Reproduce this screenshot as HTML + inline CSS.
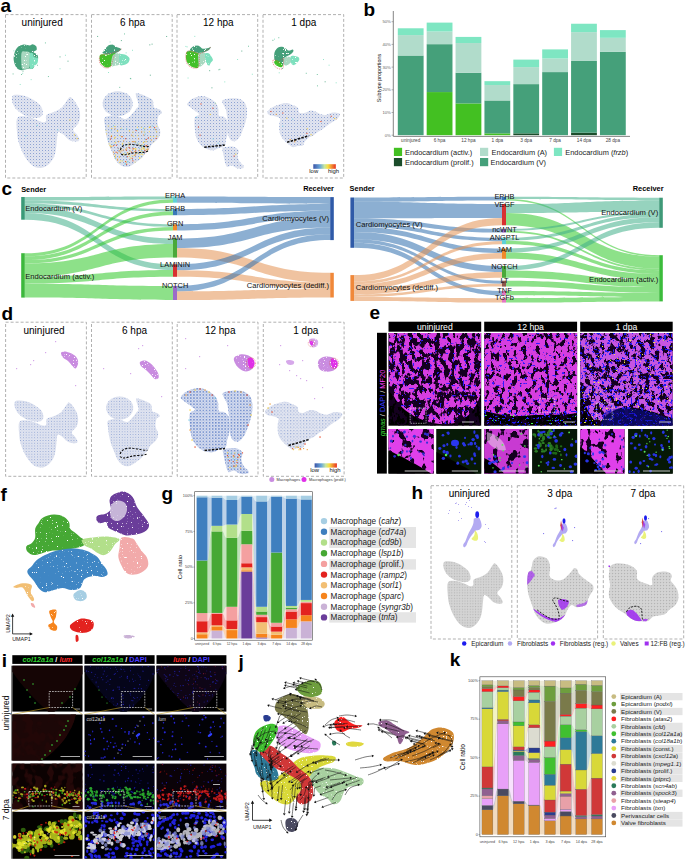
<!DOCTYPE html>
<html><head><meta charset="utf-8"><title>Figure</title>
<style>
html,body{margin:0;padding:0;background:#fff;}
body{width:685px;height:861px;overflow:hidden;}
svg{display:block;font-family:"Liberation Sans",sans-serif;}
</style></head><body>
<svg width="685" height="861" viewBox="0 0 685 861">
<defs><filter id="speck2" x="-5%" y="-5%" width="110%" height="110%" color-interpolation-filters="sRGB"><feTurbulence type="fractalNoise" baseFrequency="0.9" numOctaves="1" seed="9" result="n"/><feColorMatrix in="n" type="matrix" values="0 0 0 0 0  0 0 0 0 0  0 0 0 0 0  -14 0 0 0 10.1" result="m"/><feComposite in="SourceGraphic" in2="m" operator="in"/></filter>
<pattern id="hb" width="3" height="3" patternUnits="userSpaceOnUse"><rect width="3" height="3" fill="#e0e4f0"/><rect width="1" height="1" fill="#8ea2d2"/><rect x="1.5" y="1.5" width="0.8" height="0.8" fill="#bec8e2"/></pattern>
<pattern id="hb6" width="3" height="3" patternUnits="userSpaceOnUse"><rect width="3" height="3" fill="#dde2ee"/><rect width="1.1" height="1.1" fill="#86a0d4"/><rect x="1.5" y="1.5" width="0.8" height="0.8" fill="#bec8e2"/></pattern>
<pattern id="hg" width="3" height="3" patternUnits="userSpaceOnUse"><rect width="3" height="3" fill="#d2d2d2"/><rect width="1.1" height="1.1" fill="#b4b4b4"/><rect x="1.5" y="1.5" width="0.8" height="0.8" fill="#e2e2e2"/></pattern>
<linearGradient id="cbar"><stop offset="0" stop-color="#3b55a8"/><stop offset="0.3" stop-color="#6aa8d8"/><stop offset="0.5" stop-color="#c8e8a0"/><stop offset="0.65" stop-color="#f8e040"/><stop offset="1" stop-color="#e83020"/></linearGradient>
<clipPath id="clipU"><path d="M12.4,96.2 C13.03,94.92 14.12,94.75 16.2,94.7 C18.28,94.65 22.02,95.03 24.9,95.9 C27.78,96.77 30.92,98.3 33.5,99.9 C36.08,101.5 38.85,103.53 40.4,105.5 C41.95,107.47 42.6,109.95 42.8,111.7 C43,113.45 42.73,114.97 41.6,116 C40.47,117.03 38.78,118 36,117.9 C33.22,117.8 28.1,116.75 24.9,115.4 C21.7,114.05 18.88,111.97 16.8,109.8 C14.72,107.63 13.13,104.67 12.4,102.4 C11.67,100.13 11.77,97.48 12.4,96.2Z"/><path d="M17.4,117.9 C18.95,115.72 23.2,116.4 26.1,116.6 C29,116.8 32.12,118.17 34.8,119.1 C37.48,120.03 40.35,121.88 42.2,122.2 C44.05,122.52 45.17,122.23 45.9,121 C46.63,119.77 45.15,116.35 46.6,114.8 C48.05,113.25 52.02,112.95 54.6,111.7 C57.18,110.45 59.82,109.48 62.1,107.3 C64.38,105.12 66.85,100.28 68.3,98.6 C69.75,96.92 69.77,96.78 70.8,97.2 C71.83,97.62 73.17,99.2 74.5,101.1 C75.83,103 77.87,106.12 78.8,108.6 C79.73,111.08 80.2,113.52 80.1,116 C80,118.48 79.35,121.22 78.2,123.5 C77.05,125.78 73.4,127.85 73.2,129.7 C73,131.55 75.97,132.95 77,134.6 C78.03,136.25 79.4,138.45 79.4,139.6 C79.4,140.75 78.65,141.4 77,141.5 C75.35,141.6 71.78,141.35 69.5,140.2 C67.22,139.05 65.17,135.95 63.3,134.6 C61.43,133.25 59.33,131.48 58.3,132.1 C57.27,132.72 57.5,135.4 57.1,138.3 C56.7,141.2 56.52,146.18 55.9,149.5 C55.28,152.82 54.85,155.52 53.4,158.2 C51.95,160.88 49.48,163.95 47.2,165.6 C44.92,167.25 42.38,168.3 39.7,168.1 C37.02,167.9 33.78,166.67 31.1,164.4 C28.42,162.13 25.68,158.22 23.6,154.5 C21.52,150.78 19.73,146.23 18.6,142.1 C17.47,137.97 17,133.73 16.8,129.7 C16.6,125.67 15.85,120.08 17.4,117.9Z"/></clipPath>
<clipPath id="clip6"><ellipse cx="117.7" cy="103.7" rx="15" ry="12.5"/><path d="M104.8,117.7 C106.57,116.15 111.88,115.2 115.4,115.4 C118.92,115.6 122.98,119.3 125.9,118.9 C128.82,118.5 131.15,114.75 132.9,113 C134.65,111.25 135.43,109.75 136.4,108.4 C137.37,107.05 138.8,107.33 138.7,104.9 C138.6,102.47 135.4,95.57 135.8,93.8 C136.2,92.03 139.25,93.82 141.1,94.3 C142.95,94.78 144.97,95.72 146.9,96.7 C148.83,97.68 151.53,98.45 152.7,100.2 C153.87,101.95 152.73,105.65 153.9,107.2 C155.07,108.75 158.33,108.53 159.7,109.5 C161.07,110.47 162.28,112.02 162.1,113 C161.92,113.98 159.38,113.65 158.6,115.4 C157.82,117.15 157.12,120.78 157.4,123.5 C157.68,126.22 160.2,129.17 160.3,131.7 C160.4,134.23 159.45,136.55 158,138.7 C156.55,140.85 153.07,142.85 151.6,144.6 C150.13,146.35 150.18,147.85 149.2,149.2 C148.22,150.55 147.05,151.13 145.7,152.7 C144.35,154.27 143.23,156.65 141.1,158.6 C138.97,160.55 135.25,163.03 132.9,164.4 C130.55,165.77 128.95,166.6 127,166.8 C125.05,167 123.13,166.78 121.2,165.6 C119.27,164.42 116.95,162.03 115.4,159.7 C113.85,157.37 113.07,154.32 111.9,151.6 C110.73,148.88 109.38,146.33 108.4,143.4 C107.42,140.47 106.6,137.12 106,134 C105.4,130.88 105,127.42 104.8,124.7 C104.6,121.98 103.03,119.25 104.8,117.7Z"/></clipPath>
<clipPath id="clip12"><path d="M187.3,103.7 C187.88,102.53 189.65,100.27 192,99 C194.35,97.73 198.67,96.3 201.4,96.1 C204.13,95.9 206.07,96.73 208.4,97.8 C210.73,98.87 213.75,100.73 215.4,102.5 C217.05,104.27 217.72,106.25 218.3,108.4 C218.88,110.55 218.03,114.05 218.9,115.4 C219.77,116.75 222.15,115.73 223.5,116.5 C224.85,117.27 226.22,118.25 227,120 C227.78,121.75 228.1,124.67 228.2,127 C228.3,129.33 227.98,131.85 227.6,134 C227.22,136.15 226.38,137.95 225.9,139.9 C225.42,141.85 225.87,144.33 224.7,145.7 C223.53,147.07 220.85,147.32 218.9,148.1 C216.95,148.88 214.95,150.22 213,150.4 C211.05,150.58 209.13,149.98 207.2,149.2 C205.27,148.42 203.15,147.45 201.4,145.7 C199.65,143.95 197.78,141.42 196.7,138.7 C195.62,135.98 195.28,132.52 194.9,129.4 C194.52,126.28 194.3,122.15 194.4,120 C194.5,117.85 194.73,117.47 195.5,116.5 C196.27,115.53 199.38,115.37 199,114.2 C198.62,113.03 194.95,110.87 193.2,109.5 C191.45,108.13 189.48,106.97 188.5,106 C187.52,105.03 186.72,104.87 187.3,103.7Z"/><path d="M222.4,100.2 C223.47,99.32 226.68,98.63 229.4,98.4 C232.12,98.17 236.17,98.12 238.7,98.8 C241.23,99.48 243.23,100.72 244.6,102.5 C245.97,104.28 246.62,106.77 246.9,109.5 C247.18,112.23 246.88,115.78 246.3,118.9 C245.72,122.02 244.47,125.28 243.4,128.2 C242.33,131.12 241.27,134.25 239.9,136.4 C238.53,138.55 236.75,140.52 235.2,141.1 C233.65,141.68 231.77,141.08 230.6,139.9 C229.43,138.72 228.6,136.53 228.2,134 C227.8,131.47 228.4,127.62 228.2,124.7 C228,121.78 227.38,119.03 227,116.5 C226.62,113.97 226.57,111.63 225.9,109.5 C225.23,107.37 223.58,105.25 223,103.7 C222.42,102.15 221.33,101.08 222.4,100.2Z"/><path d="M222.4,148.1 C222.98,146.73 225.05,147.1 227,146.9 C228.95,146.7 232.15,146.32 234.1,146.9 C236.05,147.48 238.12,148.85 238.7,150.4 C239.28,151.95 237.4,154.25 237.6,156.2 C237.8,158.15 238.93,160.53 239.9,162.1 C240.87,163.67 242.82,164.63 243.4,165.6 C243.98,166.57 244.37,167.42 243.4,167.9 C242.43,168.38 239.55,168.88 237.6,168.5 C235.65,168.12 233.47,165.88 231.7,165.6 C229.93,165.32 228.17,167.58 227,166.8 C225.83,166.02 225.28,162.85 224.7,160.9 C224.12,158.95 223.88,157.23 223.5,155.1 C223.12,152.97 221.82,149.47 222.4,148.1Z"/></clipPath>
<clipPath id="clip1"><path d="M267.4,111.9 C267.8,110.7 269.5,108.98 271.6,107.7 C273.7,106.42 277.42,104.98 280,104.2 C282.58,103.42 284.92,102.82 287.1,103 C289.28,103.18 291.3,104.52 293.1,105.3 C294.9,106.08 296.9,106.5 297.9,107.7 C298.9,108.9 298.1,111.6 299.1,112.5 C300.1,113.4 302.1,113.4 303.9,113.1 C305.7,112.8 308.1,111 309.9,110.7 C311.7,110.4 313.1,110.8 314.7,111.3 C316.3,111.8 317.72,113.1 319.5,113.7 C321.28,114.3 323.22,115.1 325.4,114.9 C327.58,114.7 330.4,112.8 332.6,112.5 C334.8,112.2 337.4,112.6 338.6,113.1 C339.8,113.6 340.2,114.4 339.8,115.5 C339.4,116.6 337.8,118.4 336.2,119.7 C334.6,121 332.2,121.9 330.2,123.3 C328.2,124.7 326.18,126.7 324.2,128.1 C322.22,129.5 320.08,130.5 318.3,131.7 C316.52,132.9 315.1,134.3 313.5,135.3 C311.9,136.3 310.1,136.7 308.7,137.7 C307.3,138.7 306.1,140 305.1,141.3 C304.1,142.6 303.9,144.72 302.7,145.5 C301.5,146.28 299.5,145.72 297.9,146 C296.3,146.28 294.5,147.38 293.1,147.2 C291.7,147.02 290.7,145.78 289.5,144.9 C288.3,144.02 287.28,143.3 285.9,141.9 C284.52,140.5 282.28,138.4 281.2,136.5 C280.12,134.6 279.7,132.7 279.4,130.5 C279.1,128.3 279.3,125.3 279.4,123.3 C279.5,121.3 280.9,119.7 280,118.5 C279.1,117.3 275.8,116.7 274,116.1 C272.2,115.5 270.3,115.6 269.2,114.9 C268.1,114.2 267,113.1 267.4,111.9Z"/></clipPath>
<pattern id="hbd" width="3" height="3" patternUnits="userSpaceOnUse"><rect width="3" height="3" fill="#e0e4f0"/><rect width="1" height="1" fill="#93a6d4"/><rect x="1.5" y="1.5" width="0.8" height="0.8" fill="#c2cae4"/></pattern>
<pattern id="hbd12" width="2.6" height="2.6" patternUnits="userSpaceOnUse"><rect width="2.6" height="2.6" fill="#d4dbee"/><rect width="1.2" height="1.2" fill="#6f8ccc"/><rect x="1.4" y="1.4" width="0.8" height="0.8" fill="#a9bbe2"/></pattern>
<filter id="holes1" x="0" y="0" width="1" height="1" color-interpolation-filters="sRGB"><feTurbulence type="fractalNoise" baseFrequency="0.2 0.13" numOctaves="3" seed="3"/><feColorMatrix type="matrix" values="0 0 0 0 0.08  0 0 0 0 0  0 0 0 0 0.12  -16 0 0 0 8.5"/><feComposite in2="SourceGraphic" operator="in"/></filter>
<filter id="holes2" x="0" y="0" width="1" height="1" color-interpolation-filters="sRGB"><feTurbulence type="fractalNoise" baseFrequency="0.22 0.15" numOctaves="3" seed="8"/><feColorMatrix type="matrix" values="0 0 0 0 0.08  0 0 0 0 0  0 0 0 0 0.12  -16 0 0 0 7.3"/><feComposite in2="SourceGraphic" operator="in"/></filter>
<filter id="holes3" x="0" y="0" width="1" height="1" color-interpolation-filters="sRGB"><feTurbulence type="fractalNoise" baseFrequency="0.2 0.15" numOctaves="3" seed="5"/><feColorMatrix type="matrix" values="0 0 0 0 0.08  0 0 0 0 0  0 0 0 0 0.12  -16 0 0 0 7.9"/><feComposite in2="SourceGraphic" operator="in"/></filter>
<filter id="bdots" x="0" y="0" width="1" height="1" color-interpolation-filters="sRGB"><feTurbulence type="fractalNoise" baseFrequency="0.4" numOctaves="1" seed="11"/><feColorMatrix type="matrix" values="0 0 0 0 0.2  0 0 0 0 0.1  0 0 0 0 1  20 0 0 0 -13.0"/><feComposite in2="SourceGraphic" operator="in"/></filter>
<filter id="bdots2" x="0" y="0" width="1" height="1" color-interpolation-filters="sRGB"><feTurbulence type="fractalNoise" baseFrequency="0.45" numOctaves="1" seed="13"/><feColorMatrix type="matrix" values="0 0 0 0 0.1  0 0 0 0 0.1  0 0 0 0 0.95  25 0 0 0 -15.8"/><feComposite in2="SourceGraphic" operator="in"/></filter>
<filter id="gdots" x="0" y="0" width="1" height="1" color-interpolation-filters="sRGB"><feTurbulence type="fractalNoise" baseFrequency="0.6" numOctaves="1" seed="17"/><feColorMatrix type="matrix" values="0 0 0 0 0.3  0 0 0 0 1  0 0 0 0 0.3  25 0 0 0 -17.5"/><feComposite in2="SourceGraphic" operator="in"/></filter>
<filter id="ydots" x="0" y="0" width="1" height="1" color-interpolation-filters="sRGB"><feTurbulence type="fractalNoise" baseFrequency="0.5" numOctaves="1" seed="19"/><feColorMatrix type="matrix" values="0 0 0 0 0.95  0 0 0 0 0.95  0 0 0 0 0.2  25 0 0 0 -18"/><feComposite in2="SourceGraphic" operator="in"/></filter>
<filter id="wdots" x="0" y="0" width="1" height="1" color-interpolation-filters="sRGB"><feTurbulence type="fractalNoise" baseFrequency="0.35" numOctaves="1" seed="23"/><feColorMatrix type="matrix" values="0 0 0 0 0.85  0 0 0 0 0.85  0 0 0 0 0.85  20 0 0 0 -12.8"/><feComposite in2="SourceGraphic" operator="in"/></filter>
<filter id="hl" x="0" y="0" width="1" height="1" color-interpolation-filters="sRGB"><feTurbulence type="fractalNoise" baseFrequency="0.05" numOctaves="2" seed="29"/><feColorMatrix type="matrix" values="0 0 0 0 1  0 0 0 0 0.7  0 0 0 0 1  1.2 0 0 0 -0.45"/><feComposite in2="SourceGraphic" operator="in"/></filter>
<filter id="holes_s" x="0" y="0" width="1" height="1" color-interpolation-filters="sRGB"><feTurbulence type="fractalNoise" baseFrequency="0.13 0.1" numOctaves="3" seed="41"/><feColorMatrix type="matrix" values="0 0 0 0 0.08  0 0 0 0 0  0 0 0 0 0.12  -16 0 0 0 6.9"/><feComposite in2="SourceGraphic" operator="in"/></filter>
<filter id="speck" x="-5%" y="-5%" width="110%" height="110%" color-interpolation-filters="sRGB"><feTurbulence type="fractalNoise" baseFrequency="0.8" numOctaves="1" seed="4" result="n"/><feColorMatrix in="n" type="matrix" values="0 0 0 0 0  0 0 0 0 0  0 0 0 0 0  -14 0 0 0 10.4" result="m"/><feComposite in="SourceGraphic" in2="m" operator="in"/></filter>
<filter id="rtex" x="0" y="0" width="1" height="1" color-interpolation-filters="sRGB"><feTurbulence type="fractalNoise" baseFrequency="0.12 0.09" numOctaves="2" seed="31"/><feColorMatrix type="matrix" values="0 0 0 0 0.14  0 0 0 0 0.03  0 0 0 0 0.03  -10 0 0 0 5.3"/><feComposite in2="SourceGraphic" operator="in"/></filter>
<filter id="rtex2" x="0" y="0" width="1" height="1" color-interpolation-filters="sRGB"><feTurbulence type="fractalNoise" baseFrequency="0.12 0.09" numOctaves="2" seed="32"/><feColorMatrix type="matrix" values="0 0 0 0 0.14  0 0 0 0 0.03  0 0 0 0 0.03  -10 0 0 0 5.3"/><feComposite in2="SourceGraphic" operator="in"/></filter></defs>
<text x="0.5" y="12.2" font-size="19" fill="#000" text-anchor="start" font-weight="bold" >a</text>
<rect x="5.5" y="14.6" width="80.7" height="163.4" fill="none" stroke="#a8a8a8" stroke-width="0.9" stroke-dasharray="3 2"/>
<rect x="91.5" y="14.6" width="80.7" height="163.4" fill="none" stroke="#a8a8a8" stroke-width="0.9" stroke-dasharray="3 2"/>
<rect x="177" y="14.6" width="80.7" height="163.4" fill="none" stroke="#a8a8a8" stroke-width="0.9" stroke-dasharray="3 2"/>
<rect x="263" y="14.6" width="80.7" height="163.4" fill="none" stroke="#a8a8a8" stroke-width="0.9" stroke-dasharray="3 2"/>
<text x="21.6" y="25.6" font-size="10" fill="#000" text-anchor="start" >uninjured</text>
<text x="132.6" y="25.6" font-size="10" fill="#000" text-anchor="middle" >6 hpa</text>
<text x="218.3" y="25.6" font-size="10" fill="#000" text-anchor="middle" >12 hpa</text>
<text x="303.8" y="25.6" font-size="10" fill="#000" text-anchor="middle" >1 dpa</text>
<g transform="">
<path d="M12.4,96.2 C13.03,94.92 14.12,94.75 16.2,94.7 C18.28,94.65 22.02,95.03 24.9,95.9 C27.78,96.77 30.92,98.3 33.5,99.9 C36.08,101.5 38.85,103.53 40.4,105.5 C41.95,107.47 42.6,109.95 42.8,111.7 C43,113.45 42.73,114.97 41.6,116 C40.47,117.03 38.78,118 36,117.9 C33.22,117.8 28.1,116.75 24.9,115.4 C21.7,114.05 18.88,111.97 16.8,109.8 C14.72,107.63 13.13,104.67 12.4,102.4 C11.67,100.13 11.77,97.48 12.4,96.2Z" fill="url(#hb)" />
<path d="M17.4,117.9 C18.95,115.72 23.2,116.4 26.1,116.6 C29,116.8 32.12,118.17 34.8,119.1 C37.48,120.03 40.35,121.88 42.2,122.2 C44.05,122.52 45.17,122.23 45.9,121 C46.63,119.77 45.15,116.35 46.6,114.8 C48.05,113.25 52.02,112.95 54.6,111.7 C57.18,110.45 59.82,109.48 62.1,107.3 C64.38,105.12 66.85,100.28 68.3,98.6 C69.75,96.92 69.77,96.78 70.8,97.2 C71.83,97.62 73.17,99.2 74.5,101.1 C75.83,103 77.87,106.12 78.8,108.6 C79.73,111.08 80.2,113.52 80.1,116 C80,118.48 79.35,121.22 78.2,123.5 C77.05,125.78 73.4,127.85 73.2,129.7 C73,131.55 75.97,132.95 77,134.6 C78.03,136.25 79.4,138.45 79.4,139.6 C79.4,140.75 78.65,141.4 77,141.5 C75.35,141.6 71.78,141.35 69.5,140.2 C67.22,139.05 65.17,135.95 63.3,134.6 C61.43,133.25 59.33,131.48 58.3,132.1 C57.27,132.72 57.5,135.4 57.1,138.3 C56.7,141.2 56.52,146.18 55.9,149.5 C55.28,152.82 54.85,155.52 53.4,158.2 C51.95,160.88 49.48,163.95 47.2,165.6 C44.92,167.25 42.38,168.3 39.7,168.1 C37.02,167.9 33.78,166.67 31.1,164.4 C28.42,162.13 25.68,158.22 23.6,154.5 C21.52,150.78 19.73,146.23 18.6,142.1 C17.47,137.97 17,133.73 16.8,129.7 C16.6,125.67 15.85,120.08 17.4,117.9Z" fill="url(#hb)" />
</g>
<g transform="">
<ellipse cx="117.7" cy="103.7" rx="15" ry="12.5" fill="url(#hb6)"/>
<path d="M104.8,117.7 C106.57,116.15 111.88,115.2 115.4,115.4 C118.92,115.6 122.98,119.3 125.9,118.9 C128.82,118.5 131.15,114.75 132.9,113 C134.65,111.25 135.43,109.75 136.4,108.4 C137.37,107.05 138.8,107.33 138.7,104.9 C138.6,102.47 135.4,95.57 135.8,93.8 C136.2,92.03 139.25,93.82 141.1,94.3 C142.95,94.78 144.97,95.72 146.9,96.7 C148.83,97.68 151.53,98.45 152.7,100.2 C153.87,101.95 152.73,105.65 153.9,107.2 C155.07,108.75 158.33,108.53 159.7,109.5 C161.07,110.47 162.28,112.02 162.1,113 C161.92,113.98 159.38,113.65 158.6,115.4 C157.82,117.15 157.12,120.78 157.4,123.5 C157.68,126.22 160.2,129.17 160.3,131.7 C160.4,134.23 159.45,136.55 158,138.7 C156.55,140.85 153.07,142.85 151.6,144.6 C150.13,146.35 150.18,147.85 149.2,149.2 C148.22,150.55 147.05,151.13 145.7,152.7 C144.35,154.27 143.23,156.65 141.1,158.6 C138.97,160.55 135.25,163.03 132.9,164.4 C130.55,165.77 128.95,166.6 127,166.8 C125.05,167 123.13,166.78 121.2,165.6 C119.27,164.42 116.95,162.03 115.4,159.7 C113.85,157.37 113.07,154.32 111.9,151.6 C110.73,148.88 109.38,146.33 108.4,143.4 C107.42,140.47 106.6,137.12 106,134 C105.4,130.88 105,127.42 104.8,124.7 C104.6,121.98 103.03,119.25 104.8,117.7Z" fill="url(#hb6)" />
</g>
<g transform="">
<path d="M187.3,103.7 C187.88,102.53 189.65,100.27 192,99 C194.35,97.73 198.67,96.3 201.4,96.1 C204.13,95.9 206.07,96.73 208.4,97.8 C210.73,98.87 213.75,100.73 215.4,102.5 C217.05,104.27 217.72,106.25 218.3,108.4 C218.88,110.55 218.03,114.05 218.9,115.4 C219.77,116.75 222.15,115.73 223.5,116.5 C224.85,117.27 226.22,118.25 227,120 C227.78,121.75 228.1,124.67 228.2,127 C228.3,129.33 227.98,131.85 227.6,134 C227.22,136.15 226.38,137.95 225.9,139.9 C225.42,141.85 225.87,144.33 224.7,145.7 C223.53,147.07 220.85,147.32 218.9,148.1 C216.95,148.88 214.95,150.22 213,150.4 C211.05,150.58 209.13,149.98 207.2,149.2 C205.27,148.42 203.15,147.45 201.4,145.7 C199.65,143.95 197.78,141.42 196.7,138.7 C195.62,135.98 195.28,132.52 194.9,129.4 C194.52,126.28 194.3,122.15 194.4,120 C194.5,117.85 194.73,117.47 195.5,116.5 C196.27,115.53 199.38,115.37 199,114.2 C198.62,113.03 194.95,110.87 193.2,109.5 C191.45,108.13 189.48,106.97 188.5,106 C187.52,105.03 186.72,104.87 187.3,103.7Z" fill="url(#hb)" />
<path d="M222.4,100.2 C223.47,99.32 226.68,98.63 229.4,98.4 C232.12,98.17 236.17,98.12 238.7,98.8 C241.23,99.48 243.23,100.72 244.6,102.5 C245.97,104.28 246.62,106.77 246.9,109.5 C247.18,112.23 246.88,115.78 246.3,118.9 C245.72,122.02 244.47,125.28 243.4,128.2 C242.33,131.12 241.27,134.25 239.9,136.4 C238.53,138.55 236.75,140.52 235.2,141.1 C233.65,141.68 231.77,141.08 230.6,139.9 C229.43,138.72 228.6,136.53 228.2,134 C227.8,131.47 228.4,127.62 228.2,124.7 C228,121.78 227.38,119.03 227,116.5 C226.62,113.97 226.57,111.63 225.9,109.5 C225.23,107.37 223.58,105.25 223,103.7 C222.42,102.15 221.33,101.08 222.4,100.2Z" fill="url(#hb)" />
<path d="M222.4,148.1 C222.98,146.73 225.05,147.1 227,146.9 C228.95,146.7 232.15,146.32 234.1,146.9 C236.05,147.48 238.12,148.85 238.7,150.4 C239.28,151.95 237.4,154.25 237.6,156.2 C237.8,158.15 238.93,160.53 239.9,162.1 C240.87,163.67 242.82,164.63 243.4,165.6 C243.98,166.57 244.37,167.42 243.4,167.9 C242.43,168.38 239.55,168.88 237.6,168.5 C235.65,168.12 233.47,165.88 231.7,165.6 C229.93,165.32 228.17,167.58 227,166.8 C225.83,166.02 225.28,162.85 224.7,160.9 C224.12,158.95 223.88,157.23 223.5,155.1 C223.12,152.97 221.82,149.47 222.4,148.1Z" fill="url(#hb)" />
</g>
<g transform="">
<path d="M267.4,111.9 C267.8,110.7 269.5,108.98 271.6,107.7 C273.7,106.42 277.42,104.98 280,104.2 C282.58,103.42 284.92,102.82 287.1,103 C289.28,103.18 291.3,104.52 293.1,105.3 C294.9,106.08 296.9,106.5 297.9,107.7 C298.9,108.9 298.1,111.6 299.1,112.5 C300.1,113.4 302.1,113.4 303.9,113.1 C305.7,112.8 308.1,111 309.9,110.7 C311.7,110.4 313.1,110.8 314.7,111.3 C316.3,111.8 317.72,113.1 319.5,113.7 C321.28,114.3 323.22,115.1 325.4,114.9 C327.58,114.7 330.4,112.8 332.6,112.5 C334.8,112.2 337.4,112.6 338.6,113.1 C339.8,113.6 340.2,114.4 339.8,115.5 C339.4,116.6 337.8,118.4 336.2,119.7 C334.6,121 332.2,121.9 330.2,123.3 C328.2,124.7 326.18,126.7 324.2,128.1 C322.22,129.5 320.08,130.5 318.3,131.7 C316.52,132.9 315.1,134.3 313.5,135.3 C311.9,136.3 310.1,136.7 308.7,137.7 C307.3,138.7 306.1,140 305.1,141.3 C304.1,142.6 303.9,144.72 302.7,145.5 C301.5,146.28 299.5,145.72 297.9,146 C296.3,146.28 294.5,147.38 293.1,147.2 C291.7,147.02 290.7,145.78 289.5,144.9 C288.3,144.02 287.28,143.3 285.9,141.9 C284.52,140.5 282.28,138.4 281.2,136.5 C280.12,134.6 279.7,132.7 279.4,130.5 C279.1,128.3 279.3,125.3 279.4,123.3 C279.5,121.3 280.9,119.7 280,118.5 C279.1,117.3 275.8,116.7 274,116.1 C272.2,115.5 270.3,115.6 269.2,114.9 C268.1,114.2 267,113.1 267.4,111.9Z" fill="url(#hb)" />
</g>
<g clip-path="url(#clip6)"><rect x="117.8" y="147.86" width="1.1" height="1.1" fill="#e85030"/><rect x="157.12" y="144.91" width="1.1" height="1.1" fill="#7fd0e8"/><rect x="107.8" y="125.55" width="1.1" height="1.1" fill="#f8e070"/><rect x="119.04" y="134.84" width="1.1" height="1.1" fill="#f8e070"/><rect x="135.38" y="148.08" width="1.1" height="1.1" fill="#f8e070"/><rect x="141.07" y="131.33" width="1.1" height="1.1" fill="#f0a040"/><rect x="154.35" y="146.97" width="1.1" height="1.1" fill="#f5d040"/><rect x="142.94" y="127.69" width="1.1" height="1.1" fill="#7fd0e8"/><rect x="106.48" y="157.76" width="1.1" height="1.1" fill="#e85030"/><rect x="131.42" y="155.19" width="1.1" height="1.1" fill="#f8e070"/><rect x="145.42" y="163.69" width="1.1" height="1.1" fill="#f8e070"/><rect x="146.23" y="149.23" width="1.1" height="1.1" fill="#f0a040"/><rect x="154.97" y="129.09" width="1.1" height="1.1" fill="#f0a040"/><rect x="132.7" y="135.84" width="1.1" height="1.1" fill="#f8e070"/><rect x="149.18" y="160.92" width="1.1" height="1.1" fill="#f8e070"/><rect x="133.42" y="141.21" width="1.1" height="1.1" fill="#e85030"/><rect x="134.98" y="142.12" width="1.1" height="1.1" fill="#f0a040"/><rect x="156.44" y="153.64" width="1.1" height="1.1" fill="#f5d040"/><rect x="153.67" y="166.62" width="1.1" height="1.1" fill="#f0a040"/><rect x="144.52" y="138.71" width="1.1" height="1.1" fill="#7fd0e8"/><rect x="156.47" y="148.9" width="1.1" height="1.1" fill="#f0a040"/><rect x="140.71" y="166.5" width="1.1" height="1.1" fill="#e85030"/><rect x="120.53" y="127.67" width="1.1" height="1.1" fill="#f8e070"/><rect x="109.13" y="158.63" width="1.1" height="1.1" fill="#f8e070"/><rect x="156.03" y="125.85" width="1.1" height="1.1" fill="#f8e070"/><rect x="148.59" y="161.66" width="1.1" height="1.1" fill="#f5d040"/><rect x="139.09" y="156.99" width="1.1" height="1.1" fill="#f8e070"/><rect x="145.67" y="138.9" width="1.1" height="1.1" fill="#e85030"/><rect x="133.31" y="166.94" width="1.1" height="1.1" fill="#e85030"/><rect x="104.42" y="129.54" width="1.1" height="1.1" fill="#7fd0e8"/><rect x="105.82" y="133.29" width="1.1" height="1.1" fill="#f8e070"/><rect x="120.91" y="136.06" width="1.1" height="1.1" fill="#f5d040"/><rect x="160.83" y="139.27" width="1.1" height="1.1" fill="#e85030"/><rect x="159.6" y="162.66" width="1.1" height="1.1" fill="#f8e070"/><rect x="125.85" y="161.54" width="1.1" height="1.1" fill="#f8e070"/><rect x="141.35" y="150.02" width="1.1" height="1.1" fill="#7fd0e8"/><rect x="109.95" y="165.86" width="1.1" height="1.1" fill="#7fd0e8"/><rect x="119.74" y="151.64" width="1.1" height="1.1" fill="#f0a040"/><rect x="158.31" y="143.37" width="1.1" height="1.1" fill="#e85030"/><rect x="134.23" y="148.03" width="1.1" height="1.1" fill="#f5d040"/><rect x="149.73" y="166.47" width="1.1" height="1.1" fill="#e85030"/><rect x="105.16" y="150.86" width="1.1" height="1.1" fill="#f0a040"/><rect x="107.48" y="151.35" width="1.1" height="1.1" fill="#f8e070"/><rect x="124.47" y="163.53" width="1.1" height="1.1" fill="#7fd0e8"/><rect x="145" y="156" width="1.1" height="1.1" fill="#f5d040"/><rect x="138.18" y="165.1" width="1.1" height="1.1" fill="#f5d040"/><rect x="159.87" y="135.55" width="1.1" height="1.1" fill="#f8e070"/><rect x="121.32" y="150.26" width="1.1" height="1.1" fill="#f0a040"/><rect x="125.11" y="138.13" width="1.1" height="1.1" fill="#e85030"/><rect x="152.94" y="136.09" width="1.1" height="1.1" fill="#f8e070"/><rect x="110.08" y="159.15" width="1.1" height="1.1" fill="#7fd0e8"/><rect x="143.66" y="130.52" width="1.1" height="1.1" fill="#7fd0e8"/><rect x="116.91" y="158.76" width="1.1" height="1.1" fill="#f0a040"/><rect x="123.01" y="153.48" width="1.1" height="1.1" fill="#f5d040"/><rect x="109.91" y="138.52" width="1.1" height="1.1" fill="#e85030"/><rect x="143.15" y="134.43" width="1.1" height="1.1" fill="#f0a040"/><rect x="108.64" y="156.17" width="1.1" height="1.1" fill="#f0a040"/><rect x="155.32" y="143.95" width="1.1" height="1.1" fill="#f0a040"/><rect x="149.65" y="126.42" width="1.1" height="1.1" fill="#f0a040"/><rect x="122.28" y="160.12" width="1.1" height="1.1" fill="#7fd0e8"/><rect x="114.65" y="136.7" width="1.1" height="1.1" fill="#f5d040"/><rect x="150.76" y="139.5" width="1.1" height="1.1" fill="#f0a040"/><rect x="128.43" y="146.77" width="1.1" height="1.1" fill="#e85030"/><rect x="130.95" y="151.64" width="1.1" height="1.1" fill="#e85030"/><rect x="128.35" y="142.2" width="1.1" height="1.1" fill="#f8e070"/><rect x="113.05" y="125.2" width="1.1" height="1.1" fill="#7fd0e8"/><rect x="161.24" y="143.24" width="1.1" height="1.1" fill="#f0a040"/><rect x="105.87" y="144.18" width="1.1" height="1.1" fill="#7fd0e8"/><rect x="159.88" y="147.84" width="1.1" height="1.1" fill="#f0a040"/><rect x="153.97" y="161.04" width="1.1" height="1.1" fill="#e85030"/><rect x="110.96" y="135.27" width="1.1" height="1.1" fill="#f5d040"/><rect x="156.41" y="154.14" width="1.1" height="1.1" fill="#f0a040"/><rect x="156" y="162.79" width="1.1" height="1.1" fill="#7fd0e8"/><rect x="106.86" y="145.2" width="1.1" height="1.1" fill="#f5d040"/><rect x="113.97" y="137.6" width="1.1" height="1.1" fill="#f5d040"/><rect x="134.45" y="142.38" width="1.1" height="1.1" fill="#7fd0e8"/><rect x="110.59" y="130.27" width="1.1" height="1.1" fill="#7fd0e8"/><rect x="131.68" y="157.86" width="1.1" height="1.1" fill="#e85030"/><rect x="116.81" y="130.13" width="1.1" height="1.1" fill="#f5d040"/><rect x="113.94" y="158.25" width="1.1" height="1.1" fill="#f0a040"/><rect x="151.76" y="125.32" width="1.1" height="1.1" fill="#7fd0e8"/><rect x="154.03" y="127.1" width="1.1" height="1.1" fill="#e85030"/><rect x="118.4" y="150.96" width="1.1" height="1.1" fill="#7fd0e8"/><rect x="128.53" y="144.86" width="1.1" height="1.1" fill="#f5d040"/><rect x="153.71" y="157.56" width="1.1" height="1.1" fill="#f5d040"/><rect x="111.23" y="127.87" width="1.1" height="1.1" fill="#f5d040"/><rect x="153.56" y="128.62" width="1.1" height="1.1" fill="#7fd0e8"/><rect x="132.42" y="131.6" width="1.1" height="1.1" fill="#f5d040"/><rect x="124.37" y="152.17" width="1.1" height="1.1" fill="#7fd0e8"/><rect x="121.64" y="136.13" width="1.1" height="1.1" fill="#e85030"/><rect x="128.86" y="130.36" width="1.1" height="1.1" fill="#f5d040"/><rect x="145.53" y="140.97" width="1.1" height="1.1" fill="#f5d040"/><rect x="136.87" y="126.8" width="1.1" height="1.1" fill="#f8e070"/><rect x="139.06" y="157.87" width="1.1" height="1.1" fill="#f8e070"/><rect x="140.93" y="126.82" width="1.1" height="1.1" fill="#f8e070"/><rect x="107.08" y="151.35" width="1.1" height="1.1" fill="#e85030"/><rect x="128.39" y="154.15" width="1.1" height="1.1" fill="#f8e070"/><rect x="105.04" y="134.18" width="1.1" height="1.1" fill="#e85030"/><rect x="144.32" y="128.01" width="1.1" height="1.1" fill="#f8e070"/><rect x="117.02" y="130.48" width="1.1" height="1.1" fill="#f5d040"/><rect x="158.32" y="140.72" width="1.1" height="1.1" fill="#7fd0e8"/><rect x="149.87" y="136.01" width="1.1" height="1.1" fill="#f8e070"/><rect x="144.05" y="164.44" width="1.1" height="1.1" fill="#7fd0e8"/><rect x="149.96" y="153.04" width="1.1" height="1.1" fill="#e85030"/><rect x="136.7" y="129.33" width="1.1" height="1.1" fill="#7fd0e8"/><rect x="145.56" y="144.89" width="1.1" height="1.1" fill="#f0a040"/><rect x="148.91" y="126.86" width="1.1" height="1.1" fill="#f5d040"/><rect x="136.73" y="152.69" width="1.1" height="1.1" fill="#f8e070"/><rect x="114.39" y="125.99" width="1.1" height="1.1" fill="#f5d040"/><rect x="105.48" y="129.83" width="1.1" height="1.1" fill="#f8e070"/><rect x="152.5" y="165" width="1.1" height="1.1" fill="#7fd0e8"/><rect x="121.36" y="128.73" width="1.1" height="1.1" fill="#7fd0e8"/><rect x="133.66" y="155.04" width="1.1" height="1.1" fill="#f5d040"/><rect x="136.16" y="129.2" width="1.1" height="1.1" fill="#7fd0e8"/><rect x="107.55" y="138.62" width="1.1" height="1.1" fill="#7fd0e8"/><rect x="114.46" y="128.25" width="1.1" height="1.1" fill="#f0a040"/><rect x="141.47" y="144.07" width="1.1" height="1.1" fill="#f8e070"/><rect x="118.67" y="150.18" width="1.1" height="1.1" fill="#e85030"/><rect x="136.29" y="165.59" width="1.1" height="1.1" fill="#f8e070"/><rect x="133.02" y="165.87" width="1.1" height="1.1" fill="#f8e070"/><rect x="152.93" y="165.62" width="1.1" height="1.1" fill="#f8e070"/><rect x="144.07" y="156.76" width="1.1" height="1.1" fill="#7fd0e8"/><rect x="143.76" y="131.56" width="1.1" height="1.1" fill="#f8e070"/><rect x="156.05" y="131.27" width="1.1" height="1.1" fill="#f5d040"/><rect x="132.88" y="145.31" width="1.1" height="1.1" fill="#7fd0e8"/><rect x="159.14" y="149.63" width="1.1" height="1.1" fill="#f0a040"/><rect x="111.9" y="156.59" width="1.1" height="1.1" fill="#f0a040"/><rect x="137.97" y="138.22" width="1.1" height="1.1" fill="#f0a040"/><rect x="153.39" y="147.6" width="1.1" height="1.1" fill="#e85030"/><rect x="142.94" y="160.92" width="1.1" height="1.1" fill="#7fd0e8"/><rect x="153.51" y="149.56" width="1.1" height="1.1" fill="#e85030"/><rect x="155.59" y="137.9" width="1.1" height="1.1" fill="#e85030"/><rect x="131.81" y="141.08" width="1.1" height="1.1" fill="#f0a040"/><rect x="137.05" y="135.03" width="1.1" height="1.1" fill="#f8e070"/><rect x="148.9" y="131.03" width="1.1" height="1.1" fill="#f8e070"/><rect x="144.69" y="133.64" width="1.1" height="1.1" fill="#7fd0e8"/><rect x="152.41" y="159.51" width="1.1" height="1.1" fill="#7fd0e8"/><rect x="105.61" y="166.7" width="1.1" height="1.1" fill="#f5d040"/><rect x="153.69" y="141.81" width="1.1" height="1.1" fill="#f5d040"/><rect x="131.11" y="134.64" width="1.1" height="1.1" fill="#f0a040"/><rect x="141.6" y="157.65" width="1.1" height="1.1" fill="#f5d040"/><rect x="159.61" y="160.86" width="1.1" height="1.1" fill="#f0a040"/><rect x="155.63" y="157.58" width="1.1" height="1.1" fill="#f0a040"/><rect x="114.86" y="154.6" width="1.1" height="1.1" fill="#f5d040"/><rect x="156.19" y="135.71" width="1.1" height="1.1" fill="#f5d040"/><rect x="122.18" y="142.78" width="1.1" height="1.1" fill="#f5d040"/><rect x="110.84" y="136.1" width="1.1" height="1.1" fill="#e85030"/><rect x="106.1" y="144" width="1.1" height="1.1" fill="#e85030"/><rect x="104.4" y="139.06" width="1.1" height="1.1" fill="#f8e070"/><rect x="126.02" y="128.27" width="1.1" height="1.1" fill="#7fd0e8"/><rect x="147.06" y="145.58" width="1.1" height="1.1" fill="#f0a040"/><rect x="135.57" y="130.01" width="1.1" height="1.1" fill="#e85030"/><rect x="108.42" y="143.17" width="1.1" height="1.1" fill="#f8e070"/><rect x="155.46" y="163.17" width="1.1" height="1.1" fill="#f5d040"/><rect x="134.61" y="154.43" width="1.1" height="1.1" fill="#e85030"/><rect x="147.92" y="137.41" width="1.1" height="1.1" fill="#e85030"/><rect x="110.22" y="164.67" width="1.1" height="1.1" fill="#e85030"/><rect x="143.02" y="147.52" width="1.1" height="1.1" fill="#f5d040"/><rect x="142.68" y="146.36" width="1.1" height="1.1" fill="#f5d040"/><rect x="145.65" y="153.5" width="1.1" height="1.1" fill="#7fd0e8"/><rect x="130.24" y="157.07" width="1.1" height="1.1" fill="#f8e070"/><rect x="126.03" y="163.77" width="1.1" height="1.1" fill="#e85030"/><rect x="145.81" y="145.04" width="1.1" height="1.1" fill="#e85030"/><rect x="147.4" y="148.67" width="1.1" height="1.1" fill="#e85030"/><rect x="126.12" y="147.62" width="1.1" height="1.1" fill="#f5d040"/><rect x="117.86" y="148.35" width="1.1" height="1.1" fill="#7fd0e8"/><rect x="145.35" y="160.06" width="1.1" height="1.1" fill="#7fd0e8"/><rect x="141.5" y="147.57" width="1.1" height="1.1" fill="#f8e070"/><rect x="129.56" y="158.4" width="1.1" height="1.1" fill="#f5d040"/><rect x="143.77" y="148.62" width="1.1" height="1.1" fill="#f8e070"/><rect x="149.78" y="166.74" width="1.1" height="1.1" fill="#f5d040"/><rect x="138.49" y="143.33" width="1.1" height="1.1" fill="#f8e070"/><rect x="139.4" y="153.85" width="1.1" height="1.1" fill="#f8e070"/><rect x="104.29" y="154.17" width="1.1" height="1.1" fill="#f8e070"/><rect x="129.53" y="150.5" width="1.1" height="1.1" fill="#f5d040"/><rect x="144.44" y="149.84" width="1.1" height="1.1" fill="#e85030"/><rect x="143.19" y="141.71" width="1.1" height="1.1" fill="#f5d040"/><rect x="109.5" y="148.55" width="1.1" height="1.1" fill="#f5d040"/><rect x="122.86" y="149.4" width="1.1" height="1.1" fill="#f0a040"/><rect x="135.13" y="150.49" width="1.1" height="1.1" fill="#e85030"/><rect x="125.78" y="149.67" width="1.1" height="1.1" fill="#e85030"/><rect x="124.9" y="163.25" width="1.1" height="1.1" fill="#7fd0e8"/><rect x="107.23" y="152.99" width="1.1" height="1.1" fill="#7fd0e8"/><rect x="138.86" y="149.76" width="1.1" height="1.1" fill="#f0a040"/><rect x="104.68" y="154.64" width="1.1" height="1.1" fill="#7fd0e8"/><rect x="137.26" y="163.56" width="1.1" height="1.1" fill="#f0a040"/><rect x="145.85" y="159.69" width="1.1" height="1.1" fill="#7fd0e8"/><rect x="105.54" y="142.36" width="1.1" height="1.1" fill="#e85030"/><rect x="146.79" y="147.61" width="1.1" height="1.1" fill="#f8e070"/><rect x="123.41" y="153.69" width="1.1" height="1.1" fill="#f8e070"/><rect x="125.74" y="156.8" width="1.1" height="1.1" fill="#7fd0e8"/><rect x="121.84" y="160.49" width="1.1" height="1.1" fill="#f8e070"/><rect x="140.94" y="148.77" width="1.1" height="1.1" fill="#f5d040"/><rect x="148.07" y="164.7" width="1.1" height="1.1" fill="#f8e070"/><rect x="132.61" y="147.73" width="1.1" height="1.1" fill="#e85030"/><rect x="111.93" y="159.55" width="1.1" height="1.1" fill="#f8e070"/><rect x="142.24" y="151.72" width="1.1" height="1.1" fill="#f8e070"/><rect x="146.57" y="163.46" width="1.1" height="1.1" fill="#e85030"/><rect x="134.22" y="140.94" width="1.1" height="1.1" fill="#f5d040"/><rect x="114.48" y="142.49" width="1.1" height="1.1" fill="#f8e070"/><rect x="143" y="142.11" width="1.1" height="1.1" fill="#f5d040"/><rect x="113.14" y="145.09" width="1.1" height="1.1" fill="#e85030"/><rect x="107.29" y="165.01" width="1.1" height="1.1" fill="#f5d040"/><rect x="130.39" y="166.88" width="1.1" height="1.1" fill="#f8e070"/><rect x="104.31" y="165.36" width="1.1" height="1.1" fill="#7fd0e8"/><rect x="105.07" y="142.41" width="1.1" height="1.1" fill="#f0a040"/><rect x="125.02" y="161.07" width="1.1" height="1.1" fill="#e85030"/><rect x="139.91" y="161.37" width="1.1" height="1.1" fill="#f0a040"/><rect x="135.09" y="149.03" width="1.1" height="1.1" fill="#f5d040"/><rect x="140.77" y="160" width="1.1" height="1.1" fill="#f8e070"/><rect x="148.53" y="160.38" width="1.1" height="1.1" fill="#f5d040"/><rect x="141.04" y="153.44" width="1.1" height="1.1" fill="#f8e070"/><rect x="132.46" y="148.82" width="1.1" height="1.1" fill="#f0a040"/><rect x="137.07" y="142.64" width="1.1" height="1.1" fill="#7fd0e8"/><rect x="126.8" y="152.15" width="1.1" height="1.1" fill="#f0a040"/><rect x="143.91" y="154.25" width="1.1" height="1.1" fill="#f0a040"/><rect x="115.89" y="144.68" width="1.1" height="1.1" fill="#e85030"/><rect x="109.99" y="161.6" width="1.1" height="1.1" fill="#e85030"/><rect x="125.34" y="148.74" width="1.1" height="1.1" fill="#f0a040"/><rect x="104.33" y="140.64" width="1.1" height="1.1" fill="#f0a040"/><rect x="119.51" y="149.75" width="1.1" height="1.1" fill="#f8e070"/><rect x="114.92" y="156.59" width="1.1" height="1.1" fill="#f5d040"/><rect x="126.81" y="156.18" width="1.1" height="1.1" fill="#e85030"/><rect x="116.97" y="159.57" width="1.1" height="1.1" fill="#f0a040"/><rect x="139.06" y="147.72" width="1.1" height="1.1" fill="#7fd0e8"/><rect x="149" y="149.34" width="1.1" height="1.1" fill="#f5d040"/><rect x="141.78" y="145.07" width="1.1" height="1.1" fill="#7fd0e8"/><rect x="119.24" y="161.87" width="1.1" height="1.1" fill="#f5d040"/><rect x="143.2" y="158.16" width="1.1" height="1.1" fill="#f0a040"/><rect x="127.74" y="161.31" width="1.1" height="1.1" fill="#7fd0e8"/><rect x="132.35" y="160.3" width="1.1" height="1.1" fill="#e85030"/><rect x="126.9" y="161.04" width="1.1" height="1.1" fill="#7fd0e8"/><rect x="143.45" y="159.12" width="1.1" height="1.1" fill="#f8e070"/><rect x="137.59" y="164.5" width="1.1" height="1.1" fill="#7fd0e8"/><rect x="114.79" y="158.04" width="1.1" height="1.1" fill="#7fd0e8"/><rect x="140.85" y="151.99" width="1.1" height="1.1" fill="#7fd0e8"/><rect x="148.37" y="149.96" width="1.1" height="1.1" fill="#7fd0e8"/><rect x="111.28" y="145.9" width="1.1" height="1.1" fill="#f5d040"/><rect x="108.76" y="145.04" width="1.1" height="1.1" fill="#f8e070"/><rect x="125.93" y="144.73" width="1.1" height="1.1" fill="#7fd0e8"/><rect x="110.05" y="146.39" width="1.1" height="1.1" fill="#f0a040"/><rect x="147.55" y="151.18" width="1.1" height="1.1" fill="#f0a040"/><rect x="146.21" y="155.37" width="1.1" height="1.1" fill="#f5d040"/><rect x="140.55" y="150.75" width="1.1" height="1.1" fill="#f5d040"/><rect x="145.37" y="154.34" width="1.1" height="1.1" fill="#7fd0e8"/><rect x="104.16" y="142.61" width="1.1" height="1.1" fill="#7fd0e8"/><rect x="126.7" y="153.68" width="1.1" height="1.1" fill="#f8e070"/><rect x="112.28" y="166.48" width="1.1" height="1.1" fill="#7fd0e8"/><rect x="117.02" y="152.37" width="1.1" height="1.1" fill="#f0a040"/><rect x="123.06" y="140.38" width="1.1" height="1.1" fill="#f0a040"/><rect x="143.49" y="148.19" width="1.1" height="1.1" fill="#f5d040"/><rect x="146.73" y="163.64" width="1.1" height="1.1" fill="#f0a040"/><rect x="118.07" y="141.06" width="1.1" height="1.1" fill="#f0a040"/><rect x="115.59" y="151.72" width="1.1" height="1.1" fill="#e85030"/><rect x="146.94" y="149.47" width="1.1" height="1.1" fill="#f5d040"/><rect x="113.08" y="151.65" width="1.1" height="1.1" fill="#f0a040"/><rect x="129.17" y="147.57" width="1.1" height="1.1" fill="#e85030"/><rect x="148.63" y="155.93" width="1.1" height="1.1" fill="#f8e070"/><rect x="120.14" y="147.81" width="1.1" height="1.1" fill="#f5d040"/><rect x="112.42" y="153.9" width="1.1" height="1.1" fill="#f0a040"/><rect x="105.43" y="159.35" width="1.1" height="1.1" fill="#f5d040"/><rect x="141.91" y="153.99" width="1.1" height="1.1" fill="#f8e070"/><rect x="145.53" y="151.69" width="1.1" height="1.1" fill="#e85030"/><rect x="134.58" y="161.64" width="1.1" height="1.1" fill="#f8e070"/><rect x="115.19" y="141.68" width="1.1" height="1.1" fill="#f5d040"/><rect x="128.46" y="152.66" width="1.1" height="1.1" fill="#f5d040"/><rect x="115.93" y="166.68" width="1.1" height="1.1" fill="#f5d040"/><rect x="118.96" y="156.44" width="1.1" height="1.1" fill="#f0a040"/><rect x="121.83" y="143.92" width="1.1" height="1.1" fill="#f8e070"/><rect x="110.05" y="144.78" width="1.1" height="1.1" fill="#f8e070"/><rect x="120.15" y="160.25" width="1.1" height="1.1" fill="#f8e070"/><rect x="118.97" y="155.9" width="1.1" height="1.1" fill="#f8e070"/><rect x="111.28" y="165.55" width="1.1" height="1.1" fill="#7fd0e8"/><rect x="128.62" y="155.76" width="1.1" height="1.1" fill="#f8e070"/><rect x="112.42" y="144.05" width="1.1" height="1.1" fill="#7fd0e8"/><rect x="134.23" y="151.11" width="1.1" height="1.1" fill="#f0a040"/><rect x="148.41" y="163.43" width="1.1" height="1.1" fill="#e85030"/><rect x="111.59" y="154.37" width="1.1" height="1.1" fill="#f0a040"/><rect x="135.16" y="153.23" width="1.1" height="1.1" fill="#f5d040"/><rect x="104.54" y="157.08" width="1.1" height="1.1" fill="#f0a040"/></g>
<g clip-path="url(#clip12)"><rect x="200.4" y="103.43" width="1.1" height="1.1" fill="#e85030"/><rect x="215.21" y="102.49" width="1.1" height="1.1" fill="#f5d040"/><rect x="210.5" y="162.09" width="1.1" height="1.1" fill="#f5d040"/><rect x="199.54" y="134.64" width="1.1" height="1.1" fill="#e85030"/><rect x="233.56" y="155.53" width="1.1" height="1.1" fill="#e85030"/><rect x="199.08" y="162.78" width="1.1" height="1.1" fill="#7fd0e8"/><rect x="235.21" y="153.63" width="1.1" height="1.1" fill="#f5d040"/><rect x="196.05" y="116.85" width="1.1" height="1.1" fill="#7fd0e8"/><rect x="244.62" y="157.09" width="1.1" height="1.1" fill="#e85030"/><rect x="191.29" y="139.62" width="1.1" height="1.1" fill="#7fd0e8"/><rect x="209.66" y="113.92" width="1.1" height="1.1" fill="#f5d040"/><rect x="214.89" y="102.43" width="1.1" height="1.1" fill="#7fd0e8"/><rect x="237.27" y="96.52" width="1.1" height="1.1" fill="#e85030"/><rect x="220.91" y="159.53" width="1.1" height="1.1" fill="#7fd0e8"/><rect x="197.9" y="126.51" width="1.1" height="1.1" fill="#e85030"/><rect x="212.29" y="107.62" width="1.1" height="1.1" fill="#e85030"/><rect x="201.84" y="153.41" width="1.1" height="1.1" fill="#f5d040"/><rect x="188.83" y="141.1" width="1.1" height="1.1" fill="#e85030"/><rect x="217.65" y="142.66" width="1.1" height="1.1" fill="#7fd0e8"/><rect x="206.91" y="167.8" width="1.1" height="1.1" fill="#f5d040"/><rect x="190.05" y="161.77" width="1.1" height="1.1" fill="#7fd0e8"/><rect x="224.59" y="115.89" width="1.1" height="1.1" fill="#e85030"/><rect x="212.59" y="138.39" width="1.1" height="1.1" fill="#7fd0e8"/><rect x="220.07" y="161.11" width="1.1" height="1.1" fill="#f5d040"/><rect x="237.21" y="146.99" width="1.1" height="1.1" fill="#e85030"/></g>
<g clip-path="url(#clip1)"><rect x="312.47" y="135.64" width="1.1" height="1.1" fill="#f5d040"/><rect x="328.35" y="137.14" width="1.1" height="1.1" fill="#e85030"/><rect x="314.38" y="142.64" width="1.1" height="1.1" fill="#f5d040"/><rect x="294.14" y="141.21" width="1.1" height="1.1" fill="#f0a040"/><rect x="306.69" y="128.25" width="1.1" height="1.1" fill="#f5d040"/><rect x="320.38" y="120.96" width="1.1" height="1.1" fill="#e85030"/><rect x="333.89" y="136.69" width="1.1" height="1.1" fill="#e85030"/><rect x="322.62" y="106.16" width="1.1" height="1.1" fill="#f0a040"/><rect x="276.25" y="103.08" width="1.1" height="1.1" fill="#f5d040"/><rect x="282.29" y="112.48" width="1.1" height="1.1" fill="#e85030"/><rect x="330.69" y="115.73" width="1.1" height="1.1" fill="#e85030"/><rect x="306.36" y="132.82" width="1.1" height="1.1" fill="#e85030"/><rect x="280.26" y="145.62" width="1.1" height="1.1" fill="#e85030"/><rect x="337.56" y="142.32" width="1.1" height="1.1" fill="#7fd0e8"/><rect x="268.57" y="121.26" width="1.1" height="1.1" fill="#e85030"/><rect x="286.26" y="117.6" width="1.1" height="1.1" fill="#f5d040"/><rect x="310.51" y="134.14" width="1.1" height="1.1" fill="#f5d040"/><rect x="289.63" y="139.01" width="1.1" height="1.1" fill="#f0a040"/><rect x="317.84" y="111.13" width="1.1" height="1.1" fill="#f0a040"/><rect x="318.44" y="105.51" width="1.1" height="1.1" fill="#f5d040"/><rect x="336.29" y="118.74" width="1.1" height="1.1" fill="#f0a040"/><rect x="268.32" y="137.66" width="1.1" height="1.1" fill="#7fd0e8"/><rect x="294.47" y="140.01" width="1.1" height="1.1" fill="#f0a040"/><rect x="270.41" y="110.96" width="1.1" height="1.1" fill="#e85030"/><rect x="275.69" y="113.83" width="1.1" height="1.1" fill="#f0a040"/><rect x="292.14" y="118.61" width="1.1" height="1.1" fill="#7fd0e8"/><rect x="323.62" y="107.75" width="1.1" height="1.1" fill="#7fd0e8"/><rect x="329.76" y="104.61" width="1.1" height="1.1" fill="#f5d040"/><rect x="282.22" y="125.57" width="1.1" height="1.1" fill="#7fd0e8"/><rect x="334.02" y="117.96" width="1.1" height="1.1" fill="#f5d040"/></g>
<g clip-path="url(#clipU)"><rect x="65.95" y="155" width="1.1" height="1.1" fill="#7fd0e8"/><rect x="63.83" y="97.69" width="1.1" height="1.1" fill="#f5d040"/><rect x="57.07" y="129.33" width="1.1" height="1.1" fill="#7fd0e8"/><rect x="33.72" y="96.6" width="1.1" height="1.1" fill="#7fd0e8"/><rect x="66.53" y="148.28" width="1.1" height="1.1" fill="#7fd0e8"/><rect x="73.92" y="134.37" width="1.1" height="1.1" fill="#f5d040"/><rect x="25.12" y="135.41" width="1.1" height="1.1" fill="#7fd0e8"/><rect x="57.08" y="139.53" width="1.1" height="1.1" fill="#f5d040"/><rect x="69.41" y="119.5" width="1.1" height="1.1" fill="#f5d040"/><rect x="36.63" y="124.93" width="1.1" height="1.1" fill="#7fd0e8"/><rect x="42.27" y="101.85" width="1.1" height="1.1" fill="#f5d040"/><rect x="59.65" y="153.14" width="1.1" height="1.1" fill="#f5d040"/><rect x="76.69" y="137.97" width="1.1" height="1.1" fill="#f5d040"/><rect x="68.3" y="161.63" width="1.1" height="1.1" fill="#7fd0e8"/><rect x="75.43" y="161.39" width="1.1" height="1.1" fill="#f5d040"/></g>
<path d="M120.5,150 C121,145 128,143.5 133,144.5 C140,145.5 146,147 149,146.5 M148,151 C143,153.5 135,152 130,153.5 C126,155 122,156 120.5,153" fill="none" stroke="#111" stroke-width="1.1" stroke-dasharray="2.2 1.4"/>
<path d="M204.3,147.2 L224.7,145.1" stroke="#111" stroke-width="1.6" stroke-dasharray="2.5 1.2"/>
<path d="M287.1,142.2 L308.7,135.9" stroke="#111" stroke-width="1.6" stroke-dasharray="2.5 1.2"/>
<rect x="313.3" y="164.2" width="22.5" height="4.6" fill="url(#cbar)"/>
<text x="309.3" y="173.3" font-size="5.9" fill="#111" text-anchor="start" >low</text>
<text x="328" y="173.3" font-size="5.9" fill="#111" text-anchor="start" >high</text>
<g filter="url(#speck2)">
<path d="M17.4,47.4 C18.92,46 21.53,44.92 23.6,44.6 C25.67,44.28 28.35,45.55 29.8,45.5 C31.25,45.45 31.27,44.2 32.3,44.3 C33.33,44.4 35.28,45.17 36,46.1 C36.72,47.03 37.02,48.92 36.6,49.9 C36.18,50.88 33.35,51.15 33.5,52 C33.65,52.85 36.77,53.67 37.5,55 C38.23,56.33 38.32,58.5 37.9,60 C37.48,61.5 35.82,62.58 35,64 C34.18,65.42 34,67.75 33,68.5 C32,69.25 30.35,68.33 29,68.5 C27.65,68.67 26.4,69.25 24.9,69.5 C23.4,69.75 21.48,70.42 20,70 C18.52,69.58 17.05,68.67 16,67 C14.95,65.33 13.95,62.33 13.7,60 C13.45,57.67 13.88,55.1 14.5,53 C15.12,50.9 15.88,48.8 17.4,47.4Z" fill="#45a07a" />
<path d="M21.5,53 C22.17,50.25 24.58,51.5 26,51.5 C27.42,51.5 29.37,51.58 30,53 C30.63,54.42 29.88,57.67 29.8,60 C29.72,62.33 30.13,65.53 29.5,67 C28.87,68.47 27.25,68.63 26,68.8 C24.75,68.97 22.75,70.63 22,68 C21.25,65.37 20.83,55.75 21.5,53Z" fill="#a8d8c0" />
<path d="M29.8,54 C30.3,51.58 32.3,53 33,53.5 C33.7,54 33.2,56.25 34,57 C34.8,57.75 37.22,57 37.8,58 C38.38,59 37.97,61.75 37.5,63 C37.03,64.25 35.75,64.67 35,65.5 C34.25,66.33 33.83,67.58 33,68 C32.17,68.42 30.53,70.33 30,68 C29.47,65.67 29.3,56.42 29.8,54Z" fill="#7ee0be" />
</g>
<g filter="url(#speck2)">
<path d="M103.1,51.6 C103.78,50.43 105.73,47.57 107.2,46.4 C108.67,45.23 110.35,44.52 111.9,44.6 C113.45,44.68 114.95,46.12 116.5,46.9 C118.05,47.68 121.38,48.22 121.2,49.3 C121.02,50.38 117.35,52.53 115.4,53.4 C113.45,54.27 111.55,54.5 109.5,54.5 C107.45,54.5 104.17,53.88 103.1,53.4 C102.03,52.92 102.42,52.77 103.1,51.6Z" fill="#45a07a" />
<path d="M100.8,54.5 C102.45,53.72 107.07,54.68 109.5,54.5 C111.93,54.32 114.82,52.42 115.4,53.4 C115.98,54.38 113.78,58.27 113,60.4 C112.22,62.53 111.87,65.03 110.7,66.2 C109.53,67.37 107.57,67.78 106,67.4 C104.43,67.02 102.37,65.27 101.3,63.9 C100.23,62.53 99.68,60.77 99.6,59.2 C99.52,57.63 99.15,55.28 100.8,54.5Z" fill="#44c02a" />
<path d="M113,55.1 C114.45,53.07 118.63,52.92 120,53.4 C121.37,53.88 121.2,56.25 121.2,58 C121.2,59.75 120.97,62.63 120,63.9 C119.03,65.17 116.85,65.32 115.4,65.6 C113.95,65.88 111.7,67.35 111.3,65.6 C110.9,63.85 111.55,57.13 113,55.1Z" fill="#a8d8c0" />
<path d="M119.4,55.1 C120.18,53.43 123.03,54.02 124.7,54.5 C126.37,54.98 128.82,56.63 129.4,58 C129.98,59.37 129.18,61.53 128.2,62.7 C127.22,63.87 124.87,64.7 123.5,65 C122.13,65.3 120.68,66.15 120,64.5 C119.32,62.85 118.62,56.77 119.4,55.1Z" fill="#7ee0be" />
<path d="M189.9,50.1 C189.67,49.17 191.9,47.27 193.1,46.5 C194.3,45.73 196,45.5 197.1,45.5 C198.2,45.5 198.72,45.95 199.7,46.5 C200.68,47.05 201.57,48.53 203,48.8 C204.43,49.07 206.98,48.43 208.3,48.1 C209.62,47.77 210.8,46.47 210.9,46.8 C211,47.13 209.88,49.22 208.9,50.1 C207.92,50.98 206.53,51.55 205,52.1 C203.47,52.65 201.45,53.4 199.7,53.4 C197.95,53.4 196.13,52.65 194.5,52.1 C192.87,51.55 190.13,51.03 189.9,50.1Z" fill="#45a07a" />
<path d="M186.6,52.1 C187.27,51.02 188.58,50.8 189.9,50.8 C191.22,50.8 192.97,51.55 194.5,52.1 C196.03,52.65 198.33,52.57 199.1,54.1 C199.87,55.63 199.22,59.12 199.1,61.3 C198.98,63.48 198.95,66.1 198.4,67.2 C197.85,68.3 197,68.02 195.8,67.9 C194.6,67.78 192.63,67.38 191.2,66.5 C189.77,65.62 188.08,64.13 187.2,62.6 C186.32,61.07 186,59.05 185.9,57.3 C185.8,55.55 185.93,53.18 186.6,52.1Z" fill="#44c02a" />
<path d="M198.4,54.1 C199.17,51.9 202.38,52.6 203.7,52.7 C205.02,52.8 205.98,53.27 206.3,54.7 C206.62,56.13 206.27,59.55 205.6,61.3 C204.93,63.05 203.38,64.43 202.3,65.2 C201.22,65.97 199.75,67.75 199.1,65.9 C198.45,64.05 197.63,56.3 198.4,54.1Z" fill="#a8d8c0" />
<path d="M205,54.1 C205.43,52.57 207.82,52.97 208.9,53.4 C209.98,53.83 210.83,55.6 211.5,56.7 C212.17,57.8 213,59.02 212.9,60 C212.8,60.98 211.57,61.62 210.9,62.6 C210.23,63.58 209.67,65.9 208.9,65.9 C208.13,65.9 206.95,64.57 206.3,62.6 C205.65,60.63 204.57,55.63 205,54.1Z" fill="#7ee0be" />
<path d="M274.9,51.4 C275.55,49.98 276.9,48.27 278.1,47.5 C279.3,46.73 280.78,46.58 282.1,46.8 C283.42,47.02 284.9,48.13 286,48.8 C287.1,49.47 287.6,50.68 288.7,50.8 C289.8,50.92 291.83,49.4 292.6,49.5 C293.37,49.6 293.73,50.53 293.3,51.4 C292.87,52.27 291.22,53.82 290,54.7 C288.78,55.58 286.98,56.03 286,56.7 C285.02,57.37 284.53,57.5 284.1,58.7 C283.67,59.9 283.85,62.6 283.4,63.9 C282.95,65.2 282.28,66.28 281.4,66.5 C280.52,66.72 279.18,66.07 278.1,65.2 C277.02,64.33 275.55,62.83 274.9,61.3 C274.25,59.77 274.2,57.65 274.2,56 C274.2,54.35 274.25,52.82 274.9,51.4Z" fill="#45a07a" />
<path d="M274.2,61.3 C274.52,60.65 275.7,59.78 276.8,60 C277.9,60.22 279.82,61.73 280.8,62.6 C281.78,63.47 282.6,64.43 282.7,65.2 C282.8,65.97 282.17,66.98 281.4,67.2 C280.63,67.42 279.18,67.05 278.1,66.5 C277.02,65.95 275.55,64.77 274.9,63.9 C274.25,63.03 273.88,61.95 274.2,61.3Z" fill="#44c02a" />
<path d="M284.1,58 C284.98,57.02 287.5,56.58 288.7,56.7 C289.9,56.82 290.98,57.72 291.3,58.7 C291.62,59.68 291.27,61.52 290.6,62.6 C289.93,63.68 288.28,64.77 287.3,65.2 C286.32,65.63 285.35,65.63 284.7,65.2 C284.05,64.77 283.5,63.8 283.4,62.6 C283.3,61.4 283.22,58.98 284.1,58Z" fill="#a8d8c0" />
<path d="M290.6,56.7 C291.15,55.48 293.28,55.9 294.6,56 C295.92,56.1 297.73,56.63 298.5,57.3 C299.27,57.97 299.53,59 299.2,60 C298.87,61 297.38,62.43 296.5,63.3 C295.62,64.17 294.77,65.2 293.9,65.2 C293.03,65.2 291.85,64.72 291.3,63.3 C290.75,61.88 290.05,57.92 290.6,56.7Z" fill="#7ee0be" />
</g>
<path d="M121.5,49 C117,52 112,53.5 106,54 C102,54.5 99.5,56 99.3,59 C99.2,63 101,66.5 105,67.8 C108.5,68.5 110.5,67.2 111.2,66 C112,63 113.5,58 114.5,54.5" stroke="#e04848" stroke-width="0.6" stroke-dasharray="1 0.9" fill="none"/>
<path d="M210.8,47 C208,50 203,53 199,53.8 C195,52.5 190,50 187,51.5 C185.5,54 185.3,60 187,63.5 C189,67 193,68.5 196,68.3 C198.5,68 199.3,66 199.3,63 L199.2,54" stroke="#e04848" stroke-width="0.6" stroke-dasharray="1 0.9" fill="none"/>
<path d="M272.8,60.3 C272.5,64 274.5,67 278,68.5 C280.5,69.5 282.8,69.3 283.3,67.5 C283.6,64 283.5,61 283.6,58.3 M273.3,60.2 C275,59.5 277,60.5 278.5,62.5 C280,62 281,59.5 283.6,58.3" stroke="#e04848" stroke-width="0.6" stroke-dasharray="1 0.9" fill="none"/>
<rect x="22.55" y="70.63" width="0.9" height="0.9" fill="#45a07a" />
<rect x="30.69" y="79.22" width="0.9" height="0.9" fill="#7ee0be" />
<rect x="67.55" y="60.7" width="0.9" height="0.9" fill="#45a07a" />
<rect x="47.93" y="76.15" width="0.9" height="0.9" fill="#5ab890" />
<rect x="36.97" y="64.78" width="0.9" height="0.9" fill="#5ab890" />
<rect x="21.14" y="74.07" width="0.9" height="0.9" fill="#5ab890" />
<rect x="59.57" y="56.46" width="0.9" height="0.9" fill="#45a07a" />
<rect x="64.95" y="54.78" width="0.9" height="0.9" fill="#7ee0be" />
<rect x="13.38" y="50.42" width="0.9" height="0.9" fill="#7ee0be" />
<rect x="59.57" y="68.33" width="0.9" height="0.9" fill="#7ee0be" />
<rect x="12.63" y="73.5" width="0.9" height="0.9" fill="#5ab890" />
<rect x="19.74" y="83.96" width="0.9" height="0.9" fill="#7ee0be" />
<rect x="22.28" y="72.79" width="0.9" height="0.9" fill="#7ee0be" />
<rect x="44.93" y="42.47" width="0.9" height="0.9" fill="#5ab890" />
<rect x="129.9" y="77.93" width="0.9" height="0.9" fill="#5ab890" />
<rect x="151.62" y="43.68" width="0.9" height="0.9" fill="#45a07a" />
<rect x="149.84" y="74.72" width="0.9" height="0.9" fill="#45a07a" />
<rect x="166.22" y="35.97" width="0.9" height="0.9" fill="#45a07a" />
<rect x="130.34" y="78.31" width="0.9" height="0.9" fill="#5ab890" />
<rect x="120.89" y="40.18" width="0.9" height="0.9" fill="#45a07a" />
<rect x="125.67" y="52.45" width="0.9" height="0.9" fill="#7ee0be" />
<rect x="132.1" y="49.81" width="0.9" height="0.9" fill="#7ee0be" />
<rect x="124.06" y="33.5" width="0.9" height="0.9" fill="#5ab890" />
<rect x="108.13" y="72.1" width="0.9" height="0.9" fill="#7ee0be" />
<rect x="97.2" y="35.93" width="0.9" height="0.9" fill="#45a07a" />
<rect x="149.37" y="44.43" width="0.9" height="0.9" fill="#45a07a" />
<rect x="119.3" y="86.88" width="0.9" height="0.9" fill="#5ab890" />
<rect x="109.65" y="41.53" width="0.9" height="0.9" fill="#7ee0be" />
<rect x="241.36" y="50.61" width="0.9" height="0.9" fill="#45a07a" />
<rect x="248.08" y="45.76" width="0.9" height="0.9" fill="#5ab890" />
<rect x="187.6" y="77.57" width="0.9" height="0.9" fill="#7ee0be" />
<rect x="209.24" y="70.27" width="0.9" height="0.9" fill="#45a07a" />
<rect x="219.38" y="68.85" width="0.9" height="0.9" fill="#5ab890" />
<rect x="211.49" y="87.39" width="0.9" height="0.9" fill="#45a07a" />
<rect x="224.34" y="81.46" width="0.9" height="0.9" fill="#7ee0be" />
<rect x="218.43" y="69.35" width="0.9" height="0.9" fill="#5ab890" />
<rect x="194.36" y="35.88" width="0.9" height="0.9" fill="#7ee0be" />
<rect x="237.17" y="59.06" width="0.9" height="0.9" fill="#7ee0be" />
<rect x="186.65" y="46.45" width="0.9" height="0.9" fill="#7ee0be" />
<rect x="185.43" y="45.92" width="0.9" height="0.9" fill="#7ee0be" />
<rect x="187.86" y="50.93" width="0.9" height="0.9" fill="#5ab890" />
<rect x="251.84" y="73.77" width="0.9" height="0.9" fill="#7ee0be" />
<rect x="272.46" y="39.82" width="0.9" height="0.9" fill="#45a07a" />
<rect x="305.79" y="72.8" width="0.9" height="0.9" fill="#5ab890" />
<rect x="335.7" y="82.37" width="0.9" height="0.9" fill="#7ee0be" />
<rect x="324.67" y="81.36" width="0.9" height="0.9" fill="#45a07a" />
<rect x="323.09" y="59.13" width="0.9" height="0.9" fill="#7ee0be" />
<rect x="290.56" y="61.92" width="0.9" height="0.9" fill="#7ee0be" />
<rect x="278.75" y="72.36" width="0.9" height="0.9" fill="#7ee0be" />
<rect x="316.97" y="85.42" width="0.9" height="0.9" fill="#5ab890" />
<rect x="287.51" y="50.27" width="0.9" height="0.9" fill="#5ab890" />
<rect x="328.62" y="64.72" width="0.9" height="0.9" fill="#7ee0be" />
<rect x="316.82" y="74.09" width="0.9" height="0.9" fill="#5ab890" />
<rect x="278.35" y="37.31" width="0.9" height="0.9" fill="#5ab890" />
<rect x="282.07" y="67.94" width="0.9" height="0.9" fill="#5ab890" />
<rect x="274.03" y="38.67" width="0.9" height="0.9" fill="#7ee0be" />
<text x="363.5" y="15.8" font-size="19" fill="#000" text-anchor="start" font-weight="bold" >b</text>
<rect x="397.8" y="55.52" width="25.8" height="79.68" fill="#45a07a" />
<rect x="397.8" y="35.09" width="25.8" height="20.43" fill="#b1dccb" />
<rect x="397.8" y="28.28" width="25.8" height="6.81" fill="#7ee6c2" />
<text x="410.7" y="141.7" font-size="4.7" fill="#444" text-anchor="middle" >uninjured</text>
<rect x="426.68" y="92.07" width="25.8" height="43.13" fill="#43c022" />
<rect x="426.68" y="44.17" width="25.8" height="47.9" fill="#45a07a" />
<rect x="426.68" y="31.46" width="25.8" height="12.71" fill="#b1dccb" />
<rect x="426.68" y="22.61" width="25.8" height="8.85" fill="#7ee6c2" />
<text x="439.58" y="141.7" font-size="4.7" fill="#444" text-anchor="middle" >6 hpa</text>
<rect x="455.56" y="103.42" width="25.8" height="31.78" fill="#43c022" />
<rect x="455.56" y="72.77" width="25.8" height="30.64" fill="#45a07a" />
<rect x="455.56" y="43.04" width="25.8" height="29.74" fill="#b1dccb" />
<rect x="455.56" y="36.91" width="25.8" height="6.13" fill="#7ee6c2" />
<text x="468.46" y="141.7" font-size="4.7" fill="#444" text-anchor="middle" >12 hpa</text>
<rect x="484.44" y="133.38" width="25.8" height="1.82" fill="#43c022" />
<rect x="484.44" y="100.47" width="25.8" height="32.91" fill="#45a07a" />
<rect x="484.44" y="85.03" width="25.8" height="15.44" fill="#b1dccb" />
<rect x="484.44" y="81.17" width="25.8" height="3.86" fill="#7ee6c2" />
<text x="497.34" y="141.7" font-size="4.7" fill="#444" text-anchor="middle" >1 dpa</text>
<rect x="513.32" y="133.38" width="25.8" height="1.82" fill="#1b4d2b" />
<rect x="513.32" y="84.12" width="25.8" height="49.26" fill="#45a07a" />
<rect x="513.32" y="67.1" width="25.8" height="17.02" fill="#b1dccb" />
<rect x="513.32" y="59.61" width="25.8" height="7.49" fill="#7ee6c2" />
<text x="526.22" y="141.7" font-size="4.7" fill="#444" text-anchor="middle" >3 dpa</text>
<rect x="542.2" y="72.09" width="25.8" height="63.11" fill="#45a07a" />
<rect x="542.2" y="58.47" width="25.8" height="13.62" fill="#b1dccb" />
<rect x="542.2" y="49.39" width="25.8" height="9.08" fill="#7ee6c2" />
<text x="555.1" y="141.7" font-size="4.7" fill="#444" text-anchor="middle" >7 dpa</text>
<rect x="571.08" y="132.7" width="25.8" height="2.5" fill="#1b4d2b" />
<rect x="571.08" y="60.97" width="25.8" height="71.73" fill="#45a07a" />
<rect x="571.08" y="32.14" width="25.8" height="28.83" fill="#b1dccb" />
<rect x="571.08" y="23.74" width="25.8" height="8.4" fill="#7ee6c2" />
<text x="583.98" y="141.7" font-size="4.7" fill="#444" text-anchor="middle" >14 dpa</text>
<rect x="599.96" y="51.89" width="25.8" height="83.31" fill="#45a07a" />
<rect x="599.96" y="37.82" width="25.8" height="14.07" fill="#b1dccb" />
<rect x="599.96" y="30.1" width="25.8" height="7.72" fill="#7ee6c2" />
<text x="612.86" y="141.7" font-size="4.7" fill="#444" text-anchor="middle" >28 dpa</text>
<path d="M393.3,11 L393.3,136.4 L630,136.4" fill="none" stroke="#666" stroke-width="0.8"/>
<path d="M391.6,135.2 L393.3,135.2" stroke="#666" stroke-width="0.5"/>
<text x="390.8" y="136.7" font-size="4.2" fill="#666" text-anchor="end" >0%</text>
<path d="M391.6,112.5 L393.3,112.5" stroke="#666" stroke-width="0.5"/>
<text x="390.8" y="114" font-size="4.2" fill="#666" text-anchor="end" >10%</text>
<path d="M391.6,89.8 L393.3,89.8" stroke="#666" stroke-width="0.5"/>
<text x="390.8" y="91.3" font-size="4.2" fill="#666" text-anchor="end" >20%</text>
<path d="M391.6,67.1 L393.3,67.1" stroke="#666" stroke-width="0.5"/>
<text x="390.8" y="68.6" font-size="4.2" fill="#666" text-anchor="end" >30%</text>
<path d="M391.6,44.4 L393.3,44.4" stroke="#666" stroke-width="0.5"/>
<text x="390.8" y="45.9" font-size="4.2" fill="#666" text-anchor="end" >40%</text>
<path d="M391.6,21.7 L393.3,21.7" stroke="#666" stroke-width="0.5"/>
<text x="390.8" y="23.2" font-size="4.2" fill="#666" text-anchor="end" >50%</text>
<text x="0" y="0" font-size="5.4" fill="#222" text-anchor="middle" transform="translate(381.2,78) rotate(-90)">Subtype proportions</text>
<rect x="393.9" y="147.8" width="8.2" height="8.2" fill="#43c022" />
<text x="405" y="155.2" font-size="7.4" fill="#222" text-anchor="start" >Endocardium (activ.)</text>
<rect x="480" y="147.8" width="8.2" height="8.2" fill="#b1dccb" />
<text x="491.6" y="155.2" font-size="7.4" fill="#222" text-anchor="start" >Endocardium (A)</text>
<rect x="553.9" y="147.8" width="8.2" height="8.2" fill="#7ee6c2" />
<text x="565.3" y="155.2" font-size="7.4" fill="#222" text-anchor="start" >Endocardium (<tspan font-style="italic">frzb</tspan>)</text>
<rect x="393.9" y="158" width="8.2" height="8.2" fill="#1b4d2b" />
<text x="405" y="165.3" font-size="7.4" fill="#222" text-anchor="start" >Endocardium (prolif.)</text>
<rect x="480" y="158" width="8.2" height="8.2" fill="#45a07a" />
<text x="490.6" y="165.3" font-size="7.4" fill="#222" text-anchor="start" >Endocardium (V)</text>
<text x="1.5" y="195" font-size="19" fill="#000" text-anchor="start" font-weight="bold" >c</text>
<path d="M24.8,197 C98.9,197 98.9,196.4 173,196.4 L173,199.4 C98.9,199.4 98.9,200.51 24.8,200.51Z" fill="#3fae88" fill-opacity="0.55"/>
<path d="M24.8,200.51 C98.9,200.51 98.9,209 173,209 L173,211.5 C98.9,211.5 98.9,203.44 24.8,203.44Z" fill="#3fae88" fill-opacity="0.55"/>
<path d="M24.8,203.44 C98.9,203.44 98.9,224.3 173,224.3 L173,227 C98.9,227 98.9,206.59 24.8,206.59Z" fill="#3fae88" fill-opacity="0.55"/>
<path d="M24.8,206.59 C98.9,206.59 98.9,238.5 173,238.5 L173,244 C98.9,244 98.9,213.03 24.8,213.03Z" fill="#3fae88" fill-opacity="0.55"/>
<path d="M24.8,213.03 C98.9,213.03 98.9,264.3 173,264.3 L173,270 C98.9,270 98.9,219.7 24.8,219.7Z" fill="#3fae88" fill-opacity="0.55"/>
<path d="M24.8,253.2 C98.9,253.2 98.9,199.4 173,199.4 L173,202.7 C98.9,202.7 98.9,256.46 24.8,256.46Z" fill="#30c828" fill-opacity="0.55"/>
<path d="M24.8,256.46 C98.9,256.46 98.9,211.5 173,211.5 L173,215.2 C98.9,215.2 98.9,260.12 24.8,260.12Z" fill="#30c828" fill-opacity="0.55"/>
<path d="M24.8,260.12 C98.9,260.12 98.9,227 173,227 L173,230.4 C98.9,230.4 98.9,263.48 24.8,263.48Z" fill="#30c828" fill-opacity="0.55"/>
<path d="M24.8,263.48 C98.9,263.48 98.9,244 173,244 L173,257.6 C98.9,257.6 98.9,276.93 24.8,276.93Z" fill="#30c828" fill-opacity="0.55"/>
<path d="M24.8,276.93 C98.9,276.93 98.9,270 173,270 L173,276.8 C98.9,276.8 98.9,283.66 24.8,283.66Z" fill="#30c828" fill-opacity="0.55"/>
<path d="M24.8,283.66 C98.9,283.66 98.9,285.9 173,285.9 L173,300 C98.9,300 98.9,297.6 24.8,297.6Z" fill="#30c828" fill-opacity="0.55"/>
<path d="M177,196.4 C253.6,196.4 253.6,197.1 330.2,197.1 L330.2,203.94 C253.6,203.94 253.6,202.7 177,202.7Z" fill="#2e6ead" fill-opacity="0.55"/>
<path d="M177,209 C253.6,209 253.6,203.94 330.2,203.94 L330.2,210.67 C253.6,210.67 253.6,215.2 177,215.2Z" fill="#2e6ead" fill-opacity="0.55"/>
<path d="M177,224.3 C253.6,224.3 253.6,210.67 330.2,210.67 L330.2,217.3 C253.6,217.3 253.6,230.4 177,230.4Z" fill="#2e6ead" fill-opacity="0.55"/>
<path d="M177,238.5 C253.6,238.5 253.6,217.3 330.2,217.3 L330.2,227.61 C253.6,227.61 253.6,248 177,248Z" fill="#2e6ead" fill-opacity="0.55"/>
<path d="M177,248 C253.6,248 253.6,272.8 330.2,272.8 L330.2,282.4 C253.6,282.4 253.6,257.6 177,257.6Z" fill="#e49252" fill-opacity="0.55"/>
<path d="M177,264.3 C253.6,264.3 253.6,227.61 330.2,227.61 L330.2,234.13 C253.6,234.13 253.6,270.3 177,270.3Z" fill="#2e6ead" fill-opacity="0.55"/>
<path d="M177,270.3 C253.6,270.3 253.6,282.4 330.2,282.4 L330.2,288.9 C253.6,288.9 253.6,276.8 177,276.8Z" fill="#e49252" fill-opacity="0.55"/>
<path d="M177,285.9 C253.6,285.9 253.6,234.13 330.2,234.13 L330.2,240.1 C253.6,240.1 253.6,291.4 177,291.4Z" fill="#2e6ead" fill-opacity="0.55"/>
<path d="M177,291.4 C253.6,291.4 253.6,288.9 330.2,288.9 L330.2,297.5 C253.6,297.5 253.6,300 177,300Z" fill="#e49252" fill-opacity="0.55"/>
<rect x="21.2" y="197" width="3.6" height="22.7" fill="#3a9a78" />
<rect x="21.2" y="253.2" width="3.6" height="44.4" fill="#3cb83c" />
<rect x="173" y="196.4" width="4" height="6.3" fill="#5fd0d8" />
<rect x="173" y="209" width="4" height="6.2" fill="#3a78b8" />
<rect x="173" y="224.3" width="4" height="6.1" fill="#f08a2a" />
<rect x="173" y="238.5" width="4" height="19.1" fill="#4aa83a" />
<rect x="173" y="264.3" width="4" height="12.5" fill="#d83030" />
<rect x="173" y="285.9" width="4" height="14.1" fill="#9b6bc8" />
<rect x="330.2" y="197.1" width="3.6" height="43" fill="#2f5aa8" />
<rect x="330.2" y="272.8" width="3.6" height="24.7" fill="#f0883a" />
<text x="21.2" y="191.7" font-size="7.4" fill="#000" text-anchor="start" font-weight="bold" >Sender</text>
<text x="334" y="191.3" font-size="7.4" fill="#000" text-anchor="end" font-weight="bold" >Receiver</text>
<text x="25.3" y="210.8" font-size="7.6" fill="#111" text-anchor="start" >Endocardium (V)</text>
<text x="25.3" y="278.7" font-size="7.6" fill="#111" text-anchor="start" >Endocardium (activ.)</text>
<text x="329" y="220.5" font-size="7.6" fill="#111" text-anchor="end" >Cardiomyocytes (V)</text>
<text x="329" y="287.8" font-size="7.6" fill="#111" text-anchor="end" >Cardiomyocytes (dediff.)</text>
<text x="175.1" y="197.9" font-size="7.4" fill="#111" text-anchor="middle" >EPHA</text>
<text x="175.1" y="211.2" font-size="7.4" fill="#111" text-anchor="middle" >EPHB</text>
<text x="175.1" y="226.1" font-size="7.4" fill="#111" text-anchor="middle" >GRN</text>
<text x="175.1" y="240" font-size="7.4" fill="#111" text-anchor="middle" >JAM</text>
<text x="175.1" y="266.5" font-size="7.4" fill="#111" text-anchor="middle" >LAMININ</text>
<text x="175.1" y="288.1" font-size="7.4" fill="#111" text-anchor="middle" >NOTCH</text>
<path d="M354,197.5 C428,197.5 428,196.8 502,196.8 L502,200.4 C428,200.4 428,201.75 354,201.75Z" fill="#2e6ead" fill-opacity="0.55"/>
<path d="M354,201.75 C428,201.75 428,204 502,204 L502,218 C428,218 428,218.28 354,218.28Z" fill="#2e6ead" fill-opacity="0.55"/>
<path d="M354,218.28 C428,218.28 428,228.9 502,228.9 L502,232.6 C428,232.6 428,222.65 354,222.65Z" fill="#2e6ead" fill-opacity="0.55"/>
<path d="M354,222.65 C428,222.65 428,237.7 502,237.7 L502,241.2 C428,241.2 428,226.78 354,226.78Z" fill="#2e6ead" fill-opacity="0.55"/>
<path d="M354,226.78 C428,226.78 428,248.6 502,248.6 L502,253.1 C428,253.1 428,232.1 354,232.1Z" fill="#2e6ead" fill-opacity="0.55"/>
<path d="M354,232.1 C428,232.1 428,266 502,266 L502,272 C428,272 428,239.18 354,239.18Z" fill="#2e6ead" fill-opacity="0.55"/>
<path d="M354,239.18 C428,239.18 428,280.7 502,280.7 L502,283.7 C428,283.7 428,242.72 354,242.72Z" fill="#2e6ead" fill-opacity="0.55"/>
<path d="M354,242.72 C428,242.72 428,291 502,291 L502,295.3 C428,295.3 428,247.8 354,247.8Z" fill="#2e6ead" fill-opacity="0.55"/>
<path d="M354,275.1 C428,275.1 428,218 502,218 L502,225.3 C428,225.3 428,281.57 354,281.57Z" fill="#e49252" fill-opacity="0.55"/>
<path d="M354,281.57 C428,281.57 428,241.2 502,241.2 L502,244.2 C428,244.2 428,284.23 354,284.23Z" fill="#e49252" fill-opacity="0.55"/>
<path d="M354,284.23 C428,284.23 428,253.1 502,253.1 L502,258.8 C428,258.8 428,289.29 354,289.29Z" fill="#e49252" fill-opacity="0.55"/>
<path d="M354,289.29 C428,289.29 428,272 502,272 L502,277.8 C428,277.8 428,294.43 354,294.43Z" fill="#e49252" fill-opacity="0.55"/>
<path d="M354,294.43 C428,294.43 428,283.7 502,283.7 L502,286.6 C428,286.6 428,297 354,297Z" fill="#e49252" fill-opacity="0.55"/>
<path d="M354,297 C428,297 428,298.2 502,298.2 L502,302.6 C428,302.6 428,300.9 354,300.9Z" fill="#e49252" fill-opacity="0.55"/>
<path d="M506,196.8 C582.6,196.8 582.6,197.7 659.2,197.7 L659.2,200.4 C582.6,200.4 582.6,199 506,199Z" fill="#3fae88" fill-opacity="0.55"/>
<path d="M506,199 C582.6,199 582.6,255.2 659.2,255.2 L659.2,256.57 C582.6,256.57 582.6,200.4 506,200.4Z" fill="#30c828" fill-opacity="0.55"/>
<path d="M506,204 C582.6,204 582.6,200.4 659.2,200.4 L659.2,211.46 C582.6,211.46 582.6,213 506,213Z" fill="#3fae88" fill-opacity="0.55"/>
<path d="M506,213 C582.6,213 582.6,256.57 659.2,256.57 L659.2,268.61 C582.6,268.61 582.6,225.3 506,225.3Z" fill="#30c828" fill-opacity="0.55"/>
<path d="M506,228.9 C582.6,228.9 582.6,211.46 659.2,211.46 L659.2,213.67 C582.6,213.67 582.6,230.7 506,230.7Z" fill="#3fae88" fill-opacity="0.55"/>
<path d="M506,230.7 C582.6,230.7 582.6,268.61 659.2,268.61 L659.2,270.47 C582.6,270.47 582.6,232.6 506,232.6Z" fill="#30c828" fill-opacity="0.55"/>
<path d="M506,237.7 C582.6,237.7 582.6,213.67 659.2,213.67 L659.2,217.36 C582.6,217.36 582.6,240.7 506,240.7Z" fill="#3fae88" fill-opacity="0.55"/>
<path d="M506,240.7 C582.6,240.7 582.6,270.47 659.2,270.47 L659.2,273.9 C582.6,273.9 582.6,244.2 506,244.2Z" fill="#30c828" fill-opacity="0.55"/>
<path d="M506,248.6 C582.6,248.6 582.6,217.36 659.2,217.36 L659.2,222.27 C582.6,222.27 582.6,252.6 506,252.6Z" fill="#3fae88" fill-opacity="0.55"/>
<path d="M506,252.6 C582.6,252.6 582.6,273.9 659.2,273.9 L659.2,279.96 C582.6,279.96 582.6,258.8 506,258.8Z" fill="#30c828" fill-opacity="0.55"/>
<path d="M506,266 C582.6,266 582.6,222.27 659.2,222.27 L659.2,227.8 C582.6,227.8 582.6,270.5 506,270.5Z" fill="#3fae88" fill-opacity="0.55"/>
<path d="M506,270.5 C582.6,270.5 582.6,279.96 659.2,279.96 L659.2,287.11 C582.6,287.11 582.6,277.8 506,277.8Z" fill="#30c828" fill-opacity="0.55"/>
<path d="M506,280.7 C582.6,280.7 582.6,287.11 659.2,287.11 L659.2,292.88 C582.6,292.88 582.6,286.6 506,286.6Z" fill="#30c828" fill-opacity="0.55"/>
<path d="M506,291 C582.6,291 582.6,292.88 659.2,292.88 L659.2,297.09 C582.6,297.09 582.6,295.3 506,295.3Z" fill="#30c828" fill-opacity="0.55"/>
<path d="M506,298.2 C582.6,298.2 582.6,297.09 659.2,297.09 L659.2,301.4 C582.6,301.4 582.6,302.6 506,302.6Z" fill="#30c828" fill-opacity="0.55"/>
<rect x="350.4" y="197.5" width="3.6" height="50.3" fill="#2f5aa8" />
<rect x="350.4" y="275.1" width="3.6" height="25.8" fill="#f0883a" />
<rect x="502" y="196.8" width="4" height="3.6" fill="#3a78b8" />
<rect x="502" y="204" width="4" height="21.3" fill="#d83030" />
<rect x="502" y="228.9" width="4" height="3.7" fill="#9b6bc8" />
<rect x="502" y="237.7" width="4" height="6.5" fill="#5fd0d8" />
<rect x="502" y="248.6" width="4" height="10.2" fill="#f08a2a" />
<rect x="502" y="266" width="4" height="11.8" fill="#4aa83a" />
<rect x="502" y="280.7" width="4" height="5.9" fill="#8c564b" />
<rect x="502" y="291" width="4" height="4.3" fill="#e377c2" />
<rect x="502" y="298.2" width="4" height="4.4" fill="#e377c2" />
<rect x="659.2" y="197.7" width="3.6" height="30.1" fill="#3f9a78" />
<rect x="659.2" y="255.2" width="3.6" height="46.2" fill="#3cbc3c" />
<text x="349.6" y="190.8" font-size="7.4" fill="#000" text-anchor="start" font-weight="bold" >Sender</text>
<text x="663.6" y="190.8" font-size="7.4" fill="#000" text-anchor="end" font-weight="bold" >Receiver</text>
<text x="355.8" y="227.4" font-size="7.6" fill="#111" text-anchor="start" >Cardiomyocytes (V)</text>
<text x="355.8" y="289.9" font-size="7.6" fill="#111" text-anchor="start" >Cardiomyocytes (dediff.)</text>
<text x="658.2" y="215.2" font-size="7.6" fill="#111" text-anchor="end" >Endocardium (V)</text>
<text x="658.2" y="281.6" font-size="7.6" fill="#111" text-anchor="end" >Endocardium (activ.)</text>
<text x="504.5" y="198.6" font-size="7.4" fill="#111" text-anchor="middle" >EPHB</text>
<text x="504.5" y="207.1" font-size="7.4" fill="#111" text-anchor="middle" >VEGF</text>
<text x="504.5" y="231.9" font-size="7.4" fill="#111" text-anchor="middle" >ncWNT</text>
<text x="504.5" y="239.8" font-size="7.4" fill="#111" text-anchor="middle" >ANGPTL</text>
<text x="504.5" y="251.8" font-size="7.4" fill="#111" text-anchor="middle" >JAM</text>
<text x="504.5" y="268.7" font-size="7.4" fill="#111" text-anchor="middle" >NOTCH</text>
<text x="504.5" y="283.3" font-size="7.4" fill="#111" text-anchor="middle" >LT</text>
<text x="504.5" y="293.1" font-size="7.4" fill="#111" text-anchor="middle" >TNF</text>
<text x="504.5" y="300.1" font-size="7.4" fill="#111" text-anchor="middle" >TGFb</text>
<text x="1.5" y="319.5" font-size="19" fill="#000" text-anchor="start" font-weight="bold" >d</text>
<rect x="5.6" y="322.2" width="80.8" height="154.1" fill="none" stroke="#a8a8a8" stroke-width="0.9" stroke-dasharray="3 2"/>
<rect x="91.5" y="322.2" width="80.8" height="154.1" fill="none" stroke="#a8a8a8" stroke-width="0.9" stroke-dasharray="3 2"/>
<rect x="177.2" y="322.2" width="80.8" height="154.1" fill="none" stroke="#a8a8a8" stroke-width="0.9" stroke-dasharray="3 2"/>
<rect x="263.3" y="322.2" width="80.8" height="154.1" fill="none" stroke="#a8a8a8" stroke-width="0.9" stroke-dasharray="3 2"/>
<text x="23.5" y="333.9" font-size="10" fill="#000" text-anchor="start" >uninjured</text>
<text x="134.5" y="333.9" font-size="10" fill="#000" text-anchor="middle" >6 hpa</text>
<text x="220.2" y="333.9" font-size="10" fill="#000" text-anchor="middle" >12 hpa</text>
<text x="305.8" y="333.9" font-size="10" fill="#000" text-anchor="middle" >1 dpa</text>
<g transform="matrix(0.935,0,0,0.913,3.305999999999999,314.0389)">
<path d="M12.4,96.2 C13.03,94.92 14.12,94.75 16.2,94.7 C18.28,94.65 22.02,95.03 24.9,95.9 C27.78,96.77 30.92,98.3 33.5,99.9 C36.08,101.5 38.85,103.53 40.4,105.5 C41.95,107.47 42.6,109.95 42.8,111.7 C43,113.45 42.73,114.97 41.6,116 C40.47,117.03 38.78,118 36,117.9 C33.22,117.8 28.1,116.75 24.9,115.4 C21.7,114.05 18.88,111.97 16.8,109.8 C14.72,107.63 13.13,104.67 12.4,102.4 C11.67,100.13 11.77,97.48 12.4,96.2Z" fill="url(#hbd)" />
<path d="M17.4,117.9 C18.95,115.72 23.2,116.4 26.1,116.6 C29,116.8 32.12,118.17 34.8,119.1 C37.48,120.03 40.35,121.88 42.2,122.2 C44.05,122.52 45.17,122.23 45.9,121 C46.63,119.77 45.15,116.35 46.6,114.8 C48.05,113.25 52.02,112.95 54.6,111.7 C57.18,110.45 59.82,109.48 62.1,107.3 C64.38,105.12 66.85,100.28 68.3,98.6 C69.75,96.92 69.77,96.78 70.8,97.2 C71.83,97.62 73.17,99.2 74.5,101.1 C75.83,103 77.87,106.12 78.8,108.6 C79.73,111.08 80.2,113.52 80.1,116 C80,118.48 79.35,121.22 78.2,123.5 C77.05,125.78 73.4,127.85 73.2,129.7 C73,131.55 75.97,132.95 77,134.6 C78.03,136.25 79.4,138.45 79.4,139.6 C79.4,140.75 78.65,141.4 77,141.5 C75.35,141.6 71.78,141.35 69.5,140.2 C67.22,139.05 65.17,135.95 63.3,134.6 C61.43,133.25 59.33,131.48 58.3,132.1 C57.27,132.72 57.5,135.4 57.1,138.3 C56.7,141.2 56.52,146.18 55.9,149.5 C55.28,152.82 54.85,155.52 53.4,158.2 C51.95,160.88 49.48,163.95 47.2,165.6 C44.92,167.25 42.38,168.3 39.7,168.1 C37.02,167.9 33.78,166.67 31.1,164.4 C28.42,162.13 25.68,158.22 23.6,154.5 C21.52,150.78 19.73,146.23 18.6,142.1 C17.47,137.97 17,133.73 16.8,129.7 C16.6,125.67 15.85,120.08 17.4,117.9Z" fill="url(#hbd)" />
</g>
<g transform="matrix(0.903,0,0,0.922,13.387209999999996,312.39076)">
<ellipse cx="117.7" cy="103.7" rx="15" ry="12.5" fill="url(#hbd)"/>
<path d="M104.8,117.7 C106.57,116.15 111.88,115.2 115.4,115.4 C118.92,115.6 122.98,119.3 125.9,118.9 C128.82,118.5 131.15,114.75 132.9,113 C134.65,111.25 135.43,109.75 136.4,108.4 C137.37,107.05 138.8,107.33 138.7,104.9 C138.6,102.47 135.4,95.57 135.8,93.8 C136.2,92.03 139.25,93.82 141.1,94.3 C142.95,94.78 144.97,95.72 146.9,96.7 C148.83,97.68 151.53,98.45 152.7,100.2 C153.87,101.95 152.73,105.65 153.9,107.2 C155.07,108.75 158.33,108.53 159.7,109.5 C161.07,110.47 162.28,112.02 162.1,113 C161.92,113.98 159.38,113.65 158.6,115.4 C157.82,117.15 157.12,120.78 157.4,123.5 C157.68,126.22 160.2,129.17 160.3,131.7 C160.4,134.23 159.45,136.55 158,138.7 C156.55,140.85 153.07,142.85 151.6,144.6 C150.13,146.35 150.18,147.85 149.2,149.2 C148.22,150.55 147.05,151.13 145.7,152.7 C144.35,154.27 143.23,156.65 141.1,158.6 C138.97,160.55 135.25,163.03 132.9,164.4 C130.55,165.77 128.95,166.6 127,166.8 C125.05,167 123.13,166.78 121.2,165.6 C119.27,164.42 116.95,162.03 115.4,159.7 C113.85,157.37 113.07,154.32 111.9,151.6 C110.73,148.88 109.38,146.33 108.4,143.4 C107.42,140.47 106.6,137.12 106,134 C105.4,130.88 105,127.42 104.8,124.7 C104.6,121.98 103.03,119.25 104.8,117.7Z" fill="url(#hbd)" />
</g>
<g transform="matrix(1.2,0,0,1.19,-43.888000000000005,273.5729)">
<path d="M187.3,103.7 C187.88,102.53 189.65,100.27 192,99 C194.35,97.73 198.67,96.3 201.4,96.1 C204.13,95.9 206.07,96.73 208.4,97.8 C210.73,98.87 213.75,100.73 215.4,102.5 C217.05,104.27 217.72,106.25 218.3,108.4 C218.88,110.55 218.03,114.05 218.9,115.4 C219.77,116.75 222.15,115.73 223.5,116.5 C224.85,117.27 226.22,118.25 227,120 C227.78,121.75 228.1,124.67 228.2,127 C228.3,129.33 227.98,131.85 227.6,134 C227.22,136.15 226.38,137.95 225.9,139.9 C225.42,141.85 225.87,144.33 224.7,145.7 C223.53,147.07 220.85,147.32 218.9,148.1 C216.95,148.88 214.95,150.22 213,150.4 C211.05,150.58 209.13,149.98 207.2,149.2 C205.27,148.42 203.15,147.45 201.4,145.7 C199.65,143.95 197.78,141.42 196.7,138.7 C195.62,135.98 195.28,132.52 194.9,129.4 C194.52,126.28 194.3,122.15 194.4,120 C194.5,117.85 194.73,117.47 195.5,116.5 C196.27,115.53 199.38,115.37 199,114.2 C198.62,113.03 194.95,110.87 193.2,109.5 C191.45,108.13 189.48,106.97 188.5,106 C187.52,105.03 186.72,104.87 187.3,103.7Z" fill="url(#hbd12)" />
<path d="M222.4,100.2 C223.47,99.32 226.68,98.63 229.4,98.4 C232.12,98.17 236.17,98.12 238.7,98.8 C241.23,99.48 243.23,100.72 244.6,102.5 C245.97,104.28 246.62,106.77 246.9,109.5 C247.18,112.23 246.88,115.78 246.3,118.9 C245.72,122.02 244.47,125.28 243.4,128.2 C242.33,131.12 241.27,134.25 239.9,136.4 C238.53,138.55 236.75,140.52 235.2,141.1 C233.65,141.68 231.77,141.08 230.6,139.9 C229.43,138.72 228.6,136.53 228.2,134 C227.8,131.47 228.4,127.62 228.2,124.7 C228,121.78 227.38,119.03 227,116.5 C226.62,113.97 226.57,111.63 225.9,109.5 C225.23,107.37 223.58,105.25 223,103.7 C222.42,102.15 221.33,101.08 222.4,100.2Z" fill="url(#hbd12)" />
<path d="M222.4,148.1 C222.98,146.73 225.05,147.1 227,146.9 C228.95,146.7 232.15,146.32 234.1,146.9 C236.05,147.48 238.12,148.85 238.7,150.4 C239.28,151.95 237.4,154.25 237.6,156.2 C237.8,158.15 238.93,160.53 239.9,162.1 C240.87,163.67 242.82,164.63 243.4,165.6 C243.98,166.57 244.37,167.42 243.4,167.9 C242.43,168.38 239.55,168.88 237.6,168.5 C235.65,168.12 233.47,165.88 231.7,165.6 C229.93,165.32 228.17,167.58 227,166.8 C225.83,166.02 225.28,162.85 224.7,160.9 C224.12,158.95 223.88,157.23 223.5,155.1 C223.12,152.97 221.82,149.47 222.4,148.1Z" fill="url(#hbd12)" />
</g>
<g transform="matrix(1.066,0,0,1.08,-20.047739999999976,290.5632)">
<path d="M267.4,111.9 C267.8,110.7 269.5,108.98 271.6,107.7 C273.7,106.42 277.42,104.98 280,104.2 C282.58,103.42 284.92,102.82 287.1,103 C289.28,103.18 291.3,104.52 293.1,105.3 C294.9,106.08 296.9,106.5 297.9,107.7 C298.9,108.9 298.1,111.6 299.1,112.5 C300.1,113.4 302.1,113.4 303.9,113.1 C305.7,112.8 308.1,111 309.9,110.7 C311.7,110.4 313.1,110.8 314.7,111.3 C316.3,111.8 317.72,113.1 319.5,113.7 C321.28,114.3 323.22,115.1 325.4,114.9 C327.58,114.7 330.4,112.8 332.6,112.5 C334.8,112.2 337.4,112.6 338.6,113.1 C339.8,113.6 340.2,114.4 339.8,115.5 C339.4,116.6 337.8,118.4 336.2,119.7 C334.6,121 332.2,121.9 330.2,123.3 C328.2,124.7 326.18,126.7 324.2,128.1 C322.22,129.5 320.08,130.5 318.3,131.7 C316.52,132.9 315.1,134.3 313.5,135.3 C311.9,136.3 310.1,136.7 308.7,137.7 C307.3,138.7 306.1,140 305.1,141.3 C304.1,142.6 303.9,144.72 302.7,145.5 C301.5,146.28 299.5,145.72 297.9,146 C296.3,146.28 294.5,147.38 293.1,147.2 C291.7,147.02 290.7,145.78 289.5,144.9 C288.3,144.02 287.28,143.3 285.9,141.9 C284.52,140.5 282.28,138.4 281.2,136.5 C280.12,134.6 279.7,132.7 279.4,130.5 C279.1,128.3 279.3,125.3 279.4,123.3 C279.5,121.3 280.9,119.7 280,118.5 C279.1,117.3 275.8,116.7 274,116.1 C272.2,115.5 270.3,115.6 269.2,114.9 C268.1,114.2 267,113.1 267.4,111.9Z" fill="url(#hbd)" />
</g>
<path d="M120.3,454 C121,449 128,447.5 133,448.3 C139,449 144,450.5 147.5,450.2 M146.5,454.2 C142,456 135,455 130.5,456.5 C126,458 122,459 120.3,456.5" fill="none" stroke="#111" stroke-width="1.1" stroke-dasharray="2.2 1.4"/>
<path d="M204.5,450.5 L225,448.5" stroke="#111" stroke-width="1.4" stroke-dasharray="2.5 1.2"/>
<path d="M288.5,445.5 L309,439.5" stroke="#111" stroke-width="1.5" stroke-dasharray="2.5 1.2"/>
<rect x="233.24" y="460.96" width="1.1" height="1.1" fill="#7fd0e8"/><rect x="233.23" y="465.68" width="1.1" height="1.1" fill="#e85030"/><rect x="228.95" y="460.19" width="1.1" height="1.1" fill="#e85030"/><rect x="227.51" y="456.85" width="1.1" height="1.1" fill="#f5d040"/><rect x="234.62" y="466.25" width="1.1" height="1.1" fill="#f5d040"/><rect x="235.53" y="458.34" width="1.1" height="1.1" fill="#7fd0e8"/><rect x="236.46" y="461.85" width="1.1" height="1.1" fill="#e85030"/><rect x="235.97" y="465.31" width="1.1" height="1.1" fill="#f5d040"/><rect x="226.95" y="455.04" width="1.1" height="1.1" fill="#e85030"/><rect x="235.59" y="464.45" width="1.1" height="1.1" fill="#f0a040"/><rect x="233.05" y="465.48" width="1.1" height="1.1" fill="#e85030"/><rect x="236.24" y="460" width="1.1" height="1.1" fill="#f5d040"/><rect x="233.32" y="456.45" width="1.1" height="1.1" fill="#f5d040"/><rect x="237.32" y="457.04" width="1.1" height="1.1" fill="#e85030"/><rect x="234.21" y="452.48" width="1.1" height="1.1" fill="#f5d040"/><rect x="232.41" y="465.55" width="1.1" height="1.1" fill="#7fd0e8"/><rect x="227.07" y="452.27" width="1.1" height="1.1" fill="#f5d040"/><rect x="229.42" y="466.83" width="1.1" height="1.1" fill="#f5d040"/><rect x="233.52" y="467.69" width="1.1" height="1.1" fill="#7fd0e8"/><rect x="232.72" y="461.06" width="1.1" height="1.1" fill="#e85030"/><rect x="238.46" y="456.32" width="1.1" height="1.1" fill="#f5d040"/><rect x="230.98" y="452.24" width="1.1" height="1.1" fill="#7fd0e8"/><rect x="238.13" y="453.89" width="1.1" height="1.1" fill="#e85030"/><rect x="237.31" y="452.18" width="1.1" height="1.1" fill="#7fd0e8"/><rect x="238.75" y="454.84" width="1.1" height="1.1" fill="#e85030"/><rect x="233.16" y="455.05" width="1.1" height="1.1" fill="#e85030"/><rect x="232.71" y="458.14" width="1.1" height="1.1" fill="#7fd0e8"/><rect x="232.73" y="455.41" width="1.1" height="1.1" fill="#f0a040"/><rect x="239.83" y="467.6" width="1.1" height="1.1" fill="#f0a040"/><rect x="241.97" y="452.31" width="1.1" height="1.1" fill="#e85030"/>
<rect x="299.59" y="448.29" width="1.1" height="1.1" fill="#f0a040"/><rect x="297.6" y="446.91" width="1.1" height="1.1" fill="#e85030"/><rect x="299.72" y="448.22" width="1.1" height="1.1" fill="#e85030"/><rect x="303.05" y="448.01" width="1.1" height="1.1" fill="#f0a040"/><rect x="292.03" y="448.12" width="1.1" height="1.1" fill="#e85030"/><rect x="297.88" y="446.7" width="1.1" height="1.1" fill="#f5d040"/><rect x="292.94" y="449.09" width="1.1" height="1.1" fill="#f5d040"/><rect x="300.22" y="449.1" width="1.1" height="1.1" fill="#f0a040"/><rect x="298.47" y="449.21" width="1.1" height="1.1" fill="#f5d040"/><rect x="306.7" y="449.1" width="1.1" height="1.1" fill="#f0a040"/>
<rect x="314.6" y="463.3" width="22.3" height="4.3" fill="url(#cbar)"/>
<text x="310.2" y="472.3" font-size="5.9" fill="#111" text-anchor="start" >low</text>
<text x="329.4" y="472.3" font-size="5.9" fill="#111" text-anchor="start" >high</text>
<g filter="url(#speck2)">
<path d="M61,353 C61.17,352 62.67,351.58 64,351.5 C65.33,351.42 67.33,351.92 69,352.5 C70.67,353.08 72.58,353.92 74,355 C75.42,356.08 76.83,357.5 77.5,359 C78.17,360.5 78.33,362.42 78,364 C77.67,365.58 76.42,368.17 75.5,368.5 C74.58,368.83 73.75,367.25 72.5,366 C71.25,364.75 69.58,362.42 68,361 C66.42,359.58 64.17,358.83 63,357.5 C61.83,356.17 60.83,354 61,353Z" fill="#c98ce0" />
<path d="M140,362 C140.67,361.08 143.33,360.33 145,360.5 C146.67,360.67 148.5,361.92 150,363 C151.5,364.08 152.67,365.33 154,367 C155.33,368.67 157.25,371.17 158,373 C158.75,374.83 159,377 158.5,378 C158,379 156.25,379.5 155,379 C153.75,378.5 152.5,376.5 151,375 C149.5,373.5 147.67,371.5 146,370 C144.33,368.5 142,367.33 141,366 C140,364.67 139.33,362.92 140,362Z" fill="#c98ce0" />
<path d="M234,358 C234.75,356.42 237.83,355 240,354.5 C242.17,354 245,354.42 247,355 C249,355.58 250.75,356.67 252,358 C253.25,359.33 254.5,361.17 254.5,363 C254.5,364.83 253.42,367.58 252,369 C250.58,370.42 248,371.5 246,371.5 C244,371.5 241.75,370.25 240,369 C238.25,367.75 236.5,365.83 235.5,364 C234.5,362.17 233.25,359.58 234,358Z" fill="#c98ce0" />
<path d="M248,359 C248.5,357.5 250.92,357.33 252,358 C253.08,358.67 254.42,361.33 254.5,363 C254.58,364.67 253.42,367.33 252.5,368 C251.58,368.67 249.75,368.5 249,367 C248.25,365.5 247.5,360.5 248,359Z" fill="#e030e8" />
<ellipse cx="251" cy="363" rx="4.6" ry="5.3" fill="none" stroke="#e05050" stroke-width="0.6" stroke-dasharray="1 0.8"/>
<path d="M318,362 C318.42,360.08 320.33,358.42 322,357.5 C323.67,356.58 326,356.42 328,356.5 C330,356.58 332.42,357.08 334,358 C335.58,358.92 337,360.42 337.5,362 C338,363.58 337.92,366 337,367.5 C336.08,369 334,370.33 332,371 C330,371.67 327.08,371.83 325,371.5 C322.92,371.17 320.67,370.58 319.5,369 C318.33,367.42 317.58,363.92 318,362Z" fill="#c98ce0" />
<path d="M331,359 C331.5,357.75 333.92,358.83 335,359.5 C336.08,360.17 337.33,361.58 337.5,363 C337.67,364.42 336.92,367.33 336,368 C335.08,368.67 332.83,368.5 332,367 C331.17,365.5 330.5,360.25 331,359Z" fill="#e030e8" />
<ellipse cx="334" cy="363.3" rx="4.4" ry="5.2" fill="none" stroke="#e05050" stroke-width="0.6" stroke-dasharray="1 0.8"/>
<path d="M309,340 C309.33,338.58 312.5,338.33 314,338.5 C315.5,338.67 317.5,339.75 318,341 C318.5,342.25 318,345 317,346 C316,347 313.33,348 312,347 C310.67,346 308.67,341.42 309,340Z" fill="#d6a8ea" />
<path d="M309.5,342 C309.58,341.25 311.33,340.75 312,341 C312.67,341.25 313.58,342.75 313.5,343.5 C313.42,344.25 312.17,345.75 311.5,345.5 C310.83,345.25 309.42,342.75 309.5,342Z" fill="#e030e8" />
<ellipse cx="311.5" cy="343.5" rx="3.3" ry="3.3" fill="none" stroke="#e05050" stroke-width="0.5" stroke-dasharray="1 0.8"/>
<path d="M286,361 C286.33,360.25 288.67,359.92 290,360 C291.33,360.08 293.5,360.75 294,361.5 C294.5,362.25 294,364 293,364.5 C292,365 289.17,365.08 288,364.5 C286.83,363.92 285.67,361.75 286,361Z" fill="#d6a8ea" />
</g>
<rect x="55" y="341" width="1.2" height="1.2" fill="#d6a8ea" />
<rect x="68" y="356" width="1.2" height="1.2" fill="#d6a8ea" />
<rect x="30" y="364" width="1.2" height="1.2" fill="#d6a8ea" />
<rect x="33" y="360" width="1.2" height="1.2" fill="#d6a8ea" />
<rect x="16" y="368" width="1.2" height="1.2" fill="#d6a8ea" />
<rect x="45" y="352" width="1.2" height="1.2" fill="#d6a8ea" />
<rect x="75" y="385" width="1.2" height="1.2" fill="#d6a8ea" />
<rect x="138" y="348" width="1.2" height="1.2" fill="#d6a8ea" />
<rect x="142" y="345" width="1.2" height="1.2" fill="#d6a8ea" />
<rect x="103" y="368" width="1.2" height="1.2" fill="#d6a8ea" />
<rect x="130" y="373" width="1.2" height="1.2" fill="#d6a8ea" />
<rect x="161" y="396" width="1.2" height="1.2" fill="#d6a8ea" />
<rect x="185" y="338" width="1.2" height="1.2" fill="#d6a8ea" />
<rect x="199" y="356" width="1.2" height="1.2" fill="#d6a8ea" />
<rect x="185" y="368" width="1.2" height="1.2" fill="#d6a8ea" />
<rect x="227" y="345" width="1.2" height="1.2" fill="#d6a8ea" />
<rect x="280" y="345" width="1.2" height="1.2" fill="#d6a8ea" />
<rect x="289" y="370" width="1.2" height="1.2" fill="#d6a8ea" />
<rect x="296" y="375" width="1.2" height="1.2" fill="#d6a8ea" />
<rect x="300" y="378" width="1.2" height="1.2" fill="#d6a8ea" />
<rect x="306" y="380" width="1.2" height="1.2" fill="#d6a8ea" />
<rect x="314" y="398" width="1.2" height="1.2" fill="#d6a8ea" />
<rect x="302" y="360" width="1.2" height="1.2" fill="#d6a8ea" />
<rect x="279" y="364" width="1.2" height="1.2" fill="#d6a8ea" />
<rect x="322" y="387" width="1.2" height="1.2" fill="#d6a8ea" />
<circle cx="271.8" cy="479.6" r="2.5" fill="#c98ce0"/>
<text x="276.5" y="480.8" font-size="3.9" fill="#333" text-anchor="start" >Macrophages</text>
<circle cx="304" cy="479.6" r="2.5" fill="#e030e8"/>
<text x="309" y="480.9" font-size="3.9" fill="#333" text-anchor="start" >Macrophages (prolif.)</text>
<rect x="185.4" y="394.4" width="1.3" height="1.3" fill="#f0a040" />
<rect x="189.4" y="391.4" width="1.3" height="1.3" fill="#e85030" />
<rect x="194.4" y="389.4" width="1.3" height="1.3" fill="#f5d040" />
<rect x="199.4" y="388.4" width="1.3" height="1.3" fill="#e85030" />
<rect x="204.4" y="389.4" width="1.3" height="1.3" fill="#f0a040" />
<rect x="208.4" y="391.4" width="1.3" height="1.3" fill="#f5d040" />
<rect x="211.4" y="394.4" width="1.3" height="1.3" fill="#e85030" />
<rect x="214.4" y="397.4" width="1.3" height="1.3" fill="#7fd0e8" />
<rect x="189.4" y="409.4" width="1.3" height="1.3" fill="#f5d040" />
<rect x="188.4" y="419.4" width="1.3" height="1.3" fill="#7fd0e8" />
<rect x="189.4" y="429.4" width="1.3" height="1.3" fill="#f0a040" />
<rect x="191.4" y="439.4" width="1.3" height="1.3" fill="#f5d040" />
<rect x="194.4" y="446.4" width="1.3" height="1.3" fill="#e85030" />
<rect x="246.4" y="394.4" width="1.3" height="1.3" fill="#e85030" />
<rect x="249.4" y="404.4" width="1.3" height="1.3" fill="#f0a040" />
<rect x="250.4" y="414.4" width="1.3" height="1.3" fill="#f5d040" />
<rect x="247.4" y="424.4" width="1.3" height="1.3" fill="#e85030" />
<rect x="240.4" y="391.4" width="1.3" height="1.3" fill="#f0a040" />
<rect x="234.4" y="390.4" width="1.3" height="1.3" fill="#f5d040" />
<rect x="228.4" y="391.4" width="1.3" height="1.3" fill="#e85030" />
<rect x="269.4" y="403.4" width="1.3" height="1.3" fill="#f0a040" />
<rect x="267.4" y="407.4" width="1.3" height="1.3" fill="#f5d040" />
<rect x="271.4" y="411.4" width="1.3" height="1.3" fill="#e85030" />
<rect x="295.4" y="446.4" width="1.3" height="1.3" fill="#f5d040" />
<rect x="304.4" y="443.4" width="1.3" height="1.3" fill="#e85030" />
<rect x="319.4" y="436.4" width="1.3" height="1.3" fill="#e85030" />
<text x="369.5" y="318.8" font-size="19" fill="#000" text-anchor="start" font-weight="bold" >e</text>
<rect x="388.5" y="321.7" width="92.7" height="10" fill="#000" />
<text x="434.85" y="329.8" font-size="8.7" fill="#fff" text-anchor="middle" >uninjured</text>
<rect x="484.2" y="321.7" width="92.9" height="10" fill="#000" />
<text x="530.65" y="329.8" font-size="8.7" fill="#fff" text-anchor="middle" >12 hpa</text>
<rect x="580.2" y="321.7" width="92.5" height="10" fill="#000" />
<text x="626.45" y="329.8" font-size="8.7" fill="#fff" text-anchor="middle" >1 dpa</text>
<rect x="377" y="332.8" width="9.8" height="140.8" fill="#000" />
<text font-size="7.4" text-anchor="middle" transform="translate(384.6,403) rotate(-90)"><tspan fill="#3ddc3d" font-style="italic">gmas</tspan><tspan fill="#fff"> / </tspan><tspan fill="#3a3aff">DAPI</tspan><tspan fill="#fff"> / </tspan><tspan fill="#ff40ff">MF20</tspan></text>
<rect x="388.5" y="333" width="92.7" height="92.7" fill="#000" />
<clipPath id="ce1"><rect x="388.5" y="333" width="92.7" height="92.7"/></clipPath>
<g clip-path="url(#ce1)">
<path d="M388.5,333 L481.2,333 L481.2,392 C478,405 470,418 455,423 C440,426.5 420,422 405,410 C396,402 390,392 388.5,380 Z" fill="#d63ee0"/>
<rect x="388.5" y="333" width="92.7" height="92.7" fill="#000" filter="url(#holes1)"/>
<path d="M388.5,333 L481.2,333 L481.2,392 C478,405 470,418 455,423 C440,426.5 420,422 405,410 C396,402 390,392 388.5,380 Z" fill="#000" filter="url(#bdots)"/>
</g>
<rect x="484.2" y="333" width="92.9" height="92.7" fill="#000" />
<path d="M484.2,333 L577.1,333 L577.1,413 C560,416 540,414 520,416 C505,417 495,413 484.2,411 Z" fill="#d63ee0"/>
<rect x="484.2" y="333" width="92.9" height="92.7" fill="#000" filter="url(#holes2)"/>
<rect x="484.2" y="333" width="92.9" height="92.7" fill="#000" filter="url(#bdots)"/>
<rect x="484.2" y="411" width="92.9" height="14.7" fill="#000" filter="url(#gdots)"/>
<rect x="484.2" y="411" width="92.9" height="14.7" fill="#000" filter="url(#bdots2)"/>
<rect x="580.2" y="333" width="92.5" height="92.7" fill="#000" />
<path d="M580.2,333 L672.7,333 L672.7,418 C660,415 640,405 620,408 C608,412 602,420 598,424 C590,418 583,402 580.2,386 Z" fill="#c655e2"/>
<rect x="580.2" y="333" width="92.5" height="92.7" fill="#000" filter="url(#holes3)"/>
<rect x="580.2" y="333" width="92.5" height="92.7" fill="#000" filter="url(#bdots)"/>
<rect x="580.2" y="333" width="92.5" height="92.7" fill="#000" filter="url(#bdots2)"/>
<rect x="580.2" y="333" width="92.5" height="92.7" fill="#000" filter="url(#ydots)"/>
<path d="M605,412 C620,405 645,408 672.7,420 L672.7,425.7 L600,425.7 Z" fill="#1a10a0" filter="url(#bdots2)"/>
<path d="M605,412 C620,405 645,408 672.7,420 L672.7,425.7 L600,425.7 Z" fill="#1010a0" opacity="0.55"/>
<rect x="410.2" y="408.2" width="15.9" height="15.1" fill="none" stroke="#eee" stroke-width="0.6" stroke-dasharray="1.5 1"/>
<rect x="539.6" y="398.6" width="15" height="13.7" fill="none" stroke="#eee" stroke-width="0.6" stroke-dasharray="1.5 1"/>
<rect x="596.5" y="403" width="15.7" height="16.4" fill="none" stroke="#eee" stroke-width="0.6" stroke-dasharray="1.5 1"/>
<path d="M462,422 L474,422 M563,422 L575,422 M659,422 L671,422" stroke="#eee" stroke-width="0.8"/>
<rect x="388.5" y="429" width="45.3" height="44.6" fill="#000" />
<rect x="436.5" y="429" width="44.7" height="44.6" fill="#000" />
<rect x="484.2" y="429" width="44.4" height="44.6" fill="#000" />
<rect x="532.3" y="429" width="44.8" height="44.6" fill="#000" />
<rect x="580.2" y="429" width="44.4" height="44.6" fill="#000" />
<rect x="628.3" y="429" width="44.4" height="44.6" fill="#000" />
<clipPath id="cs0"><rect x="388.5" y="429" width="45.3" height="44.6"/></clipPath>
<clipPath id="cs1"><rect x="436.5" y="429" width="44.7" height="44.6"/></clipPath>
<clipPath id="cs2"><rect x="484.2" y="429" width="44.4" height="44.6"/></clipPath>
<clipPath id="cs3"><rect x="532.3" y="429" width="44.8" height="44.6"/></clipPath>
<clipPath id="cs4"><rect x="580.2" y="429" width="44.4" height="44.6"/></clipPath>
<clipPath id="cs5"><rect x="628.3" y="429" width="44.4" height="44.6"/></clipPath>
<path d="M388.5,429 L433.8,429 L433.8,473.6 L431,473.6 C420,466 400,456 388.5,450 Z" fill="#e040ea"/>
<g clip-path="url(#cs0)">
<rect x="388.5" y="429" width="45.3" height="44.6" fill="#000" filter="url(#holes_s)"/>
</g>
<path d="M388.5,451 C400,457 420,467 431,473.6 L388.5,473.6Z" fill="#000"/>
<g fill="#3030d8" opacity="0.95" clip-path="url(#cs0)"><ellipse cx="414.41" cy="436.23" rx="1.57" ry="1.54"/><ellipse cx="409.62" cy="451.23" rx="0.97" ry="0.98"/><ellipse cx="402.12" cy="452.16" rx="0.97" ry="1.58"/><ellipse cx="392.95" cy="436.19" rx="0.87" ry="1.42"/><ellipse cx="405.39" cy="445.09" rx="1.06" ry="1.31"/><ellipse cx="406.96" cy="436.66" rx="1.14" ry="1.04"/><ellipse cx="394.65" cy="456.35" rx="1.34" ry="1.33"/><ellipse cx="427.06" cy="442.63" rx="1.1" ry="1.14"/><ellipse cx="406.99" cy="451.41" rx="0.81" ry="1.17"/><ellipse cx="412.47" cy="441.06" rx="0.82" ry="1.36"/><ellipse cx="390.4" cy="448.06" rx="0.92" ry="0.83"/><ellipse cx="397.6" cy="432.1" rx="0.92" ry="1.35"/><ellipse cx="420.59" cy="441.61" rx="1.32" ry="1.18"/><ellipse cx="410.93" cy="458.03" rx="1.05" ry="1.5"/><ellipse cx="419.03" cy="451.87" rx="0.8" ry="0.87"/><ellipse cx="391.34" cy="441.06" rx="1.56" ry="1.5"/><ellipse cx="425.22" cy="433.8" rx="1.36" ry="1.42"/><ellipse cx="423.99" cy="455.35" rx="0.91" ry="0.94"/><ellipse cx="423.29" cy="453.62" rx="1.51" ry="1.16"/><ellipse cx="427.36" cy="434.46" rx="1.57" ry="1.51"/><ellipse cx="404.18" cy="432.16" rx="1.24" ry="1.35"/><ellipse cx="404.72" cy="431.84" rx="1.02" ry="1.46"/></g>
<circle cx="398.5" cy="455" r="1.2" fill="#50f050"/>
<rect x="436.5" y="429" width="44.7" height="44.6" fill="#071a07" />
<path d="M436.5,452 C448,458 465,467 476,473.6 L436.5,473.6Z" fill="#000"/>
<g fill="#2a36f0" opacity="0.95" clip-path="url(#cs1)"><ellipse cx="444.22" cy="451.56" rx="1.09" ry="1.68"/><ellipse cx="463.53" cy="443.45" rx="1.58" ry="1.52"/><ellipse cx="439.82" cy="448.55" rx="1.58" ry="1.47"/><ellipse cx="474.94" cy="455.74" rx="1.31" ry="1.15"/><ellipse cx="443.38" cy="458.36" rx="1.66" ry="1.57"/><ellipse cx="456.55" cy="447.54" rx="1.14" ry="1.48"/><ellipse cx="444.1" cy="451.74" rx="1.59" ry="1.64"/><ellipse cx="448.35" cy="433.22" rx="1.27" ry="1.66"/><ellipse cx="459.42" cy="456.17" rx="1.37" ry="1.34"/><ellipse cx="476.12" cy="435.85" rx="1.13" ry="1.55"/><ellipse cx="464.52" cy="445.15" rx="1.51" ry="1.38"/><ellipse cx="466.08" cy="461.11" rx="1.81" ry="1.6"/><ellipse cx="457.75" cy="463.16" rx="1.39" ry="1.59"/><ellipse cx="474.48" cy="453.92" rx="1.33" ry="1.72"/><ellipse cx="463.21" cy="462.02" rx="1.59" ry="1.49"/><ellipse cx="478.91" cy="448.47" rx="1.34" ry="1.93"/><ellipse cx="477.65" cy="436.02" rx="0.98" ry="1.84"/><ellipse cx="475.07" cy="443.46" rx="1.18" ry="1.65"/><ellipse cx="477.48" cy="437.46" rx="1.39" ry="1.63"/><ellipse cx="447.27" cy="444.52" rx="1.06" ry="1.43"/><ellipse cx="447.66" cy="432.82" rx="1.33" ry="1.07"/><ellipse cx="442.99" cy="435.27" rx="1.36" ry="1.25"/><ellipse cx="468.59" cy="444.5" rx="1.17" ry="1.11"/><ellipse cx="450.48" cy="456.02" rx="1.12" ry="1.41"/><ellipse cx="471.88" cy="459.04" rx="1.41" ry="1.83"/><ellipse cx="464.98" cy="437.94" rx="1" ry="1.09"/><ellipse cx="471.19" cy="443.64" rx="1.82" ry="1.96"/><ellipse cx="476.61" cy="446.42" rx="0.91" ry="1.2"/><ellipse cx="447.19" cy="452.72" rx="1.67" ry="1.91"/><ellipse cx="467.62" cy="463.59" rx="1.6" ry="1.42"/><ellipse cx="473.14" cy="439.59" rx="1.76" ry="1.7"/><ellipse cx="474.41" cy="432.11" rx="1.11" ry="1.94"/><ellipse cx="443.97" cy="445.79" rx="1.56" ry="1.43"/><ellipse cx="474.93" cy="463.44" rx="1.28" ry="1.05"/></g>
<ellipse cx="455" cy="443" rx="4" ry="3.2" fill="#2a36f0"/>
<circle cx="446" cy="455" r="1.2" fill="#50f050"/>
<rect x="484.2" y="429" width="44.4" height="44.6" fill="#c83ad2" />
<g clip-path="url(#cs2)">
<rect x="484.2" y="429" width="44.4" height="44.6" fill="#000" filter="url(#holes_s)"/>
<path d="M487,432 C495,434 505,440 506,450 C500,452 490,447 487,440Z" fill="#e8c8e8" opacity="0.6"/>
<path d="M484.2,458 C492,462 500,468 504,473.6 L484.2,473.6Z" fill="#000"/>
</g>
<g fill="#2a36f0" opacity="0.95" clip-path="url(#cs2)"><ellipse cx="527.12" cy="462.76" rx="1.48" ry="1.49"/><ellipse cx="495.03" cy="456.33" rx="1.38" ry="1"/><ellipse cx="502.05" cy="470.12" rx="1.6" ry="0.99"/><ellipse cx="489.45" cy="458.78" rx="1.56" ry="0.92"/><ellipse cx="495.46" cy="456.82" rx="1" ry="1.32"/><ellipse cx="493.7" cy="461.96" rx="1.49" ry="1.48"/><ellipse cx="503.43" cy="468.36" rx="1.36" ry="1.56"/><ellipse cx="496.45" cy="461.28" rx="1.36" ry="1.66"/><ellipse cx="511.97" cy="463.07" rx="1.1" ry="1.13"/><ellipse cx="495.06" cy="471.77" rx="1.61" ry="1.62"/><ellipse cx="508.2" cy="467.04" rx="1.14" ry="1.29"/><ellipse cx="492.11" cy="462.14" rx="1.1" ry="0.98"/><ellipse cx="524.62" cy="456.64" rx="1.55" ry="1.46"/><ellipse cx="489.78" cy="463.25" rx="1.7" ry="1.69"/></g>
<g fill="#50f050" opacity="0.95" clip-path="url(#cs2)"><ellipse cx="526.32" cy="466.87" rx="0.97" ry="0.71"/><ellipse cx="499.89" cy="460.55" rx="1" ry="0.61"/><ellipse cx="493" cy="467.82" rx="0.66" ry="0.93"/><ellipse cx="499.85" cy="457.82" rx="1.03" ry="0.89"/><ellipse cx="502.43" cy="444.89" rx="0.91" ry="0.91"/><ellipse cx="503.2" cy="450.65" rx="0.87" ry="0.73"/><ellipse cx="493.55" cy="454.74" rx="0.65" ry="0.9"/><ellipse cx="519.68" cy="465.12" rx="0.73" ry="0.81"/><ellipse cx="524.78" cy="446" rx="1.1" ry="0.7"/><ellipse cx="521.31" cy="433.64" rx="0.93" ry="1"/></g>
<rect x="532.3" y="429" width="44.8" height="44.6" fill="#061606" />
<g fill="#3aa030" opacity="0.75" clip-path="url(#cs3)"><ellipse cx="548.72" cy="434.68" rx="1.93" ry="1.39"/><ellipse cx="540.55" cy="443.58" rx="1" ry="1.03"/><ellipse cx="541.01" cy="435.05" rx="1.6" ry="1.3"/><ellipse cx="540.29" cy="436.11" rx="1.06" ry="1.66"/><ellipse cx="550.15" cy="437.71" rx="1.76" ry="1.18"/><ellipse cx="547.45" cy="435.25" rx="1.48" ry="1.29"/><ellipse cx="549.55" cy="446.75" rx="0.93" ry="0.92"/><ellipse cx="541.74" cy="434.74" rx="1.09" ry="1.94"/><ellipse cx="550.87" cy="430.38" rx="0.83" ry="1.55"/><ellipse cx="551" cy="449.55" rx="1.63" ry="1.69"/><ellipse cx="542.17" cy="440.77" rx="1.83" ry="0.93"/><ellipse cx="545.96" cy="445.83" rx="0.99" ry="1.72"/><ellipse cx="536.2" cy="451.3" rx="1.72" ry="1.35"/><ellipse cx="544.1" cy="451.43" rx="1.24" ry="1.04"/><ellipse cx="546.1" cy="449.87" rx="0.99" ry="1.72"/><ellipse cx="540.39" cy="445.12" rx="1.37" ry="1.94"/><ellipse cx="543.94" cy="451.27" rx="1.96" ry="0.95"/><ellipse cx="550.82" cy="446.68" rx="0.97" ry="1.49"/><ellipse cx="538.16" cy="431.04" rx="0.87" ry="1.24"/><ellipse cx="549.61" cy="431.6" rx="1.5" ry="1.85"/><ellipse cx="539.9" cy="445.81" rx="1.51" ry="1.71"/><ellipse cx="542.15" cy="451.59" rx="1.28" ry="1.05"/><ellipse cx="535.31" cy="435.65" rx="0.94" ry="1.93"/><ellipse cx="535.53" cy="448.49" rx="1.72" ry="1.36"/><ellipse cx="533.97" cy="434.45" rx="1.92" ry="1.3"/><ellipse cx="547.84" cy="432.75" rx="0.86" ry="1.23"/><ellipse cx="539.66" cy="434.52" rx="1.57" ry="1.49"/><ellipse cx="543.64" cy="436.94" rx="1.29" ry="1.12"/><ellipse cx="543.5" cy="438.55" rx="1.58" ry="1.96"/><ellipse cx="539.14" cy="443.03" rx="0.91" ry="1.8"/><ellipse cx="543.11" cy="443.05" rx="1.47" ry="0.94"/><ellipse cx="549.68" cy="430.25" rx="1.03" ry="1.38"/><ellipse cx="550.54" cy="445.38" rx="1.88" ry="1.21"/><ellipse cx="543.47" cy="443.2" rx="1.08" ry="0.91"/><ellipse cx="539.46" cy="431.92" rx="0.81" ry="1.01"/><ellipse cx="549.35" cy="443.5" rx="1.7" ry="1.49"/><ellipse cx="542.16" cy="449.55" rx="1.21" ry="1.11"/><ellipse cx="538.5" cy="431.63" rx="0.82" ry="1.13"/><ellipse cx="545.05" cy="434.31" rx="1.37" ry="1.15"/><ellipse cx="547.29" cy="435.26" rx="1.34" ry="1.7"/></g>
<g fill="#2a8a20" opacity="0.7" clip-path="url(#cs3)"><ellipse cx="555.77" cy="453.33" rx="1.42" ry="1.5"/><ellipse cx="560.83" cy="454.53" rx="0.96" ry="1.02"/><ellipse cx="555.46" cy="449.46" rx="1.76" ry="1.53"/><ellipse cx="555.62" cy="448.92" rx="1.03" ry="1.4"/><ellipse cx="561.09" cy="446.34" rx="1.25" ry="1.14"/><ellipse cx="557.31" cy="447.56" rx="0.87" ry="1.48"/><ellipse cx="553.68" cy="453.06" rx="1.71" ry="1.38"/><ellipse cx="560.95" cy="455.24" rx="0.86" ry="1.05"/><ellipse cx="557.95" cy="450.7" rx="0.8" ry="1.62"/><ellipse cx="557.8" cy="450.09" rx="1.32" ry="0.97"/><ellipse cx="556.6" cy="445.99" rx="1.46" ry="1.74"/><ellipse cx="552.59" cy="447.71" rx="1.38" ry="1.68"/></g>
<g fill="#2a36f0" opacity="0.95" clip-path="url(#cs3)"><ellipse cx="571.64" cy="445.01" rx="1.69" ry="1.85"/><ellipse cx="546.74" cy="463.04" rx="1.23" ry="1.06"/><ellipse cx="548.33" cy="462.3" rx="1.05" ry="1.56"/><ellipse cx="548.46" cy="437.27" rx="1.33" ry="1.29"/><ellipse cx="553.26" cy="467.89" rx="1.82" ry="1.13"/><ellipse cx="576.47" cy="456.32" rx="1.86" ry="1.72"/><ellipse cx="556.13" cy="440.79" rx="1.83" ry="1.9"/><ellipse cx="560.49" cy="435.01" rx="1.72" ry="1.67"/><ellipse cx="571.71" cy="471.98" rx="1.88" ry="1.64"/><ellipse cx="550.27" cy="452.88" rx="1.4" ry="1.66"/><ellipse cx="560.56" cy="465.52" rx="1.42" ry="1.49"/><ellipse cx="575.4" cy="464.05" rx="1.83" ry="1.6"/><ellipse cx="538.47" cy="448.01" rx="1.19" ry="1.16"/><ellipse cx="538.59" cy="434.75" rx="1.38" ry="1.68"/><ellipse cx="571.16" cy="471.61" rx="1.48" ry="0.91"/><ellipse cx="541.42" cy="432.46" rx="1.77" ry="1.22"/><ellipse cx="564.84" cy="449.4" rx="1.48" ry="1.75"/><ellipse cx="561.91" cy="433.22" rx="1.53" ry="1.26"/><ellipse cx="575.97" cy="441.51" rx="1.14" ry="1.82"/><ellipse cx="551.22" cy="433.56" rx="1.7" ry="1.82"/><ellipse cx="554.65" cy="437.19" rx="1.77" ry="1.24"/><ellipse cx="543.81" cy="431.88" rx="1.78" ry="1.14"/><ellipse cx="538.29" cy="445.65" rx="1.6" ry="1.9"/><ellipse cx="542.29" cy="456.55" rx="1.17" ry="1.76"/><ellipse cx="554.44" cy="459.4" rx="1.74" ry="1.43"/><ellipse cx="553.72" cy="430.41" rx="1.07" ry="1.59"/><ellipse cx="566.48" cy="454.84" rx="0.95" ry="1.65"/><ellipse cx="570.36" cy="466.81" rx="1.65" ry="1.56"/><ellipse cx="548.38" cy="445.57" rx="1.09" ry="1.54"/><ellipse cx="547.92" cy="464.81" rx="1.13" ry="1.16"/></g>
<g fill="#60f060" opacity="0.95" clip-path="url(#cs3)"><ellipse cx="564.27" cy="468.75" rx="0.51" ry="0.97"/><ellipse cx="569.12" cy="432.44" rx="0.9" ry="0.9"/><ellipse cx="541.26" cy="471.77" rx="0.68" ry="0.73"/><ellipse cx="561.77" cy="459.68" rx="0.87" ry="0.64"/><ellipse cx="554.3" cy="435.91" rx="0.64" ry="0.75"/><ellipse cx="536.28" cy="445" rx="0.91" ry="0.59"/><ellipse cx="552.07" cy="431.61" rx="0.87" ry="0.55"/><ellipse cx="541" cy="462.05" rx="0.72" ry="0.78"/><ellipse cx="559.8" cy="451.36" rx="0.71" ry="0.58"/><ellipse cx="539.26" cy="438.76" rx="0.62" ry="0.66"/><ellipse cx="572.24" cy="439.18" rx="0.57" ry="0.63"/><ellipse cx="538.8" cy="465.65" rx="0.98" ry="0.88"/></g>
<path d="M580.2,429 L624.6,429 L624.6,473.6 L606,473.6 C598,465 590,455 580.2,446 Z" fill="#e040ea"/>
<g clip-path="url(#cs4)">
<rect x="580.2" y="429" width="44.4" height="44.6" fill="#000" filter="url(#holes_s)"/>
</g>
<path d="M580.2,447 C590,456 598,465 606,473.6 L580.2,473.6Z" fill="#000"/>
<g fill="#2a36f0" opacity="0.95" clip-path="url(#cs4)"><ellipse cx="587.16" cy="461.11" rx="1.68" ry="1.43"/><ellipse cx="593.06" cy="454.03" rx="1.01" ry="1.7"/><ellipse cx="599.86" cy="452.5" rx="1.38" ry="1.47"/><ellipse cx="603.67" cy="453.29" rx="1.15" ry="1.05"/><ellipse cx="595.74" cy="469.97" rx="1.49" ry="1.01"/><ellipse cx="590.3" cy="447.99" rx="1.03" ry="1.29"/><ellipse cx="584.83" cy="453.03" rx="1.09" ry="1.24"/><ellipse cx="602.39" cy="452.12" rx="1.39" ry="1.22"/><ellipse cx="588.29" cy="453.76" rx="1.52" ry="1.57"/><ellipse cx="599.31" cy="469.11" rx="1.48" ry="1.14"/><ellipse cx="586.85" cy="460.73" rx="1.39" ry="1.53"/><ellipse cx="603.66" cy="466.74" rx="1.68" ry="1.44"/><ellipse cx="598.06" cy="466.78" rx="1.3" ry="1.54"/><ellipse cx="602.88" cy="459.32" rx="1.17" ry="1.2"/><ellipse cx="596.31" cy="460.72" rx="1.3" ry="1.21"/><ellipse cx="599.46" cy="463.8" rx="1.65" ry="1.67"/></g>
<g fill="#3030d8" opacity="0.9" clip-path="url(#cs4)"><ellipse cx="594.44" cy="462.99" rx="1.23" ry="0.93"/><ellipse cx="599.4" cy="439.44" rx="0.75" ry="0.83"/><ellipse cx="596.87" cy="464.45" rx="0.81" ry="0.81"/><ellipse cx="621.55" cy="466.85" rx="0.76" ry="0.89"/><ellipse cx="623.61" cy="446.84" rx="1.08" ry="1.11"/><ellipse cx="612" cy="434.1" rx="1.13" ry="1.19"/><ellipse cx="605.23" cy="445.14" rx="1.13" ry="1.29"/><ellipse cx="622.05" cy="439.66" rx="1.16" ry="0.99"/><ellipse cx="623.56" cy="468.88" rx="0.99" ry="1.24"/><ellipse cx="620.08" cy="436.24" rx="0.94" ry="1.27"/></g>
<rect x="628.3" y="429" width="44.4" height="44.6" fill="#061806" />
<g fill="#2a36f0" opacity="0.95" clip-path="url(#cs5)"><ellipse cx="641.02" cy="449.75" rx="1.39" ry="0.99"/><ellipse cx="650.6" cy="471.12" rx="1.41" ry="1.37"/><ellipse cx="662.97" cy="449.39" rx="1.15" ry="1.66"/><ellipse cx="636.18" cy="468.24" rx="1.7" ry="1.39"/><ellipse cx="651.2" cy="432.82" rx="1.06" ry="1.6"/><ellipse cx="660.34" cy="456.76" rx="1.02" ry="1.55"/><ellipse cx="671.54" cy="467.49" rx="1.5" ry="1.3"/><ellipse cx="647.22" cy="436.59" rx="0.94" ry="1.77"/><ellipse cx="646.06" cy="446.73" rx="1.34" ry="1.78"/><ellipse cx="668.31" cy="459.66" rx="1.61" ry="1.37"/><ellipse cx="656.89" cy="464.22" rx="1.5" ry="0.94"/><ellipse cx="649.01" cy="455.2" rx="1.5" ry="1.74"/><ellipse cx="662.65" cy="447.99" rx="1.33" ry="1.6"/><ellipse cx="661.54" cy="445.52" rx="1.26" ry="1.45"/><ellipse cx="650.27" cy="458.74" rx="1.67" ry="1.28"/><ellipse cx="653.88" cy="438.61" rx="1.63" ry="1.53"/><ellipse cx="655.02" cy="444.55" rx="0.98" ry="1.12"/><ellipse cx="640.28" cy="463.03" rx="1.42" ry="1.67"/><ellipse cx="668.98" cy="441.55" rx="1.04" ry="1.55"/><ellipse cx="647.38" cy="465.77" rx="1.3" ry="1.11"/><ellipse cx="669.59" cy="462.02" rx="1.62" ry="1.53"/><ellipse cx="669.9" cy="467.7" rx="0.96" ry="0.97"/><ellipse cx="630.78" cy="461.98" rx="1.35" ry="1.54"/><ellipse cx="633.18" cy="437.57" rx="1.69" ry="1.46"/><ellipse cx="635.63" cy="435.15" rx="1.62" ry="1.66"/><ellipse cx="633.9" cy="472.13" rx="1.01" ry="1.25"/><ellipse cx="655.8" cy="464.92" rx="1.69" ry="0.92"/><ellipse cx="639.86" cy="435.94" rx="0.97" ry="1.5"/><ellipse cx="635.12" cy="448.04" rx="1.51" ry="1.6"/><ellipse cx="652.15" cy="459.71" rx="1.49" ry="1.11"/><ellipse cx="638.64" cy="471.28" rx="1.13" ry="1.72"/><ellipse cx="631.35" cy="443.46" rx="1.51" ry="1.11"/><ellipse cx="671.87" cy="456.97" rx="1.69" ry="1.5"/><ellipse cx="665.78" cy="435.75" rx="1.23" ry="1.12"/><ellipse cx="645.39" cy="435.18" rx="1.02" ry="1.36"/><ellipse cx="669.84" cy="457.65" rx="1.48" ry="1.72"/><ellipse cx="653.94" cy="454.52" rx="1.44" ry="1.37"/><ellipse cx="635.99" cy="434.1" rx="1.67" ry="1.32"/><ellipse cx="663.29" cy="432.22" rx="1.35" ry="1.72"/><ellipse cx="629.56" cy="471.7" rx="1.22" ry="1.36"/><ellipse cx="655.96" cy="455.39" rx="1.19" ry="1.74"/><ellipse cx="641.78" cy="430.14" rx="0.91" ry="1.78"/><ellipse cx="639.28" cy="444.74" rx="1.43" ry="1.36"/><ellipse cx="643.91" cy="461" rx="1.42" ry="1"/></g>
<g fill="#60f060" opacity="0.95" clip-path="url(#cs5)"><ellipse cx="669.17" cy="446.69" rx="0.91" ry="0.62"/><ellipse cx="649.73" cy="441.77" rx="0.77" ry="0.54"/><ellipse cx="646.92" cy="443.59" rx="0.52" ry="0.91"/><ellipse cx="668.23" cy="436.47" rx="0.82" ry="0.76"/><ellipse cx="647.28" cy="455.37" rx="0.83" ry="0.64"/><ellipse cx="644.6" cy="451.81" rx="1" ry="0.97"/><ellipse cx="662.42" cy="449.69" rx="0.95" ry="0.99"/><ellipse cx="666.99" cy="438.36" rx="0.71" ry="0.61"/><ellipse cx="648.41" cy="466.73" rx="0.75" ry="0.66"/><ellipse cx="636.08" cy="436.03" rx="0.91" ry="0.98"/><ellipse cx="667.22" cy="430.17" rx="0.63" ry="0.57"/><ellipse cx="648.93" cy="438.67" rx="0.74" ry="0.73"/><ellipse cx="656.15" cy="452.13" rx="0.75" ry="0.52"/><ellipse cx="669.53" cy="448.36" rx="0.94" ry="0.66"/></g>
<path d="M404.7,471 L431,471 M451.8,471 L478,471 M498.9,471 L525.1,471 M547,471 L574,471 M594,471 L621,471 M643,471 L670,471" stroke="#ddd" stroke-width="0.9"/>
<text x="0.5" y="500.5" font-size="19" fill="#000" text-anchor="start" font-weight="bold" >f</text>
<text x="161.5" y="499.5" font-size="19" fill="#000" text-anchor="start" font-weight="bold" >g</text>
<g filter="url(#speck)">
<path d="M42.8,517.8 C45.35,516.35 50.33,514.78 53.8,514.6 C57.27,514.42 61.05,515.43 63.6,516.7 C66.15,517.97 68,520.18 69.1,522.2 C70.2,524.22 69.1,526.97 70.2,528.8 C71.3,530.63 73.68,531.57 75.7,533.2 C77.72,534.83 80.12,537.33 82.3,538.6 C84.48,539.87 88.8,539.52 88.8,540.8 C88.8,542.08 84.85,545.02 82.3,546.3 C79.75,547.58 76.78,547.77 73.5,548.5 C70.22,549.23 66.25,550.33 62.6,550.7 C58.95,551.07 54.9,550.33 51.6,550.7 C48.3,551.07 45.72,552.17 42.8,552.9 C39.88,553.63 36.65,555.28 34.1,555.1 C31.55,554.92 28.78,553.27 27.5,551.8 C26.22,550.33 25.67,547.77 26.4,546.3 C27.13,544.83 30.43,544.45 31.9,543 C33.37,541.55 34.65,539.97 35.2,537.6 C35.75,535.23 34.65,531.18 35.2,528.8 C35.75,526.42 37.23,525.13 38.5,523.3 C39.77,521.47 40.25,519.25 42.8,517.8Z" fill="#46a834" />
<path d="M82.3,539.7 C83.77,538.43 89.55,538.13 93.2,537.6 C96.85,537.07 100.55,536.5 104.2,536.5 C107.85,536.5 112.55,537.07 115.1,537.6 C117.65,538.13 119.5,538.62 119.5,539.7 C119.5,540.78 116.57,542.27 115.1,544.1 C113.63,545.93 112.52,548.87 110.7,550.7 C108.88,552.53 106.38,554.73 104.2,555.1 C102.02,555.47 99.8,554 97.6,552.9 C95.4,551.8 93.2,549.78 91,548.5 C88.8,547.22 85.85,546.67 84.4,545.2 C82.95,543.73 80.83,540.97 82.3,539.7Z" fill="#b2df8a" />
<path d="M36.3,560.5 C38.48,558.68 41.72,556.73 45,555.1 C48.28,553.47 51.62,551.8 56,550.7 C60.38,549.6 66.92,548.68 71.3,548.5 C75.68,548.32 79.02,548.87 82.3,549.6 C85.58,550.33 88.45,551.62 91,552.9 C93.55,554.18 95.77,555.48 97.6,557.3 C99.43,559.12 100.55,561.8 102,563.8 C103.45,565.8 105.4,567.47 106.3,569.3 C107.2,571.13 108.12,573.52 107.4,574.8 C106.68,576.08 104.37,576.82 102,577 C99.63,577.18 96.13,575.53 93.2,575.9 C90.27,576.27 86.58,577.2 84.4,579.2 C82.22,581.2 82.28,586.08 80.1,587.9 C77.92,589.72 74.22,590.1 71.3,590.1 C68.38,590.1 65.52,587.9 62.6,587.9 C59.68,587.9 56.73,589.37 53.8,590.1 C50.87,590.83 47.55,592.67 45,592.3 C42.45,591.93 40.32,589.73 38.5,587.9 C36.68,586.07 35.75,583.48 34.1,581.3 C32.45,579.12 29.7,576.62 28.6,574.8 C27.5,572.98 26.95,571.87 27.5,570.4 C28.05,568.93 30.43,567.65 31.9,566 C33.37,564.35 34.12,562.32 36.3,560.5Z" fill="#3f86c4" />
<path d="M112.9,494.9 C115.28,493.45 120.62,491.25 123.9,491.6 C127.18,491.95 130.42,494.45 132.6,497 C134.78,499.55 135.17,503.78 137,506.9 C138.83,510.02 141.6,512.78 143.6,515.7 C145.6,518.62 148.63,521.85 149,524.4 C149.37,526.95 147.8,529.35 145.8,531 C143.8,532.65 140.3,533.57 137,534.3 C133.7,535.03 129.28,535.77 126,535.4 C122.72,535.03 120.22,533.38 117.3,532.1 C114.38,530.82 110.33,529.35 108.5,527.7 C106.67,526.05 107.75,522.93 106.3,522.2 C104.85,521.47 101.43,523.67 99.8,523.3 C98.17,522.93 96.87,521.27 96.5,520 C96.13,518.73 95.97,516.78 97.6,515.7 C99.23,514.62 104.12,514.6 106.3,513.5 C108.48,512.4 110.15,511.3 110.7,509.1 C111.25,506.9 109.23,502.67 109.6,500.3 C109.97,497.93 110.52,496.35 112.9,494.9Z" fill="#6a3d9a" />
<path d="M121.7,537.6 C123.88,535.95 130.05,537.52 132.6,538.6 C135.15,539.68 135.53,542.08 137,544.1 C138.47,546.12 139.77,548.5 141.4,550.7 C143.03,552.9 145.7,554.75 146.8,557.3 C147.9,559.85 148.9,563.45 148,566 C147.1,568.55 143.97,571.13 141.4,572.6 C138.83,574.07 135.17,574.8 132.6,574.8 C130.03,574.8 127.82,574.07 126,572.6 C124.18,571.13 122.97,568.55 121.7,566 C120.43,563.45 118.77,560.22 118.4,557.3 C118.03,554.38 118.95,551.78 119.5,548.5 C120.05,545.22 119.52,539.25 121.7,537.6Z" fill="#f2aaaa" />
<path d="M73.5,594.5 C74.23,592.85 78.1,590.47 80.1,590.1 C82.1,589.73 84.42,591.02 85.5,592.3 C86.58,593.58 87.13,596.35 86.6,597.8 C86.07,599.25 84.12,600.63 82.3,601 C80.48,601.37 77.17,601.08 75.7,600 C74.23,598.92 72.77,596.15 73.5,594.5Z" fill="#a6cee3" />
<path d="M13.3,586.8 C14.02,586.07 18.53,584.05 20.9,583.5 C23.27,582.95 25.67,583.13 27.5,583.5 C29.33,583.87 31.35,584.23 31.9,585.7 C32.45,587.17 30.43,590.1 30.8,592.3 C31.17,594.5 33.92,597.45 34.1,598.9 C34.28,600.35 33,601.55 31.9,601 C30.8,600.45 28.97,597.78 27.5,595.6 C26.03,593.42 24.92,589.18 23.1,587.9 C21.28,586.62 18.23,588.08 16.6,587.9 C14.97,587.72 12.58,587.53 13.3,586.8Z" fill="#f2bf74" />
<path d="M30.8,603.2 C31.05,602.7 32.77,602.77 33.5,603.5 C34.23,604.23 35.45,607.1 35.2,607.6 C34.95,608.1 32.73,607.23 32,606.5 C31.27,605.77 30.55,603.7 30.8,603.2Z" fill="#f2aaaa" />
<path d="M49.4,610.8 C50.32,609.7 54.9,608.87 56,609.8 C57.1,610.73 56.37,614.38 56,616.4 C55.63,618.42 53.62,620.27 53.8,621.9 C53.98,623.53 56.73,624.75 57.1,626.2 C57.47,627.65 57.1,630.05 56,630.6 C54.9,631.15 51.78,630.42 50.5,629.5 C49.22,628.58 47.93,626.37 48.3,625.1 C48.67,623.83 52.33,623.35 52.7,621.9 C53.07,620.45 51.05,618.25 50.5,616.4 C49.95,614.55 48.48,611.9 49.4,610.8Z" fill="#f6841c" />
<path d="M70.2,625.1 C71.3,623.47 75.53,620.78 77.9,619.7 C80.27,618.62 81.85,618.23 84.4,618.6 C86.95,618.97 91.92,620.08 93.2,621.9 C94.48,623.72 93.57,627.68 92.1,629.5 C90.63,631.32 87.13,632.43 84.4,632.8 C81.67,633.17 77.88,632.25 75.7,631.7 C73.52,631.15 72.22,630.6 71.3,629.5 C70.38,628.4 69.1,626.73 70.2,625.1Z" fill="#e3221f" />
<path d="M75.7,635.5 C76.03,634.48 77.53,634.67 78,635.5 C78.47,636.33 78.83,639.48 78.5,640.5 C78.17,641.52 76.47,642.43 76,641.6 C75.53,640.77 75.37,636.52 75.7,635.5Z" fill="#e3221f" />
<path d="M123.9,635.5 C124.57,635 127.18,634.83 129,635 C130.82,635.17 134.47,635.95 134.8,636.5 C135.13,637.05 132.63,638.05 131,638.3 C129.37,638.55 126.18,638.47 125,638 C123.82,637.53 123.23,636 123.9,635.5Z" fill="#cab2d6" />
</g>
<path d="M112,504 C113.33,502.08 115.83,500.67 118,500.5 C120.17,500.33 123.5,501.42 125,503 C126.5,504.58 127.17,507.67 127,510 C126.83,512.33 125.5,515.17 124,517 C122.5,518.83 120,520.67 118,521 C116,521.33 113.33,520.5 112,519 C110.67,517.5 110,514.5 110,512 C110,509.5 110.67,505.92 112,504Z" fill="#ffffff" opacity="0.62"/>
<path d="M12.6,633.9 L12.6,615 M12.6,633.9 L31.5,633.9" stroke="#111" stroke-width="0.8" fill="none"/>
<path d="M10.9,616.8 L12.6,613.6 L14.3,616.8Z M29.7,632.2 L32.9,633.9 L29.7,635.6Z" fill="#111"/>
<text x="12.2" y="641.2" font-size="5.4" fill="#111" text-anchor="start" >UMAP1</text>
<text x="0" y="0" font-size="5.4" fill="#111" text-anchor="middle" transform="translate(9.8,623.5) rotate(-90)">UMAP2</text>
<path d="M207.5,638.5 C209.5,638.5 209.5,630.5 211.5,630.5 L211.5,638.5 C209.5,638.5 209.5,638.5 207.5,638.5Z" fill="#cab2d6" fill-opacity="0.35"/>
<path d="M207.5,634.22 C209.5,634.22 209.5,626.36 211.5,626.36 L211.5,630.5 C209.5,630.5 209.5,638.5 207.5,638.5Z" fill="#f6841c" fill-opacity="0.35"/>
<path d="M207.5,632.36 C209.5,632.36 209.5,625.36 211.5,625.36 L211.5,626.36 C209.5,626.36 209.5,634.22 207.5,634.22Z" fill="#f2bf74" fill-opacity="0.35"/>
<path d="M207.5,621.22 C209.5,621.22 209.5,613.65 211.5,613.65 L211.5,625.36 C209.5,625.36 209.5,632.36 207.5,632.36Z" fill="#e3221f" fill-opacity="0.35"/>
<path d="M207.5,613.08 C209.5,613.08 209.5,612.94 211.5,612.94 L211.5,613.65 C209.5,613.65 209.5,621.22 207.5,621.22Z" fill="#f4a0a0" fill-opacity="0.35"/>
<path d="M207.5,560.53 C209.5,560.53 209.5,531.4 211.5,531.4 L211.5,612.94 C209.5,612.94 209.5,613.08 207.5,613.08Z" fill="#46a834" fill-opacity="0.35"/>
<path d="M207.5,560.53 C209.5,560.53 209.5,525.83 211.5,525.83 L211.5,531.4 C209.5,531.4 209.5,560.53 207.5,560.53Z" fill="#b2df8a" fill-opacity="0.35"/>
<path d="M207.5,497.27 C209.5,497.27 209.5,497.7 211.5,497.7 L211.5,525.83 C209.5,525.83 209.5,560.53 207.5,560.53Z" fill="#3f7fbf" fill-opacity="0.35"/>
<path d="M207.5,495.7 C209.5,495.7 209.5,495.7 211.5,495.7 L211.5,497.7 C209.5,497.7 209.5,497.27 207.5,497.27Z" fill="#a6cee3" fill-opacity="0.35"/>
<path d="M222.4,630.5 C224.4,630.5 224.4,638.5 226.4,638.5 L226.4,638.5 C224.4,638.5 224.4,638.5 222.4,638.5Z" fill="#cab2d6" fill-opacity="0.35"/>
<path d="M222.4,626.36 C224.4,626.36 224.4,630.07 226.4,630.07 L226.4,638.5 C224.4,638.5 224.4,630.5 222.4,630.5Z" fill="#f6841c" fill-opacity="0.35"/>
<path d="M222.4,625.36 C224.4,625.36 224.4,629.08 226.4,629.08 L226.4,630.07 C224.4,630.07 224.4,626.36 222.4,626.36Z" fill="#f2bf74" fill-opacity="0.35"/>
<path d="M222.4,613.65 C224.4,613.65 224.4,620.36 226.4,620.36 L226.4,629.08 C224.4,629.08 224.4,625.36 222.4,625.36Z" fill="#e3221f" fill-opacity="0.35"/>
<path d="M222.4,612.94 C224.4,612.94 224.4,606.8 226.4,606.8 L226.4,620.36 C224.4,620.36 224.4,613.65 222.4,613.65Z" fill="#f4a0a0" fill-opacity="0.35"/>
<path d="M222.4,531.4 C224.4,531.4 224.4,537.68 226.4,537.68 L226.4,606.8 C224.4,606.8 224.4,612.94 222.4,612.94Z" fill="#46a834" fill-opacity="0.35"/>
<path d="M222.4,525.83 C224.4,525.83 224.4,524.55 226.4,524.55 L226.4,537.68 C224.4,537.68 224.4,531.4 222.4,531.4Z" fill="#b2df8a" fill-opacity="0.35"/>
<path d="M222.4,497.7 C224.4,497.7 224.4,499.98 226.4,499.98 L226.4,524.55 C224.4,524.55 224.4,525.83 222.4,525.83Z" fill="#3f7fbf" fill-opacity="0.35"/>
<path d="M222.4,495.7 C224.4,495.7 224.4,495.7 226.4,495.7 L226.4,499.98 C224.4,499.98 224.4,497.7 222.4,497.7Z" fill="#a6cee3" fill-opacity="0.35"/>
<path d="M237.3,638.5 C239.3,638.5 239.3,571.53 241.3,571.53 L241.3,638.5 C239.3,638.5 239.3,638.5 237.3,638.5Z" fill="#6a3d9a" fill-opacity="0.35"/>
<path d="M237.3,630.07 C239.3,630.07 239.3,570.24 241.3,570.24 L241.3,571.53 C239.3,571.53 239.3,638.5 237.3,638.5Z" fill="#f6841c" fill-opacity="0.35"/>
<path d="M237.3,629.08 C239.3,629.08 239.3,567.39 241.3,567.39 L241.3,570.24 C239.3,570.24 239.3,630.07 237.3,630.07Z" fill="#f2bf74" fill-opacity="0.35"/>
<path d="M237.3,620.36 C239.3,620.36 239.3,563.24 241.3,563.24 L241.3,567.39 C239.3,567.39 239.3,629.08 237.3,629.08Z" fill="#e3221f" fill-opacity="0.35"/>
<path d="M237.3,606.8 C239.3,606.8 239.3,544.25 241.3,544.25 L241.3,563.24 C239.3,563.24 239.3,620.36 237.3,620.36Z" fill="#f4a0a0" fill-opacity="0.35"/>
<path d="M237.3,537.68 C239.3,537.68 239.3,530.69 241.3,530.69 L241.3,544.25 C239.3,544.25 239.3,606.8 237.3,606.8Z" fill="#46a834" fill-opacity="0.35"/>
<path d="M237.3,524.55 C239.3,524.55 239.3,513.98 241.3,513.98 L241.3,530.69 C239.3,530.69 239.3,537.68 237.3,537.68Z" fill="#b2df8a" fill-opacity="0.35"/>
<path d="M237.3,499.98 C239.3,499.98 239.3,496.7 241.3,496.7 L241.3,513.98 C239.3,513.98 239.3,524.55 237.3,524.55Z" fill="#3f7fbf" fill-opacity="0.35"/>
<path d="M237.3,495.7 C239.3,495.7 239.3,495.7 241.3,495.7 L241.3,496.7 C239.3,496.7 239.3,499.98 237.3,499.98Z" fill="#a6cee3" fill-opacity="0.35"/>
<path d="M252.2,571.53 C254.2,571.53 254.2,637.5 256.2,637.5 L256.2,638.5 C254.2,638.5 254.2,638.5 252.2,638.5Z" fill="#6a3d9a" fill-opacity="0.35"/>
<path d="M252.2,570.24 C254.2,570.24 254.2,633.79 256.2,633.79 L256.2,637.5 C254.2,637.5 254.2,571.53 252.2,571.53Z" fill="#f6841c" fill-opacity="0.35"/>
<path d="M252.2,567.39 C254.2,567.39 254.2,622.22 256.2,622.22 L256.2,633.79 C254.2,633.79 254.2,570.24 252.2,570.24Z" fill="#f2bf74" fill-opacity="0.35"/>
<path d="M252.2,563.24 C254.2,563.24 254.2,617.08 256.2,617.08 L256.2,622.22 C254.2,622.22 254.2,567.39 252.2,567.39Z" fill="#e3221f" fill-opacity="0.35"/>
<path d="M252.2,544.25 C254.2,544.25 254.2,614.8 256.2,614.8 L256.2,617.08 C254.2,617.08 254.2,563.24 252.2,563.24Z" fill="#f4a0a0" fill-opacity="0.35"/>
<path d="M252.2,530.69 C254.2,530.69 254.2,611.51 256.2,611.51 L256.2,614.8 C254.2,614.8 254.2,544.25 252.2,544.25Z" fill="#46a834" fill-opacity="0.35"/>
<path d="M252.2,513.98 C254.2,513.98 254.2,606.8 256.2,606.8 L256.2,611.51 C254.2,611.51 254.2,530.69 252.2,530.69Z" fill="#b2df8a" fill-opacity="0.35"/>
<path d="M252.2,496.7 C254.2,496.7 254.2,501.41 256.2,501.41 L256.2,606.8 C254.2,606.8 254.2,513.98 252.2,513.98Z" fill="#3f7fbf" fill-opacity="0.35"/>
<path d="M252.2,495.7 C254.2,495.7 254.2,495.7 256.2,495.7 L256.2,501.41 C254.2,501.41 254.2,496.7 252.2,496.7Z" fill="#a6cee3" fill-opacity="0.35"/>
<path d="M267.1,637.5 C269.1,637.5 269.1,638.5 271.1,638.5 L271.1,638.5 C269.1,638.5 269.1,638.5 267.1,638.5Z" fill="#6a3d9a" fill-opacity="0.35"/>
<path d="M267.1,633.79 C269.1,633.79 269.1,634.79 271.1,634.79 L271.1,638.5 C269.1,638.5 269.1,637.5 267.1,637.5Z" fill="#f6841c" fill-opacity="0.35"/>
<path d="M267.1,622.22 C269.1,622.22 269.1,631.65 271.1,631.65 L271.1,634.79 C269.1,634.79 269.1,633.79 267.1,633.79Z" fill="#f2bf74" fill-opacity="0.35"/>
<path d="M267.1,617.08 C269.1,617.08 269.1,626.5 271.1,626.5 L271.1,631.65 C269.1,631.65 269.1,622.22 267.1,622.22Z" fill="#e3221f" fill-opacity="0.35"/>
<path d="M267.1,614.8 C269.1,614.8 269.1,622.79 271.1,622.79 L271.1,626.5 C269.1,626.5 269.1,617.08 267.1,617.08Z" fill="#f4a0a0" fill-opacity="0.35"/>
<path d="M267.1,611.51 C269.1,611.51 269.1,552.53 271.1,552.53 L271.1,622.79 C269.1,622.79 269.1,614.8 267.1,614.8Z" fill="#46a834" fill-opacity="0.35"/>
<path d="M267.1,606.8 C269.1,606.8 269.1,552.53 271.1,552.53 L271.1,552.53 C269.1,552.53 269.1,611.51 267.1,611.51Z" fill="#b2df8a" fill-opacity="0.35"/>
<path d="M267.1,501.41 C269.1,501.41 269.1,496.7 271.1,496.7 L271.1,552.53 C269.1,552.53 269.1,606.8 267.1,606.8Z" fill="#3f7fbf" fill-opacity="0.35"/>
<path d="M267.1,495.7 C269.1,495.7 269.1,495.7 271.1,495.7 L271.1,496.7 C269.1,496.7 269.1,501.41 267.1,501.41Z" fill="#a6cee3" fill-opacity="0.35"/>
<path d="M282,638.5 C284,638.5 284,627.93 286,627.93 L286,638.5 C284,638.5 284,638.5 282,638.5Z" fill="#cab2d6" fill-opacity="0.35"/>
<path d="M282,634.79 C284,634.79 284,619.36 286,619.36 L286,627.93 C284,627.93 284,638.5 282,638.5Z" fill="#f6841c" fill-opacity="0.35"/>
<path d="M282,631.65 C284,631.65 284,619.36 286,619.36 L286,619.36 C284,619.36 284,634.79 282,634.79Z" fill="#f2bf74" fill-opacity="0.35"/>
<path d="M282,626.5 C284,626.5 284,611.51 286,611.51 L286,619.36 C284,619.36 284,631.65 282,631.65Z" fill="#e3221f" fill-opacity="0.35"/>
<path d="M282,622.79 C284,622.79 284,609.23 286,609.23 L286,611.51 C284,611.51 284,626.5 282,626.5Z" fill="#f4a0a0" fill-opacity="0.35"/>
<path d="M282,552.53 C284,552.53 284,607.8 286,607.8 L286,609.23 C284,609.23 284,622.79 282,622.79Z" fill="#46a834" fill-opacity="0.35"/>
<path d="M282,552.53 C284,552.53 284,605.94 286,605.94 L286,607.8 C284,607.8 284,552.53 282,552.53Z" fill="#b2df8a" fill-opacity="0.35"/>
<path d="M282,496.7 C284,496.7 284,498.56 286,498.56 L286,605.94 C284,605.94 284,552.53 282,552.53Z" fill="#3f7fbf" fill-opacity="0.35"/>
<path d="M282,495.7 C284,495.7 284,495.7 286,495.7 L286,498.56 C284,498.56 284,496.7 282,496.7Z" fill="#a6cee3" fill-opacity="0.35"/>
<path d="M296.9,627.93 C298.9,627.93 298.9,621.36 300.9,621.36 L300.9,638.5 C298.9,638.5 298.9,638.5 296.9,638.5Z" fill="#cab2d6" fill-opacity="0.35"/>
<path d="M296.9,619.36 C298.9,619.36 298.9,615.22 300.9,615.22 L300.9,621.36 C298.9,621.36 298.9,627.93 296.9,627.93Z" fill="#f6841c" fill-opacity="0.35"/>
<path d="M296.9,611.51 C298.9,611.51 298.9,603.09 300.9,603.09 L300.9,615.22 C298.9,615.22 298.9,619.36 296.9,619.36Z" fill="#e3221f" fill-opacity="0.35"/>
<path d="M296.9,609.23 C298.9,609.23 298.9,601.8 300.9,601.8 L300.9,603.09 C298.9,603.09 298.9,611.51 296.9,611.51Z" fill="#f4a0a0" fill-opacity="0.35"/>
<path d="M296.9,607.8 C298.9,607.8 298.9,601.8 300.9,601.8 L300.9,601.8 C298.9,601.8 298.9,609.23 296.9,609.23Z" fill="#46a834" fill-opacity="0.35"/>
<path d="M296.9,605.94 C298.9,605.94 298.9,599.94 300.9,599.94 L300.9,601.8 C298.9,601.8 298.9,607.8 296.9,607.8Z" fill="#b2df8a" fill-opacity="0.35"/>
<path d="M296.9,498.56 C298.9,498.56 298.9,499.41 300.9,499.41 L300.9,599.94 C298.9,599.94 298.9,605.94 296.9,605.94Z" fill="#3f7fbf" fill-opacity="0.35"/>
<path d="M296.9,495.7 C298.9,495.7 298.9,495.7 300.9,495.7 L300.9,499.41 C298.9,499.41 298.9,498.56 296.9,498.56Z" fill="#a6cee3" fill-opacity="0.35"/>
<rect x="196.6" y="634.22" width="10.9" height="4.28" fill="#f6841c"/>
<rect x="196.6" y="632.36" width="10.9" height="1.86" fill="#f2bf74"/>
<rect x="196.6" y="621.22" width="10.9" height="11.14" fill="#e3221f"/>
<rect x="196.6" y="613.08" width="10.9" height="8.14" fill="#f4a0a0"/>
<rect x="196.6" y="560.53" width="10.9" height="52.55" fill="#46a834"/>
<rect x="196.6" y="497.27" width="10.9" height="63.26" fill="#3f7fbf"/>
<rect x="196.6" y="495.7" width="10.9" height="1.57" fill="#a6cee3"/>
<rect x="211.5" y="630.5" width="10.9" height="8" fill="#cab2d6"/>
<rect x="211.5" y="626.36" width="10.9" height="4.14" fill="#f6841c"/>
<rect x="211.5" y="625.36" width="10.9" height="1" fill="#f2bf74"/>
<rect x="211.5" y="613.65" width="10.9" height="11.71" fill="#e3221f"/>
<rect x="211.5" y="612.94" width="10.9" height="0.71" fill="#f4a0a0"/>
<rect x="211.5" y="531.4" width="10.9" height="81.54" fill="#46a834"/>
<rect x="211.5" y="525.83" width="10.9" height="5.57" fill="#b2df8a"/>
<rect x="211.5" y="497.7" width="10.9" height="28.13" fill="#3f7fbf"/>
<rect x="211.5" y="495.7" width="10.9" height="2" fill="#a6cee3"/>
<rect x="226.4" y="630.07" width="10.9" height="8.43" fill="#f6841c"/>
<rect x="226.4" y="629.08" width="10.9" height="1" fill="#f2bf74"/>
<rect x="226.4" y="620.36" width="10.9" height="8.71" fill="#e3221f"/>
<rect x="226.4" y="606.8" width="10.9" height="13.57" fill="#f4a0a0"/>
<rect x="226.4" y="537.68" width="10.9" height="69.12" fill="#46a834"/>
<rect x="226.4" y="524.55" width="10.9" height="13.14" fill="#b2df8a"/>
<rect x="226.4" y="499.98" width="10.9" height="24.56" fill="#3f7fbf"/>
<rect x="226.4" y="495.7" width="10.9" height="4.28" fill="#a6cee3"/>
<rect x="241.3" y="571.53" width="10.9" height="66.97" fill="#6a3d9a"/>
<rect x="241.3" y="570.24" width="10.9" height="1.29" fill="#f6841c"/>
<rect x="241.3" y="567.39" width="10.9" height="2.86" fill="#f2bf74"/>
<rect x="241.3" y="563.24" width="10.9" height="4.14" fill="#e3221f"/>
<rect x="241.3" y="544.25" width="10.9" height="18.99" fill="#f4a0a0"/>
<rect x="241.3" y="530.69" width="10.9" height="13.57" fill="#46a834"/>
<rect x="241.3" y="513.98" width="10.9" height="16.71" fill="#b2df8a"/>
<rect x="241.3" y="496.7" width="10.9" height="17.28" fill="#3f7fbf"/>
<rect x="241.3" y="495.7" width="10.9" height="1" fill="#a6cee3"/>
<rect x="256.2" y="637.5" width="10.9" height="1" fill="#6a3d9a"/>
<rect x="256.2" y="633.79" width="10.9" height="3.71" fill="#f6841c"/>
<rect x="256.2" y="622.22" width="10.9" height="11.57" fill="#f2bf74"/>
<rect x="256.2" y="617.08" width="10.9" height="5.14" fill="#e3221f"/>
<rect x="256.2" y="614.8" width="10.9" height="2.28" fill="#f4a0a0"/>
<rect x="256.2" y="611.51" width="10.9" height="3.28" fill="#46a834"/>
<rect x="256.2" y="606.8" width="10.9" height="4.71" fill="#b2df8a"/>
<rect x="256.2" y="501.41" width="10.9" height="105.39" fill="#3f7fbf"/>
<rect x="256.2" y="495.7" width="10.9" height="5.71" fill="#a6cee3"/>
<rect x="271.1" y="634.79" width="10.9" height="3.71" fill="#f6841c"/>
<rect x="271.1" y="631.65" width="10.9" height="3.14" fill="#f2bf74"/>
<rect x="271.1" y="626.5" width="10.9" height="5.14" fill="#e3221f"/>
<rect x="271.1" y="622.79" width="10.9" height="3.71" fill="#f4a0a0"/>
<rect x="271.1" y="552.53" width="10.9" height="70.26" fill="#46a834"/>
<rect x="271.1" y="496.7" width="10.9" height="55.83" fill="#3f7fbf"/>
<rect x="271.1" y="495.7" width="10.9" height="1" fill="#a6cee3"/>
<rect x="286" y="627.93" width="10.9" height="10.57" fill="#cab2d6"/>
<rect x="286" y="619.36" width="10.9" height="8.57" fill="#f6841c"/>
<rect x="286" y="611.51" width="10.9" height="7.85" fill="#e3221f"/>
<rect x="286" y="609.23" width="10.9" height="2.28" fill="#f4a0a0"/>
<rect x="286" y="607.8" width="10.9" height="1.43" fill="#46a834"/>
<rect x="286" y="605.94" width="10.9" height="1.86" fill="#b2df8a"/>
<rect x="286" y="498.56" width="10.9" height="107.39" fill="#3f7fbf"/>
<rect x="286" y="495.7" width="10.9" height="2.86" fill="#a6cee3"/>
<rect x="300.9" y="621.36" width="10.9" height="17.14" fill="#cab2d6"/>
<rect x="300.9" y="615.22" width="10.9" height="6.14" fill="#f6841c"/>
<rect x="300.9" y="603.09" width="10.9" height="12.14" fill="#e3221f"/>
<rect x="300.9" y="601.8" width="10.9" height="1.29" fill="#f4a0a0"/>
<rect x="300.9" y="599.94" width="10.9" height="1.86" fill="#b2df8a"/>
<rect x="300.9" y="499.41" width="10.9" height="100.53" fill="#3f7fbf"/>
<rect x="300.9" y="495.7" width="10.9" height="3.71" fill="#a6cee3"/>
<rect x="194.7" y="491.7" width="117.9" height="148.5" fill="none" stroke="#444" stroke-width="0.6"/>
<text x="192.8" y="639.8" font-size="3.9" fill="#444" text-anchor="end" >0</text>
<path d="M193.3,638.5 L194.7,638.5" stroke="#444" stroke-width="0.4"/>
<text x="192.8" y="604.1" font-size="3.9" fill="#444" text-anchor="end" >25%</text>
<path d="M193.3,602.8 L194.7,602.8" stroke="#444" stroke-width="0.4"/>
<text x="192.8" y="568.4" font-size="3.9" fill="#444" text-anchor="end" >50%</text>
<path d="M193.3,567.1 L194.7,567.1" stroke="#444" stroke-width="0.4"/>
<text x="192.8" y="532.7" font-size="3.9" fill="#444" text-anchor="end" >75%</text>
<path d="M193.3,531.4 L194.7,531.4" stroke="#444" stroke-width="0.4"/>
<text x="192.8" y="497" font-size="3.9" fill="#444" text-anchor="end" >100%</text>
<path d="M193.3,495.7 L194.7,495.7" stroke="#444" stroke-width="0.4"/>
<text x="202.05" y="645.3" font-size="3.4" fill="#444" text-anchor="middle" >uninjured</text>
<text x="216.95" y="645.3" font-size="3.4" fill="#444" text-anchor="middle" >6 hpa</text>
<text x="231.85" y="645.3" font-size="3.4" fill="#444" text-anchor="middle" >12 hpa</text>
<text x="246.75" y="645.3" font-size="3.4" fill="#444" text-anchor="middle" >1 dpa</text>
<text x="261.65" y="645.3" font-size="3.4" fill="#444" text-anchor="middle" >3 dpa</text>
<text x="276.55" y="645.3" font-size="3.4" fill="#444" text-anchor="middle" >7 dpa</text>
<text x="291.45" y="645.3" font-size="3.4" fill="#444" text-anchor="middle" >14 dpa</text>
<text x="306.35" y="645.3" font-size="3.4" fill="#444" text-anchor="middle" >28 dpa</text>
<text x="0" y="0" font-size="6.2" fill="#111" text-anchor="middle" transform="translate(181.5,567) rotate(-90)">Cell ratio</text>
<rect x="329.3" y="527" width="86.7" height="21" fill="#e5e5e5" />
<rect x="329.3" y="559.2" width="86.7" height="10.4" fill="#e5e5e5" />
<rect x="329.3" y="612.2" width="86.7" height="10.4" fill="#e5e5e5" />
<circle cx="324" cy="521.1" r="3.2" fill="#a6cee3"/>
<text x="330.6" y="524" font-size="8.2" fill="#222" text-anchor="start" >Macrophage (<tspan font-style="italic">cahz</tspan>)</text>
<circle cx="324" cy="531.8" r="3.2" fill="#3f7fbf"/>
<text x="330.6" y="534.7" font-size="8.2" fill="#222" text-anchor="start" >Macrophage (<tspan font-style="italic">cd74a</tspan>)</text>
<circle cx="324" cy="542.5" r="3.2" fill="#b2df8a"/>
<text x="330.6" y="545.4" font-size="8.2" fill="#222" text-anchor="start" >Macrophage (<tspan font-style="italic">cd9b</tspan>)</text>
<circle cx="324" cy="553.2" r="3.2" fill="#46a834"/>
<text x="330.6" y="556.1" font-size="8.2" fill="#222" text-anchor="start" >Macrophage (<tspan font-style="italic">lsp1b</tspan>)</text>
<circle cx="324" cy="563.9" r="3.2" fill="#f4a0a0"/>
<text x="330.6" y="566.8" font-size="8.2" fill="#222" text-anchor="start" >Macrophage (prolif.)</text>
<circle cx="324" cy="574.6" r="3.2" fill="#e3221f"/>
<text x="330.6" y="577.5" font-size="8.2" fill="#222" text-anchor="start" >Macrophage (<tspan font-style="italic">ramp2</tspan>)</text>
<circle cx="324" cy="585.3" r="3.2" fill="#f2bf74"/>
<text x="330.6" y="588.2" font-size="8.2" fill="#222" text-anchor="start" >Macrophage (<tspan font-style="italic">sorl1</tspan>)</text>
<circle cx="324" cy="596" r="3.2" fill="#f6841c"/>
<text x="330.6" y="598.9" font-size="8.2" fill="#222" text-anchor="start" >Macrophage (<tspan font-style="italic">sparc</tspan>)</text>
<circle cx="324" cy="606.7" r="3.2" fill="#cab2d6"/>
<text x="330.6" y="609.6" font-size="8.2" fill="#222" text-anchor="start" >Macrophage (<tspan font-style="italic">syngr3b</tspan>)</text>
<circle cx="324" cy="617.4" r="3.2" fill="#6a3d9a"/>
<text x="330.6" y="620.3" font-size="8.2" fill="#222" text-anchor="start" >Macrophage (<tspan font-style="italic">tnfa</tspan>)</text>
<text x="411.5" y="499.2" font-size="19" fill="#000" text-anchor="start" font-weight="bold" >h</text>
<rect x="431" y="485.7" width="80.8" height="153.3" fill="none" stroke="#a8a8a8" stroke-width="0.9" stroke-dasharray="3 2"/>
<rect x="517.3" y="485.7" width="80.3" height="153.3" fill="none" stroke="#a8a8a8" stroke-width="0.9" stroke-dasharray="3 2"/>
<rect x="603.3" y="485.7" width="80.4" height="153.3" fill="none" stroke="#a8a8a8" stroke-width="0.9" stroke-dasharray="3 2"/>
<text x="469.3" y="497.4" font-size="10" fill="#000" text-anchor="middle" >uninjured</text>
<text x="559.8" y="497.4" font-size="10" fill="#000" text-anchor="middle" >3 dpa</text>
<text x="642.9" y="497.4" font-size="10" fill="#000" text-anchor="middle" >7 dpa</text>
<g transform="matrix(0.88,0,0,0.91,432.84,474.99)">
<path d="M12.4,96.2 C13.03,94.92 14.12,94.75 16.2,94.7 C18.28,94.65 22.02,95.03 24.9,95.9 C27.78,96.77 30.92,98.3 33.5,99.9 C36.08,101.5 38.85,103.53 40.4,105.5 C41.95,107.47 42.6,109.95 42.8,111.7 C43,113.45 42.73,114.97 41.6,116 C40.47,117.03 38.78,118 36,117.9 C33.22,117.8 28.1,116.75 24.9,115.4 C21.7,114.05 18.88,111.97 16.8,109.8 C14.72,107.63 13.13,104.67 12.4,102.4 C11.67,100.13 11.77,97.48 12.4,96.2Z" fill="url(#hg)" />
<path d="M17.4,117.9 C18.95,115.72 23.2,116.4 26.1,116.6 C29,116.8 32.12,118.17 34.8,119.1 C37.48,120.03 40.35,121.88 42.2,122.2 C44.05,122.52 45.17,122.23 45.9,121 C46.63,119.77 45.15,116.35 46.6,114.8 C48.05,113.25 52.02,112.95 54.6,111.7 C57.18,110.45 59.82,109.48 62.1,107.3 C64.38,105.12 66.85,100.28 68.3,98.6 C69.75,96.92 69.77,96.78 70.8,97.2 C71.83,97.62 73.17,99.2 74.5,101.1 C75.83,103 77.87,106.12 78.8,108.6 C79.73,111.08 80.2,113.52 80.1,116 C80,118.48 79.35,121.22 78.2,123.5 C77.05,125.78 73.4,127.85 73.2,129.7 C73,131.55 75.97,132.95 77,134.6 C78.03,136.25 79.4,138.45 79.4,139.6 C79.4,140.75 78.65,141.4 77,141.5 C75.35,141.6 71.78,141.35 69.5,140.2 C67.22,139.05 65.17,135.95 63.3,134.6 C61.43,133.25 59.33,131.48 58.3,132.1 C57.27,132.72 57.5,135.4 57.1,138.3 C56.7,141.2 56.52,146.18 55.9,149.5 C55.28,152.82 54.85,155.52 53.4,158.2 C51.95,160.88 49.48,163.95 47.2,165.6 C44.92,167.25 42.38,168.3 39.7,168.1 C37.02,167.9 33.78,166.67 31.1,164.4 C28.42,162.13 25.68,158.22 23.6,154.5 C21.52,150.78 19.73,146.23 18.6,142.1 C17.47,137.97 17,133.73 16.8,129.7 C16.6,125.67 15.85,120.08 17.4,117.9Z" fill="url(#hg)" />
</g>
<path d="M533.2,560.5 C534.18,559.03 536.15,556.98 537.9,556.4 C539.65,555.82 541.95,556.32 543.7,557 C545.45,557.68 547.33,558.75 548.4,560.5 C549.47,562.25 549.92,564.97 550.1,567.5 C550.28,570.03 549.02,573.75 549.5,575.7 C549.98,577.65 551.63,578.42 553,579.2 C554.37,579.98 555.95,580.4 557.7,580.4 C559.45,580.4 561.75,580.08 563.5,579.2 C565.25,578.32 566.83,576.47 568.2,575.1 C569.57,573.73 570.63,572.17 571.7,571 C572.77,569.83 573.62,568.28 574.6,568.1 C575.58,567.92 576.92,569.02 577.6,569.9 C578.28,570.78 577.73,572.05 578.7,573.4 C579.67,574.75 581.83,576.65 583.4,578 C584.97,579.35 586.55,580.33 588.1,581.5 C589.65,582.67 591.83,583.63 592.7,585 C593.57,586.37 593.68,588.13 593.3,589.7 C592.92,591.27 591.27,592.83 590.4,594.4 C589.53,595.97 588.68,597.55 588.1,599.1 C587.52,600.65 587.68,602.53 586.9,603.7 C586.12,604.87 585.15,605.52 583.4,606.1 C581.65,606.68 578.35,607.4 576.4,607.2 C574.45,607 573.07,604.7 571.7,604.9 C570.33,605.1 569.37,606.65 568.2,608.4 C567.03,610.15 566.07,613.45 564.7,615.4 C563.33,617.35 561.95,618.83 560,620.1 C558.05,621.37 555.33,622.42 553,623 C550.67,623.58 548.13,624.08 546,623.6 C543.87,623.12 541.95,621.67 540.2,620.1 C538.45,618.53 536.87,616.73 535.5,614.2 C534.13,611.67 533.07,607.82 532,604.9 C530.93,601.98 529.88,599.62 529.1,596.7 C528.32,593.78 527.6,590.52 527.3,587.4 C527,584.28 527.1,580.53 527.3,578 C527.5,575.47 527.92,573.55 528.5,572.2 C529.08,570.85 530.22,571.07 530.8,569.9 C531.38,568.73 531.6,566.77 532,565.2 C532.4,563.63 532.22,561.97 533.2,560.5Z" fill="url(#hg)" />
<path d="M610,566.4 C611.07,565.13 613.47,563.83 615.8,563.4 C618.13,562.97 621.27,563.3 624,563.8 C626.73,564.3 630.05,565.2 632.2,566.4 C634.35,567.6 636.12,569.07 636.9,571 C637.68,572.93 636.32,576.25 636.9,578 C637.48,579.75 638.65,580.52 640.4,581.5 C642.15,582.48 645.45,583.32 647.4,583.9 C649.35,584.48 651.32,585.98 652.1,585 C652.88,584.02 651.52,579.93 652.1,578 C652.68,576.07 653.85,574.47 655.6,573.4 C657.35,572.33 660.27,571.7 662.6,571.6 C664.93,571.5 668.05,572.02 669.6,572.8 C671.15,573.58 671.72,575.03 671.9,576.3 C672.08,577.57 670.32,578.95 670.7,580.4 C671.08,581.85 673.03,583.25 674.2,585 C675.37,586.75 677.02,588.55 677.7,590.9 C678.38,593.25 678.68,596.77 678.3,599.1 C677.92,601.43 676.85,603.15 675.4,604.9 C673.95,606.65 671.35,608.05 669.6,609.6 C667.85,611.15 666.65,613.23 664.9,614.2 C663.15,615.17 661.05,615 659.1,615.4 C657.15,615.8 654.97,615.72 653.2,616.6 C651.43,617.48 650.25,619.93 648.5,620.7 C646.75,621.47 644.83,621.2 642.7,621.2 C640.57,621.2 637.83,621.28 635.7,620.7 C633.57,620.12 631.85,618.97 629.9,617.7 C627.95,616.43 626.15,614.65 624,613.1 C621.85,611.55 619.13,610.35 617,608.4 C614.87,606.45 612.57,603.73 611.2,601.4 C609.83,599.07 609,597.13 608.8,594.4 C608.6,591.67 610,587.92 610,585 C610,582.08 608.9,579.23 608.8,576.9 C608.7,574.57 609.2,572.75 609.4,571 C609.6,569.25 608.93,567.67 610,566.4Z" fill="url(#hg)" />
<clipPath id="ch2"><path d="M533.2,560.5 C534.18,559.03 536.15,556.98 537.9,556.4 C539.65,555.82 541.95,556.32 543.7,557 C545.45,557.68 547.33,558.75 548.4,560.5 C549.47,562.25 549.92,564.97 550.1,567.5 C550.28,570.03 549.02,573.75 549.5,575.7 C549.98,577.65 551.63,578.42 553,579.2 C554.37,579.98 555.95,580.4 557.7,580.4 C559.45,580.4 561.75,580.08 563.5,579.2 C565.25,578.32 566.83,576.47 568.2,575.1 C569.57,573.73 570.63,572.17 571.7,571 C572.77,569.83 573.62,568.28 574.6,568.1 C575.58,567.92 576.92,569.02 577.6,569.9 C578.28,570.78 577.73,572.05 578.7,573.4 C579.67,574.75 581.83,576.65 583.4,578 C584.97,579.35 586.55,580.33 588.1,581.5 C589.65,582.67 591.83,583.63 592.7,585 C593.57,586.37 593.68,588.13 593.3,589.7 C592.92,591.27 591.27,592.83 590.4,594.4 C589.53,595.97 588.68,597.55 588.1,599.1 C587.52,600.65 587.68,602.53 586.9,603.7 C586.12,604.87 585.15,605.52 583.4,606.1 C581.65,606.68 578.35,607.4 576.4,607.2 C574.45,607 573.07,604.7 571.7,604.9 C570.33,605.1 569.37,606.65 568.2,608.4 C567.03,610.15 566.07,613.45 564.7,615.4 C563.33,617.35 561.95,618.83 560,620.1 C558.05,621.37 555.33,622.42 553,623 C550.67,623.58 548.13,624.08 546,623.6 C543.87,623.12 541.95,621.67 540.2,620.1 C538.45,618.53 536.87,616.73 535.5,614.2 C534.13,611.67 533.07,607.82 532,604.9 C530.93,601.98 529.88,599.62 529.1,596.7 C528.32,593.78 527.6,590.52 527.3,587.4 C527,584.28 527.1,580.53 527.3,578 C527.5,575.47 527.92,573.55 528.5,572.2 C529.08,570.85 530.22,571.07 530.8,569.9 C531.38,568.73 531.6,566.77 532,565.2 C532.4,563.63 532.22,561.97 533.2,560.5Z"/></clipPath>
<clipPath id="ch3"><path d="M610,566.4 C611.07,565.13 613.47,563.83 615.8,563.4 C618.13,562.97 621.27,563.3 624,563.8 C626.73,564.3 630.05,565.2 632.2,566.4 C634.35,567.6 636.12,569.07 636.9,571 C637.68,572.93 636.32,576.25 636.9,578 C637.48,579.75 638.65,580.52 640.4,581.5 C642.15,582.48 645.45,583.32 647.4,583.9 C649.35,584.48 651.32,585.98 652.1,585 C652.88,584.02 651.52,579.93 652.1,578 C652.68,576.07 653.85,574.47 655.6,573.4 C657.35,572.33 660.27,571.7 662.6,571.6 C664.93,571.5 668.05,572.02 669.6,572.8 C671.15,573.58 671.72,575.03 671.9,576.3 C672.08,577.57 670.32,578.95 670.7,580.4 C671.08,581.85 673.03,583.25 674.2,585 C675.37,586.75 677.02,588.55 677.7,590.9 C678.38,593.25 678.68,596.77 678.3,599.1 C677.92,601.43 676.85,603.15 675.4,604.9 C673.95,606.65 671.35,608.05 669.6,609.6 C667.85,611.15 666.65,613.23 664.9,614.2 C663.15,615.17 661.05,615 659.1,615.4 C657.15,615.8 654.97,615.72 653.2,616.6 C651.43,617.48 650.25,619.93 648.5,620.7 C646.75,621.47 644.83,621.2 642.7,621.2 C640.57,621.2 637.83,621.28 635.7,620.7 C633.57,620.12 631.85,618.97 629.9,617.7 C627.95,616.43 626.15,614.65 624,613.1 C621.85,611.55 619.13,610.35 617,608.4 C614.87,606.45 612.57,603.73 611.2,601.4 C609.83,599.07 609,597.13 608.8,594.4 C608.6,591.67 610,587.92 610,585 C610,582.08 608.9,579.23 608.8,576.9 C608.7,574.57 609.2,572.75 609.4,571 C609.6,569.25 608.93,567.67 610,566.4Z"/></clipPath>
<g clip-path="url(#ch2)" fill="#a030f0">
<path d="M532,608 C537,614 545,620 556,622 C562,621 566,617 568,613 L560,618 C552,620 544,616 537,611 Z" opacity="0.9"/>
<path d="M558,600 C562,598 566,599 569,601 C569,605 566,609 562,610 C559,607 558,604 558,600Z" opacity="0.85"/>
<path d="M526,572 L532,571 L535,575 L530,582 L527,585 Z" opacity="0.7"/>
<path d="M576,605 L584,603 L588,600 L587,606 L578,608Z" opacity="0.6"/>
</g>
<g clip-path="url(#ch3)" fill="#a030f0">
<path d="M626,612 C629,609 633,609 635,612 C638,614 640,618 642,621 L632,622 C629,619 627,616 626,612Z" opacity="0.9"/>
<path d="M643,619 L648,619 L646,622 L643,622Z" opacity="0.8"/>
</g>
<rect x="608.5" y="565.5" width="1.5" height="1.5" fill="#a030f0"/>
<path d="M537.3,610.1 C541,612.5 546,617 551.9,618.9 C555,619.5 558,619.5 558.9,618.9 C560,616 558,609 555.4,604.9 C553.5,602 552,599.5 553,599.1 C554,597 558,598 562.4,600.2 C565,601 567,601.2 569.4,601.4" fill="none" stroke="#111" stroke-width="0.9" stroke-dasharray="2 1.3"/>
<path d="M626.4,611.9 C628,609 629.5,607.5 631,607.2 C634,606 637,606 638,606.6 C640.5,607.5 641.5,609 641.5,609.6 C642,612 642,615 642.1,616.6 C642.3,618.5 642.5,619.5 642.7,620.1" fill="none" stroke="#111" stroke-width="0.9" stroke-dasharray="2 1.3"/>
<g transform="translate(0,0) scale(1)">
<path d="M474.2,518.4 C475,517.97 477.42,517.07 478.5,517.5 C479.58,517.93 480.18,519.53 480.7,521 C481.22,522.47 481.82,524.83 481.6,526.3 C481.38,527.77 480.35,529.08 479.4,529.8 C478.45,530.52 476.92,530.02 475.9,530.6 C474.88,531.18 474.18,532.27 473.3,533.3 C472.42,534.33 471.48,535.48 470.6,536.8 C469.72,538.12 468.72,539.75 468,541.2 C467.28,542.65 466.95,544.48 466.3,545.5 C465.65,546.52 464.62,547.43 464.1,547.3 C463.58,547.17 462.98,545.72 463.2,544.7 C463.42,543.68 464.75,542.52 465.4,541.2 C466.05,539.88 466.52,538.27 467.1,536.8 C467.68,535.33 468.17,533.87 468.9,532.4 C469.63,530.93 470.77,529.47 471.5,528 C472.23,526.53 472.93,524.92 473.3,523.6 C473.67,522.28 473.55,520.97 473.7,520.1 C473.85,519.23 473.4,518.83 474.2,518.4Z" fill="#b3aaf2" />
<path d="M475,530.6 C475.43,530.45 476.68,532.12 477.2,533.3 C477.72,534.48 478.1,536.53 478.1,537.7 C478.1,538.87 477.78,539.8 477.2,540.3 C476.62,540.8 475.55,540.92 474.6,540.7 C473.65,540.48 471.72,539.65 471.5,539 C471.28,538.35 472.78,537.6 473.3,536.8 C473.82,536 474.32,535.23 474.6,534.2 C474.88,533.17 474.57,530.75 475,530.6Z" fill="#eaf27a" />
<ellipse cx="477.2" cy="514.6" rx="1.9" ry="3.4" fill="#1c1cee"/>
</g>
<g transform="translate(182.24,109.32) scale(0.8)">
<path d="M474.2,518.4 C475,517.97 477.42,517.07 478.5,517.5 C479.58,517.93 480.18,519.53 480.7,521 C481.22,522.47 481.82,524.83 481.6,526.3 C481.38,527.77 480.35,529.08 479.4,529.8 C478.45,530.52 476.92,530.02 475.9,530.6 C474.88,531.18 474.18,532.27 473.3,533.3 C472.42,534.33 471.48,535.48 470.6,536.8 C469.72,538.12 468.72,539.75 468,541.2 C467.28,542.65 466.95,544.48 466.3,545.5 C465.65,546.52 464.62,547.43 464.1,547.3 C463.58,547.17 462.98,545.72 463.2,544.7 C463.42,543.68 464.75,542.52 465.4,541.2 C466.05,539.88 466.52,538.27 467.1,536.8 C467.68,535.33 468.17,533.87 468.9,532.4 C469.63,530.93 470.77,529.47 471.5,528 C472.23,526.53 472.93,524.92 473.3,523.6 C473.67,522.28 473.55,520.97 473.7,520.1 C473.85,519.23 473.4,518.83 474.2,518.4Z" fill="#b3aaf2" />
<path d="M475,530.6 C475.43,530.45 476.68,532.12 477.2,533.3 C477.72,534.48 478.1,536.53 478.1,537.7 C478.1,538.87 477.78,539.8 477.2,540.3 C476.62,540.8 475.55,540.92 474.6,540.7 C473.65,540.48 471.72,539.65 471.5,539 C471.28,538.35 472.78,537.6 473.3,536.8 C473.82,536 474.32,535.23 474.6,534.2 C474.88,533.17 474.57,530.75 475,530.6Z" fill="#eaf27a" />
<ellipse cx="477.2" cy="514.6" rx="1.9" ry="3.4" fill="#1c1cee"/>
<path d="M473.5,514 L475,521 L474,527 L472.5,520Z" fill="#d02020" opacity="0.8"/>
<path d="M474.5,518 L477,523 L475.5,528 L474,522Z" fill="#a030f0" opacity="0.8"/>
</g>
<g>
<g transform="translate(263.74,106.32) scale(0.8)">
<path d="M474.2,518.4 C475,517.97 477.42,517.07 478.5,517.5 C479.58,517.93 480.18,519.53 480.7,521 C481.22,522.47 481.82,524.83 481.6,526.3 C481.38,527.77 480.35,529.08 479.4,529.8 C478.45,530.52 476.92,530.02 475.9,530.6 C474.88,531.18 474.18,532.27 473.3,533.3 C472.42,534.33 471.48,535.48 470.6,536.8 C469.72,538.12 468.72,539.75 468,541.2 C467.28,542.65 466.95,544.48 466.3,545.5 C465.65,546.52 464.62,547.43 464.1,547.3 C463.58,547.17 462.98,545.72 463.2,544.7 C463.42,543.68 464.75,542.52 465.4,541.2 C466.05,539.88 466.52,538.27 467.1,536.8 C467.68,535.33 468.17,533.87 468.9,532.4 C469.63,530.93 470.77,529.47 471.5,528 C472.23,526.53 472.93,524.92 473.3,523.6 C473.67,522.28 473.55,520.97 473.7,520.1 C473.85,519.23 473.4,518.83 474.2,518.4Z" fill="#b3aaf2" />
<path d="M475,530.6 C475.43,530.45 476.68,532.12 477.2,533.3 C477.72,534.48 478.1,536.53 478.1,537.7 C478.1,538.87 477.78,539.8 477.2,540.3 C476.62,540.8 475.55,540.92 474.6,540.7 C473.65,540.48 471.72,539.65 471.5,539 C471.28,538.35 472.78,537.6 473.3,536.8 C473.82,536 474.32,535.23 474.6,534.2 C474.88,533.17 474.57,530.75 475,530.6Z" fill="#eaf27a" />
<ellipse cx="477.2" cy="514.6" rx="1.9" ry="3.4" fill="#1c1cee"/>
<path d="M473.5,514 L475,521 L474,527 L472.5,520Z" fill="#d02020" opacity="0.8"/>
<path d="M474.5,518 L477,523 L475.5,528 L474,522Z" fill="#a030f0" opacity="0.8"/>
</g>
</g>
<rect x="455" y="503" width="1" height="1" fill="#b3aaf2" />
<rect x="456" y="502.5" width="1" height="1" fill="#b3aaf2" />
<rect x="458" y="504" width="1" height="1" fill="#b3aaf2" />
<rect x="465" y="504" width="1" height="1" fill="#b3aaf2" />
<rect x="466" y="502" width="1" height="1" fill="#b3aaf2" />
<rect x="468" y="506" width="1" height="1" fill="#b3aaf2" />
<rect x="449" y="510" width="1" height="1" fill="#b3aaf2" />
<rect x="448" y="513" width="1" height="1" fill="#b3aaf2" />
<rect x="459" y="512" width="1" height="1" fill="#b3aaf2" />
<rect x="461" y="518" width="1" height="1" fill="#b3aaf2" />
<rect x="458" y="520" width="1" height="1" fill="#b3aaf2" />
<rect x="485" y="524" width="1" height="1" fill="#b3aaf2" />
<rect x="488" y="528" width="1" height="1" fill="#b3aaf2" />
<rect x="484" y="541" width="1" height="1" fill="#b3aaf2" />
<rect x="485" y="542" width="1" height="1" fill="#b3aaf2" />
<rect x="469" y="500" width="1" height="1" fill="#b3aaf2" />
<rect x="471" y="507" width="1" height="1" fill="#b3aaf2" />
<rect x="554.5" y="508" width="1.1" height="1.1" fill="#8a80f0" />
<rect x="555.5" y="507.5" width="1.1" height="1.1" fill="#8a80f0" />
<rect x="572" y="540" width="1.1" height="1.1" fill="#8a80f0" />
<rect x="543" y="533" width="1.1" height="1.1" fill="#8a80f0" />
<rect x="574" y="527" width="1.1" height="1.1" fill="#8a80f0" />
<rect x="648" y="518" width="1.1" height="1.1" fill="#8a80f0" />
<rect x="661" y="531" width="1.1" height="1.1" fill="#8a80f0" />
<rect x="640" y="543" width="1.1" height="1.1" fill="#8a80f0" />
<circle cx="464.2" cy="643.5" r="2.2" fill="#1c1cee"/>
<text x="471.3" y="645.8" font-size="6.4" fill="#222" text-anchor="start" >Epicardium</text>
<circle cx="510" cy="643.5" r="2.2" fill="#b3aaf2"/>
<text x="517" y="645.8" font-size="6.4" fill="#222" text-anchor="start" >Fibroblasts</text>
<circle cx="553" cy="643.5" r="2.2" fill="#a030f0"/>
<text x="559.8" y="645.8" font-size="6.4" fill="#222" text-anchor="start" >Fibroblasts (reg.)</text>
<circle cx="613.5" cy="643.5" r="2.2" fill="#eaf27a"/>
<text x="619.9" y="645.8" font-size="6.4" fill="#222" text-anchor="start" >Valves</text>
<rect x="644.7" y="641.5" width="4" height="4" fill="#a030f0" />
<text x="650.5" y="645.8" font-size="6.4" fill="#222" text-anchor="start" >12:FB (reg.)</text>
<text x="1.8" y="666.8" font-size="19" fill="#000" text-anchor="start" font-weight="bold" >i</text>
<rect x="12.3" y="655.2" width="70.2" height="8.7" fill="#000" />
<text x="47.4" y="662.3" font-size="7.3" font-weight="bold" text-anchor="middle"><tspan fill="#30d030" font-style="italic">col12a1a</tspan><tspan fill="#fff"> / </tspan><tspan fill="#ff2a2a" font-style="italic">lum</tspan></text>
<rect x="84.5" y="655.2" width="70.1" height="8.7" fill="#000" />
<text x="119.55" y="662.3" font-size="7.3" font-weight="bold" text-anchor="middle"><tspan fill="#30d030" font-style="italic">col12a1a</tspan><tspan fill="#fff"> / </tspan><tspan fill="#4a3aff">DAPI</tspan></text>
<rect x="156.5" y="655.2" width="69.9" height="8.7" fill="#000" />
<text x="191.45" y="662.3" font-size="7.3" font-weight="bold" text-anchor="middle"><tspan fill="#ff2a2a" font-style="italic">lum</tspan><tspan fill="#fff"> / </tspan><tspan fill="#4a3aff">DAPI</tspan></text>
<path d="M11.5,665.7 L11.5,760.6 M11.5,763.6 L11.5,858.8" stroke="#777" stroke-width="0.9"/>
<text x="0" y="0" font-size="8.5" fill="#111" text-anchor="middle" transform="translate(8.7,713) rotate(-90)">uninjured</text>
<text x="0" y="0" font-size="8.5" fill="#111" text-anchor="middle" transform="translate(8.7,809.7) rotate(-90)">7 dpa</text>
<rect x="12.3" y="665.7" width="70.2" height="45.9" fill="#000" />
<clipPath id="cl00"><rect x="12.3" y="665.7" width="70.2" height="45.9"/></clipPath>
<clipPath id="t10"><path d="M12.3,665.7 L82.5,665.7 L82.5,673.7 C76.5,690.7 64.5,705.7 54.3,711.7 L48.3,711.7 C34.3,699.7 20.3,683.7 12.3,671.7Z"/></clipPath>
<path d="M12.3,665.7 L82.5,665.7 L82.5,673.7 C76.5,690.7 64.5,705.7 54.3,711.7 L48.3,711.7 C34.3,699.7 20.3,683.7 12.3,671.7Z" fill="#150505"/>
<circle cx="27" cy="690" r="0.7" fill="#40e040"/>
<circle cx="30" cy="697" r="0.7" fill="#40e040"/>
<circle cx="35" cy="703" r="0.7" fill="#40e040"/>
<circle cx="62" cy="703" r="0.7" fill="#40e040"/>
<circle cx="70" cy="697" r="0.7" fill="#40e040"/>
<circle cx="75" cy="689" r="0.7" fill="#40e040"/>
<circle cx="33" cy="684" r="0.7" fill="#40e040"/>
<circle cx="24" cy="680" r="0.7" fill="#40e040"/>
<rect x="49.2" y="691.5" width="23.4" height="16" fill="none" stroke="#ddd" stroke-width="0.7" stroke-dasharray="1.8 1"/>
<path d="M74.5,709 L80,709" stroke="#ccc" stroke-width="0.7"/>
<path d="M49.2,707.5 L12.3,714.5 M72.6,707.5 L82.5,714.5" stroke="#c8a428" stroke-width="0.6"/>
<rect x="84.5" y="665.7" width="70.1" height="45.9" fill="#000" />
<clipPath id="cl10"><rect x="84.5" y="665.7" width="70.1" height="45.9"/></clipPath>
<clipPath id="t11"><path d="M84.5,665.7 L154.6,665.7 L154.6,673.7 C148.6,690.7 136.6,705.7 126.5,711.7 L120.5,711.7 C106.5,699.7 92.5,683.7 84.5,671.7Z"/></clipPath>
<path d="M84.5,665.7 L154.6,665.7 L154.6,673.7 C148.6,690.7 136.6,705.7 126.5,711.7 L120.5,711.7 C106.5,699.7 92.5,683.7 84.5,671.7Z" fill="#05051a"/>
<g fill="#2828c8" opacity="0.8" clip-path="url(#t11)"><ellipse cx="89.2" cy="680.65" rx="0.35" ry="0.45"/><ellipse cx="137.26" cy="697.55" rx="0.51" ry="0.61"/><ellipse cx="116.12" cy="705.39" rx="0.56" ry="0.4"/><ellipse cx="124.23" cy="687.58" rx="0.54" ry="0.43"/><ellipse cx="133.24" cy="674.37" rx="0.45" ry="0.43"/><ellipse cx="103.21" cy="674" rx="0.61" ry="0.58"/><ellipse cx="86.63" cy="692.12" rx="0.38" ry="0.58"/><ellipse cx="113.06" cy="690.42" rx="0.62" ry="0.62"/><ellipse cx="132.36" cy="679.17" rx="0.38" ry="0.55"/><ellipse cx="121.97" cy="706.69" rx="0.66" ry="0.42"/><ellipse cx="113.32" cy="698.31" rx="0.5" ry="0.69"/><ellipse cx="85.44" cy="684.69" rx="0.65" ry="0.68"/><ellipse cx="119.96" cy="677.26" rx="0.56" ry="0.46"/><ellipse cx="133.33" cy="681.41" rx="0.42" ry="0.56"/><ellipse cx="138.57" cy="688.19" rx="0.56" ry="0.55"/><ellipse cx="121.25" cy="665.97" rx="0.48" ry="0.66"/><ellipse cx="120.37" cy="701.66" rx="0.68" ry="0.36"/><ellipse cx="135.54" cy="688.15" rx="0.35" ry="0.43"/><ellipse cx="119.09" cy="686.87" rx="0.65" ry="0.47"/><ellipse cx="139.71" cy="684.57" rx="0.68" ry="0.69"/><ellipse cx="95.84" cy="703.22" rx="0.39" ry="0.47"/><ellipse cx="146.58" cy="685.61" rx="0.36" ry="0.35"/><ellipse cx="153.69" cy="705.12" rx="0.69" ry="0.47"/><ellipse cx="105.89" cy="697.17" rx="0.37" ry="0.56"/><ellipse cx="95.28" cy="674.26" rx="0.61" ry="0.43"/><ellipse cx="153.82" cy="696.41" rx="0.56" ry="0.57"/><ellipse cx="101.27" cy="709.66" rx="0.36" ry="0.67"/><ellipse cx="121.86" cy="693.34" rx="0.54" ry="0.49"/><ellipse cx="96.15" cy="681.85" rx="0.57" ry="0.46"/><ellipse cx="140.28" cy="697.52" rx="0.36" ry="0.38"/><ellipse cx="143.87" cy="690.24" rx="0.4" ry="0.54"/><ellipse cx="123.02" cy="698.19" rx="0.52" ry="0.68"/><ellipse cx="85.54" cy="706.44" rx="0.6" ry="0.48"/><ellipse cx="91.66" cy="672.34" rx="0.6" ry="0.58"/><ellipse cx="121.64" cy="669.51" rx="0.39" ry="0.52"/><ellipse cx="92.06" cy="679.22" rx="0.36" ry="0.43"/><ellipse cx="123.19" cy="702.62" rx="0.35" ry="0.45"/><ellipse cx="107.74" cy="675.79" rx="0.49" ry="0.35"/><ellipse cx="97.73" cy="677.85" rx="0.65" ry="0.45"/><ellipse cx="132.87" cy="700.78" rx="0.59" ry="0.5"/><ellipse cx="106.54" cy="689.8" rx="0.48" ry="0.46"/><ellipse cx="110.64" cy="668.33" rx="0.56" ry="0.49"/><ellipse cx="88.74" cy="681.24" rx="0.37" ry="0.53"/><ellipse cx="123.06" cy="710.29" rx="0.4" ry="0.55"/><ellipse cx="139.98" cy="676.83" rx="0.51" ry="0.55"/><ellipse cx="92.35" cy="686.23" rx="0.67" ry="0.67"/><ellipse cx="148.2" cy="666.31" rx="0.58" ry="0.61"/><ellipse cx="106.54" cy="676.64" rx="0.59" ry="0.47"/><ellipse cx="148.61" cy="680.29" rx="0.65" ry="0.59"/><ellipse cx="111.5" cy="698.48" rx="0.67" ry="0.6"/><ellipse cx="104.26" cy="671.05" rx="0.56" ry="0.62"/><ellipse cx="127.37" cy="676.46" rx="0.58" ry="0.6"/><ellipse cx="111.91" cy="697.59" rx="0.59" ry="0.69"/><ellipse cx="85.8" cy="709.41" rx="0.6" ry="0.4"/><ellipse cx="96.05" cy="682.82" rx="0.57" ry="0.55"/><ellipse cx="113.7" cy="705.05" rx="0.53" ry="0.56"/><ellipse cx="133.67" cy="704.19" rx="0.41" ry="0.38"/><ellipse cx="117.5" cy="703.89" rx="0.66" ry="0.54"/><ellipse cx="94.93" cy="695.07" rx="0.65" ry="0.61"/><ellipse cx="96.83" cy="667.89" rx="0.51" ry="0.43"/><ellipse cx="107.05" cy="700.05" rx="0.62" ry="0.55"/><ellipse cx="148.72" cy="698.22" rx="0.41" ry="0.49"/><ellipse cx="105.53" cy="710.93" rx="0.5" ry="0.45"/><ellipse cx="144.27" cy="709.56" rx="0.48" ry="0.45"/><ellipse cx="106.96" cy="667.73" rx="0.58" ry="0.36"/><ellipse cx="154.21" cy="703.26" rx="0.49" ry="0.56"/><ellipse cx="142.96" cy="671.09" rx="0.59" ry="0.65"/><ellipse cx="120.55" cy="705.86" rx="0.44" ry="0.35"/><ellipse cx="100.67" cy="711.42" rx="0.47" ry="0.46"/><ellipse cx="89.39" cy="683.68" rx="0.44" ry="0.52"/><ellipse cx="86.75" cy="670.74" rx="0.36" ry="0.68"/><ellipse cx="138.8" cy="675.5" rx="0.45" ry="0.43"/><ellipse cx="119.25" cy="689.17" rx="0.6" ry="0.57"/><ellipse cx="87.31" cy="692.66" rx="0.36" ry="0.5"/><ellipse cx="88.42" cy="682.38" rx="0.4" ry="0.6"/><ellipse cx="113.06" cy="701.09" rx="0.38" ry="0.44"/><ellipse cx="119.12" cy="687.43" rx="0.39" ry="0.57"/><ellipse cx="123.33" cy="704.42" rx="0.69" ry="0.62"/><ellipse cx="103.53" cy="695.22" rx="0.51" ry="0.36"/><ellipse cx="127.01" cy="677.84" rx="0.43" ry="0.57"/><ellipse cx="100.32" cy="708.5" rx="0.67" ry="0.41"/><ellipse cx="153.02" cy="673.99" rx="0.57" ry="0.66"/><ellipse cx="107.64" cy="701.77" rx="0.52" ry="0.43"/><ellipse cx="141.35" cy="688.7" rx="0.62" ry="0.67"/><ellipse cx="113.58" cy="711.17" rx="0.61" ry="0.6"/><ellipse cx="123.42" cy="701.72" rx="0.39" ry="0.4"/><ellipse cx="141.43" cy="706.54" rx="0.59" ry="0.65"/><ellipse cx="148.27" cy="707.38" rx="0.67" ry="0.49"/><ellipse cx="87.66" cy="682.66" rx="0.65" ry="0.58"/><ellipse cx="94.48" cy="676.63" rx="0.49" ry="0.37"/><ellipse cx="134.26" cy="688.46" rx="0.68" ry="0.62"/><ellipse cx="115.23" cy="673.62" rx="0.55" ry="0.7"/><ellipse cx="137.91" cy="673.92" rx="0.4" ry="0.4"/><ellipse cx="120.78" cy="669.01" rx="0.67" ry="0.52"/><ellipse cx="122.2" cy="695.77" rx="0.49" ry="0.56"/><ellipse cx="88.04" cy="708.78" rx="0.7" ry="0.68"/><ellipse cx="116.5" cy="669.29" rx="0.39" ry="0.54"/><ellipse cx="113.43" cy="690.07" rx="0.63" ry="0.68"/><ellipse cx="131.92" cy="700.36" rx="0.56" ry="0.54"/><ellipse cx="110.32" cy="679.39" rx="0.69" ry="0.62"/><ellipse cx="130.63" cy="667.86" rx="0.63" ry="0.46"/><ellipse cx="109.79" cy="684.62" rx="0.62" ry="0.42"/><ellipse cx="123.8" cy="669.14" rx="0.61" ry="0.43"/><ellipse cx="140.2" cy="677.84" rx="0.53" ry="0.35"/><ellipse cx="102.3" cy="667.85" rx="0.42" ry="0.5"/><ellipse cx="86.23" cy="686.81" rx="0.39" ry="0.47"/><ellipse cx="88.18" cy="686.37" rx="0.49" ry="0.5"/><ellipse cx="124.79" cy="671.13" rx="0.67" ry="0.43"/><ellipse cx="85.12" cy="699.01" rx="0.64" ry="0.5"/><ellipse cx="153.56" cy="692.4" rx="0.43" ry="0.36"/><ellipse cx="134.7" cy="698.26" rx="0.67" ry="0.44"/><ellipse cx="154.57" cy="705.76" rx="0.52" ry="0.47"/><ellipse cx="98.27" cy="694.91" rx="0.53" ry="0.65"/><ellipse cx="96.89" cy="690.89" rx="0.53" ry="0.37"/><ellipse cx="86.14" cy="696.73" rx="0.66" ry="0.52"/><ellipse cx="93.11" cy="709.43" rx="0.47" ry="0.47"/><ellipse cx="102.8" cy="679.78" rx="0.58" ry="0.52"/><ellipse cx="130.66" cy="694.98" rx="0.59" ry="0.45"/><ellipse cx="142.23" cy="666.65" rx="0.46" ry="0.55"/><ellipse cx="148.66" cy="702.52" rx="0.69" ry="0.36"/><ellipse cx="109.21" cy="701.76" rx="0.55" ry="0.56"/><ellipse cx="154.21" cy="701.07" rx="0.42" ry="0.37"/><ellipse cx="121.98" cy="704.26" rx="0.47" ry="0.65"/><ellipse cx="98.84" cy="667.92" rx="0.44" ry="0.38"/><ellipse cx="133.49" cy="697.55" rx="0.5" ry="0.65"/><ellipse cx="133.92" cy="666.72" rx="0.49" ry="0.41"/><ellipse cx="101.6" cy="677.49" rx="0.45" ry="0.59"/><ellipse cx="154.03" cy="677.65" rx="0.54" ry="0.54"/><ellipse cx="117.78" cy="687.09" rx="0.48" ry="0.54"/><ellipse cx="143.12" cy="671.61" rx="0.36" ry="0.44"/><ellipse cx="130.47" cy="670.67" rx="0.54" ry="0.5"/><ellipse cx="95.27" cy="698.73" rx="0.63" ry="0.67"/><ellipse cx="123.02" cy="695.1" rx="0.53" ry="0.7"/><ellipse cx="107.96" cy="681.05" rx="0.54" ry="0.55"/><ellipse cx="88.34" cy="679.18" rx="0.6" ry="0.63"/><ellipse cx="114.25" cy="674.47" rx="0.49" ry="0.65"/><ellipse cx="129.43" cy="681.01" rx="0.46" ry="0.54"/><ellipse cx="115.57" cy="667.17" rx="0.66" ry="0.38"/><ellipse cx="135.16" cy="680.37" rx="0.47" ry="0.48"/><ellipse cx="86.45" cy="671.84" rx="0.47" ry="0.4"/><ellipse cx="90.46" cy="666.33" rx="0.46" ry="0.6"/><ellipse cx="87.87" cy="702.57" rx="0.62" ry="0.41"/><ellipse cx="121.46" cy="676.13" rx="0.69" ry="0.35"/><ellipse cx="117.56" cy="671.41" rx="0.63" ry="0.42"/><ellipse cx="88.33" cy="671.59" rx="0.69" ry="0.35"/><ellipse cx="130.06" cy="693.38" rx="0.45" ry="0.67"/><ellipse cx="125.2" cy="691.06" rx="0.36" ry="0.53"/><ellipse cx="98.17" cy="686.79" rx="0.37" ry="0.69"/><ellipse cx="140.63" cy="679.63" rx="0.48" ry="0.42"/><ellipse cx="93" cy="685.34" rx="0.48" ry="0.43"/><ellipse cx="139.68" cy="699.97" rx="0.69" ry="0.59"/><ellipse cx="127.51" cy="678.1" rx="0.62" ry="0.54"/><ellipse cx="129.75" cy="706.74" rx="0.48" ry="0.55"/><ellipse cx="106.19" cy="682.2" rx="0.6" ry="0.44"/><ellipse cx="129.68" cy="705.21" rx="0.44" ry="0.64"/><ellipse cx="133.23" cy="706.22" rx="0.55" ry="0.7"/><ellipse cx="137.05" cy="706.96" rx="0.68" ry="0.38"/><ellipse cx="98.05" cy="709.54" rx="0.59" ry="0.66"/><ellipse cx="99.76" cy="701.74" rx="0.38" ry="0.67"/><ellipse cx="88.42" cy="697.57" rx="0.37" ry="0.62"/></g>
<circle cx="99" cy="690" r="0.6" fill="#40d040"/>
<circle cx="102" cy="697" r="0.6" fill="#40d040"/>
<circle cx="107" cy="703" r="0.6" fill="#40d040"/>
<rect x="121.4" y="691.5" width="23.4" height="16" fill="none" stroke="#ddd" stroke-width="0.7" stroke-dasharray="1.8 1"/>
<path d="M146.6,709 L152.1,709" stroke="#ccc" stroke-width="0.7"/>
<path d="M121.4,707.5 L84.5,714.5 M144.8,707.5 L154.6,714.5" stroke="#c8a428" stroke-width="0.6"/>
<rect x="156.5" y="665.7" width="69.9" height="45.9" fill="#000" />
<clipPath id="cl20"><rect x="156.5" y="665.7" width="69.9" height="45.9"/></clipPath>
<clipPath id="t12"><path d="M156.5,665.7 L226.4,665.7 L226.4,673.7 C220.4,690.7 208.4,705.7 198.5,711.7 L192.5,711.7 C178.5,699.7 164.5,683.7 156.5,671.7Z"/></clipPath>
<path d="M156.5,665.7 L226.4,665.7 L226.4,673.7 C220.4,690.7 208.4,705.7 198.5,711.7 L192.5,711.7 C178.5,699.7 164.5,683.7 156.5,671.7Z" fill="#0e0516"/>
<g fill="#2828c8" opacity="0.8" clip-path="url(#t12)"><ellipse cx="209.9" cy="695.3" rx="0.49" ry="0.42"/><ellipse cx="203.8" cy="710.19" rx="0.5" ry="0.65"/><ellipse cx="159.02" cy="689.93" rx="0.42" ry="0.52"/><ellipse cx="199.23" cy="704.99" rx="0.53" ry="0.65"/><ellipse cx="179.34" cy="671.59" rx="0.51" ry="0.6"/><ellipse cx="205.99" cy="667.39" rx="0.44" ry="0.44"/><ellipse cx="189.46" cy="705.25" rx="0.44" ry="0.37"/><ellipse cx="219.27" cy="705.6" rx="0.62" ry="0.36"/><ellipse cx="174.72" cy="673.81" rx="0.67" ry="0.39"/><ellipse cx="165.41" cy="675.83" rx="0.63" ry="0.42"/><ellipse cx="225.24" cy="679.84" rx="0.58" ry="0.42"/><ellipse cx="176.91" cy="705.42" rx="0.7" ry="0.43"/><ellipse cx="180.93" cy="668.33" rx="0.42" ry="0.48"/><ellipse cx="192.93" cy="691.99" rx="0.47" ry="0.41"/><ellipse cx="195.34" cy="681.72" rx="0.47" ry="0.69"/><ellipse cx="197.55" cy="666.39" rx="0.68" ry="0.69"/><ellipse cx="183.76" cy="710.67" rx="0.39" ry="0.67"/><ellipse cx="168.3" cy="705.36" rx="0.59" ry="0.69"/><ellipse cx="177.63" cy="695.72" rx="0.68" ry="0.4"/><ellipse cx="169.44" cy="691.27" rx="0.4" ry="0.37"/><ellipse cx="157.59" cy="681.63" rx="0.58" ry="0.51"/><ellipse cx="198.73" cy="666.91" rx="0.39" ry="0.55"/><ellipse cx="167.46" cy="666.29" rx="0.37" ry="0.58"/><ellipse cx="223.6" cy="688.48" rx="0.35" ry="0.42"/><ellipse cx="204.12" cy="702.08" rx="0.42" ry="0.51"/><ellipse cx="159.04" cy="690.5" rx="0.61" ry="0.52"/><ellipse cx="211.39" cy="676.45" rx="0.58" ry="0.51"/><ellipse cx="198.69" cy="669.04" rx="0.51" ry="0.57"/><ellipse cx="172.87" cy="691.13" rx="0.36" ry="0.5"/><ellipse cx="222.29" cy="695.4" rx="0.53" ry="0.65"/><ellipse cx="204.98" cy="689.06" rx="0.48" ry="0.66"/><ellipse cx="195.95" cy="688.08" rx="0.48" ry="0.4"/><ellipse cx="169.81" cy="693.36" rx="0.54" ry="0.62"/><ellipse cx="187.89" cy="683.35" rx="0.54" ry="0.44"/><ellipse cx="223.71" cy="694.86" rx="0.46" ry="0.52"/><ellipse cx="215.27" cy="709.35" rx="0.59" ry="0.66"/><ellipse cx="212.88" cy="682.56" rx="0.5" ry="0.51"/><ellipse cx="160.14" cy="692.85" rx="0.54" ry="0.63"/><ellipse cx="180.26" cy="710.55" rx="0.61" ry="0.55"/><ellipse cx="172.41" cy="708.57" rx="0.59" ry="0.57"/><ellipse cx="170.04" cy="674.8" rx="0.42" ry="0.67"/><ellipse cx="187.46" cy="697.88" rx="0.59" ry="0.63"/><ellipse cx="176.69" cy="674.97" rx="0.69" ry="0.4"/><ellipse cx="226.39" cy="683.88" rx="0.36" ry="0.46"/><ellipse cx="210.07" cy="684.31" rx="0.4" ry="0.38"/><ellipse cx="159.95" cy="691.95" rx="0.48" ry="0.59"/><ellipse cx="165.29" cy="678.74" rx="0.54" ry="0.46"/><ellipse cx="205.02" cy="677.67" rx="0.61" ry="0.58"/><ellipse cx="185.33" cy="698.03" rx="0.47" ry="0.67"/><ellipse cx="208.32" cy="678.81" rx="0.65" ry="0.57"/><ellipse cx="216.9" cy="698.29" rx="0.67" ry="0.54"/><ellipse cx="180.58" cy="699.45" rx="0.67" ry="0.53"/><ellipse cx="206.56" cy="693.46" rx="0.47" ry="0.42"/><ellipse cx="200.05" cy="673.36" rx="0.51" ry="0.62"/><ellipse cx="183.13" cy="685.57" rx="0.69" ry="0.56"/><ellipse cx="194.29" cy="674.58" rx="0.61" ry="0.48"/><ellipse cx="206.57" cy="709.47" rx="0.64" ry="0.43"/><ellipse cx="221.41" cy="696.25" rx="0.41" ry="0.37"/><ellipse cx="173.82" cy="692.53" rx="0.52" ry="0.35"/><ellipse cx="222.82" cy="668.75" rx="0.64" ry="0.52"/><ellipse cx="212.36" cy="702.87" rx="0.59" ry="0.48"/><ellipse cx="192.75" cy="675.06" rx="0.44" ry="0.36"/><ellipse cx="182.02" cy="707.08" rx="0.6" ry="0.37"/><ellipse cx="180.44" cy="685.74" rx="0.53" ry="0.53"/><ellipse cx="215.04" cy="674.7" rx="0.57" ry="0.58"/><ellipse cx="157.66" cy="672.66" rx="0.39" ry="0.57"/><ellipse cx="216.51" cy="706.18" rx="0.64" ry="0.54"/><ellipse cx="199.79" cy="696.15" rx="0.45" ry="0.52"/><ellipse cx="165.93" cy="680.93" rx="0.48" ry="0.68"/><ellipse cx="171.14" cy="688.12" rx="0.37" ry="0.37"/><ellipse cx="192.59" cy="692.81" rx="0.53" ry="0.7"/><ellipse cx="189.76" cy="694.43" rx="0.66" ry="0.39"/><ellipse cx="210.3" cy="671.78" rx="0.66" ry="0.62"/><ellipse cx="211.09" cy="705.13" rx="0.37" ry="0.38"/><ellipse cx="185.72" cy="668.7" rx="0.67" ry="0.41"/><ellipse cx="172.73" cy="698.98" rx="0.39" ry="0.65"/><ellipse cx="181.09" cy="690.29" rx="0.64" ry="0.38"/><ellipse cx="174.31" cy="683.18" rx="0.6" ry="0.45"/><ellipse cx="185.97" cy="675.23" rx="0.56" ry="0.5"/><ellipse cx="201.83" cy="665.98" rx="0.55" ry="0.68"/><ellipse cx="173.27" cy="676.57" rx="0.62" ry="0.4"/><ellipse cx="192.16" cy="684.51" rx="0.41" ry="0.47"/><ellipse cx="212.31" cy="694.72" rx="0.44" ry="0.56"/><ellipse cx="226.06" cy="672.92" rx="0.61" ry="0.4"/><ellipse cx="174.6" cy="671.27" rx="0.55" ry="0.58"/><ellipse cx="206.27" cy="692.88" rx="0.56" ry="0.42"/><ellipse cx="175.01" cy="671.85" rx="0.69" ry="0.38"/><ellipse cx="215.82" cy="683.31" rx="0.65" ry="0.5"/><ellipse cx="222.36" cy="699.58" rx="0.62" ry="0.37"/><ellipse cx="203.77" cy="667.04" rx="0.56" ry="0.49"/><ellipse cx="166.75" cy="687.45" rx="0.46" ry="0.52"/><ellipse cx="199.64" cy="671.02" rx="0.51" ry="0.5"/><ellipse cx="220.19" cy="708.76" rx="0.45" ry="0.48"/><ellipse cx="188.49" cy="680.31" rx="0.68" ry="0.65"/><ellipse cx="168.93" cy="703.85" rx="0.64" ry="0.65"/><ellipse cx="185.62" cy="666.43" rx="0.59" ry="0.41"/><ellipse cx="206.77" cy="670.97" rx="0.55" ry="0.38"/><ellipse cx="197.75" cy="676.44" rx="0.37" ry="0.65"/><ellipse cx="209.08" cy="695.39" rx="0.47" ry="0.49"/><ellipse cx="196.13" cy="676.01" rx="0.59" ry="0.39"/><ellipse cx="167.76" cy="679.61" rx="0.53" ry="0.56"/><ellipse cx="206.13" cy="692.06" rx="0.5" ry="0.65"/><ellipse cx="193.43" cy="688.03" rx="0.43" ry="0.61"/><ellipse cx="160.03" cy="702.57" rx="0.58" ry="0.7"/><ellipse cx="215.82" cy="689.24" rx="0.59" ry="0.49"/><ellipse cx="177.41" cy="708.36" rx="0.49" ry="0.6"/><ellipse cx="157.06" cy="670.05" rx="0.64" ry="0.57"/><ellipse cx="208.6" cy="693.6" rx="0.41" ry="0.52"/><ellipse cx="192.54" cy="691.9" rx="0.69" ry="0.51"/><ellipse cx="205.53" cy="695.81" rx="0.39" ry="0.69"/><ellipse cx="185.52" cy="709.76" rx="0.66" ry="0.45"/><ellipse cx="198.35" cy="695.72" rx="0.6" ry="0.44"/><ellipse cx="169.8" cy="675.06" rx="0.48" ry="0.69"/><ellipse cx="185.89" cy="695.66" rx="0.7" ry="0.41"/><ellipse cx="184.06" cy="709.17" rx="0.48" ry="0.62"/><ellipse cx="210.89" cy="710.63" rx="0.38" ry="0.48"/><ellipse cx="217.82" cy="680.95" rx="0.42" ry="0.62"/><ellipse cx="170.92" cy="696.22" rx="0.63" ry="0.62"/><ellipse cx="206.4" cy="678.89" rx="0.55" ry="0.56"/><ellipse cx="175.62" cy="701.26" rx="0.66" ry="0.67"/><ellipse cx="192.42" cy="698.02" rx="0.69" ry="0.54"/><ellipse cx="185.81" cy="679.91" rx="0.37" ry="0.65"/><ellipse cx="226.2" cy="690.74" rx="0.63" ry="0.66"/><ellipse cx="159.9" cy="682.99" rx="0.54" ry="0.57"/><ellipse cx="167.45" cy="686.61" rx="0.47" ry="0.37"/><ellipse cx="207.41" cy="700.98" rx="0.68" ry="0.58"/><ellipse cx="212.36" cy="696.12" rx="0.43" ry="0.46"/><ellipse cx="169.99" cy="689.3" rx="0.63" ry="0.54"/><ellipse cx="158.7" cy="669.24" rx="0.58" ry="0.56"/><ellipse cx="197.78" cy="678.09" rx="0.42" ry="0.6"/><ellipse cx="173.78" cy="685.62" rx="0.61" ry="0.38"/><ellipse cx="210.57" cy="676.19" rx="0.65" ry="0.63"/><ellipse cx="207.67" cy="707.91" rx="0.68" ry="0.64"/><ellipse cx="169.39" cy="703.05" rx="0.39" ry="0.42"/><ellipse cx="215.66" cy="683.16" rx="0.62" ry="0.43"/><ellipse cx="164.75" cy="667.86" rx="0.66" ry="0.65"/><ellipse cx="223.37" cy="688.87" rx="0.62" ry="0.48"/><ellipse cx="166.87" cy="677.05" rx="0.54" ry="0.53"/><ellipse cx="160.72" cy="688.58" rx="0.48" ry="0.36"/><ellipse cx="160.15" cy="682.24" rx="0.7" ry="0.61"/><ellipse cx="178.05" cy="693.47" rx="0.69" ry="0.52"/><ellipse cx="160.35" cy="703.29" rx="0.59" ry="0.64"/><ellipse cx="213.86" cy="709.99" rx="0.62" ry="0.44"/><ellipse cx="158.62" cy="676.41" rx="0.5" ry="0.45"/><ellipse cx="189.57" cy="678.09" rx="0.58" ry="0.44"/><ellipse cx="189.23" cy="670.22" rx="0.56" ry="0.68"/><ellipse cx="213.06" cy="681.59" rx="0.65" ry="0.64"/><ellipse cx="187.68" cy="706.52" rx="0.39" ry="0.39"/><ellipse cx="216.4" cy="680.67" rx="0.41" ry="0.61"/><ellipse cx="179.08" cy="671.12" rx="0.47" ry="0.47"/><ellipse cx="198.83" cy="672.57" rx="0.68" ry="0.55"/><ellipse cx="175.74" cy="686.28" rx="0.67" ry="0.36"/><ellipse cx="177.87" cy="675.53" rx="0.56" ry="0.69"/><ellipse cx="193.17" cy="690.65" rx="0.37" ry="0.59"/><ellipse cx="164.24" cy="674.8" rx="0.57" ry="0.55"/><ellipse cx="166.06" cy="676.38" rx="0.38" ry="0.67"/><ellipse cx="224.77" cy="685.97" rx="0.61" ry="0.67"/><ellipse cx="222.13" cy="666.44" rx="0.42" ry="0.62"/><ellipse cx="215.54" cy="679.63" rx="0.37" ry="0.46"/><ellipse cx="195.01" cy="707.44" rx="0.36" ry="0.46"/></g>
<g fill="#a02040" opacity="0.8" clip-path="url(#t12)"><ellipse cx="183.39" cy="696.94" rx="0.53" ry="0.45"/><ellipse cx="168.26" cy="666.62" rx="0.42" ry="0.36"/><ellipse cx="165.99" cy="690.49" rx="0.47" ry="0.56"/><ellipse cx="165.18" cy="669.18" rx="0.38" ry="0.45"/><ellipse cx="166.22" cy="701.3" rx="0.5" ry="0.6"/><ellipse cx="176.25" cy="709.58" rx="0.43" ry="0.55"/><ellipse cx="215.31" cy="679.22" rx="0.43" ry="0.35"/><ellipse cx="201.61" cy="688.86" rx="0.51" ry="0.35"/><ellipse cx="157.85" cy="699.61" rx="0.42" ry="0.6"/><ellipse cx="203.66" cy="673.65" rx="0.55" ry="0.54"/><ellipse cx="194.51" cy="709.68" rx="0.58" ry="0.55"/><ellipse cx="214.47" cy="697.93" rx="0.49" ry="0.44"/><ellipse cx="193.51" cy="683.84" rx="0.43" ry="0.53"/><ellipse cx="214.9" cy="672.38" rx="0.37" ry="0.5"/><ellipse cx="196.3" cy="671.14" rx="0.55" ry="0.39"/><ellipse cx="225.57" cy="698.48" rx="0.6" ry="0.5"/><ellipse cx="199.91" cy="687.83" rx="0.58" ry="0.54"/><ellipse cx="157.7" cy="685.55" rx="0.51" ry="0.57"/><ellipse cx="194.01" cy="679.01" rx="0.54" ry="0.39"/><ellipse cx="158.35" cy="703.62" rx="0.39" ry="0.39"/><ellipse cx="171.86" cy="695.53" rx="0.46" ry="0.5"/><ellipse cx="215.24" cy="666.54" rx="0.35" ry="0.53"/><ellipse cx="207.62" cy="708.3" rx="0.35" ry="0.54"/><ellipse cx="217.24" cy="709.46" rx="0.43" ry="0.36"/><ellipse cx="197.32" cy="701.96" rx="0.38" ry="0.57"/><ellipse cx="165.15" cy="710.11" rx="0.54" ry="0.57"/><ellipse cx="188.54" cy="670.38" rx="0.56" ry="0.42"/><ellipse cx="199.6" cy="703.51" rx="0.38" ry="0.59"/><ellipse cx="188.69" cy="684.69" rx="0.59" ry="0.44"/><ellipse cx="197.13" cy="684.73" rx="0.46" ry="0.45"/><ellipse cx="161.59" cy="666.71" rx="0.4" ry="0.52"/><ellipse cx="209.08" cy="707.71" rx="0.51" ry="0.46"/><ellipse cx="205.34" cy="673.81" rx="0.45" ry="0.41"/><ellipse cx="204.04" cy="707.46" rx="0.51" ry="0.47"/><ellipse cx="222.22" cy="668.12" rx="0.51" ry="0.57"/><ellipse cx="201.04" cy="677.42" rx="0.49" ry="0.44"/><ellipse cx="224.23" cy="666.3" rx="0.38" ry="0.44"/><ellipse cx="165.49" cy="685.55" rx="0.55" ry="0.4"/><ellipse cx="213.95" cy="665.77" rx="0.44" ry="0.51"/><ellipse cx="210.23" cy="686.26" rx="0.45" ry="0.49"/><ellipse cx="224.85" cy="689.62" rx="0.43" ry="0.46"/><ellipse cx="173.59" cy="707.45" rx="0.39" ry="0.46"/><ellipse cx="202.98" cy="694.95" rx="0.48" ry="0.58"/><ellipse cx="178.09" cy="697.84" rx="0.57" ry="0.38"/><ellipse cx="183.54" cy="697.32" rx="0.38" ry="0.41"/><ellipse cx="190.53" cy="705.89" rx="0.57" ry="0.35"/><ellipse cx="162.94" cy="690.17" rx="0.38" ry="0.38"/><ellipse cx="202.74" cy="688.24" rx="0.55" ry="0.36"/><ellipse cx="221.3" cy="709.08" rx="0.48" ry="0.48"/><ellipse cx="163.84" cy="684.85" rx="0.53" ry="0.42"/></g>
<rect x="193.4" y="691.5" width="23.4" height="16" fill="none" stroke="#ddd" stroke-width="0.7" stroke-dasharray="1.8 1"/>
<path d="M218.4,709 L223.9,709" stroke="#ccc" stroke-width="0.7"/>
<path d="M193.4,707.5 L156.5,714.5 M216.8,707.5 L226.4,714.5" stroke="#c8a428" stroke-width="0.6"/>
<rect x="12.3" y="714.5" width="70.2" height="46.1" fill="#000" />
<clipPath id="cl01"><rect x="12.3" y="714.5" width="70.2" height="46.1"/></clipPath>
<path d="M12.3,714.5 L76,714.5 C72,732 60,748 42,760.6 L12.3,760.6Z" fill="#1c0707"/>
<path d="M12.3,714.5 L76,714.5 C72,732 60,748 42,760.6 L12.3,760.6Z" fill="#000" filter="url(#rtex2)" opacity="0.8"/>
<circle cx="68" cy="721" r="0.8" fill="#40e040"/>
<circle cx="66" cy="726" r="0.8" fill="#40e040"/>
<circle cx="64" cy="730" r="0.8" fill="#40e040"/>
<circle cx="60" cy="735" r="0.8" fill="#40e040"/>
<circle cx="57" cy="741" r="0.8" fill="#40e040"/>
<circle cx="52" cy="745" r="0.8" fill="#40e040"/>
<circle cx="50" cy="751" r="0.8" fill="#40e040"/>
<circle cx="45" cy="755" r="0.8" fill="#40e040"/>
<circle cx="42" cy="759" r="0.8" fill="#40e040"/>
<rect x="84.5" y="714.5" width="70.1" height="46.1" fill="#020206" />
<clipPath id="cl11"><rect x="84.5" y="714.5" width="70.1" height="46.1"/></clipPath>
<g fill="#2828e0" opacity="0.95" clip-path="url(#cl11)"><ellipse cx="136.9" cy="725.24" rx="0.65" ry="0.67"/><ellipse cx="112.68" cy="737.1" rx="0.93" ry="0.64"/><ellipse cx="147.37" cy="732.64" rx="0.73" ry="0.62"/><ellipse cx="125.48" cy="745.12" rx="0.62" ry="0.92"/><ellipse cx="121.49" cy="728.42" rx="0.69" ry="0.55"/><ellipse cx="138.33" cy="760.5" rx="0.93" ry="0.64"/><ellipse cx="107.19" cy="748.87" rx="0.55" ry="0.85"/><ellipse cx="130.29" cy="738.86" rx="0.61" ry="0.56"/><ellipse cx="84.97" cy="755.43" rx="0.99" ry="0.74"/><ellipse cx="110.67" cy="742.7" rx="0.79" ry="0.67"/><ellipse cx="129.05" cy="731.93" rx="0.95" ry="0.86"/><ellipse cx="103.73" cy="738.33" rx="0.85" ry="0.81"/><ellipse cx="139.4" cy="743.73" rx="0.74" ry="1.06"/><ellipse cx="88.94" cy="734.72" rx="0.94" ry="0.55"/><ellipse cx="88.58" cy="756.1" rx="0.66" ry="0.69"/><ellipse cx="134.94" cy="742.16" rx="0.63" ry="1.05"/><ellipse cx="97.1" cy="714.56" rx="0.69" ry="0.66"/><ellipse cx="107.19" cy="741.46" rx="0.86" ry="0.85"/><ellipse cx="144.53" cy="725.28" rx="0.68" ry="0.71"/><ellipse cx="152.87" cy="723.17" rx="0.69" ry="1.08"/><ellipse cx="85.02" cy="751.28" rx="1.06" ry="0.79"/><ellipse cx="103.7" cy="717.08" rx="0.88" ry="1.03"/><ellipse cx="100.01" cy="723.27" rx="0.68" ry="0.96"/><ellipse cx="104.12" cy="749.37" rx="0.81" ry="1.08"/><ellipse cx="118.77" cy="749.72" rx="0.9" ry="0.8"/><ellipse cx="113.68" cy="747.12" rx="1.05" ry="1.01"/><ellipse cx="115.07" cy="743.21" rx="0.8" ry="0.66"/><ellipse cx="137.6" cy="737.93" rx="0.52" ry="0.93"/><ellipse cx="121.26" cy="754.18" rx="0.74" ry="0.51"/><ellipse cx="108.54" cy="746.13" rx="0.8" ry="0.63"/><ellipse cx="100.97" cy="728.79" rx="0.52" ry="1.07"/><ellipse cx="103.11" cy="758.09" rx="0.63" ry="1.08"/><ellipse cx="143.42" cy="716.92" rx="1.05" ry="0.92"/><ellipse cx="135.36" cy="727.56" rx="0.76" ry="0.71"/><ellipse cx="92.7" cy="731.51" rx="0.57" ry="0.9"/><ellipse cx="104.88" cy="757.01" rx="1.07" ry="0.66"/><ellipse cx="90.77" cy="743.77" rx="0.77" ry="0.92"/><ellipse cx="94.34" cy="739.19" rx="0.67" ry="1.1"/><ellipse cx="128.86" cy="733.87" rx="0.78" ry="1.1"/><ellipse cx="122.54" cy="744.43" rx="0.96" ry="0.83"/><ellipse cx="109.52" cy="730.33" rx="0.78" ry="0.92"/><ellipse cx="100.43" cy="728.75" rx="0.63" ry="0.66"/><ellipse cx="112.65" cy="718.96" rx="1.06" ry="1.06"/><ellipse cx="149.38" cy="739.46" rx="0.73" ry="0.63"/><ellipse cx="90.48" cy="740.34" rx="0.67" ry="1.03"/><ellipse cx="114.32" cy="758.06" rx="0.73" ry="0.9"/><ellipse cx="90.3" cy="735.35" rx="0.55" ry="0.79"/><ellipse cx="116.29" cy="745.97" rx="0.8" ry="0.53"/><ellipse cx="101.24" cy="757.94" rx="0.75" ry="0.69"/><ellipse cx="134.15" cy="731.24" rx="0.85" ry="0.77"/><ellipse cx="124.99" cy="731.94" rx="0.75" ry="0.84"/><ellipse cx="154.37" cy="738.16" rx="1.07" ry="0.94"/><ellipse cx="116.15" cy="726" rx="1.08" ry="0.75"/><ellipse cx="101.84" cy="731.95" rx="1" ry="0.74"/><ellipse cx="120.22" cy="750.23" rx="1.03" ry="0.85"/></g>
<circle cx="140" cy="721" r="0.6" fill="#eee"/>
<circle cx="138" cy="726" r="0.6" fill="#eee"/>
<circle cx="133" cy="733" r="0.6" fill="#eee"/>
<circle cx="128" cy="741" r="0.6" fill="#eee"/>
<circle cx="122" cy="748" r="0.6" fill="#eee"/>
<circle cx="118" cy="753" r="0.6" fill="#eee"/>
<ellipse cx="138" cy="735" rx="2.6" ry="1.3" fill="#3040ff" transform="rotate(-35 138 735)"/>
<rect x="156.5" y="714.5" width="69.9" height="46.1" fill="#020206" />
<clipPath id="cl21"><rect x="156.5" y="714.5" width="69.9" height="46.1"/></clipPath>
<g fill="#2828e0" opacity="0.95" clip-path="url(#cl21)"><ellipse cx="173.66" cy="718.81" rx="0.67" ry="0.99"/><ellipse cx="172.67" cy="749.68" rx="0.71" ry="0.77"/><ellipse cx="205.65" cy="717.5" rx="1.02" ry="0.88"/><ellipse cx="174.49" cy="722.78" rx="0.8" ry="0.99"/><ellipse cx="221.1" cy="718.55" rx="0.71" ry="1.06"/><ellipse cx="175.53" cy="749.26" rx="0.87" ry="0.92"/><ellipse cx="202.5" cy="719.52" rx="1.09" ry="0.98"/><ellipse cx="216.64" cy="746.26" rx="1.04" ry="0.81"/><ellipse cx="162.91" cy="728.05" rx="0.66" ry="1.09"/><ellipse cx="171.26" cy="716.31" rx="1.03" ry="0.98"/><ellipse cx="198.21" cy="732.08" rx="0.61" ry="0.81"/><ellipse cx="210.2" cy="752.4" rx="0.54" ry="0.81"/><ellipse cx="158.35" cy="757.81" rx="0.95" ry="0.53"/><ellipse cx="223.74" cy="723.05" rx="0.88" ry="0.71"/><ellipse cx="160.89" cy="744.63" rx="0.96" ry="0.6"/><ellipse cx="220.96" cy="737.36" rx="0.52" ry="0.61"/><ellipse cx="157.25" cy="758.54" rx="0.73" ry="0.62"/><ellipse cx="157.6" cy="741.61" rx="0.62" ry="0.72"/><ellipse cx="188.67" cy="725.74" rx="0.9" ry="0.83"/><ellipse cx="179.81" cy="759.22" rx="0.79" ry="0.88"/><ellipse cx="164.79" cy="732.31" rx="1.06" ry="1.09"/><ellipse cx="171.77" cy="756.8" rx="0.71" ry="0.93"/><ellipse cx="187.42" cy="752.25" rx="0.84" ry="0.54"/><ellipse cx="220.13" cy="726.68" rx="0.96" ry="0.87"/><ellipse cx="186.31" cy="718.01" rx="1.1" ry="0.61"/><ellipse cx="199.38" cy="743.32" rx="0.96" ry="0.87"/><ellipse cx="211.97" cy="741.47" rx="0.58" ry="0.63"/><ellipse cx="181.87" cy="744.28" rx="0.89" ry="0.71"/><ellipse cx="158.85" cy="741.57" rx="0.64" ry="0.98"/><ellipse cx="210.73" cy="727.49" rx="1.04" ry="0.89"/><ellipse cx="210.23" cy="731.99" rx="0.67" ry="1.08"/><ellipse cx="175.16" cy="744.4" rx="0.76" ry="0.93"/><ellipse cx="207.49" cy="758.81" rx="0.54" ry="0.89"/><ellipse cx="200.32" cy="732.64" rx="0.95" ry="0.65"/><ellipse cx="222.18" cy="736.36" rx="0.68" ry="0.87"/><ellipse cx="172.4" cy="736.3" rx="0.95" ry="1.03"/><ellipse cx="205.78" cy="746.68" rx="0.95" ry="0.84"/><ellipse cx="169.12" cy="756.06" rx="0.68" ry="0.76"/><ellipse cx="163.48" cy="722.72" rx="0.79" ry="0.72"/><ellipse cx="204.07" cy="715.45" rx="0.86" ry="0.63"/><ellipse cx="172.66" cy="731.97" rx="0.96" ry="0.61"/><ellipse cx="199.62" cy="725.02" rx="0.63" ry="0.73"/><ellipse cx="213.21" cy="722.12" rx="0.71" ry="1.08"/><ellipse cx="181.39" cy="737.8" rx="0.62" ry="0.57"/><ellipse cx="182.48" cy="721.18" rx="0.93" ry="0.68"/><ellipse cx="214.43" cy="726.31" rx="0.53" ry="0.62"/><ellipse cx="184.87" cy="715.05" rx="0.57" ry="0.95"/><ellipse cx="162.67" cy="752.69" rx="0.75" ry="0.77"/><ellipse cx="162.71" cy="739.2" rx="0.63" ry="0.54"/><ellipse cx="219.46" cy="752.83" rx="0.96" ry="0.57"/></g>
<ellipse cx="210" cy="735" rx="2.6" ry="1.3" fill="#3040ff" transform="rotate(-35 210 735)"/>
<text x="86.5" y="720.5" font-size="4.6" fill="#ddd" text-anchor="start" font-style="italic" >col12a1a</text>
<text x="158.5" y="720.5" font-size="4.6" fill="#ddd" text-anchor="start" font-style="italic" >lum</text>
<path d="M60.5,756.5 L80,756.5" stroke="#bbb" stroke-width="0.9"/>
<path d="M132.6,756.5 L152.1,756.5" stroke="#bbb" stroke-width="0.9"/>
<path d="M204.4,756.5 L223.9,756.5" stroke="#bbb" stroke-width="0.9"/>
<rect x="12.3" y="763.6" width="70.2" height="45.7" fill="#0c0202" />
<clipPath id="cl02"><rect x="12.3" y="763.6" width="70.2" height="45.7"/></clipPath>
<rect x="12.3" y="763.6" width="70.2" height="45.69999999999993" fill="#000" filter="url(#rtex)"/>
<g fill="#c0c020" opacity="0.85" clip-path="url(#cl02)"><ellipse cx="64.88" cy="803.13" rx="1.49" ry="1.14"/><ellipse cx="62.99" cy="790.53" rx="1.51" ry="1.47"/><ellipse cx="73.47" cy="792.85" rx="1.59" ry="0.6"/><ellipse cx="65.09" cy="794.3" rx="1.37" ry="0.91"/><ellipse cx="79.63" cy="800.2" rx="1.16" ry="1.17"/><ellipse cx="38.04" cy="796.8" rx="0.91" ry="1.32"/><ellipse cx="50.08" cy="794.48" rx="1.05" ry="1.51"/><ellipse cx="58.88" cy="796.14" rx="1.42" ry="1.45"/><ellipse cx="11.49" cy="801.16" rx="0.75" ry="1.02"/><ellipse cx="74.72" cy="790.59" rx="0.71" ry="0.79"/><ellipse cx="55.36" cy="798.78" rx="0.7" ry="0.89"/><ellipse cx="80.19" cy="798.38" rx="1.22" ry="1.15"/><ellipse cx="77.09" cy="796.33" rx="0.89" ry="0.74"/><ellipse cx="36.78" cy="790.61" rx="1.1" ry="0.92"/><ellipse cx="77.84" cy="800.8" rx="0.86" ry="0.78"/><ellipse cx="21.15" cy="793.88" rx="1.29" ry="0.75"/><ellipse cx="78.68" cy="794.12" rx="1.36" ry="1.3"/><ellipse cx="79.3" cy="792.2" rx="0.91" ry="1.49"/><ellipse cx="64.75" cy="798.17" rx="1.41" ry="1.09"/><ellipse cx="77.28" cy="802.92" rx="1.01" ry="0.99"/><ellipse cx="39.55" cy="793.44" rx="0.7" ry="1.28"/><ellipse cx="44.01" cy="791.2" rx="1.4" ry="0.77"/><ellipse cx="18.78" cy="792.16" rx="0.68" ry="0.64"/><ellipse cx="63.21" cy="800.81" rx="0.69" ry="1.56"/><ellipse cx="80.06" cy="796.78" rx="1.03" ry="1.13"/><ellipse cx="67.14" cy="791.98" rx="0.9" ry="1.28"/><ellipse cx="17.69" cy="790.11" rx="0.97" ry="1.08"/><ellipse cx="69.12" cy="800.37" rx="1.49" ry="1.12"/><ellipse cx="78.83" cy="798.86" rx="1.05" ry="0.73"/><ellipse cx="43.3" cy="789.86" rx="0.77" ry="1.32"/><ellipse cx="74.67" cy="798.53" rx="1.39" ry="1.24"/><ellipse cx="27.98" cy="798.72" rx="0.79" ry="0.79"/><ellipse cx="85.81" cy="790.52" rx="0.79" ry="1.09"/><ellipse cx="53.67" cy="792.78" rx="0.73" ry="1.3"/><ellipse cx="29.9" cy="797.1" rx="1.58" ry="0.73"/><ellipse cx="43.46" cy="791.42" rx="1.11" ry="0.76"/><ellipse cx="76.65" cy="802.27" rx="1.58" ry="1.16"/><ellipse cx="32.61" cy="793.92" rx="1.06" ry="1.23"/><ellipse cx="80.67" cy="799.03" rx="0.79" ry="0.62"/><ellipse cx="56.32" cy="789.51" rx="1.11" ry="0.87"/><ellipse cx="60.05" cy="790.49" rx="1.55" ry="0.75"/><ellipse cx="12.96" cy="795.42" rx="0.66" ry="0.98"/><ellipse cx="11.35" cy="796.68" rx="0.85" ry="1.45"/><ellipse cx="64.85" cy="787.43" rx="0.62" ry="0.71"/><ellipse cx="19.33" cy="798.32" rx="1.42" ry="0.95"/><ellipse cx="68.27" cy="794.65" rx="1.52" ry="1.34"/><ellipse cx="32.66" cy="793.68" rx="1.4" ry="1.02"/><ellipse cx="21.87" cy="794.31" rx="1.48" ry="0.84"/><ellipse cx="66.57" cy="801.42" rx="0.94" ry="1.53"/><ellipse cx="64.8" cy="794.04" rx="0.82" ry="1.12"/><ellipse cx="14.25" cy="792.51" rx="1.07" ry="1.31"/><ellipse cx="35.63" cy="793.2" rx="0.71" ry="1.36"/><ellipse cx="62.2" cy="799.61" rx="0.74" ry="1.14"/><ellipse cx="69.86" cy="794.62" rx="0.78" ry="1.47"/><ellipse cx="55.76" cy="795.08" rx="1.25" ry="1.06"/><ellipse cx="34.34" cy="787.55" rx="1.4" ry="1.09"/><ellipse cx="46.27" cy="801.45" rx="0.64" ry="1.2"/><ellipse cx="15.89" cy="793.1" rx="1.52" ry="0.93"/><ellipse cx="29.84" cy="791.85" rx="0.86" ry="0.81"/><ellipse cx="51.16" cy="791.7" rx="1.54" ry="0.68"/><ellipse cx="73.05" cy="795.33" rx="1.54" ry="1.07"/><ellipse cx="45.26" cy="786.12" rx="1.27" ry="1.3"/><ellipse cx="58.66" cy="796.05" rx="1.46" ry="0.98"/><ellipse cx="37.16" cy="788.98" rx="1.1" ry="1.38"/><ellipse cx="33.52" cy="800.98" rx="1.36" ry="1.08"/><ellipse cx="22.49" cy="787.44" rx="1.53" ry="0.87"/><ellipse cx="32.11" cy="799.7" rx="1" ry="0.96"/><ellipse cx="36.6" cy="788.8" rx="1.57" ry="0.99"/><ellipse cx="51.97" cy="797.74" rx="1.23" ry="1.53"/><ellipse cx="61.78" cy="788.15" rx="1.03" ry="0.8"/></g>
<g fill="#e02020" opacity="0.85" clip-path="url(#cl02)"><ellipse cx="78.63" cy="795.08" rx="1.1" ry="1.2"/><ellipse cx="71.43" cy="794.65" rx="1.04" ry="0.9"/><ellipse cx="32.97" cy="795.25" rx="1.16" ry="1.04"/><ellipse cx="32.99" cy="792.77" rx="0.58" ry="1.11"/><ellipse cx="74.68" cy="799.58" rx="0.75" ry="0.51"/><ellipse cx="75.33" cy="793.83" rx="0.54" ry="0.82"/><ellipse cx="84.35" cy="799.86" rx="0.87" ry="1.06"/><ellipse cx="63.61" cy="798.06" rx="0.67" ry="0.58"/><ellipse cx="69.51" cy="796.37" rx="0.94" ry="0.51"/><ellipse cx="59.96" cy="797.73" rx="0.55" ry="1.12"/><ellipse cx="56.57" cy="799.07" rx="1.01" ry="0.76"/><ellipse cx="35.43" cy="797.75" rx="1.16" ry="0.59"/><ellipse cx="15.93" cy="797.24" rx="1.14" ry="0.54"/><ellipse cx="44.54" cy="795.64" rx="1.17" ry="0.66"/><ellipse cx="70.27" cy="791.96" rx="0.72" ry="0.88"/><ellipse cx="80.77" cy="798.57" rx="0.91" ry="1.2"/><ellipse cx="25.01" cy="794.7" rx="0.62" ry="0.51"/><ellipse cx="67.01" cy="795.77" rx="1.14" ry="1.14"/><ellipse cx="66.59" cy="793.56" rx="1.07" ry="0.7"/><ellipse cx="27.28" cy="797.19" rx="1" ry="0.94"/><ellipse cx="67.69" cy="794.36" rx="0.85" ry="0.82"/><ellipse cx="37.17" cy="797.61" rx="0.93" ry="0.55"/><ellipse cx="83.5" cy="790.6" rx="0.65" ry="0.95"/><ellipse cx="27.06" cy="794.29" rx="1.17" ry="0.94"/><ellipse cx="51.46" cy="788.01" rx="1.15" ry="0.62"/><ellipse cx="30.81" cy="789.22" rx="1.06" ry="0.79"/><ellipse cx="82.96" cy="791.78" rx="1.05" ry="0.54"/><ellipse cx="71.92" cy="799.25" rx="0.77" ry="0.74"/><ellipse cx="45.25" cy="789.52" rx="1.15" ry="0.74"/><ellipse cx="54.66" cy="786.99" rx="0.8" ry="0.55"/><ellipse cx="78.77" cy="798.34" rx="1" ry="0.89"/><ellipse cx="75.63" cy="794.74" rx="0.83" ry="0.95"/><ellipse cx="52.73" cy="792.57" rx="0.83" ry="1.14"/><ellipse cx="37.05" cy="793.43" rx="1.12" ry="0.67"/><ellipse cx="25.16" cy="788.73" rx="1.16" ry="1.06"/><ellipse cx="70.51" cy="792.09" rx="0.95" ry="0.92"/><ellipse cx="35.77" cy="794.09" rx="0.95" ry="1.01"/><ellipse cx="53.7" cy="795.55" rx="0.57" ry="0.57"/><ellipse cx="49.47" cy="792.13" rx="0.88" ry="0.55"/><ellipse cx="20.42" cy="798.27" rx="1.06" ry="0.54"/></g>
<g fill="#40c020" opacity="0.8" clip-path="url(#cl02)"><ellipse cx="32.61" cy="796.26" rx="1.1" ry="0.69"/><ellipse cx="35.38" cy="793.15" rx="0.85" ry="0.59"/><ellipse cx="30.87" cy="795.95" rx="0.66" ry="0.81"/><ellipse cx="71.65" cy="794.43" rx="0.93" ry="1.19"/><ellipse cx="64.18" cy="794.16" rx="0.55" ry="0.62"/><ellipse cx="42.33" cy="800.26" rx="0.61" ry="0.89"/><ellipse cx="33.24" cy="806.8" rx="1.05" ry="0.51"/><ellipse cx="12.35" cy="798.28" rx="1.1" ry="0.52"/><ellipse cx="38.16" cy="792.83" rx="0.84" ry="0.84"/><ellipse cx="36.9" cy="790.23" rx="1.06" ry="0.67"/><ellipse cx="44.6" cy="791.25" rx="0.6" ry="0.7"/><ellipse cx="76.31" cy="798.66" rx="0.6" ry="0.85"/><ellipse cx="67.57" cy="797.17" rx="0.69" ry="1.11"/><ellipse cx="51.76" cy="795.8" rx="0.57" ry="0.59"/><ellipse cx="42" cy="794.71" rx="0.87" ry="1.17"/><ellipse cx="33.91" cy="795.84" rx="1.04" ry="0.96"/><ellipse cx="49.28" cy="791.11" rx="1.15" ry="0.61"/><ellipse cx="24.65" cy="791.74" rx="0.9" ry="0.78"/><ellipse cx="62.25" cy="793.1" rx="0.93" ry="1.02"/><ellipse cx="69.71" cy="803.35" rx="0.91" ry="0.6"/><ellipse cx="40.15" cy="792.52" rx="0.97" ry="0.99"/><ellipse cx="75.61" cy="795.28" rx="0.54" ry="0.51"/><ellipse cx="10.73" cy="800.43" rx="0.8" ry="0.74"/><ellipse cx="71.45" cy="793.46" rx="0.85" ry="0.75"/><ellipse cx="47.1" cy="794.5" rx="0.99" ry="0.67"/><ellipse cx="29.14" cy="796.76" rx="0.94" ry="1.04"/><ellipse cx="46.4" cy="790.66" rx="1.19" ry="0.8"/><ellipse cx="22.12" cy="795.93" rx="0.97" ry="0.7"/><ellipse cx="53.48" cy="789.14" rx="1.09" ry="0.71"/><ellipse cx="15.31" cy="790.48" rx="0.91" ry="0.95"/><ellipse cx="61.06" cy="790.7" rx="1.08" ry="1.02"/><ellipse cx="59.1" cy="794.58" rx="0.84" ry="1.08"/><ellipse cx="62.36" cy="804.75" rx="0.77" ry="0.91"/><ellipse cx="76.23" cy="795.17" rx="1.2" ry="0.71"/><ellipse cx="30.32" cy="794.6" rx="0.82" ry="0.74"/><ellipse cx="69.79" cy="795.23" rx="1.15" ry="1.03"/><ellipse cx="18.34" cy="800.94" rx="1.02" ry="0.83"/><ellipse cx="56.01" cy="792.8" rx="1.05" ry="1.18"/><ellipse cx="81.94" cy="793.07" rx="1.15" ry="0.7"/><ellipse cx="16.05" cy="790.29" rx="0.69" ry="1.19"/></g>
<rect x="84.5" y="763.6" width="70.1" height="45.7" fill="#020210" />
<clipPath id="cl12"><rect x="84.5" y="763.6" width="70.1" height="45.7"/></clipPath>
<g fill="#2020c0" opacity="0.9" clip-path="url(#cl12)"><ellipse cx="132.34" cy="792.31" rx="0.61" ry="0.72"/><ellipse cx="118.44" cy="772.94" rx="0.73" ry="0.51"/><ellipse cx="133.1" cy="796.32" rx="0.43" ry="0.67"/><ellipse cx="153.18" cy="795.79" rx="0.49" ry="0.51"/><ellipse cx="118.25" cy="773.58" rx="0.73" ry="0.52"/><ellipse cx="121.39" cy="770.44" rx="0.64" ry="0.53"/><ellipse cx="153.77" cy="786.55" rx="0.7" ry="0.56"/><ellipse cx="87.03" cy="797.2" rx="0.42" ry="0.43"/><ellipse cx="138.03" cy="773.33" rx="0.54" ry="0.53"/><ellipse cx="120.71" cy="787.34" rx="0.45" ry="0.41"/><ellipse cx="142.47" cy="768.98" rx="0.54" ry="0.72"/><ellipse cx="91.55" cy="767.31" rx="0.54" ry="0.56"/><ellipse cx="146.62" cy="808.49" rx="0.42" ry="0.6"/><ellipse cx="152.75" cy="796.56" rx="0.43" ry="0.54"/><ellipse cx="111.11" cy="792.25" rx="0.54" ry="0.64"/><ellipse cx="136.2" cy="769.77" rx="0.74" ry="0.61"/><ellipse cx="93.83" cy="795.44" rx="0.45" ry="0.68"/><ellipse cx="125.81" cy="768.45" rx="0.53" ry="0.59"/><ellipse cx="127.94" cy="778.17" rx="0.64" ry="0.45"/><ellipse cx="135.14" cy="797.67" rx="0.64" ry="0.43"/><ellipse cx="91.1" cy="765.29" rx="0.65" ry="0.73"/><ellipse cx="132.74" cy="775.51" rx="0.49" ry="0.44"/><ellipse cx="148.38" cy="788.15" rx="0.71" ry="0.8"/><ellipse cx="114.18" cy="793.69" rx="0.77" ry="0.8"/><ellipse cx="131.18" cy="781.04" rx="0.69" ry="0.71"/><ellipse cx="134.41" cy="806.39" rx="0.52" ry="0.44"/><ellipse cx="127.39" cy="808.78" rx="0.62" ry="0.56"/><ellipse cx="113.69" cy="774.86" rx="0.45" ry="0.66"/><ellipse cx="90.97" cy="795.49" rx="0.77" ry="0.67"/><ellipse cx="125.6" cy="781.71" rx="0.48" ry="0.56"/><ellipse cx="122.68" cy="806.77" rx="0.72" ry="0.41"/><ellipse cx="92.14" cy="774.59" rx="0.5" ry="0.72"/><ellipse cx="92.7" cy="808.69" rx="0.78" ry="0.57"/><ellipse cx="153.07" cy="772.54" rx="0.58" ry="0.71"/><ellipse cx="118" cy="802.9" rx="0.53" ry="0.47"/><ellipse cx="153.98" cy="794.9" rx="0.4" ry="0.77"/><ellipse cx="102.61" cy="794.96" rx="0.54" ry="0.72"/><ellipse cx="125.82" cy="766.65" rx="0.58" ry="0.64"/><ellipse cx="109.06" cy="765.48" rx="0.54" ry="0.73"/><ellipse cx="141.46" cy="788.93" rx="0.77" ry="0.55"/><ellipse cx="148.46" cy="791.63" rx="0.58" ry="0.73"/><ellipse cx="88.3" cy="775.9" rx="0.69" ry="0.63"/><ellipse cx="115.5" cy="808.33" rx="0.48" ry="0.8"/><ellipse cx="90.36" cy="799.73" rx="0.58" ry="0.44"/><ellipse cx="141.06" cy="809.26" rx="0.64" ry="0.72"/><ellipse cx="132.5" cy="797.09" rx="0.6" ry="0.42"/><ellipse cx="90.43" cy="777.42" rx="0.5" ry="0.5"/><ellipse cx="111.45" cy="801.08" rx="0.78" ry="0.4"/><ellipse cx="142.3" cy="805.74" rx="0.67" ry="0.49"/><ellipse cx="112.69" cy="792.86" rx="0.65" ry="0.66"/><ellipse cx="140.97" cy="780.83" rx="0.52" ry="0.46"/><ellipse cx="128.46" cy="806.88" rx="0.42" ry="0.68"/><ellipse cx="139.79" cy="770.85" rx="0.6" ry="0.62"/><ellipse cx="113.7" cy="790.46" rx="0.41" ry="0.49"/><ellipse cx="130" cy="799.44" rx="0.51" ry="0.52"/><ellipse cx="113.36" cy="787.51" rx="0.63" ry="0.77"/><ellipse cx="105.68" cy="792.87" rx="0.49" ry="0.44"/><ellipse cx="100.05" cy="779.76" rx="0.77" ry="0.52"/><ellipse cx="91.56" cy="767.52" rx="0.65" ry="0.77"/><ellipse cx="85.05" cy="790.83" rx="0.57" ry="0.63"/><ellipse cx="103.9" cy="780.96" rx="0.68" ry="0.77"/><ellipse cx="88.08" cy="774.66" rx="0.47" ry="0.7"/><ellipse cx="134.77" cy="792.52" rx="0.56" ry="0.59"/><ellipse cx="146.63" cy="799.44" rx="0.59" ry="0.68"/><ellipse cx="105.32" cy="806.41" rx="0.7" ry="0.75"/><ellipse cx="134.81" cy="787.52" rx="0.55" ry="0.54"/><ellipse cx="85.69" cy="791.18" rx="0.67" ry="0.7"/><ellipse cx="86.28" cy="789.23" rx="0.4" ry="0.6"/><ellipse cx="103.92" cy="775.17" rx="0.58" ry="0.59"/><ellipse cx="150.02" cy="806.26" rx="0.65" ry="0.58"/><ellipse cx="127.18" cy="797.78" rx="0.56" ry="0.55"/><ellipse cx="127.68" cy="780.75" rx="0.71" ry="0.59"/><ellipse cx="152.57" cy="807.88" rx="0.71" ry="0.79"/><ellipse cx="121.86" cy="808.79" rx="0.67" ry="0.57"/><ellipse cx="121.52" cy="766.52" rx="0.65" ry="0.76"/><ellipse cx="153.52" cy="766.97" rx="0.77" ry="0.51"/><ellipse cx="85.32" cy="784.18" rx="0.71" ry="0.4"/><ellipse cx="94.3" cy="796.9" rx="0.75" ry="0.79"/><ellipse cx="148.59" cy="788.35" rx="0.75" ry="0.6"/><ellipse cx="108.47" cy="790.3" rx="0.51" ry="0.73"/><ellipse cx="92.5" cy="805.67" rx="0.45" ry="0.51"/><ellipse cx="134.13" cy="792.91" rx="0.68" ry="0.56"/><ellipse cx="114.91" cy="770" rx="0.77" ry="0.74"/><ellipse cx="114.6" cy="796.05" rx="0.53" ry="0.62"/><ellipse cx="147.94" cy="782.96" rx="0.63" ry="0.51"/><ellipse cx="147.1" cy="765.84" rx="0.7" ry="0.54"/><ellipse cx="89.91" cy="765.06" rx="0.59" ry="0.64"/><ellipse cx="122.08" cy="797.1" rx="0.6" ry="0.52"/><ellipse cx="109.45" cy="802.79" rx="0.65" ry="0.42"/><ellipse cx="90.83" cy="764.42" rx="0.69" ry="0.72"/><ellipse cx="143.35" cy="771.14" rx="0.47" ry="0.42"/><ellipse cx="115.08" cy="781.02" rx="0.62" ry="0.61"/><ellipse cx="120.28" cy="789.4" rx="0.55" ry="0.79"/><ellipse cx="103.14" cy="790.64" rx="0.66" ry="0.57"/><ellipse cx="134.52" cy="804.71" rx="0.56" ry="0.79"/><ellipse cx="112.91" cy="794.93" rx="0.74" ry="0.78"/><ellipse cx="86.46" cy="807.83" rx="0.72" ry="0.58"/><ellipse cx="152.21" cy="769.31" rx="0.51" ry="0.49"/><ellipse cx="123.08" cy="764.01" rx="0.59" ry="0.64"/><ellipse cx="131.25" cy="791.63" rx="0.7" ry="0.57"/><ellipse cx="100.74" cy="790.59" rx="0.79" ry="0.65"/><ellipse cx="135.66" cy="781.68" rx="0.46" ry="0.51"/><ellipse cx="86.51" cy="789.65" rx="0.76" ry="0.45"/><ellipse cx="136.02" cy="782.54" rx="0.49" ry="0.41"/><ellipse cx="91.46" cy="791.71" rx="0.47" ry="0.64"/><ellipse cx="123.62" cy="803" rx="0.46" ry="0.49"/><ellipse cx="114.68" cy="775.08" rx="0.53" ry="0.7"/><ellipse cx="111.24" cy="805.96" rx="0.69" ry="0.74"/><ellipse cx="117.61" cy="787.12" rx="0.47" ry="0.6"/><ellipse cx="102.85" cy="804.5" rx="0.63" ry="0.75"/><ellipse cx="134.35" cy="788.19" rx="0.56" ry="0.59"/><ellipse cx="152.28" cy="792.66" rx="0.5" ry="0.68"/><ellipse cx="128.57" cy="778.24" rx="0.59" ry="0.76"/><ellipse cx="118.2" cy="763.99" rx="0.73" ry="0.79"/><ellipse cx="128.62" cy="771.87" rx="0.43" ry="0.41"/><ellipse cx="125.23" cy="781.05" rx="0.49" ry="0.58"/><ellipse cx="135.19" cy="796.67" rx="0.58" ry="0.58"/><ellipse cx="119.24" cy="774.9" rx="0.56" ry="0.51"/><ellipse cx="138.82" cy="778.7" rx="0.43" ry="0.47"/><ellipse cx="139.87" cy="783.32" rx="0.52" ry="0.48"/></g>
<g fill="#30c030" opacity="0.85" clip-path="url(#cl12)"><ellipse cx="112.83" cy="788.73" rx="1.43" ry="1.05"/><ellipse cx="125.73" cy="787.41" rx="1.47" ry="0.91"/><ellipse cx="122.99" cy="790.19" rx="0.95" ry="1.22"/><ellipse cx="111.76" cy="795.16" rx="0.86" ry="0.62"/><ellipse cx="115.48" cy="796.92" rx="1.13" ry="1.27"/><ellipse cx="102.34" cy="801.84" rx="1.15" ry="1.35"/><ellipse cx="118.51" cy="792.01" rx="1.48" ry="1.13"/><ellipse cx="136.93" cy="791.47" rx="0.88" ry="1.15"/><ellipse cx="81.17" cy="801.95" rx="0.69" ry="1.24"/><ellipse cx="128.39" cy="794.03" rx="0.67" ry="1.19"/><ellipse cx="93.16" cy="796.57" rx="0.96" ry="1.22"/><ellipse cx="88.6" cy="799.23" rx="1.5" ry="1.06"/><ellipse cx="127.59" cy="792.99" rx="1.4" ry="1.37"/><ellipse cx="124.45" cy="794.73" rx="1.28" ry="0.63"/><ellipse cx="148.14" cy="791.79" rx="1.11" ry="1.26"/><ellipse cx="154.04" cy="803.58" rx="0.8" ry="1.46"/><ellipse cx="88.25" cy="792.21" rx="1.13" ry="1.32"/><ellipse cx="149.06" cy="795.06" rx="1.25" ry="0.98"/><ellipse cx="130.25" cy="794.65" rx="1.41" ry="0.81"/><ellipse cx="144.15" cy="798.07" rx="0.83" ry="0.78"/><ellipse cx="92.32" cy="791.88" rx="0.88" ry="1.17"/><ellipse cx="153.47" cy="800.6" rx="1.06" ry="1.03"/><ellipse cx="143.62" cy="793.64" rx="1.03" ry="1.31"/><ellipse cx="90.94" cy="795.48" rx="0.98" ry="1.27"/><ellipse cx="125.67" cy="796.8" rx="0.84" ry="0.85"/><ellipse cx="95.26" cy="800.14" rx="1.3" ry="1.34"/><ellipse cx="152.76" cy="797.1" rx="1.39" ry="1.5"/><ellipse cx="97.35" cy="795.58" rx="0.63" ry="1.18"/><ellipse cx="112.68" cy="797.39" rx="0.96" ry="1.37"/><ellipse cx="147.37" cy="794.68" rx="0.74" ry="0.61"/><ellipse cx="131.18" cy="797.72" rx="1.29" ry="1.37"/><ellipse cx="95.86" cy="795.49" rx="1.16" ry="1.38"/><ellipse cx="129.68" cy="789.14" rx="1.42" ry="1.45"/><ellipse cx="115.78" cy="792.41" rx="0.87" ry="1.48"/><ellipse cx="88.15" cy="799.2" rx="1.42" ry="1.37"/><ellipse cx="139.52" cy="791.82" rx="1.48" ry="0.62"/><ellipse cx="155.35" cy="797.24" rx="1.25" ry="1.36"/><ellipse cx="107.05" cy="800.18" rx="1.29" ry="1.36"/><ellipse cx="154.87" cy="798.13" rx="0.82" ry="1.36"/><ellipse cx="147.24" cy="804.1" rx="0.61" ry="1.42"/><ellipse cx="150.77" cy="800.39" rx="1.05" ry="1.45"/><ellipse cx="92.62" cy="793.89" rx="1.18" ry="0.95"/><ellipse cx="144.39" cy="796.56" rx="1.49" ry="1.09"/><ellipse cx="103.05" cy="795.35" rx="1.46" ry="1.1"/><ellipse cx="90.77" cy="788.22" rx="1.48" ry="1.25"/><ellipse cx="127.82" cy="790.45" rx="0.87" ry="1.08"/><ellipse cx="141.08" cy="794.82" rx="0.84" ry="0.66"/><ellipse cx="108.33" cy="788.92" rx="1.45" ry="0.76"/><ellipse cx="113.53" cy="791.07" rx="0.72" ry="1.19"/><ellipse cx="127.14" cy="796" rx="1.25" ry="1.09"/><ellipse cx="142.19" cy="800.33" rx="0.64" ry="0.69"/><ellipse cx="114.25" cy="790.21" rx="0.93" ry="0.75"/><ellipse cx="82.99" cy="792.82" rx="0.93" ry="1.13"/><ellipse cx="109.25" cy="793.2" rx="0.7" ry="1.13"/><ellipse cx="96.6" cy="800.66" rx="0.74" ry="0.68"/><ellipse cx="94.39" cy="791.64" rx="0.83" ry="0.72"/><ellipse cx="143.61" cy="794.99" rx="0.69" ry="1.32"/><ellipse cx="128.6" cy="795.39" rx="0.64" ry="0.72"/><ellipse cx="119.1" cy="789.77" rx="1.32" ry="0.63"/><ellipse cx="84.44" cy="796.53" rx="1.45" ry="1.2"/><ellipse cx="105.68" cy="793.01" rx="0.65" ry="1.43"/><ellipse cx="129.47" cy="795" rx="0.95" ry="0.71"/><ellipse cx="135.23" cy="797.04" rx="0.79" ry="1.18"/><ellipse cx="104.18" cy="797.13" rx="0.71" ry="1.13"/><ellipse cx="134.23" cy="796.96" rx="1.2" ry="1.07"/><ellipse cx="85.71" cy="795.15" rx="1.48" ry="0.68"/><ellipse cx="142.38" cy="795.24" rx="0.78" ry="0.94"/><ellipse cx="120.34" cy="794.92" rx="1.15" ry="1.06"/><ellipse cx="127.04" cy="792.62" rx="0.65" ry="1.47"/><ellipse cx="102.79" cy="796.59" rx="1.01" ry="0.79"/><ellipse cx="118.6" cy="793.45" rx="0.72" ry="1.02"/><ellipse cx="119.11" cy="789.7" rx="0.72" ry="0.99"/><ellipse cx="145.73" cy="798.87" rx="0.75" ry="1.02"/><ellipse cx="141.21" cy="804.89" rx="0.88" ry="1.42"/><ellipse cx="91.04" cy="790.46" rx="1.38" ry="1.5"/><ellipse cx="115.05" cy="798.46" rx="1.36" ry="0.78"/><ellipse cx="137.59" cy="796.8" rx="1.33" ry="0.89"/><ellipse cx="152.84" cy="795.02" rx="1.18" ry="0.61"/><ellipse cx="150.42" cy="793.68" rx="1.38" ry="1.48"/><ellipse cx="95.94" cy="792.93" rx="0.83" ry="0.81"/><ellipse cx="140.03" cy="797.61" rx="1.12" ry="0.82"/><ellipse cx="96.69" cy="791.47" rx="1.16" ry="1.2"/><ellipse cx="134.86" cy="793.16" rx="1.43" ry="1.28"/><ellipse cx="126.97" cy="791.07" rx="0.77" ry="0.86"/><ellipse cx="126.72" cy="788.96" rx="1.48" ry="1.13"/><ellipse cx="123.45" cy="797.58" rx="0.82" ry="1.39"/><ellipse cx="147.87" cy="793.66" rx="1.27" ry="0.96"/><ellipse cx="92.06" cy="792.35" rx="1.08" ry="1.09"/><ellipse cx="152.52" cy="796.78" rx="1" ry="1"/><ellipse cx="121.51" cy="790.32" rx="0.76" ry="0.93"/><ellipse cx="99.66" cy="798.87" rx="0.6" ry="1.06"/><ellipse cx="132.01" cy="798.19" rx="0.92" ry="1.36"/><ellipse cx="90.61" cy="794.76" rx="1.14" ry="1.18"/><ellipse cx="137.72" cy="797.66" rx="1.46" ry="0.83"/><ellipse cx="100.29" cy="795.47" rx="1.37" ry="1.29"/><ellipse cx="112.45" cy="805.78" rx="0.81" ry="1.38"/><ellipse cx="142.84" cy="790.21" rx="1.01" ry="1.48"/><ellipse cx="147.94" cy="797.42" rx="1.23" ry="0.91"/><ellipse cx="143.48" cy="798.07" rx="0.76" ry="0.7"/><ellipse cx="142.74" cy="794.1" rx="1.46" ry="1.36"/><ellipse cx="118.04" cy="791.83" rx="1.02" ry="0.64"/><ellipse cx="128.51" cy="792.93" rx="1.07" ry="1.3"/><ellipse cx="129.93" cy="796.21" rx="0.78" ry="1.37"/><ellipse cx="113.2" cy="796.12" rx="0.9" ry="0.65"/><ellipse cx="96.93" cy="792.46" rx="0.94" ry="1.37"/><ellipse cx="153.29" cy="795.11" rx="0.76" ry="1.04"/><ellipse cx="124.01" cy="792.85" rx="0.61" ry="0.89"/><ellipse cx="93.63" cy="799.37" rx="1.25" ry="1.09"/><ellipse cx="102.09" cy="798.03" rx="0.89" ry="0.86"/><ellipse cx="140.19" cy="794.4" rx="0.9" ry="0.86"/></g>
<g fill="#2a30f0" opacity="0.9" clip-path="url(#cl12)"><ellipse cx="101.83" cy="804.95" rx="0.88" ry="0.82"/><ellipse cx="141.71" cy="805.24" rx="1.63" ry="0.97"/><ellipse cx="94.85" cy="803.37" rx="1.6" ry="1.53"/><ellipse cx="131.03" cy="804.17" rx="1.64" ry="1.27"/><ellipse cx="125.83" cy="805.76" rx="1.26" ry="0.88"/><ellipse cx="92.22" cy="803.31" rx="1.17" ry="1.14"/><ellipse cx="102.44" cy="805.48" rx="0.84" ry="1.58"/><ellipse cx="139.61" cy="802.29" rx="1.66" ry="1.44"/><ellipse cx="138.62" cy="803.01" rx="1.06" ry="1.37"/><ellipse cx="118.94" cy="803.15" rx="1.01" ry="1.67"/><ellipse cx="100.66" cy="807" rx="1.36" ry="0.86"/><ellipse cx="115.67" cy="802.81" rx="1.07" ry="1.35"/><ellipse cx="111.58" cy="802.99" rx="1.59" ry="1.15"/><ellipse cx="115.18" cy="810.71" rx="0.86" ry="1.44"/><ellipse cx="108.24" cy="803.18" rx="1.56" ry="1.39"/><ellipse cx="107.87" cy="805.36" rx="1.27" ry="0.96"/><ellipse cx="89.94" cy="807.66" rx="1.64" ry="1.33"/><ellipse cx="96.03" cy="803.65" rx="1.08" ry="1.58"/><ellipse cx="91.56" cy="802.94" rx="0.92" ry="1.03"/><ellipse cx="87.86" cy="806.01" rx="1.13" ry="0.83"/><ellipse cx="101.6" cy="808.81" rx="1.15" ry="1.29"/><ellipse cx="133.4" cy="803.91" rx="1.62" ry="1.67"/><ellipse cx="93.21" cy="803.2" rx="1.43" ry="1.38"/><ellipse cx="108.18" cy="803.52" rx="1.04" ry="1.55"/><ellipse cx="102.01" cy="802.97" rx="1.11" ry="1.04"/></g>
<rect x="156.5" y="763.6" width="69.9" height="45.7" fill="#0a0208" />
<clipPath id="cl22"><rect x="156.5" y="763.6" width="69.9" height="45.7"/></clipPath>
<g fill="#2020b0" opacity="0.9" clip-path="url(#cl22)"><ellipse cx="203.56" cy="786.24" rx="0.69" ry="0.43"/><ellipse cx="206.03" cy="798" rx="0.52" ry="0.46"/><ellipse cx="205.24" cy="799.81" rx="0.69" ry="0.69"/><ellipse cx="180.91" cy="769.68" rx="0.48" ry="0.46"/><ellipse cx="221.27" cy="781.79" rx="0.42" ry="0.44"/><ellipse cx="212.42" cy="767.21" rx="0.68" ry="0.57"/><ellipse cx="218.1" cy="780.64" rx="0.53" ry="0.5"/><ellipse cx="212.05" cy="771.21" rx="0.67" ry="0.78"/><ellipse cx="221.75" cy="778.63" rx="0.59" ry="0.72"/><ellipse cx="205.71" cy="803.79" rx="0.69" ry="0.45"/><ellipse cx="160.5" cy="790.9" rx="0.67" ry="0.68"/><ellipse cx="174.98" cy="808.49" rx="0.72" ry="0.73"/><ellipse cx="208.5" cy="782.2" rx="0.71" ry="0.76"/><ellipse cx="180.52" cy="777.83" rx="0.47" ry="0.45"/><ellipse cx="196.5" cy="799.21" rx="0.75" ry="0.69"/><ellipse cx="209.37" cy="793.54" rx="0.59" ry="0.63"/><ellipse cx="219.64" cy="795.23" rx="0.73" ry="0.74"/><ellipse cx="180.04" cy="780.91" rx="0.48" ry="0.76"/><ellipse cx="218.9" cy="791.47" rx="0.54" ry="0.45"/><ellipse cx="204.97" cy="763.82" rx="0.48" ry="0.49"/><ellipse cx="207.51" cy="771.21" rx="0.48" ry="0.46"/><ellipse cx="162.29" cy="783.02" rx="0.7" ry="0.61"/><ellipse cx="160.83" cy="801.92" rx="0.66" ry="0.65"/><ellipse cx="197.57" cy="787.75" rx="0.65" ry="0.73"/><ellipse cx="184.47" cy="808.85" rx="0.74" ry="0.49"/><ellipse cx="187.21" cy="807.92" rx="0.45" ry="0.7"/><ellipse cx="189.91" cy="797.31" rx="0.45" ry="0.45"/><ellipse cx="215.2" cy="765.85" rx="0.53" ry="0.48"/><ellipse cx="220.57" cy="769.44" rx="0.68" ry="0.62"/><ellipse cx="166.06" cy="805.46" rx="0.48" ry="0.41"/><ellipse cx="160.26" cy="800.4" rx="0.8" ry="0.54"/><ellipse cx="168.88" cy="806.97" rx="0.72" ry="0.52"/><ellipse cx="180.18" cy="808.03" rx="0.52" ry="0.52"/><ellipse cx="169.8" cy="797.99" rx="0.52" ry="0.52"/><ellipse cx="209.93" cy="769.21" rx="0.68" ry="0.62"/><ellipse cx="177.64" cy="768.44" rx="0.61" ry="0.41"/><ellipse cx="174.4" cy="770.44" rx="0.42" ry="0.53"/><ellipse cx="190.74" cy="765.14" rx="0.8" ry="0.6"/><ellipse cx="181.61" cy="773.52" rx="0.65" ry="0.79"/><ellipse cx="172.37" cy="796.44" rx="0.54" ry="0.79"/><ellipse cx="219.55" cy="788.46" rx="0.43" ry="0.43"/><ellipse cx="162.71" cy="764.19" rx="0.71" ry="0.73"/><ellipse cx="180.6" cy="778.16" rx="0.7" ry="0.8"/><ellipse cx="219.81" cy="787.14" rx="0.56" ry="0.51"/><ellipse cx="209.83" cy="807.07" rx="0.73" ry="0.55"/><ellipse cx="199.39" cy="775.62" rx="0.6" ry="0.53"/><ellipse cx="173.62" cy="793.69" rx="0.71" ry="0.43"/><ellipse cx="216.23" cy="794.54" rx="0.75" ry="0.54"/><ellipse cx="223.27" cy="808.65" rx="0.75" ry="0.48"/><ellipse cx="163.98" cy="784.91" rx="0.44" ry="0.53"/><ellipse cx="208.03" cy="782.1" rx="0.49" ry="0.75"/><ellipse cx="192.82" cy="782.26" rx="0.53" ry="0.48"/><ellipse cx="171.62" cy="776.1" rx="0.79" ry="0.57"/><ellipse cx="169.85" cy="806.37" rx="0.58" ry="0.74"/><ellipse cx="210.45" cy="800.9" rx="0.75" ry="0.79"/><ellipse cx="212.02" cy="765.15" rx="0.6" ry="0.43"/><ellipse cx="169.99" cy="775.94" rx="0.53" ry="0.65"/><ellipse cx="166.49" cy="782.69" rx="0.7" ry="0.79"/><ellipse cx="176.23" cy="799.6" rx="0.75" ry="0.57"/><ellipse cx="199.83" cy="809.2" rx="0.65" ry="0.48"/><ellipse cx="225.61" cy="794.74" rx="0.44" ry="0.43"/><ellipse cx="203.99" cy="781.81" rx="0.51" ry="0.49"/><ellipse cx="188.51" cy="764.39" rx="0.67" ry="0.45"/><ellipse cx="201.68" cy="787.4" rx="0.56" ry="0.48"/><ellipse cx="177.48" cy="782.55" rx="0.47" ry="0.62"/><ellipse cx="220.53" cy="807.57" rx="0.75" ry="0.73"/><ellipse cx="172.72" cy="806.4" rx="0.44" ry="0.43"/><ellipse cx="211.56" cy="780.8" rx="0.59" ry="0.62"/><ellipse cx="192.38" cy="774.45" rx="0.42" ry="0.43"/><ellipse cx="215.77" cy="808.93" rx="0.64" ry="0.57"/><ellipse cx="189.52" cy="771.52" rx="0.42" ry="0.8"/><ellipse cx="178.47" cy="795.39" rx="0.63" ry="0.43"/><ellipse cx="180.75" cy="776.51" rx="0.51" ry="0.7"/><ellipse cx="189.45" cy="773.31" rx="0.41" ry="0.45"/><ellipse cx="219.21" cy="767.57" rx="0.48" ry="0.66"/><ellipse cx="219.99" cy="805.34" rx="0.79" ry="0.71"/><ellipse cx="212.4" cy="808.12" rx="0.62" ry="0.48"/><ellipse cx="165.82" cy="803.55" rx="0.41" ry="0.6"/><ellipse cx="180.2" cy="798.29" rx="0.51" ry="0.62"/><ellipse cx="170.4" cy="775.84" rx="0.48" ry="0.76"/><ellipse cx="169.53" cy="794.16" rx="0.72" ry="0.65"/><ellipse cx="194.35" cy="790.25" rx="0.52" ry="0.66"/><ellipse cx="201.72" cy="793.35" rx="0.58" ry="0.78"/><ellipse cx="204.02" cy="765.23" rx="0.48" ry="0.62"/><ellipse cx="217.14" cy="789.72" rx="0.51" ry="0.67"/><ellipse cx="201.15" cy="802.02" rx="0.54" ry="0.41"/><ellipse cx="157.26" cy="789.75" rx="0.75" ry="0.79"/><ellipse cx="217.11" cy="794.42" rx="0.46" ry="0.7"/><ellipse cx="216.83" cy="775.64" rx="0.58" ry="0.77"/><ellipse cx="185.64" cy="806" rx="0.74" ry="0.69"/><ellipse cx="212.29" cy="780.25" rx="0.43" ry="0.67"/><ellipse cx="194.49" cy="788.59" rx="0.46" ry="0.62"/><ellipse cx="225.76" cy="775.76" rx="0.73" ry="0.58"/><ellipse cx="178.26" cy="809.24" rx="0.64" ry="0.59"/><ellipse cx="166.92" cy="808.46" rx="0.53" ry="0.48"/><ellipse cx="198.68" cy="797.74" rx="0.48" ry="0.65"/><ellipse cx="187.67" cy="796.48" rx="0.68" ry="0.73"/><ellipse cx="215.8" cy="806.32" rx="0.57" ry="0.5"/><ellipse cx="182.59" cy="790.18" rx="0.71" ry="0.48"/><ellipse cx="201.15" cy="786.74" rx="0.52" ry="0.4"/></g>
<g fill="#801010" opacity="0.9" clip-path="url(#cl22)"><ellipse cx="200.01" cy="804.96" rx="0.79" ry="0.72"/><ellipse cx="160.76" cy="771.7" rx="0.69" ry="0.77"/><ellipse cx="186.1" cy="788.31" rx="0.4" ry="0.64"/><ellipse cx="226.35" cy="791.34" rx="0.54" ry="0.6"/><ellipse cx="164.96" cy="785.7" rx="0.77" ry="0.43"/><ellipse cx="204.86" cy="802.61" rx="0.69" ry="0.55"/><ellipse cx="166.68" cy="773.95" rx="0.74" ry="0.58"/><ellipse cx="173.26" cy="799.12" rx="0.49" ry="0.72"/><ellipse cx="194.24" cy="781.37" rx="0.74" ry="0.44"/><ellipse cx="184.57" cy="769.49" rx="0.58" ry="0.61"/><ellipse cx="210.8" cy="769.53" rx="0.78" ry="0.56"/><ellipse cx="166.46" cy="794.02" rx="0.74" ry="0.64"/><ellipse cx="160.08" cy="772.38" rx="0.71" ry="0.74"/><ellipse cx="178.2" cy="798.3" rx="0.42" ry="0.76"/><ellipse cx="191.75" cy="798.9" rx="0.7" ry="0.49"/><ellipse cx="193.03" cy="804.15" rx="0.61" ry="0.54"/><ellipse cx="198.28" cy="789.59" rx="0.5" ry="0.56"/><ellipse cx="211.61" cy="792.75" rx="0.44" ry="0.62"/><ellipse cx="203.52" cy="786.16" rx="0.7" ry="0.79"/><ellipse cx="210.84" cy="767.11" rx="0.49" ry="0.75"/><ellipse cx="200.5" cy="802.14" rx="0.52" ry="0.53"/><ellipse cx="198.3" cy="798.99" rx="0.43" ry="0.5"/><ellipse cx="226.23" cy="806.05" rx="0.51" ry="0.69"/><ellipse cx="171.64" cy="808" rx="0.67" ry="0.63"/><ellipse cx="194.72" cy="798.64" rx="0.43" ry="0.49"/><ellipse cx="208.84" cy="788.96" rx="0.76" ry="0.72"/><ellipse cx="192.78" cy="805.74" rx="0.58" ry="0.49"/><ellipse cx="172.58" cy="805.43" rx="0.67" ry="0.59"/><ellipse cx="215.4" cy="770.87" rx="0.63" ry="0.7"/><ellipse cx="215.32" cy="766.08" rx="0.57" ry="0.41"/><ellipse cx="195.57" cy="800.2" rx="0.77" ry="0.51"/><ellipse cx="197.82" cy="777.36" rx="0.55" ry="0.59"/><ellipse cx="226.13" cy="773.99" rx="0.61" ry="0.5"/><ellipse cx="180.99" cy="795.34" rx="0.68" ry="0.55"/><ellipse cx="164.07" cy="794.14" rx="0.69" ry="0.7"/><ellipse cx="215.17" cy="767.05" rx="0.69" ry="0.46"/><ellipse cx="185.72" cy="795.88" rx="0.74" ry="0.71"/><ellipse cx="162.7" cy="808.54" rx="0.43" ry="0.49"/><ellipse cx="212.79" cy="765.49" rx="0.55" ry="0.61"/><ellipse cx="202.59" cy="792.15" rx="0.63" ry="0.79"/><ellipse cx="212.53" cy="788.89" rx="0.64" ry="0.52"/><ellipse cx="162.41" cy="764.62" rx="0.59" ry="0.75"/><ellipse cx="202.12" cy="772.72" rx="0.62" ry="0.63"/><ellipse cx="213.61" cy="798.23" rx="0.77" ry="0.61"/><ellipse cx="198.5" cy="805.59" rx="0.61" ry="0.44"/><ellipse cx="205.58" cy="788.89" rx="0.79" ry="0.61"/><ellipse cx="193.02" cy="770.27" rx="0.79" ry="0.75"/><ellipse cx="160.79" cy="805.54" rx="0.61" ry="0.66"/><ellipse cx="200.62" cy="790.19" rx="0.47" ry="0.65"/><ellipse cx="164.31" cy="771.08" rx="0.44" ry="0.6"/><ellipse cx="216.14" cy="775.56" rx="0.53" ry="0.73"/><ellipse cx="210.96" cy="802.68" rx="0.71" ry="0.43"/><ellipse cx="192.85" cy="783.91" rx="0.61" ry="0.46"/><ellipse cx="180.71" cy="789.53" rx="0.6" ry="0.7"/><ellipse cx="218.93" cy="774.61" rx="0.53" ry="0.7"/><ellipse cx="194.62" cy="768.3" rx="0.59" ry="0.59"/><ellipse cx="205.74" cy="798.48" rx="0.74" ry="0.5"/><ellipse cx="187.18" cy="769.26" rx="0.57" ry="0.62"/><ellipse cx="221.23" cy="772" rx="0.49" ry="0.41"/><ellipse cx="193.21" cy="808.1" rx="0.51" ry="0.71"/></g>
<g fill="#e02020" opacity="0.85" clip-path="url(#cl22)"><ellipse cx="219.77" cy="799.35" rx="0.66" ry="0.73"/><ellipse cx="221.22" cy="800.65" rx="1.11" ry="0.64"/><ellipse cx="168.26" cy="795.98" rx="0.97" ry="1.43"/><ellipse cx="178.03" cy="800.63" rx="0.98" ry="0.82"/><ellipse cx="225.71" cy="793.83" rx="1.2" ry="1.36"/><ellipse cx="226.8" cy="793.19" rx="0.68" ry="0.92"/><ellipse cx="162.79" cy="799.08" rx="0.83" ry="1.3"/><ellipse cx="206.68" cy="793.41" rx="1.49" ry="0.75"/><ellipse cx="216.22" cy="799.03" rx="1.27" ry="0.65"/><ellipse cx="218.64" cy="798.49" rx="0.6" ry="1.3"/><ellipse cx="183.6" cy="799.82" rx="1.06" ry="0.83"/><ellipse cx="198.57" cy="798.29" rx="0.88" ry="1.44"/><ellipse cx="180.48" cy="793.49" rx="0.89" ry="0.78"/><ellipse cx="168.98" cy="794.25" rx="1.48" ry="1.29"/><ellipse cx="225.86" cy="797.2" rx="1.4" ry="1.36"/><ellipse cx="183.78" cy="795.13" rx="0.93" ry="0.73"/><ellipse cx="217.51" cy="796.86" rx="1.3" ry="1.1"/><ellipse cx="157.93" cy="795.93" rx="1.35" ry="1.49"/><ellipse cx="216" cy="798.66" rx="1.46" ry="1.39"/><ellipse cx="219.24" cy="799.83" rx="1.47" ry="0.88"/><ellipse cx="168.66" cy="798.8" rx="0.9" ry="1.36"/><ellipse cx="172.84" cy="790.03" rx="0.66" ry="1.04"/><ellipse cx="227.11" cy="800.21" rx="0.63" ry="0.97"/><ellipse cx="197.79" cy="793.62" rx="1.39" ry="1.14"/><ellipse cx="220.05" cy="798.73" rx="1.31" ry="1.25"/><ellipse cx="219.95" cy="796.61" rx="0.67" ry="0.77"/><ellipse cx="185.38" cy="786.11" rx="1.39" ry="0.7"/><ellipse cx="214.51" cy="792.98" rx="1.06" ry="0.77"/><ellipse cx="218.5" cy="793.05" rx="0.66" ry="0.68"/><ellipse cx="159.34" cy="795.71" rx="0.86" ry="1.42"/><ellipse cx="228.98" cy="797.2" rx="1.37" ry="1.22"/><ellipse cx="207.6" cy="795.08" rx="0.93" ry="1.06"/><ellipse cx="200.62" cy="795.55" rx="0.85" ry="1.09"/><ellipse cx="199.78" cy="791.86" rx="0.85" ry="1.43"/><ellipse cx="222.35" cy="796.88" rx="1" ry="1.19"/><ellipse cx="189.25" cy="792.27" rx="1.26" ry="1.49"/><ellipse cx="167.72" cy="799.86" rx="0.96" ry="1.16"/><ellipse cx="225.78" cy="794.19" rx="1.47" ry="1.18"/><ellipse cx="219.82" cy="792.97" rx="1.1" ry="0.83"/><ellipse cx="162.66" cy="790.14" rx="1.21" ry="0.96"/><ellipse cx="183.58" cy="795.98" rx="0.78" ry="1.07"/><ellipse cx="160.53" cy="797.09" rx="0.68" ry="0.89"/><ellipse cx="189.3" cy="798.41" rx="1.14" ry="1.38"/><ellipse cx="171.24" cy="795.1" rx="0.99" ry="1.34"/><ellipse cx="222.27" cy="799.1" rx="1.29" ry="1.31"/><ellipse cx="184.33" cy="789.61" rx="1.14" ry="0.62"/><ellipse cx="184.51" cy="786.43" rx="1.02" ry="1.29"/><ellipse cx="194.29" cy="790.99" rx="1.21" ry="1.41"/><ellipse cx="174.4" cy="802.44" rx="0.71" ry="1.33"/><ellipse cx="181.2" cy="792.73" rx="1.24" ry="0.65"/><ellipse cx="219.47" cy="801.16" rx="0.9" ry="0.95"/><ellipse cx="154.12" cy="795.68" rx="1" ry="1.15"/><ellipse cx="162.81" cy="794.77" rx="1.3" ry="1.19"/><ellipse cx="208.3" cy="794.24" rx="0.89" ry="0.76"/><ellipse cx="180.57" cy="792.78" rx="1.3" ry="1.33"/><ellipse cx="221.51" cy="796.76" rx="1.37" ry="0.99"/><ellipse cx="197.03" cy="794.63" rx="1.49" ry="0.98"/><ellipse cx="197.97" cy="790.85" rx="1.41" ry="0.7"/><ellipse cx="190.7" cy="792.55" rx="0.92" ry="1.09"/><ellipse cx="219.91" cy="794.79" rx="0.74" ry="1.02"/><ellipse cx="155.61" cy="800" rx="1.41" ry="1.16"/><ellipse cx="164.01" cy="799.32" rx="1.12" ry="0.84"/><ellipse cx="204.48" cy="791.34" rx="0.72" ry="1.43"/><ellipse cx="195.46" cy="789.74" rx="1.34" ry="1.23"/><ellipse cx="189.76" cy="797.05" rx="0.98" ry="0.96"/><ellipse cx="231.75" cy="796.27" rx="1.35" ry="0.7"/><ellipse cx="199.22" cy="796.4" rx="1.1" ry="1.42"/><ellipse cx="226.53" cy="798.24" rx="1.21" ry="1.47"/><ellipse cx="178.09" cy="793.11" rx="0.83" ry="0.85"/><ellipse cx="204.79" cy="791.16" rx="0.82" ry="1.23"/><ellipse cx="214.02" cy="798.31" rx="0.77" ry="1.37"/><ellipse cx="188.42" cy="793.14" rx="1.3" ry="1.4"/><ellipse cx="216.75" cy="800.02" rx="1.38" ry="0.61"/><ellipse cx="196.75" cy="786.27" rx="1.1" ry="0.72"/><ellipse cx="180.26" cy="793.95" rx="1.19" ry="0.95"/><ellipse cx="187.62" cy="790.35" rx="0.82" ry="1.2"/><ellipse cx="178.25" cy="792.7" rx="0.91" ry="1.25"/><ellipse cx="154.85" cy="797.53" rx="0.92" ry="0.76"/><ellipse cx="227.1" cy="792.38" rx="0.8" ry="0.68"/><ellipse cx="219.07" cy="796.14" rx="1.05" ry="1.02"/><ellipse cx="205.64" cy="791.31" rx="1.23" ry="1.45"/><ellipse cx="178.36" cy="796.65" rx="0.72" ry="0.79"/><ellipse cx="221.49" cy="791.02" rx="0.83" ry="1.29"/><ellipse cx="205.78" cy="801.68" rx="1.18" ry="1.17"/><ellipse cx="209.15" cy="796.66" rx="1.25" ry="0.65"/><ellipse cx="208" cy="794.68" rx="1.23" ry="1.42"/><ellipse cx="195.44" cy="792.84" rx="1.06" ry="1.13"/><ellipse cx="211.95" cy="791.29" rx="1.04" ry="0.81"/><ellipse cx="225.67" cy="793.66" rx="1.42" ry="0.76"/><ellipse cx="207.84" cy="791.57" rx="0.83" ry="1.13"/><ellipse cx="179.27" cy="795.98" rx="1.48" ry="0.75"/><ellipse cx="178.2" cy="800.92" rx="1.23" ry="1.15"/><ellipse cx="192.44" cy="794.41" rx="0.61" ry="0.77"/><ellipse cx="163.48" cy="795.58" rx="0.67" ry="0.83"/><ellipse cx="202.57" cy="791.56" rx="1.3" ry="1.43"/><ellipse cx="152.94" cy="800.85" rx="1.03" ry="0.79"/><ellipse cx="158" cy="801.28" rx="0.62" ry="1.17"/><ellipse cx="186.27" cy="796.66" rx="0.84" ry="1.42"/><ellipse cx="196.43" cy="787.64" rx="0.98" ry="0.69"/><ellipse cx="181.31" cy="792.15" rx="0.88" ry="1.14"/><ellipse cx="186" cy="792.77" rx="0.6" ry="1.4"/><ellipse cx="170.77" cy="801.4" rx="1.08" ry="1.09"/><ellipse cx="219.92" cy="795.41" rx="1.38" ry="1.21"/><ellipse cx="152.89" cy="794.86" rx="0.91" ry="0.84"/><ellipse cx="221.51" cy="795.45" rx="0.84" ry="1.01"/><ellipse cx="159.32" cy="797.76" rx="1.38" ry="1.21"/><ellipse cx="201.19" cy="792.35" rx="0.89" ry="0.61"/><ellipse cx="164.8" cy="788.31" rx="1.3" ry="0.75"/><ellipse cx="180.91" cy="788.63" rx="1.11" ry="1.45"/><ellipse cx="183.56" cy="793.16" rx="0.76" ry="0.77"/></g>
<g fill="#2a30f0" opacity="0.9" clip-path="url(#cl22)"><ellipse cx="164.02" cy="803.99" rx="0.9" ry="0.86"/><ellipse cx="179.15" cy="805.28" rx="1.06" ry="1.64"/><ellipse cx="163.74" cy="804.83" rx="1.67" ry="0.92"/><ellipse cx="170.31" cy="803.05" rx="1.41" ry="1.78"/><ellipse cx="221.36" cy="801.63" rx="1.55" ry="1.28"/><ellipse cx="229.12" cy="807.66" rx="1.36" ry="1.24"/><ellipse cx="167.65" cy="806.76" rx="0.87" ry="1.39"/><ellipse cx="189.63" cy="808.38" rx="1.61" ry="1.76"/><ellipse cx="200.4" cy="805.58" rx="1.38" ry="1.74"/><ellipse cx="172.2" cy="801.74" rx="1.28" ry="1.14"/><ellipse cx="165.05" cy="804.61" rx="1.28" ry="0.87"/><ellipse cx="160.64" cy="805.08" rx="1.3" ry="1.67"/><ellipse cx="167.7" cy="805.61" rx="1.67" ry="1.03"/><ellipse cx="208.96" cy="804.67" rx="1.17" ry="1.24"/><ellipse cx="191.58" cy="803.52" rx="1.76" ry="1.77"/><ellipse cx="163.89" cy="804.32" rx="1.51" ry="1"/><ellipse cx="208.28" cy="806.64" rx="0.83" ry="1.33"/><ellipse cx="175.88" cy="804.42" rx="1.32" ry="1.61"/><ellipse cx="191.82" cy="807.11" rx="1.67" ry="1.38"/><ellipse cx="192.6" cy="807.02" rx="0.92" ry="0.94"/><ellipse cx="199.96" cy="803.24" rx="1.36" ry="1.4"/><ellipse cx="176.25" cy="803.67" rx="1.56" ry="1.25"/><ellipse cx="166.56" cy="804.13" rx="1.27" ry="1.05"/><ellipse cx="154.64" cy="804.96" rx="1.45" ry="0.9"/><ellipse cx="158.75" cy="808.73" rx="1.08" ry="1.79"/></g>
<rect x="28.8" y="791.5" width="23" height="14.5" fill="none" stroke="#ddd" stroke-width="0.7" stroke-dasharray="1.8 1"/>
<path d="M72.5,806.5 L79.5,806.5" stroke="#ccc" stroke-width="0.7"/>
<path d="M28.8,806 L12.3,811.8 M51.8,806 L82.5,811.8" stroke="#c8a428" stroke-width="0.6"/>
<rect x="101" y="791.5" width="23" height="14.5" fill="none" stroke="#ddd" stroke-width="0.7" stroke-dasharray="1.8 1"/>
<path d="M144.6,806.5 L151.6,806.5" stroke="#ccc" stroke-width="0.7"/>
<path d="M101,806 L84.5,811.8 M124,806 L154.6,811.8" stroke="#c8a428" stroke-width="0.6"/>
<rect x="173" y="791.5" width="23" height="14.5" fill="none" stroke="#ddd" stroke-width="0.7" stroke-dasharray="1.8 1"/>
<path d="M216.4,806.5 L223.4,806.5" stroke="#ccc" stroke-width="0.7"/>
<path d="M173,806 L156.5,811.8 M196,806 L226.4,811.8" stroke="#c8a428" stroke-width="0.6"/>
<path d="M213,784.5 L220,784.5" stroke="#ddd" stroke-width="0.8"/>
<rect x="12.3" y="811.8" width="70.2" height="47" fill="#040200" />
<clipPath id="cl03"><rect x="12.3" y="811.8" width="70.2" height="47"/></clipPath>
<g fill="#3a7a10" opacity="0.8" clip-path="url(#cl03)"><ellipse cx="78.37" cy="816.6" rx="1.89" ry="2.24"/><ellipse cx="26.18" cy="851.14" rx="2.7" ry="1.69"/><ellipse cx="66.29" cy="826.45" rx="1.61" ry="1.97"/><ellipse cx="27.18" cy="843.62" rx="2.84" ry="1.58"/><ellipse cx="47.39" cy="828.71" rx="2.9" ry="2.39"/><ellipse cx="54.4" cy="833.96" rx="2.76" ry="1.64"/><ellipse cx="53.08" cy="829.14" rx="1.47" ry="2.43"/><ellipse cx="59.88" cy="842.44" rx="2.81" ry="1.88"/><ellipse cx="34.97" cy="840.3" rx="1.68" ry="1.67"/><ellipse cx="22.68" cy="846.71" rx="2.77" ry="1.36"/><ellipse cx="38.23" cy="834.76" rx="2.17" ry="2.54"/><ellipse cx="24" cy="845.62" rx="2.23" ry="2.24"/><ellipse cx="60.77" cy="837.36" rx="2.71" ry="1.72"/><ellipse cx="43.99" cy="835.2" rx="1.83" ry="1.27"/><ellipse cx="53.84" cy="832.68" rx="2.85" ry="1.26"/><ellipse cx="51.67" cy="845.41" rx="1.68" ry="2.27"/><ellipse cx="24.57" cy="840.36" rx="1.3" ry="2.2"/><ellipse cx="32.85" cy="840.78" rx="1.57" ry="2.95"/><ellipse cx="61.66" cy="821.41" rx="2.2" ry="2.25"/><ellipse cx="82.38" cy="825.56" rx="1.54" ry="1.45"/><ellipse cx="32.92" cy="833.46" rx="2.79" ry="2.52"/><ellipse cx="69.97" cy="829.28" rx="1.62" ry="2.03"/><ellipse cx="45.61" cy="829.27" rx="2.14" ry="1.91"/><ellipse cx="57.4" cy="830.5" rx="2.28" ry="2.98"/><ellipse cx="10.39" cy="852.5" rx="1.62" ry="1.41"/><ellipse cx="23.23" cy="829.93" rx="2.53" ry="2.24"/><ellipse cx="40.31" cy="828.63" rx="2.28" ry="2.53"/><ellipse cx="26.75" cy="857.76" rx="2.57" ry="1.96"/><ellipse cx="57.99" cy="836.32" rx="2.22" ry="2.12"/><ellipse cx="28.2" cy="839.8" rx="1.43" ry="2.13"/><ellipse cx="45.32" cy="846.3" rx="2.05" ry="1.71"/><ellipse cx="22.43" cy="850.81" rx="2.6" ry="2.92"/><ellipse cx="72.18" cy="835.54" rx="1.93" ry="1.29"/><ellipse cx="79.53" cy="837.15" rx="1.51" ry="1.51"/><ellipse cx="73.69" cy="820.39" rx="1.45" ry="2.96"/><ellipse cx="35.16" cy="845.09" rx="1.33" ry="2.9"/><ellipse cx="81.73" cy="836.95" rx="1.69" ry="2.43"/><ellipse cx="72.64" cy="825.07" rx="2.61" ry="2.33"/><ellipse cx="37.48" cy="848.74" rx="2.4" ry="1.35"/><ellipse cx="31.24" cy="851.64" rx="2.42" ry="1.77"/><ellipse cx="33.65" cy="844.54" rx="2.65" ry="2.32"/><ellipse cx="85.02" cy="830.2" rx="1.36" ry="1.26"/><ellipse cx="54.64" cy="838.21" rx="2.13" ry="2.07"/><ellipse cx="76.13" cy="828.86" rx="2.04" ry="2.52"/><ellipse cx="74.72" cy="815.21" rx="1.73" ry="2.91"/><ellipse cx="79.18" cy="822.76" rx="2.62" ry="2.67"/><ellipse cx="47.95" cy="843.32" rx="1.35" ry="1.85"/><ellipse cx="55.26" cy="822.64" rx="1.82" ry="1.72"/><ellipse cx="19.24" cy="840.24" rx="2.59" ry="2.03"/><ellipse cx="21.71" cy="846.13" rx="2.35" ry="2.07"/><ellipse cx="65.46" cy="821.55" rx="2.35" ry="2.53"/><ellipse cx="35.37" cy="838.42" rx="1.95" ry="2.78"/><ellipse cx="23.07" cy="839.77" rx="2.56" ry="2.62"/><ellipse cx="28.96" cy="840.1" rx="2.34" ry="2.2"/><ellipse cx="55.39" cy="830.54" rx="2.07" ry="2.29"/><ellipse cx="27.86" cy="848.38" rx="2.06" ry="2.82"/><ellipse cx="39.56" cy="827.05" rx="2.57" ry="1.75"/><ellipse cx="74.29" cy="829.11" rx="2.2" ry="2.04"/><ellipse cx="61.68" cy="841.35" rx="2.48" ry="2.23"/><ellipse cx="34.53" cy="834.57" rx="1.55" ry="2.45"/></g>
<g fill="#b8c41c" opacity="0.9" clip-path="url(#cl03)"><ellipse cx="79.4" cy="832.65" rx="1.83" ry="2.44"/><ellipse cx="47.83" cy="830.12" rx="1.94" ry="1.7"/><ellipse cx="59.01" cy="831.47" rx="2.29" ry="2.45"/><ellipse cx="22.54" cy="841.52" rx="2.31" ry="3.16"/><ellipse cx="66.31" cy="832.15" rx="2.36" ry="2.9"/><ellipse cx="49.76" cy="842.33" rx="2.72" ry="2.82"/><ellipse cx="14.18" cy="845.55" rx="2.27" ry="1.88"/><ellipse cx="19.9" cy="846.51" rx="2.46" ry="2.85"/><ellipse cx="16.9" cy="845.84" rx="3.18" ry="1.51"/><ellipse cx="35.02" cy="838" rx="1.44" ry="2.88"/><ellipse cx="33.27" cy="838.91" rx="2.9" ry="2.43"/><ellipse cx="70.26" cy="833.05" rx="3.08" ry="1.76"/><ellipse cx="56.73" cy="828.34" rx="2.62" ry="2.78"/><ellipse cx="35.96" cy="837.18" rx="2.29" ry="2.13"/><ellipse cx="19.2" cy="846.73" rx="2.04" ry="2.62"/><ellipse cx="66.35" cy="834.77" rx="2.4" ry="1.62"/><ellipse cx="80.39" cy="826.32" rx="1.78" ry="3.08"/><ellipse cx="40.24" cy="830.19" rx="1.89" ry="2.66"/><ellipse cx="64.08" cy="829.91" rx="2.78" ry="1.21"/><ellipse cx="55.69" cy="838.17" rx="2.56" ry="2.88"/><ellipse cx="36.72" cy="833.71" rx="2.72" ry="2.86"/><ellipse cx="23.79" cy="841.91" rx="2.54" ry="1.55"/><ellipse cx="63.55" cy="831.56" rx="2.54" ry="2.48"/><ellipse cx="25.93" cy="838.08" rx="2.56" ry="3.14"/><ellipse cx="35.43" cy="839.24" rx="1.63" ry="3.08"/><ellipse cx="82.69" cy="825.82" rx="1.42" ry="2.31"/><ellipse cx="50.43" cy="829.5" rx="3.09" ry="1.67"/><ellipse cx="56.3" cy="832.68" rx="2.89" ry="3.11"/><ellipse cx="19.39" cy="850.52" rx="1.78" ry="1.41"/><ellipse cx="69.71" cy="832.09" rx="3.15" ry="1.93"/><ellipse cx="52.47" cy="826.35" rx="2.12" ry="2.63"/><ellipse cx="47.14" cy="829.29" rx="1.55" ry="1.5"/><ellipse cx="12.12" cy="845.53" rx="1.3" ry="3.15"/><ellipse cx="52.06" cy="836.85" rx="1.73" ry="2.73"/><ellipse cx="53.69" cy="825.97" rx="1.67" ry="2.13"/><ellipse cx="44.11" cy="842.19" rx="2.84" ry="2.03"/><ellipse cx="80.06" cy="817.29" rx="1.36" ry="3.02"/><ellipse cx="19.6" cy="840.85" rx="2.82" ry="1.2"/><ellipse cx="22.61" cy="846.52" rx="2.04" ry="2.22"/><ellipse cx="40.25" cy="846.29" rx="2.85" ry="2.19"/><ellipse cx="39.95" cy="843.84" rx="2.85" ry="2.19"/><ellipse cx="25.45" cy="846.79" rx="2.33" ry="2.4"/><ellipse cx="31.86" cy="839.86" rx="1.2" ry="2.34"/><ellipse cx="72.53" cy="831.48" rx="2.4" ry="1.77"/><ellipse cx="52.96" cy="834.71" rx="1.94" ry="1.92"/><ellipse cx="71.13" cy="818.45" rx="2.96" ry="2.81"/><ellipse cx="37.95" cy="831.7" rx="2.99" ry="2.44"/><ellipse cx="78.07" cy="823.24" rx="2.51" ry="1.9"/><ellipse cx="73.2" cy="832.24" rx="1.55" ry="2.14"/><ellipse cx="60.27" cy="832.84" rx="2.52" ry="1.33"/><ellipse cx="43.99" cy="839.24" rx="3.05" ry="2.94"/><ellipse cx="57" cy="829.62" rx="3.19" ry="1.24"/><ellipse cx="73.3" cy="821.51" rx="2.73" ry="2.6"/><ellipse cx="69.7" cy="825.65" rx="2.35" ry="1.91"/><ellipse cx="23.7" cy="836.1" rx="1.97" ry="1.65"/><ellipse cx="68.13" cy="829.09" rx="2.73" ry="2.07"/><ellipse cx="31.95" cy="838.08" rx="2.18" ry="1.31"/><ellipse cx="30.42" cy="833.82" rx="2.81" ry="1.6"/><ellipse cx="76.35" cy="823.06" rx="2.05" ry="3.14"/><ellipse cx="36.78" cy="846.8" rx="2.01" ry="2.62"/><ellipse cx="45.19" cy="839.16" rx="2.7" ry="1.89"/><ellipse cx="53.75" cy="823.87" rx="2.31" ry="2.15"/><ellipse cx="64.94" cy="823.54" rx="1.43" ry="1.53"/><ellipse cx="69.07" cy="827.28" rx="2.44" ry="1.7"/><ellipse cx="49.77" cy="829.05" rx="1.3" ry="1.55"/><ellipse cx="57.5" cy="840.13" rx="2.73" ry="2.64"/><ellipse cx="71.77" cy="836.48" rx="2.97" ry="3.1"/><ellipse cx="41.55" cy="833.68" rx="2.46" ry="2.1"/><ellipse cx="52.64" cy="834.79" rx="3.11" ry="2.48"/><ellipse cx="28.75" cy="833.27" rx="1.43" ry="1.38"/><ellipse cx="75.03" cy="822.8" rx="2.58" ry="2.67"/><ellipse cx="23.04" cy="843.51" rx="1.27" ry="1.42"/><ellipse cx="30.2" cy="832.54" rx="2.56" ry="2.12"/><ellipse cx="53" cy="832.6" rx="1.27" ry="2.46"/><ellipse cx="40.41" cy="841.42" rx="2.97" ry="2.35"/><ellipse cx="17.46" cy="846.1" rx="1.26" ry="2.73"/><ellipse cx="49.57" cy="823.47" rx="1.74" ry="2.48"/><ellipse cx="80.49" cy="837.72" rx="2.36" ry="2.65"/><ellipse cx="38.01" cy="850.49" rx="1.21" ry="1.94"/><ellipse cx="28.79" cy="839.52" rx="2.83" ry="2.24"/><ellipse cx="66.28" cy="825" rx="3.11" ry="1.66"/><ellipse cx="18.95" cy="840.79" rx="1.91" ry="2.78"/><ellipse cx="65.56" cy="825.32" rx="2.58" ry="2.8"/><ellipse cx="63.85" cy="831.6" rx="1.48" ry="2.15"/><ellipse cx="74.35" cy="831.43" rx="3.04" ry="1.88"/><ellipse cx="37.61" cy="836.9" rx="1.42" ry="2.71"/><ellipse cx="74.36" cy="826.33" rx="1.86" ry="2.29"/><ellipse cx="28.47" cy="845.32" rx="1.37" ry="2.1"/><ellipse cx="55.66" cy="830.35" rx="1.37" ry="2.43"/><ellipse cx="68.46" cy="827.8" rx="3.02" ry="2.12"/><ellipse cx="51.68" cy="830.7" rx="1.25" ry="1.27"/><ellipse cx="65.67" cy="838.26" rx="2.66" ry="1.6"/><ellipse cx="69.17" cy="822.76" rx="2.09" ry="2.39"/><ellipse cx="60.22" cy="832.18" rx="2.28" ry="1.72"/><ellipse cx="42.47" cy="834.87" rx="1.27" ry="1.7"/><ellipse cx="19.1" cy="844.62" rx="2.59" ry="2.86"/><ellipse cx="66.38" cy="832.34" rx="2.78" ry="1.36"/><ellipse cx="18.19" cy="846.53" rx="2.61" ry="1.84"/><ellipse cx="19.67" cy="835.07" rx="1.92" ry="2.21"/><ellipse cx="45.36" cy="838.07" rx="1.84" ry="2.14"/><ellipse cx="71.33" cy="824.43" rx="2.21" ry="2.44"/><ellipse cx="29.44" cy="843.79" rx="2.45" ry="1.8"/><ellipse cx="77.89" cy="834.62" rx="2.3" ry="1.53"/><ellipse cx="37.1" cy="844.99" rx="1.79" ry="2.88"/><ellipse cx="64.88" cy="826.68" rx="1.53" ry="2.94"/><ellipse cx="73.03" cy="830.59" rx="1.81" ry="2.7"/><ellipse cx="38.72" cy="841.39" rx="2.17" ry="3.03"/><ellipse cx="37.96" cy="846.28" rx="2.35" ry="2.69"/><ellipse cx="33.12" cy="851.26" rx="1.39" ry="3.17"/><ellipse cx="17.6" cy="847.56" rx="1.4" ry="1.97"/></g>
<g fill="#e8e830" opacity="0.9" clip-path="url(#cl03)"><ellipse cx="19.81" cy="843.78" rx="1.77" ry="1.97"/><ellipse cx="61.52" cy="831.67" rx="1.79" ry="1.98"/><ellipse cx="64.38" cy="829.56" rx="1.17" ry="1.28"/><ellipse cx="50.21" cy="827.84" rx="1.5" ry="1.82"/><ellipse cx="23.75" cy="842.46" rx="1.62" ry="1.39"/><ellipse cx="54.37" cy="826.1" rx="0.97" ry="1.57"/><ellipse cx="17.16" cy="847.61" rx="0.87" ry="1.25"/><ellipse cx="84.79" cy="825.75" rx="1.23" ry="1.73"/><ellipse cx="28.64" cy="840.09" rx="1.38" ry="0.92"/><ellipse cx="49.17" cy="831.7" rx="1.51" ry="1.27"/><ellipse cx="29.82" cy="840.42" rx="1.5" ry="0.87"/><ellipse cx="31.77" cy="832.96" rx="0.82" ry="0.89"/><ellipse cx="73.79" cy="832.73" rx="1.7" ry="1.69"/><ellipse cx="21.71" cy="844.92" rx="1.55" ry="1.26"/><ellipse cx="24.94" cy="852.37" rx="0.85" ry="1.05"/><ellipse cx="58.58" cy="837.68" rx="1.31" ry="1.99"/><ellipse cx="79.62" cy="824.58" rx="1.37" ry="1.54"/><ellipse cx="22.4" cy="843.2" rx="1.1" ry="1.78"/><ellipse cx="70.17" cy="821.91" rx="1.95" ry="1.58"/><ellipse cx="29.48" cy="844.22" rx="0.82" ry="1.43"/><ellipse cx="20.39" cy="847.28" rx="1.57" ry="0.96"/><ellipse cx="44.66" cy="835.6" rx="1.8" ry="1.63"/><ellipse cx="48.85" cy="830.09" rx="1.82" ry="1.95"/><ellipse cx="55.65" cy="827.56" rx="1.33" ry="0.88"/><ellipse cx="43.83" cy="835.57" rx="1.7" ry="1.18"/><ellipse cx="40.38" cy="834.04" rx="0.98" ry="1.91"/><ellipse cx="71.59" cy="825.47" rx="1.54" ry="1.38"/><ellipse cx="77.4" cy="826.17" rx="1.36" ry="0.84"/><ellipse cx="47.19" cy="837.89" rx="1.81" ry="1.56"/><ellipse cx="14.68" cy="836.9" rx="1.75" ry="1.89"/><ellipse cx="64.73" cy="833.33" rx="1.91" ry="1.87"/><ellipse cx="54.26" cy="831.94" rx="1.49" ry="1.59"/><ellipse cx="34.05" cy="842.19" rx="1.98" ry="1.07"/><ellipse cx="19.77" cy="847.17" rx="1.33" ry="1.98"/><ellipse cx="53.06" cy="831.28" rx="1.53" ry="1.25"/><ellipse cx="25.49" cy="843.15" rx="1.56" ry="1.44"/><ellipse cx="62.77" cy="832.86" rx="1.28" ry="1.4"/><ellipse cx="19.21" cy="843.26" rx="1.92" ry="1.85"/><ellipse cx="45.81" cy="839.16" rx="0.96" ry="1.8"/><ellipse cx="64.62" cy="831.16" rx="0.87" ry="1.85"/><ellipse cx="41.74" cy="831.64" rx="1.77" ry="1.23"/><ellipse cx="18.76" cy="848.16" rx="1.3" ry="1.64"/><ellipse cx="33.31" cy="843.97" rx="1.17" ry="1.53"/><ellipse cx="34.42" cy="837.42" rx="0.86" ry="1.38"/><ellipse cx="23.39" cy="844.27" rx="1.1" ry="1.84"/><ellipse cx="50.22" cy="837.06" rx="0.89" ry="1.73"/><ellipse cx="77.01" cy="826.29" rx="1.76" ry="1.62"/><ellipse cx="27.69" cy="834.64" rx="1.08" ry="1.75"/><ellipse cx="30.11" cy="836.36" rx="1.24" ry="1.33"/><ellipse cx="62.1" cy="827.08" rx="1.02" ry="1.1"/></g>
<g fill="#d02010" opacity="0.9" clip-path="url(#cl03)"><ellipse cx="20.81" cy="838.51" rx="1.1" ry="1.01"/><ellipse cx="70.25" cy="829.62" rx="0.77" ry="1.08"/><ellipse cx="45.96" cy="822.8" rx="0.86" ry="0.94"/><ellipse cx="34.36" cy="840.97" rx="0.98" ry="0.87"/><ellipse cx="22.19" cy="849.64" rx="0.67" ry="1.09"/><ellipse cx="32.39" cy="861.43" rx="1.39" ry="1.03"/><ellipse cx="54.26" cy="849.84" rx="1.02" ry="0.71"/><ellipse cx="62.77" cy="834.27" rx="0.74" ry="0.87"/><ellipse cx="34.4" cy="855.59" rx="1.09" ry="1.08"/><ellipse cx="23.39" cy="833.38" rx="0.81" ry="1.05"/><ellipse cx="58.8" cy="821.05" rx="1.09" ry="0.87"/><ellipse cx="72.94" cy="820.13" rx="1.4" ry="1.31"/><ellipse cx="30.52" cy="854.24" rx="0.63" ry="1.27"/><ellipse cx="68.29" cy="825.02" rx="1.06" ry="1.11"/><ellipse cx="40.83" cy="850.07" rx="1.04" ry="1.27"/><ellipse cx="31.05" cy="837.63" rx="0.88" ry="1.39"/><ellipse cx="26.32" cy="832.51" rx="0.62" ry="0.61"/><ellipse cx="57.35" cy="832.17" rx="0.95" ry="0.62"/><ellipse cx="19.42" cy="835.16" rx="1.03" ry="1.33"/><ellipse cx="65.36" cy="834.48" rx="0.6" ry="0.82"/><ellipse cx="79.61" cy="829.91" rx="0.87" ry="0.9"/><ellipse cx="57.08" cy="827.78" rx="1.14" ry="1"/><ellipse cx="35.09" cy="845.38" rx="0.99" ry="1.17"/><ellipse cx="65.72" cy="832.97" rx="1.37" ry="1.13"/><ellipse cx="30.58" cy="835.48" rx="1.26" ry="1.31"/><ellipse cx="19.72" cy="837.95" rx="1.34" ry="1.15"/><ellipse cx="45.73" cy="840.08" rx="0.63" ry="0.91"/><ellipse cx="79.01" cy="839.08" rx="0.66" ry="1.06"/><ellipse cx="64.21" cy="842.23" rx="1.25" ry="0.9"/><ellipse cx="37.52" cy="842.36" rx="0.69" ry="1.38"/><ellipse cx="30.38" cy="844.9" rx="1.25" ry="0.61"/><ellipse cx="69.8" cy="835.3" rx="0.61" ry="1.03"/><ellipse cx="56.62" cy="832.37" rx="1.28" ry="1.17"/><ellipse cx="54.99" cy="831.65" rx="0.91" ry="1.21"/><ellipse cx="88.82" cy="840.93" rx="1.13" ry="1.3"/><ellipse cx="59.99" cy="834.54" rx="1.31" ry="0.9"/><ellipse cx="41.41" cy="824.79" rx="1.36" ry="0.73"/><ellipse cx="58.87" cy="844.27" rx="1.03" ry="0.67"/><ellipse cx="41.27" cy="840.53" rx="0.92" ry="1.05"/><ellipse cx="49.32" cy="840.94" rx="0.72" ry="0.71"/><ellipse cx="39.17" cy="834.35" rx="1.22" ry="0.83"/><ellipse cx="60.15" cy="834.53" rx="1.02" ry="1.22"/><ellipse cx="72.02" cy="856.18" rx="1.2" ry="0.84"/><ellipse cx="83.39" cy="830.73" rx="0.83" ry="1.11"/><ellipse cx="62.46" cy="823.98" rx="1.18" ry="0.72"/></g>
<g fill="#f0f0f0" opacity="0.9" clip-path="url(#cl03)"><ellipse cx="74.44" cy="825.68" rx="0.54" ry="0.49"/><ellipse cx="34.71" cy="839.79" rx="0.49" ry="0.6"/><ellipse cx="26.38" cy="835.37" rx="0.42" ry="0.45"/><ellipse cx="34.73" cy="837.57" rx="0.62" ry="0.61"/><ellipse cx="24.18" cy="843.47" rx="0.59" ry="0.52"/><ellipse cx="64.78" cy="836.55" rx="0.43" ry="0.45"/><ellipse cx="28.24" cy="841.38" rx="0.55" ry="0.64"/><ellipse cx="15.98" cy="847.3" rx="0.42" ry="0.63"/><ellipse cx="47.9" cy="833.81" rx="0.62" ry="0.68"/><ellipse cx="76.57" cy="817.64" rx="0.61" ry="0.49"/><ellipse cx="58.66" cy="834.05" rx="0.5" ry="0.67"/><ellipse cx="49.03" cy="838.91" rx="0.45" ry="0.48"/></g>
<rect x="84.5" y="811.8" width="70.1" height="47" fill="#000006" />
<clipPath id="cl13"><rect x="84.5" y="811.8" width="70.1" height="47"/></clipPath>
<g fill="#2424e8" opacity="0.95" clip-path="url(#cl13)"><ellipse cx="115.68" cy="829.77" rx="1.58" ry="1.46"/><ellipse cx="113.26" cy="834.79" rx="1.26" ry="1.91"/><ellipse cx="112.73" cy="857.82" rx="1.51" ry="1.74"/><ellipse cx="154.58" cy="839.8" rx="1.9" ry="1.44"/><ellipse cx="95.3" cy="812.02" rx="1.49" ry="1.8"/><ellipse cx="145.38" cy="821.4" rx="1.6" ry="1.42"/><ellipse cx="96.47" cy="856.68" rx="1.2" ry="1.8"/><ellipse cx="96.71" cy="817.01" rx="1.02" ry="1.65"/><ellipse cx="140.48" cy="836.82" rx="1.61" ry="1.61"/><ellipse cx="99.58" cy="857.46" rx="1.3" ry="1.73"/><ellipse cx="114.97" cy="856.95" rx="1.07" ry="1.44"/><ellipse cx="141.41" cy="832.8" rx="1.11" ry="1.44"/><ellipse cx="133.81" cy="820.42" rx="1.36" ry="1.87"/><ellipse cx="84.91" cy="819.77" rx="1.88" ry="1.12"/><ellipse cx="153.81" cy="852.81" rx="1.31" ry="1.04"/><ellipse cx="122.81" cy="826.67" rx="1.61" ry="1.47"/><ellipse cx="105.67" cy="834.88" rx="1.95" ry="1.99"/><ellipse cx="135.78" cy="823.42" rx="1.13" ry="1.68"/><ellipse cx="126.01" cy="833.79" rx="1.41" ry="1.32"/><ellipse cx="91.18" cy="843" rx="1.49" ry="1.52"/><ellipse cx="147.94" cy="834.21" rx="1.63" ry="1.76"/><ellipse cx="104.36" cy="816.45" rx="1.6" ry="1.47"/><ellipse cx="104.85" cy="839.35" rx="1.82" ry="1.34"/><ellipse cx="95.31" cy="820.84" rx="1.83" ry="1.61"/><ellipse cx="148.27" cy="825.83" rx="1.15" ry="1.94"/><ellipse cx="89" cy="822.28" rx="1.04" ry="1.52"/><ellipse cx="153.79" cy="815.89" rx="1.12" ry="1.95"/><ellipse cx="153.94" cy="833.24" rx="1.11" ry="1.83"/><ellipse cx="84.62" cy="817.77" rx="1.83" ry="1.48"/><ellipse cx="147.25" cy="841.87" rx="1.5" ry="1.66"/><ellipse cx="106.66" cy="821.63" rx="1.87" ry="1.07"/><ellipse cx="86.11" cy="821.46" rx="1.77" ry="1.39"/><ellipse cx="125.79" cy="856.37" rx="1.76" ry="1.4"/><ellipse cx="126.8" cy="829.53" rx="1.95" ry="1.94"/><ellipse cx="85.33" cy="825.82" rx="1.74" ry="1.6"/><ellipse cx="151.73" cy="856.5" rx="1.47" ry="1.11"/><ellipse cx="149.02" cy="851.44" rx="1.06" ry="1.35"/><ellipse cx="113.07" cy="853.21" rx="1.92" ry="1.62"/><ellipse cx="109.06" cy="853.52" rx="1.43" ry="1.29"/><ellipse cx="137.94" cy="814.5" rx="1.64" ry="1.26"/><ellipse cx="116.9" cy="822.34" rx="1.68" ry="1.71"/><ellipse cx="93.63" cy="847.3" rx="1.11" ry="1.94"/><ellipse cx="121.59" cy="844.13" rx="1.52" ry="1.36"/><ellipse cx="124.4" cy="833.85" rx="1.32" ry="1.58"/><ellipse cx="135.87" cy="826.41" rx="1.2" ry="1.04"/><ellipse cx="97.13" cy="821.72" rx="1.26" ry="1.61"/><ellipse cx="95.28" cy="850.55" rx="1.82" ry="1.59"/><ellipse cx="144.57" cy="850.38" rx="1.14" ry="1.5"/><ellipse cx="133.09" cy="842.96" rx="1.73" ry="1.52"/><ellipse cx="152.67" cy="822.48" rx="1.34" ry="1.18"/><ellipse cx="150.07" cy="853.75" rx="1.76" ry="1.77"/><ellipse cx="142.3" cy="858.1" rx="1.11" ry="1.71"/><ellipse cx="139.06" cy="841.28" rx="1.78" ry="1.67"/><ellipse cx="113.86" cy="853.64" rx="1.18" ry="1"/><ellipse cx="140.21" cy="843.66" rx="1.21" ry="1.43"/><ellipse cx="101.33" cy="827.78" rx="1.08" ry="1.1"/><ellipse cx="144.36" cy="848.41" rx="1.16" ry="1.48"/><ellipse cx="152.37" cy="823.05" rx="2" ry="1.48"/><ellipse cx="133.28" cy="842.57" rx="1.48" ry="1.13"/><ellipse cx="124.26" cy="814.44" rx="1.72" ry="1.66"/><ellipse cx="136.04" cy="841.17" rx="1.82" ry="1.41"/><ellipse cx="105.47" cy="815.89" rx="1.76" ry="1.55"/><ellipse cx="147.58" cy="818.08" rx="1.01" ry="1.2"/><ellipse cx="136.63" cy="849.47" rx="1.89" ry="1.67"/><ellipse cx="92.43" cy="841.67" rx="1.98" ry="1.88"/><ellipse cx="135.22" cy="854.45" rx="1.44" ry="1.68"/><ellipse cx="93.79" cy="852.31" rx="1.62" ry="1.02"/><ellipse cx="143.64" cy="839.13" rx="1.26" ry="1.81"/><ellipse cx="134.8" cy="813.58" rx="1.63" ry="1.66"/><ellipse cx="140.9" cy="844.8" rx="1.54" ry="1.76"/><ellipse cx="146.26" cy="855.29" rx="1.67" ry="1.22"/><ellipse cx="152.25" cy="848.74" rx="1.04" ry="1.63"/><ellipse cx="86.58" cy="839.95" rx="1.13" ry="1.05"/><ellipse cx="141.62" cy="858.58" rx="1.05" ry="1.06"/><ellipse cx="154.27" cy="819.52" rx="1.98" ry="1.55"/><ellipse cx="130.77" cy="854.15" rx="1.5" ry="1.28"/><ellipse cx="132.04" cy="848.91" rx="1.37" ry="1.59"/><ellipse cx="144.73" cy="830.45" rx="1.49" ry="2"/><ellipse cx="111.31" cy="815.29" rx="1.54" ry="1.07"/><ellipse cx="121.55" cy="818.51" rx="1.98" ry="1.73"/><ellipse cx="151.32" cy="835.86" rx="1.91" ry="1.79"/><ellipse cx="127.98" cy="848.22" rx="1.79" ry="1.59"/><ellipse cx="154.5" cy="831.7" rx="1.41" ry="1.61"/><ellipse cx="116.19" cy="836.47" rx="1.35" ry="1.82"/><ellipse cx="87.98" cy="835.73" rx="1.3" ry="1.84"/><ellipse cx="108.75" cy="856.71" rx="1.48" ry="1.49"/><ellipse cx="122.03" cy="833.31" rx="1.01" ry="1.45"/><ellipse cx="92.33" cy="822.56" rx="1.27" ry="1.19"/><ellipse cx="148.21" cy="824.12" rx="1.39" ry="1.6"/><ellipse cx="147.22" cy="844.25" rx="1.11" ry="1.97"/><ellipse cx="89.38" cy="846.65" rx="1.99" ry="1.76"/><ellipse cx="152.46" cy="814.93" rx="1.43" ry="1.39"/><ellipse cx="91.97" cy="857.82" rx="1.39" ry="1.55"/><ellipse cx="110.48" cy="849.42" rx="1.35" ry="1.17"/><ellipse cx="142.78" cy="852.88" rx="1.46" ry="1.51"/><ellipse cx="117.34" cy="813.57" rx="1.19" ry="1.65"/><ellipse cx="104.32" cy="825.97" rx="1.42" ry="1.89"/><ellipse cx="129.49" cy="833.33" rx="1.68" ry="1.73"/><ellipse cx="133.59" cy="845.82" rx="1.32" ry="1.19"/><ellipse cx="98.12" cy="814.96" rx="1.4" ry="1.38"/><ellipse cx="98.96" cy="856.11" rx="1.68" ry="1.43"/><ellipse cx="104.32" cy="834.27" rx="1.43" ry="1.89"/><ellipse cx="97.58" cy="817.89" rx="1.01" ry="1.69"/><ellipse cx="116.61" cy="848.37" rx="1.97" ry="1.89"/><ellipse cx="111.66" cy="820.67" rx="1.63" ry="1.49"/><ellipse cx="132.57" cy="836.14" rx="1.27" ry="1.87"/><ellipse cx="85.08" cy="857.37" rx="1.98" ry="1.4"/><ellipse cx="106.31" cy="854.77" rx="1.77" ry="1.09"/><ellipse cx="143.31" cy="812.22" rx="1.58" ry="1.21"/><ellipse cx="148.63" cy="837.69" rx="1.51" ry="1.45"/><ellipse cx="88.1" cy="839.69" rx="1.99" ry="1.51"/><ellipse cx="97.3" cy="811.93" rx="1.62" ry="1.53"/><ellipse cx="141.1" cy="838.56" rx="1.11" ry="1.95"/><ellipse cx="154.33" cy="829.64" rx="1.44" ry="1.19"/><ellipse cx="127.87" cy="832.87" rx="1.72" ry="1.44"/><ellipse cx="132.6" cy="830.78" rx="1.63" ry="1.68"/><ellipse cx="145.83" cy="826.66" rx="1.55" ry="1.14"/><ellipse cx="154.16" cy="817.72" rx="1.1" ry="1.85"/><ellipse cx="139.5" cy="837.94" rx="1.47" ry="1.21"/><ellipse cx="116.35" cy="826.93" rx="1.14" ry="1.43"/><ellipse cx="140.6" cy="834.35" rx="1.85" ry="1.32"/><ellipse cx="133.98" cy="832.97" rx="1.7" ry="1.28"/><ellipse cx="142.77" cy="836.01" rx="1.33" ry="1.88"/><ellipse cx="117.76" cy="823.64" rx="1.31" ry="1.86"/><ellipse cx="129.53" cy="835.99" rx="1.1" ry="1.65"/><ellipse cx="128.78" cy="828.51" rx="1.52" ry="1.59"/><ellipse cx="97.4" cy="838.75" rx="1.46" ry="1.1"/><ellipse cx="101.96" cy="825.55" rx="1.15" ry="1.31"/><ellipse cx="131.01" cy="857.52" rx="1.73" ry="1.95"/><ellipse cx="151.48" cy="849.04" rx="1.89" ry="1.18"/><ellipse cx="94.25" cy="813.39" rx="1.65" ry="1.84"/><ellipse cx="139.37" cy="814.38" rx="1.07" ry="1.32"/><ellipse cx="95.23" cy="855.8" rx="1.57" ry="1.58"/><ellipse cx="102.57" cy="835.92" rx="1.45" ry="1.62"/><ellipse cx="91.7" cy="855.93" rx="1.55" ry="1.83"/><ellipse cx="133.12" cy="839.42" rx="1.9" ry="1.33"/><ellipse cx="109.9" cy="819.63" rx="1.44" ry="1.49"/><ellipse cx="90.21" cy="854.35" rx="1.9" ry="1.36"/><ellipse cx="145.28" cy="826.84" rx="1.26" ry="1.28"/><ellipse cx="139.49" cy="841.28" rx="1.35" ry="1.97"/><ellipse cx="137.63" cy="845.75" rx="1.34" ry="1.83"/><ellipse cx="104.23" cy="829.6" rx="1.4" ry="1.17"/><ellipse cx="122.66" cy="812.58" rx="1.04" ry="1.89"/><ellipse cx="114.59" cy="819.75" rx="1.01" ry="1.47"/><ellipse cx="102.27" cy="821.05" rx="1.27" ry="1.03"/><ellipse cx="87.2" cy="851.03" rx="1.16" ry="1.9"/><ellipse cx="126.81" cy="853.29" rx="1.7" ry="1.63"/><ellipse cx="137.04" cy="814.49" rx="1.97" ry="1.13"/><ellipse cx="123.27" cy="828.48" rx="1.46" ry="1.85"/><ellipse cx="106.49" cy="855.28" rx="1.97" ry="1.18"/></g>
<g fill="#e4e4ec" opacity="0.9" clip-path="url(#cl13)"><ellipse cx="117.58" cy="835.53" rx="1.06" ry="2.32"/><ellipse cx="127.84" cy="825.13" rx="1.42" ry="1.75"/><ellipse cx="102.63" cy="843.5" rx="1.2" ry="1.13"/><ellipse cx="99.62" cy="836.06" rx="2.57" ry="2.13"/><ellipse cx="122.68" cy="831.11" rx="1.9" ry="2.23"/><ellipse cx="111.25" cy="836.46" rx="2.56" ry="1.56"/><ellipse cx="120.9" cy="832.43" rx="2.19" ry="1.98"/><ellipse cx="120.16" cy="823.29" rx="1.64" ry="1.06"/><ellipse cx="123.31" cy="845.33" rx="2.41" ry="2.39"/><ellipse cx="138.21" cy="833.06" rx="1.6" ry="1.07"/><ellipse cx="136.92" cy="824.73" rx="1.38" ry="2.17"/><ellipse cx="95.53" cy="839.47" rx="2.18" ry="1.24"/><ellipse cx="138.29" cy="834.95" rx="2.37" ry="1.26"/><ellipse cx="122.61" cy="829.02" rx="1.32" ry="2.22"/><ellipse cx="93.27" cy="847.36" rx="1.81" ry="2"/><ellipse cx="109.55" cy="840.42" rx="1.41" ry="1.61"/><ellipse cx="108.92" cy="842.42" rx="1.97" ry="1.92"/><ellipse cx="129.29" cy="836.77" rx="1.09" ry="2.45"/><ellipse cx="114.97" cy="832.39" rx="1.43" ry="1.63"/><ellipse cx="88.73" cy="847.68" rx="2.51" ry="1.3"/><ellipse cx="135.72" cy="826.61" rx="1.62" ry="1.57"/><ellipse cx="132.77" cy="828.51" rx="1.84" ry="2.17"/><ellipse cx="153.5" cy="819.04" rx="1.79" ry="2.34"/><ellipse cx="131.45" cy="831.46" rx="2.5" ry="1.47"/><ellipse cx="111.94" cy="843.64" rx="1.53" ry="2.16"/><ellipse cx="91.87" cy="847.39" rx="1.66" ry="2.23"/><ellipse cx="129.02" cy="832.31" rx="2.2" ry="2.21"/><ellipse cx="138.75" cy="828.69" rx="1.33" ry="1.41"/><ellipse cx="129.4" cy="834.44" rx="1.25" ry="1.32"/><ellipse cx="149.05" cy="826.6" rx="2.27" ry="1.55"/><ellipse cx="132.03" cy="822.81" rx="2.07" ry="1.65"/><ellipse cx="103.59" cy="839.23" rx="1.91" ry="1.51"/><ellipse cx="90.99" cy="844.77" rx="1.26" ry="1.68"/><ellipse cx="128.74" cy="829.97" rx="1.73" ry="1.04"/><ellipse cx="143.54" cy="827.92" rx="1.49" ry="1.17"/><ellipse cx="143.57" cy="830.45" rx="2.29" ry="2.27"/><ellipse cx="157.62" cy="831.95" rx="1.53" ry="1.1"/><ellipse cx="118.59" cy="825.39" rx="1.54" ry="1.81"/><ellipse cx="151.42" cy="836.16" rx="1.12" ry="1.98"/><ellipse cx="94.43" cy="845.32" rx="1.28" ry="1.33"/><ellipse cx="117.42" cy="835.71" rx="1.49" ry="2.26"/><ellipse cx="158.72" cy="827.06" rx="2.32" ry="1.02"/><ellipse cx="135.55" cy="831.95" rx="2.54" ry="1.05"/><ellipse cx="93.11" cy="846.17" rx="2.43" ry="2.37"/><ellipse cx="126.19" cy="831.45" rx="1.62" ry="1.51"/><ellipse cx="97.83" cy="843.16" rx="1.56" ry="1.11"/><ellipse cx="94.01" cy="847.44" rx="2.19" ry="2.34"/><ellipse cx="120.3" cy="830.5" rx="1.63" ry="1.8"/><ellipse cx="93.96" cy="840.95" rx="1.11" ry="1.09"/><ellipse cx="135.38" cy="827.63" rx="2.39" ry="1.21"/><ellipse cx="120.85" cy="839.43" rx="1.51" ry="1.71"/><ellipse cx="113.82" cy="838.12" rx="1.2" ry="1.64"/><ellipse cx="115.97" cy="834.66" rx="2.05" ry="1.62"/><ellipse cx="117.97" cy="833.77" rx="2.23" ry="1.07"/><ellipse cx="89.16" cy="844.18" rx="1.5" ry="1.33"/><ellipse cx="131.49" cy="831.29" rx="2.56" ry="2.07"/><ellipse cx="120.93" cy="837.6" rx="2.18" ry="1.36"/><ellipse cx="119.28" cy="837.48" rx="2.51" ry="1.69"/><ellipse cx="99.67" cy="839.88" rx="1.21" ry="2.12"/><ellipse cx="119.81" cy="839.72" rx="1.02" ry="1.12"/><ellipse cx="148.44" cy="827.15" rx="1" ry="2.5"/><ellipse cx="101.32" cy="840.2" rx="2.29" ry="1.33"/><ellipse cx="137.18" cy="831.49" rx="1.48" ry="1.88"/><ellipse cx="94.71" cy="834.79" rx="2.42" ry="1.03"/><ellipse cx="82.66" cy="843.84" rx="1.83" ry="1.83"/><ellipse cx="95.24" cy="841.53" rx="1.68" ry="2.3"/><ellipse cx="111.85" cy="831.99" rx="2.47" ry="2.46"/><ellipse cx="102.22" cy="839.24" rx="1.02" ry="1.83"/><ellipse cx="124.87" cy="832.74" rx="2.31" ry="1.98"/><ellipse cx="136.7" cy="829.62" rx="1.78" ry="1.36"/><ellipse cx="130.16" cy="827.4" rx="1.17" ry="1.72"/><ellipse cx="115.73" cy="828.2" rx="1.39" ry="2.22"/><ellipse cx="125.69" cy="834.02" rx="1.24" ry="2.55"/><ellipse cx="129.84" cy="826.65" rx="1.5" ry="2.3"/><ellipse cx="92.1" cy="832.66" rx="2.05" ry="1.13"/><ellipse cx="96.87" cy="841.12" rx="1.02" ry="2.32"/><ellipse cx="128.65" cy="834.93" rx="2.22" ry="1.96"/><ellipse cx="131.56" cy="825.89" rx="1.03" ry="1.22"/><ellipse cx="136.22" cy="829.2" rx="1.34" ry="1.71"/><ellipse cx="142.5" cy="825.61" rx="1.39" ry="2.54"/><ellipse cx="129.97" cy="829.18" rx="1.81" ry="2.46"/><ellipse cx="117.63" cy="833.01" rx="1.13" ry="2.47"/><ellipse cx="91.59" cy="847.88" rx="1.38" ry="2.06"/><ellipse cx="90.47" cy="844.47" rx="1.31" ry="1.23"/><ellipse cx="151.82" cy="822.4" rx="1.36" ry="1.7"/><ellipse cx="86.93" cy="838.68" rx="1.46" ry="1.31"/><ellipse cx="138.51" cy="832.07" rx="2.1" ry="1.61"/><ellipse cx="149.42" cy="828.61" rx="2.55" ry="1.5"/><ellipse cx="148.2" cy="825.22" rx="2.59" ry="1.09"/><ellipse cx="102.68" cy="847.59" rx="1.75" ry="1.47"/><ellipse cx="143.12" cy="823.5" rx="1.62" ry="1.08"/><ellipse cx="108.24" cy="835.19" rx="2.01" ry="1.12"/><ellipse cx="119.56" cy="830.83" rx="1.99" ry="1.6"/><ellipse cx="96.55" cy="836.96" rx="1.47" ry="1.18"/><ellipse cx="104.17" cy="839.53" rx="1.99" ry="2.1"/><ellipse cx="144.47" cy="830.41" rx="1.8" ry="2.47"/><ellipse cx="134.13" cy="834.12" rx="2.34" ry="2.04"/><ellipse cx="102.06" cy="833.9" rx="1.32" ry="2.57"/><ellipse cx="103.58" cy="832.04" rx="1.19" ry="1.18"/><ellipse cx="111.62" cy="838.36" rx="1.11" ry="1"/><ellipse cx="110.15" cy="828.48" rx="2.01" ry="1.15"/><ellipse cx="140.45" cy="829.89" rx="1.04" ry="1.27"/><ellipse cx="121.98" cy="835.74" rx="2.12" ry="1.58"/><ellipse cx="134.57" cy="828.47" rx="1.8" ry="1.91"/><ellipse cx="139.33" cy="833.96" rx="1.98" ry="1.66"/><ellipse cx="123.39" cy="831.29" rx="2.07" ry="2.44"/><ellipse cx="150.43" cy="838.9" rx="1.22" ry="2.57"/><ellipse cx="132.52" cy="830.13" rx="2.37" ry="1.29"/><ellipse cx="131.26" cy="833.05" rx="2.36" ry="1.52"/><ellipse cx="134.17" cy="834.16" rx="2.09" ry="1.35"/></g>
<g fill="#8890d0" opacity="0.8" clip-path="url(#cl13)"><ellipse cx="144.23" cy="824.2" rx="1.62" ry="1.27"/><ellipse cx="110.61" cy="835.71" rx="2.36" ry="1.12"/><ellipse cx="138.12" cy="829.06" rx="1.8" ry="1.46"/><ellipse cx="106.97" cy="848.84" rx="1.91" ry="1.23"/><ellipse cx="123.55" cy="826.94" rx="1.95" ry="1.75"/><ellipse cx="104.49" cy="832.74" rx="1.01" ry="2.28"/><ellipse cx="126.29" cy="833.55" rx="2.17" ry="2.39"/><ellipse cx="121.22" cy="844.87" rx="1.5" ry="2.01"/><ellipse cx="145.15" cy="824.84" rx="1.47" ry="2.18"/><ellipse cx="94.89" cy="844.27" rx="1.11" ry="1.12"/><ellipse cx="136.51" cy="830.52" rx="1.34" ry="2.32"/><ellipse cx="100.33" cy="840.51" rx="1.89" ry="1.91"/><ellipse cx="124.89" cy="828.49" rx="1.79" ry="1.2"/><ellipse cx="110.97" cy="836.75" rx="2.4" ry="1.01"/><ellipse cx="140.98" cy="824.87" rx="1.13" ry="2.36"/><ellipse cx="146.82" cy="823.62" rx="1.22" ry="1.19"/><ellipse cx="141.9" cy="829.41" rx="1.64" ry="1.75"/><ellipse cx="145.78" cy="835.3" rx="1.68" ry="2.05"/><ellipse cx="128.18" cy="833.5" rx="1.37" ry="1.54"/><ellipse cx="102.55" cy="842.21" rx="1.71" ry="2.3"/><ellipse cx="101.29" cy="831.04" rx="1.17" ry="1.42"/><ellipse cx="142.55" cy="836.53" rx="1.61" ry="1.39"/><ellipse cx="134.13" cy="835.72" rx="1.22" ry="1.43"/><ellipse cx="146.54" cy="828.53" rx="1.7" ry="2.25"/><ellipse cx="134.46" cy="833.72" rx="1.16" ry="1.69"/><ellipse cx="91.9" cy="850.83" rx="1.84" ry="2.01"/><ellipse cx="146.2" cy="826.15" rx="1.9" ry="1.97"/><ellipse cx="138" cy="826.73" rx="1.77" ry="2.08"/><ellipse cx="105.46" cy="834.98" rx="1.36" ry="2.28"/><ellipse cx="100.14" cy="830.43" rx="1.63" ry="2.05"/><ellipse cx="117.66" cy="841.46" rx="2.16" ry="1.85"/><ellipse cx="145.99" cy="833.38" rx="1.37" ry="1.43"/><ellipse cx="142.12" cy="829.71" rx="2.05" ry="1.26"/><ellipse cx="105.91" cy="849.26" rx="1.03" ry="1.22"/><ellipse cx="113.66" cy="832.51" rx="1.11" ry="2.13"/><ellipse cx="107.39" cy="840.67" rx="2.39" ry="1.77"/><ellipse cx="136.97" cy="820.26" rx="1.65" ry="2.38"/><ellipse cx="105.79" cy="845.03" rx="1.72" ry="1.99"/><ellipse cx="135.61" cy="820.31" rx="2.25" ry="1.42"/><ellipse cx="129.16" cy="833.4" rx="1.09" ry="1.95"/></g>
<g fill="#e82020" opacity="0.95" clip-path="url(#cl13)"><ellipse cx="115.32" cy="840.32" rx="0.75" ry="0.82"/><ellipse cx="131.81" cy="829.56" rx="0.92" ry="0.64"/><ellipse cx="114.42" cy="833.47" rx="0.95" ry="0.74"/><ellipse cx="114.45" cy="838.12" rx="0.89" ry="0.79"/><ellipse cx="132.85" cy="830.26" rx="0.92" ry="1"/><ellipse cx="120.18" cy="842.72" rx="0.66" ry="0.93"/><ellipse cx="147.19" cy="833.64" rx="0.99" ry="0.91"/><ellipse cx="134.33" cy="828.05" rx="0.95" ry="0.68"/><ellipse cx="141.85" cy="827.19" rx="0.72" ry="0.86"/><ellipse cx="155.49" cy="832.96" rx="0.87" ry="0.88"/><ellipse cx="114.8" cy="836.43" rx="0.85" ry="0.75"/><ellipse cx="96.97" cy="843.26" rx="0.98" ry="0.74"/><ellipse cx="114.26" cy="832.16" rx="0.75" ry="0.96"/><ellipse cx="144.52" cy="825.72" rx="0.97" ry="0.64"/><ellipse cx="113.84" cy="828.97" rx="0.62" ry="0.93"/><ellipse cx="117.06" cy="831.6" rx="0.83" ry="0.66"/><ellipse cx="152.41" cy="820.81" rx="0.73" ry="0.74"/><ellipse cx="108.48" cy="839.09" rx="0.75" ry="0.93"/></g>
<rect x="156.5" y="811.8" width="69.9" height="47" fill="#000006" />
<clipPath id="cl23"><rect x="156.5" y="811.8" width="69.9" height="47"/></clipPath>
<g fill="#2424e8" opacity="0.95" clip-path="url(#cl23)"><ellipse cx="210.81" cy="812.56" rx="1.69" ry="1.54"/><ellipse cx="213.14" cy="827.71" rx="1.46" ry="1.26"/><ellipse cx="213.46" cy="846.23" rx="1.96" ry="1.6"/><ellipse cx="201.96" cy="847.31" rx="1.79" ry="1.73"/><ellipse cx="159.24" cy="823.1" rx="1.81" ry="1.71"/><ellipse cx="197.78" cy="817.85" rx="1.66" ry="1.27"/><ellipse cx="162.2" cy="842.45" rx="1.24" ry="1.31"/><ellipse cx="161.86" cy="821.75" rx="1.06" ry="1.14"/><ellipse cx="225.75" cy="846.87" rx="1.44" ry="1.24"/><ellipse cx="206.34" cy="836.71" rx="1.1" ry="1.54"/><ellipse cx="222.1" cy="818.12" rx="1.72" ry="1.34"/><ellipse cx="169.35" cy="848.17" rx="1.29" ry="1.48"/><ellipse cx="158.63" cy="839.46" rx="1.08" ry="1.03"/><ellipse cx="204.1" cy="830.74" rx="1.08" ry="1.32"/><ellipse cx="170.31" cy="824.88" rx="1.41" ry="1.91"/><ellipse cx="160.25" cy="855.71" rx="1.95" ry="1.28"/><ellipse cx="157.85" cy="825.55" rx="1.8" ry="1.61"/><ellipse cx="195.42" cy="828.88" rx="1.84" ry="1.14"/><ellipse cx="161.16" cy="851.31" rx="1.04" ry="1.39"/><ellipse cx="181.74" cy="850.93" rx="1.79" ry="1.78"/><ellipse cx="167.71" cy="818.81" rx="1.85" ry="1.84"/><ellipse cx="212.37" cy="857.95" rx="1.99" ry="1.04"/><ellipse cx="179.49" cy="856.62" rx="1.92" ry="1.1"/><ellipse cx="167.59" cy="833.64" rx="1.54" ry="1.1"/><ellipse cx="157.17" cy="815.43" rx="1.87" ry="1.63"/><ellipse cx="173.95" cy="853.12" rx="1.57" ry="1.69"/><ellipse cx="177.93" cy="842.56" rx="1.07" ry="1.44"/><ellipse cx="193.79" cy="840.03" rx="1.71" ry="1.62"/><ellipse cx="172.41" cy="841.86" rx="1.77" ry="1.5"/><ellipse cx="157.04" cy="844.23" rx="1.21" ry="1.63"/><ellipse cx="165.48" cy="854.04" rx="1.65" ry="1.68"/><ellipse cx="180.84" cy="854.62" rx="1.22" ry="1.93"/><ellipse cx="198.63" cy="851.03" rx="1.48" ry="1.73"/><ellipse cx="197.85" cy="844.19" rx="1.36" ry="1.42"/><ellipse cx="159.63" cy="841.02" rx="1.64" ry="1.31"/><ellipse cx="203.68" cy="834.33" rx="1.34" ry="1.44"/><ellipse cx="173.73" cy="814.44" rx="1.51" ry="1.52"/><ellipse cx="190.69" cy="817.59" rx="1.6" ry="1.29"/><ellipse cx="197.44" cy="853.48" rx="1.11" ry="1.33"/><ellipse cx="175.28" cy="827.5" rx="1.29" ry="1.69"/><ellipse cx="177.3" cy="814.21" rx="1.29" ry="1.55"/><ellipse cx="223.42" cy="822.66" rx="1.57" ry="1.6"/><ellipse cx="214.43" cy="856.3" rx="1.31" ry="1.84"/><ellipse cx="187.92" cy="812.92" rx="1.57" ry="1.77"/><ellipse cx="223.4" cy="826.56" rx="1.96" ry="1.5"/><ellipse cx="224.64" cy="827.05" rx="1.16" ry="1.75"/><ellipse cx="202.28" cy="830.83" rx="1.47" ry="1.25"/><ellipse cx="221.37" cy="856.33" rx="1.47" ry="1.66"/><ellipse cx="205.42" cy="819.57" rx="1.64" ry="1.88"/><ellipse cx="196.75" cy="842.82" rx="1.99" ry="1.76"/><ellipse cx="226.39" cy="824.1" rx="1.92" ry="1.79"/><ellipse cx="161.49" cy="828.79" rx="1.08" ry="1.17"/><ellipse cx="196.15" cy="818.41" rx="1.39" ry="1.13"/><ellipse cx="213.99" cy="855.85" rx="1.89" ry="1.62"/><ellipse cx="185.67" cy="813.25" rx="1.98" ry="1.52"/><ellipse cx="211.84" cy="831.09" rx="1.11" ry="1.67"/><ellipse cx="193.92" cy="815.8" rx="1.78" ry="1.72"/><ellipse cx="174.5" cy="820.44" rx="1.88" ry="1.45"/><ellipse cx="225.68" cy="852.29" rx="1.45" ry="1.21"/><ellipse cx="190.29" cy="850.66" rx="1.85" ry="1.22"/><ellipse cx="194.45" cy="846.75" rx="1.78" ry="1.92"/><ellipse cx="206.15" cy="836.7" rx="1.51" ry="1.89"/><ellipse cx="209.44" cy="829.68" rx="1.89" ry="1.43"/><ellipse cx="168.28" cy="835.67" rx="1.52" ry="1.22"/><ellipse cx="213.4" cy="814.23" rx="1.41" ry="1.16"/><ellipse cx="212.49" cy="812.21" rx="1.45" ry="1.14"/><ellipse cx="176.61" cy="843.06" rx="1.28" ry="1.58"/><ellipse cx="162.74" cy="849.62" rx="1.7" ry="1.31"/><ellipse cx="196.67" cy="821.35" rx="1.81" ry="1.21"/><ellipse cx="159.64" cy="823" rx="1.9" ry="1.88"/><ellipse cx="159.95" cy="818.7" rx="1.22" ry="1.49"/><ellipse cx="204.71" cy="822.82" rx="1.86" ry="1.63"/><ellipse cx="193.07" cy="839.68" rx="1.01" ry="1.19"/><ellipse cx="206.23" cy="840.45" rx="1.12" ry="1.68"/><ellipse cx="173.8" cy="834.04" rx="1.4" ry="1.46"/><ellipse cx="225.22" cy="831.07" rx="1.99" ry="1.13"/><ellipse cx="158.03" cy="854.67" rx="1.96" ry="1.7"/><ellipse cx="207.77" cy="820.08" rx="1.02" ry="1.2"/><ellipse cx="206.89" cy="815.21" rx="1.31" ry="1.46"/><ellipse cx="205.39" cy="846.71" rx="1.63" ry="1.68"/><ellipse cx="171.11" cy="854.82" rx="1.12" ry="1.84"/><ellipse cx="204.83" cy="825.86" rx="1.68" ry="1.1"/><ellipse cx="223.8" cy="825.21" rx="1.09" ry="1.45"/><ellipse cx="159.47" cy="812.31" rx="1.38" ry="1.39"/><ellipse cx="164.91" cy="848.67" rx="1.59" ry="1.97"/><ellipse cx="198.11" cy="855.28" rx="1.45" ry="1.39"/><ellipse cx="195.39" cy="823.68" rx="1.89" ry="1.07"/><ellipse cx="165.71" cy="819.59" rx="1.67" ry="1.51"/><ellipse cx="212.26" cy="839.83" rx="1.8" ry="1.41"/><ellipse cx="215.18" cy="820.46" rx="1.31" ry="1.57"/><ellipse cx="167.31" cy="855.25" rx="1.61" ry="1.52"/><ellipse cx="192.2" cy="815.84" rx="1.38" ry="1.48"/><ellipse cx="172.43" cy="815.39" rx="1.27" ry="1.2"/><ellipse cx="166.02" cy="835.86" rx="1.67" ry="1.56"/><ellipse cx="204.07" cy="838.1" rx="1.06" ry="1.93"/><ellipse cx="224.47" cy="820.63" rx="1.36" ry="1.58"/><ellipse cx="176.07" cy="856.69" rx="1.75" ry="1"/><ellipse cx="206.07" cy="812.11" rx="1.4" ry="1.31"/><ellipse cx="190.59" cy="856.35" rx="1.52" ry="1.36"/><ellipse cx="197.54" cy="816.4" rx="1.35" ry="1.72"/><ellipse cx="201.8" cy="817.82" rx="1.63" ry="1.69"/><ellipse cx="221.79" cy="836.81" rx="1.56" ry="1.88"/><ellipse cx="212.34" cy="833.99" rx="1.67" ry="1.16"/><ellipse cx="218.04" cy="844.81" rx="1.61" ry="1.31"/><ellipse cx="211.26" cy="847.1" rx="1.56" ry="1.71"/><ellipse cx="220.04" cy="844.13" rx="1.55" ry="1.75"/><ellipse cx="223.27" cy="837.93" rx="1.92" ry="1.91"/><ellipse cx="167.46" cy="844.67" rx="1.76" ry="1.34"/><ellipse cx="211.5" cy="846.69" rx="1.13" ry="1.13"/><ellipse cx="205.78" cy="853.37" rx="1.57" ry="1.18"/><ellipse cx="163.61" cy="820.68" rx="1.59" ry="1.93"/><ellipse cx="157.49" cy="856" rx="1.3" ry="1.15"/><ellipse cx="186.75" cy="857" rx="1.23" ry="1.37"/><ellipse cx="226.12" cy="831.93" rx="1.66" ry="1.29"/><ellipse cx="191.62" cy="851.19" rx="1.53" ry="1.42"/><ellipse cx="209.61" cy="831.24" rx="1.68" ry="1.92"/><ellipse cx="194.23" cy="811.82" rx="1.53" ry="1.36"/><ellipse cx="162.94" cy="850.25" rx="1.65" ry="1.51"/><ellipse cx="168.06" cy="831.77" rx="1.1" ry="1.46"/><ellipse cx="194.81" cy="839.03" rx="1.17" ry="1.74"/><ellipse cx="210.53" cy="816.39" rx="1.78" ry="1.17"/><ellipse cx="188.95" cy="837.68" rx="1.59" ry="1.56"/><ellipse cx="182.73" cy="813.17" rx="1.46" ry="1.74"/><ellipse cx="191.56" cy="815.16" rx="1.52" ry="1.18"/><ellipse cx="176.54" cy="853.39" rx="1.54" ry="1.87"/><ellipse cx="210.35" cy="820.4" rx="1.57" ry="1.9"/><ellipse cx="225.29" cy="822.42" rx="1.85" ry="1.98"/><ellipse cx="216.92" cy="854.23" rx="1.99" ry="1.79"/><ellipse cx="199.06" cy="813.38" rx="1.79" ry="1.3"/><ellipse cx="180.38" cy="848.94" rx="1.97" ry="1.5"/><ellipse cx="172.57" cy="822.23" rx="1.22" ry="1.68"/><ellipse cx="165.17" cy="841.67" rx="1.65" ry="1.54"/><ellipse cx="190.43" cy="842.71" rx="1.14" ry="1.23"/><ellipse cx="189.71" cy="836.34" rx="1.82" ry="1.92"/><ellipse cx="203.54" cy="851.09" rx="1.4" ry="1.29"/><ellipse cx="180.64" cy="819.97" rx="1.11" ry="1.66"/><ellipse cx="208.89" cy="831.24" rx="1.79" ry="1.98"/><ellipse cx="170.73" cy="817.56" rx="1.88" ry="1.87"/><ellipse cx="207.81" cy="835.19" rx="1.01" ry="1.07"/><ellipse cx="214.39" cy="817.02" rx="1.36" ry="1.73"/><ellipse cx="178.71" cy="825.14" rx="1.06" ry="1.14"/><ellipse cx="186.1" cy="818.09" rx="1.59" ry="1.18"/><ellipse cx="215.23" cy="836.1" rx="1.48" ry="1.01"/><ellipse cx="207" cy="814.67" rx="1.99" ry="1.45"/><ellipse cx="177.62" cy="840.01" rx="1.65" ry="1.01"/><ellipse cx="168.07" cy="844.46" rx="1.49" ry="1.93"/><ellipse cx="162.8" cy="827.61" rx="1.08" ry="1.42"/><ellipse cx="167.59" cy="829.63" rx="1.5" ry="1.35"/><ellipse cx="174.29" cy="823.35" rx="1.37" ry="1.95"/><ellipse cx="177.49" cy="836.28" rx="1.38" ry="1.88"/></g>
<g fill="#e4e4ec" opacity="0.8" clip-path="url(#cl23)"><ellipse cx="174.92" cy="837.4" rx="1.58" ry="1.53"/><ellipse cx="177.53" cy="840.74" rx="2.5" ry="2.27"/><ellipse cx="167.88" cy="847.11" rx="1.32" ry="2.53"/><ellipse cx="204.02" cy="828.97" rx="2.59" ry="1.7"/><ellipse cx="172.88" cy="835.13" rx="1.47" ry="1.6"/><ellipse cx="187" cy="824.74" rx="2.29" ry="1.88"/><ellipse cx="217.71" cy="831.35" rx="1.43" ry="1.24"/><ellipse cx="180.9" cy="834.99" rx="1.77" ry="2.27"/><ellipse cx="208.23" cy="832.7" rx="1.04" ry="1.15"/><ellipse cx="210.1" cy="826.06" rx="1.02" ry="1.62"/><ellipse cx="209.42" cy="834.95" rx="2.17" ry="1.75"/><ellipse cx="202.51" cy="831.78" rx="2.32" ry="2.27"/><ellipse cx="175.81" cy="846.34" rx="2.51" ry="2.3"/><ellipse cx="178.22" cy="829.72" rx="2.03" ry="2.54"/><ellipse cx="223.38" cy="828.89" rx="1.41" ry="1.73"/><ellipse cx="216.97" cy="824.4" rx="2.51" ry="1.28"/><ellipse cx="162.75" cy="840.62" rx="1.27" ry="2.4"/><ellipse cx="195.72" cy="835.8" rx="1.82" ry="2.59"/><ellipse cx="165.08" cy="846.66" rx="1.53" ry="2.45"/><ellipse cx="190.4" cy="836.31" rx="1.62" ry="1.69"/><ellipse cx="168.64" cy="844.2" rx="1.33" ry="2.6"/><ellipse cx="184.47" cy="842.57" rx="1.32" ry="1.96"/><ellipse cx="200.2" cy="834.49" rx="2.24" ry="2.06"/><ellipse cx="210.88" cy="834.68" rx="1.84" ry="1.27"/><ellipse cx="214.14" cy="834.34" rx="2.19" ry="1.56"/><ellipse cx="181.61" cy="837.82" rx="1.11" ry="2.24"/><ellipse cx="221.09" cy="826.46" rx="1.37" ry="2.41"/><ellipse cx="177.74" cy="841.94" rx="1.74" ry="2.45"/><ellipse cx="175.65" cy="839.46" rx="2.43" ry="1.66"/><ellipse cx="160.02" cy="842.13" rx="1.49" ry="2.33"/><ellipse cx="206.93" cy="826.68" rx="2.58" ry="2.46"/><ellipse cx="195.31" cy="838.9" rx="1.97" ry="1.08"/><ellipse cx="227.57" cy="834.15" rx="1.44" ry="1.83"/><ellipse cx="168.03" cy="841.39" rx="2.42" ry="1.95"/><ellipse cx="176.88" cy="842.05" rx="1.29" ry="1.11"/><ellipse cx="213.87" cy="828.56" rx="2.2" ry="1.77"/><ellipse cx="183.7" cy="833.55" rx="1.29" ry="2.46"/><ellipse cx="215.52" cy="830.89" rx="2.57" ry="1.46"/><ellipse cx="167.53" cy="843.53" rx="1.85" ry="1.09"/><ellipse cx="209.18" cy="821.85" rx="1.25" ry="2.57"/><ellipse cx="161.23" cy="849.15" rx="2.54" ry="1.05"/><ellipse cx="197.67" cy="834.79" rx="1.67" ry="2.39"/><ellipse cx="212.97" cy="828.44" rx="2.14" ry="2.26"/><ellipse cx="219.81" cy="817.85" rx="2.24" ry="2.43"/><ellipse cx="170.44" cy="842.28" rx="2.53" ry="1.52"/><ellipse cx="189.88" cy="829.27" rx="1.58" ry="2.06"/><ellipse cx="193.61" cy="840.77" rx="2.1" ry="1.66"/><ellipse cx="217.46" cy="829.57" rx="1.5" ry="1.02"/><ellipse cx="200.05" cy="833.92" rx="2.12" ry="1.96"/><ellipse cx="172.9" cy="842.57" rx="1.97" ry="1.28"/><ellipse cx="183.97" cy="839.43" rx="1.59" ry="1.6"/><ellipse cx="201.05" cy="838.07" rx="1.38" ry="2.44"/><ellipse cx="214.91" cy="833.54" rx="2.43" ry="2.32"/><ellipse cx="230.28" cy="828.28" rx="1.7" ry="1.58"/><ellipse cx="186.26" cy="842.6" rx="1.93" ry="1.79"/><ellipse cx="167.16" cy="847.58" rx="2.57" ry="1.55"/><ellipse cx="161.33" cy="844.98" rx="1.24" ry="2.32"/><ellipse cx="211.81" cy="829.18" rx="1.22" ry="2.21"/><ellipse cx="206.81" cy="833.58" rx="1.21" ry="2.37"/><ellipse cx="161.18" cy="843.62" rx="1.59" ry="2.52"/><ellipse cx="160.73" cy="842.78" rx="2.17" ry="1.29"/><ellipse cx="221.41" cy="825.69" rx="1.45" ry="1.17"/><ellipse cx="162.98" cy="848.2" rx="1.83" ry="1.23"/><ellipse cx="177.1" cy="840.1" rx="2.15" ry="1.71"/><ellipse cx="158.76" cy="845.6" rx="2.4" ry="2.34"/><ellipse cx="185.5" cy="831.23" rx="2.29" ry="1.22"/><ellipse cx="221.16" cy="832.99" rx="2.55" ry="1.78"/><ellipse cx="158.77" cy="848.6" rx="2.57" ry="1.38"/><ellipse cx="217.94" cy="829.82" rx="1.93" ry="1.62"/><ellipse cx="187.49" cy="833.04" rx="2.43" ry="2.2"/><ellipse cx="177.86" cy="839.26" rx="1.74" ry="1.16"/><ellipse cx="169.72" cy="835.35" rx="1.72" ry="1.02"/><ellipse cx="160.37" cy="846.25" rx="1.42" ry="1.65"/><ellipse cx="189.72" cy="838.34" rx="2.5" ry="2.18"/><ellipse cx="231.88" cy="820.45" rx="2.06" ry="1.17"/><ellipse cx="214.47" cy="828.4" rx="1.59" ry="1.21"/><ellipse cx="187.46" cy="835.72" rx="1.71" ry="2.14"/><ellipse cx="176.2" cy="840.2" rx="2.31" ry="2.1"/><ellipse cx="199.53" cy="835.88" rx="2.53" ry="1.04"/><ellipse cx="211.51" cy="833.47" rx="1.01" ry="1.3"/><ellipse cx="196.76" cy="836.34" rx="2.22" ry="1.95"/><ellipse cx="189.57" cy="833.67" rx="1.24" ry="1.08"/><ellipse cx="165.95" cy="842.24" rx="1.41" ry="2.37"/><ellipse cx="170.05" cy="836.66" rx="2.44" ry="1.55"/><ellipse cx="193.7" cy="837.74" rx="2.37" ry="2.09"/><ellipse cx="167.62" cy="845.21" rx="2.23" ry="2.15"/><ellipse cx="212.59" cy="830.28" rx="1.93" ry="1.23"/><ellipse cx="224.14" cy="822.49" rx="1.31" ry="1.25"/><ellipse cx="179.16" cy="844.41" rx="1.79" ry="2.38"/><ellipse cx="213.79" cy="822.41" rx="2.29" ry="2.57"/><ellipse cx="192.18" cy="832.51" rx="1.54" ry="1.18"/><ellipse cx="188.39" cy="829.1" rx="2.06" ry="2.21"/><ellipse cx="211.25" cy="825.75" rx="2.2" ry="2.45"/><ellipse cx="164.04" cy="840.45" rx="1.79" ry="1.34"/><ellipse cx="218.32" cy="827.69" rx="1.12" ry="2.4"/><ellipse cx="199.77" cy="836.05" rx="2.37" ry="1.12"/><ellipse cx="172.46" cy="839.78" rx="1.22" ry="2.1"/><ellipse cx="195.3" cy="833.33" rx="2.18" ry="1.37"/><ellipse cx="168.62" cy="837.28" rx="1.06" ry="1.95"/><ellipse cx="196.17" cy="830.09" rx="2.36" ry="2.31"/><ellipse cx="204.97" cy="826.55" rx="2.02" ry="1.55"/><ellipse cx="227.9" cy="826.87" rx="1.67" ry="2.34"/><ellipse cx="222.16" cy="833.1" rx="2.31" ry="1.2"/><ellipse cx="205.49" cy="826.41" rx="1.73" ry="1.25"/><ellipse cx="163.57" cy="845.34" rx="1.7" ry="1.67"/><ellipse cx="197.73" cy="836.6" rx="1.63" ry="1.86"/><ellipse cx="210.65" cy="829.7" rx="1.13" ry="1.95"/><ellipse cx="192.9" cy="835.35" rx="1.13" ry="2.33"/><ellipse cx="181.09" cy="835.35" rx="1.3" ry="1.4"/><ellipse cx="196.1" cy="842.98" rx="1.66" ry="1.58"/></g>
<g fill="#8890d0" opacity="0.8" clip-path="url(#cl23)"><ellipse cx="167.82" cy="843.13" rx="1.14" ry="1.78"/><ellipse cx="158.46" cy="839.15" rx="1" ry="1.79"/><ellipse cx="196.19" cy="822.67" rx="1.66" ry="1.04"/><ellipse cx="213.35" cy="832.78" rx="1.88" ry="2.22"/><ellipse cx="203.04" cy="832.88" rx="1.32" ry="2.29"/><ellipse cx="195.1" cy="833.23" rx="1.13" ry="1.44"/><ellipse cx="169.53" cy="836.98" rx="1.51" ry="1.79"/><ellipse cx="194.4" cy="827.65" rx="1.31" ry="1.45"/><ellipse cx="222.06" cy="831.63" rx="1.89" ry="1.85"/><ellipse cx="171.14" cy="850.33" rx="1.16" ry="1.36"/><ellipse cx="167.63" cy="830.35" rx="1.54" ry="1.36"/><ellipse cx="175.4" cy="836.27" rx="2.03" ry="1.9"/><ellipse cx="166.5" cy="835.93" rx="2.25" ry="1.56"/><ellipse cx="224.71" cy="843.71" rx="1.03" ry="2.3"/><ellipse cx="169.84" cy="832.82" rx="1.41" ry="1.87"/><ellipse cx="207.85" cy="828.74" rx="2.12" ry="2.2"/><ellipse cx="170.57" cy="856.37" rx="1.86" ry="1.56"/><ellipse cx="187.13" cy="825.92" rx="1.72" ry="2.34"/><ellipse cx="212.65" cy="824.05" rx="1.58" ry="1.86"/><ellipse cx="204.66" cy="833.51" rx="1.35" ry="2.16"/><ellipse cx="174.04" cy="840.79" rx="1.95" ry="1.92"/><ellipse cx="158.94" cy="838.34" rx="1.49" ry="1.62"/><ellipse cx="175.14" cy="833.28" rx="1.59" ry="2.06"/><ellipse cx="207.85" cy="833.66" rx="2.08" ry="1.63"/><ellipse cx="215.19" cy="834.39" rx="1.84" ry="1.34"/><ellipse cx="159.58" cy="848.57" rx="2.27" ry="1.02"/><ellipse cx="194.24" cy="833.74" rx="2.4" ry="2.03"/><ellipse cx="188.74" cy="843.12" rx="1.9" ry="2.07"/><ellipse cx="170.5" cy="846.64" rx="2.29" ry="1.31"/><ellipse cx="182.52" cy="836.79" rx="2.08" ry="2.34"/><ellipse cx="157.44" cy="841.97" rx="1.3" ry="2.33"/><ellipse cx="196.74" cy="839.95" rx="2.16" ry="1.49"/><ellipse cx="210.66" cy="830.63" rx="1.16" ry="1.07"/><ellipse cx="166.07" cy="844.13" rx="1.99" ry="1.9"/><ellipse cx="209.47" cy="829.04" rx="1.87" ry="1.87"/><ellipse cx="215.12" cy="822.68" rx="1.63" ry="1.28"/><ellipse cx="220.45" cy="826.22" rx="1.6" ry="2.26"/><ellipse cx="201.82" cy="843.46" rx="1.76" ry="2.39"/><ellipse cx="187.81" cy="842.33" rx="1.4" ry="1.25"/><ellipse cx="203.01" cy="821.41" rx="1.11" ry="1.04"/></g>
<g fill="#e82020" opacity="0.95" clip-path="url(#cl23)"><ellipse cx="219.17" cy="831.97" rx="0.8" ry="0.75"/><ellipse cx="203.54" cy="837.75" rx="0.97" ry="0.98"/><ellipse cx="215.96" cy="836.53" rx="0.61" ry="0.68"/><ellipse cx="168.86" cy="836.9" rx="0.99" ry="0.86"/><ellipse cx="195.13" cy="824.57" rx="0.66" ry="0.63"/><ellipse cx="191.12" cy="834.8" rx="0.84" ry="0.83"/><ellipse cx="215.9" cy="824.89" rx="0.9" ry="0.78"/><ellipse cx="205.79" cy="831.03" rx="0.74" ry="0.87"/><ellipse cx="217.22" cy="835.74" rx="0.65" ry="0.85"/><ellipse cx="187.29" cy="841.51" rx="0.87" ry="0.73"/><ellipse cx="169.2" cy="846.71" rx="0.76" ry="0.73"/><ellipse cx="169.02" cy="838.12" rx="0.68" ry="0.82"/><ellipse cx="200.75" cy="839.09" rx="0.93" ry="0.77"/><ellipse cx="159.33" cy="842.88" rx="0.77" ry="0.79"/><ellipse cx="219.9" cy="831.47" rx="0.66" ry="0.89"/><ellipse cx="222.86" cy="838.63" rx="0.66" ry="0.89"/><ellipse cx="176.84" cy="838.49" rx="0.99" ry="0.9"/><ellipse cx="217.11" cy="822.46" rx="0.62" ry="0.68"/></g>
<text x="86.5" y="818.5" font-size="4.6" fill="#ddd" text-anchor="start" font-style="italic" >col12a1a</text>
<text x="158.5" y="818.5" font-size="4.6" fill="#ddd" text-anchor="start" font-style="italic" >lum</text>
<path d="M54.5,855.5 L79.5,855.5" stroke="#bbb" stroke-width="0.9"/>
<path d="M126.6,855.5 L151.6,855.5" stroke="#bbb" stroke-width="0.9"/>
<path d="M198.4,855.5 L223.4,855.5" stroke="#bbb" stroke-width="0.9"/>
<text x="238.5" y="667.5" font-size="19" fill="#000" text-anchor="start" font-weight="bold" >j</text>
<g filter="url(#speck)">
<path d="M313,769.2 C315.43,767.98 321.05,767.82 324.7,767.7 C328.35,767.58 331.52,767.78 334.9,768.5 C338.28,769.22 341.65,770.75 345,772 C348.35,773.25 352,774.83 355,776 C358,777.17 361.83,777.5 363,779 C364.17,780.5 363.83,783.83 362,785 C360.17,786.17 354.83,785.17 352,786 C349.17,786.83 347,787.45 345,790 C343,792.55 341.93,798.93 340,801.3 C338.07,803.67 335.47,804.68 333.4,804.2 C331.33,803.72 329.53,799.85 327.6,798.4 C325.67,796.95 323.75,796.97 321.8,795.5 C319.85,794.03 317.62,791.8 315.9,789.6 C314.18,787.4 312.47,784.73 311.5,782.3 C310.53,779.87 309.85,777.18 310.1,775 C310.35,772.82 310.57,770.42 313,769.2Z" fill="#a8d0a0" />
<path d="M282.3,697 C284.73,695.67 288.42,694.35 291.1,694.1 C293.78,693.85 296.22,694.65 298.4,695.5 C300.58,696.35 302.73,697.12 304.2,699.2 C305.67,701.28 306.47,704.83 307.2,708 C307.93,711.17 308.37,714.8 308.6,718.2 C308.83,721.6 309.08,725.73 308.6,728.4 C308.12,731.07 307.15,733.95 305.7,734.2 C304.25,734.45 301.85,731.6 299.9,729.9 C297.95,728.2 296.2,725.95 294,724 C291.8,722.05 289.13,719.9 286.7,718.2 C284.27,716.5 281.35,715.27 279.4,713.8 C277.45,712.33 275.48,711.35 275,709.4 C274.52,707.45 275.28,704.17 276.5,702.1 C277.72,700.03 279.87,698.33 282.3,697Z" fill="#7a7a4a" />
<path d="M301.3,697.7 C302.03,696 306.93,696.17 310.1,696.3 C313.27,696.43 317.87,697.28 320.3,698.5 C322.73,699.72 324.45,702.02 324.7,703.6 C324.95,705.18 323.75,707.15 321.8,708 C319.85,708.85 315.68,708.95 313,708.7 C310.32,708.45 307.65,708.33 305.7,706.5 C303.75,704.67 300.57,699.4 301.3,697.7Z" fill="#c8bc82" />
<path d="M296.2,687.5 C296.68,685.78 300.48,684.32 302.8,683.1 C305.12,681.88 307.43,680.43 310.1,680.2 C312.77,679.97 316.85,680.48 318.8,681.7 C320.75,682.92 321.43,685.43 321.8,687.5 C322.17,689.57 322.47,692.52 321,694.1 C319.53,695.68 315.55,696.63 313,697 C310.45,697.37 307.88,696.9 305.7,696.3 C303.52,695.7 301.48,694.87 299.9,693.4 C298.32,691.93 295.72,689.22 296.2,687.5Z" fill="#6e9e3e" />
<path d="M275,728.4 C276.22,726.22 280.63,725.5 283.8,725.5 C286.97,725.5 290.6,726.95 294,728.4 C297.4,729.85 301.03,732.5 304.2,734.2 C307.37,735.9 310.32,737.13 313,738.6 C315.68,740.07 319.33,741.05 320.3,743 C321.27,744.95 320.5,748.6 318.8,750.3 C317.1,752 313.5,752.95 310.1,753.2 C306.7,753.45 302.05,752.53 298.4,751.8 C294.75,751.07 291.12,750.02 288.2,748.8 C285.28,747.58 282.85,746.2 280.9,744.5 C278.95,742.8 277.48,741.28 276.5,738.6 C275.52,735.92 273.78,730.58 275,728.4Z" fill="#e8a0f8" />
<path d="M298.4,759 C301.82,757.3 306.2,756.72 310.1,756.1 C314,755.48 317.67,755.18 321.8,755.3 C325.93,755.42 332.97,755.7 334.9,756.8 C336.83,757.9 335.58,760.32 333.4,761.9 C331.22,763.48 325.2,764.6 321.8,766.3 C318.4,768 315.43,769.67 313,772.1 C310.57,774.53 309.15,777.98 307.2,780.9 C305.25,783.82 303.25,786.68 301.3,789.6 C299.35,792.52 297.68,795.97 295.5,798.4 C293.32,800.83 290.88,803.47 288.2,804.2 C285.52,804.93 282.57,804.25 279.4,802.8 C276.23,801.35 272.12,797.93 269.2,795.5 C266.28,793.07 263.37,790.4 261.9,788.2 C260.43,786 259.18,783.77 260.4,782.3 C261.62,780.83 266.27,780.37 269.2,779.4 C272.13,778.43 275.57,777.72 278,776.5 C280.43,775.28 281.87,773.8 283.8,772.1 C285.73,770.4 287.17,768.48 289.6,766.3 C292.03,764.12 294.98,760.7 298.4,759Z" fill="#d8d838" />
<path d="M260.4,748.8 C262.12,747.08 267.28,745.08 270.7,745.8 C274.12,746.52 277.75,750.9 280.9,753.1 C284.05,755.3 286.68,756.57 289.6,759 C292.52,761.43 295.72,765.27 298.4,767.7 C301.08,770.13 303.52,771.4 305.7,773.6 C307.88,775.8 310.28,777.73 311.5,780.9 C312.72,784.07 313.23,789.2 313,792.6 C312.77,796 312.05,799.37 310.1,801.3 C308.15,803.23 303.65,804.68 301.3,804.2 C298.95,803.72 296.05,800.77 296,798.4 C295.95,796.03 300.33,792.73 301,790 C301.67,787.27 301.33,784.17 300,782 C298.67,779.83 295.67,778.67 293,777 C290.33,775.33 287,773.5 284,772 C281,770.5 277.47,769.33 275,768 C272.53,766.67 271.13,765.33 269.2,764 C267.27,762.67 264.87,761.32 263.4,760 C261.93,758.68 260.9,757.97 260.4,756.1 C259.9,754.23 258.68,750.52 260.4,748.8Z" fill="#d03838" />
<path d="M250.2,751.7 C250.93,750 254.15,749.47 256.1,750.2 C258.05,750.93 259.72,753.9 261.9,756.1 C264.08,758.3 266.77,761.22 269.2,763.4 C271.63,765.58 275.03,766.77 276.5,769.2 C277.97,771.63 279.22,776.05 278,778 C276.78,779.95 272.13,780.9 269.2,780.9 C266.27,780.9 262.58,779.22 260.4,778 C258.22,776.78 257.07,775.32 256.1,773.6 C255.13,771.88 255.33,769.9 254.6,767.7 C253.87,765.5 252.43,763.07 251.7,760.4 C250.97,757.73 249.47,753.4 250.2,751.7Z" fill="#2e7a98" />
<path d="M256.1,731.3 C258.05,728.63 261.88,726.72 264.8,725.5 C267.72,724.28 271.4,723.52 273.6,724 C275.8,724.48 277.77,726.2 278,728.4 C278.23,730.6 276.47,734.28 275,737.2 C273.53,740.12 271.13,743.47 269.2,745.9 C267.27,748.33 265.58,751.07 263.4,751.8 C261.22,752.53 257.82,752.02 256.1,750.3 C254.38,748.58 253.1,744.67 253.1,741.5 C253.1,738.33 254.15,733.97 256.1,731.3Z" fill="#40c030" />
<path d="M263.4,716 C263.82,715 265.78,714.75 267,715 C268.22,715.25 270.37,716.5 270.7,717.5 C271.03,718.5 270.03,720.42 269,721 C267.97,721.58 265.43,721.83 264.5,721 C263.57,720.17 262.98,717 263.4,716Z" fill="#283c90" />
<path d="M334.6,721.9 C335.57,719.83 339.72,717.05 341.9,716.8 C344.08,716.55 345.52,719.07 347.7,720.4 C349.88,721.73 352.57,723.95 355,724.8 C357.43,725.65 361.8,725.02 362.3,725.5 C362.8,725.98 360.18,727.08 358,727.7 C355.82,728.32 351.88,728.47 349.2,729.2 C346.52,729.93 344.08,732.1 341.9,732.1 C339.72,732.1 337.32,730.9 336.1,729.2 C334.88,727.5 333.63,723.97 334.6,721.9Z" fill="#ff2020" />
<path d="M346.3,743 C347.13,742.35 350.05,741.77 352,741.6 C353.95,741.43 356.03,741.68 358,742 C359.97,742.32 363.47,742.78 363.8,743.5 C364.13,744.22 361.97,745.77 360,746.3 C358.03,746.83 354.17,746.83 352,746.7 C349.83,746.57 347.95,746.12 347,745.5 C346.05,744.88 345.47,743.65 346.3,743Z" fill="#e0d840" />
<path d="M332,741.5 C332.42,740.78 334.82,740.5 335.5,741 C336.18,741.5 336.52,743.78 336.1,744.5 C335.68,745.22 333.68,745.8 333,745.3 C332.32,744.8 331.58,742.22 332,741.5Z" fill="#2a7a5a" />
<path d="M378.8,721.9 C380.02,720.92 384.83,719.92 387.5,720.4 C390.17,720.88 392.37,723.33 394.8,724.8 C397.23,726.27 399.67,727.98 402.1,729.2 C404.53,730.42 408.92,731.13 409.4,732.1 C409.88,733.07 406.22,733.3 405,735 C403.78,736.7 403.07,740.83 402.1,742.3 C401.13,743.77 400.17,744.77 399.2,743.8 C398.23,742.83 397.52,738.2 396.3,736.5 C395.08,734.8 393.6,734.82 391.9,733.6 C390.2,732.38 388.05,730.42 386.1,729.2 C384.15,727.98 381.42,727.52 380.2,726.3 C378.98,725.08 377.58,722.88 378.8,721.9Z" fill="#906090" />
<path d="M383.1,758.4 C383.82,757.18 387.72,755.22 390.4,754 C393.08,752.78 396.27,752.07 399.2,751.1 C402.13,750.13 405.32,749.42 408,748.2 C410.68,746.98 412.87,745.5 415.3,743.8 C417.73,742.1 420.17,740.18 422.6,738 C425.03,735.82 427.47,732.42 429.9,730.7 C432.33,728.98 434.53,728.07 437.2,727.7 C439.87,727.33 443.35,727.77 445.9,728.5 C448.45,729.23 451.17,730.52 452.5,732.1 C453.83,733.68 454.02,735.8 453.9,738 C453.78,740.2 453.13,742.87 451.8,745.3 C450.47,747.73 448.1,750.42 445.9,752.6 C443.7,754.78 441.52,756.7 438.6,758.4 C435.68,760.1 431.8,761.7 428.4,762.8 C425,763.9 421.12,764.77 418.2,765 C415.28,765.23 413.73,764.82 410.9,764.2 C408.07,763.58 404.12,761.78 401.2,761.3 C398.28,760.82 395.92,761.3 393.4,761.3 C390.88,761.3 387.82,761.78 386.1,761.3 C384.38,760.82 382.38,759.62 383.1,758.4Z" fill="#d08830" />
<path d="M286,820 C286.75,818.83 288.5,818.17 290,818 C291.5,817.83 293.67,818.17 295,819 C296.33,819.83 297.67,821.33 298,823 C298.33,824.67 298,827.5 297,829 C296,830.5 293.67,831.83 292,832 C290.33,832.17 288.08,831.17 287,830 C285.92,828.83 285.67,826.67 285.5,825 C285.33,823.33 285.25,821.17 286,820Z" fill="#4a4a60" />
</g>
<path d="M300,688 C298.83,687.67 295.5,686 293,686 C290.5,686 286.33,687.67 285,688" fill="none" stroke="#111" stroke-width="0.55"/>
<path d="M282.99,688.5 L284.67,686.66 L285.33,689.34Z" fill="#111"/>
<path d="M318,683 C316.83,682.67 313.5,681 311,681 C308.5,681 304.33,682.67 303,683" fill="none" stroke="#111" stroke-width="0.55"/>
<path d="M300.99,683.5 L302.67,681.66 L303.33,684.34Z" fill="#111"/>
<path d="M322,690 C321.67,689.17 321,686.67 320,685 C319,683.33 316.67,680.83 316,680" fill="none" stroke="#111" stroke-width="0.55"/>
<path d="M314.71,678.38 L317.08,679.14 L314.92,680.86Z" fill="#111"/>
<path d="M305,700 C303.5,699.83 299.17,698.67 296,699 C292.83,699.33 287.67,701.5 286,702" fill="none" stroke="#111" stroke-width="0.55"/>
<path d="M284.02,702.59 L285.6,700.68 L286.4,703.32Z" fill="#111"/>
<path d="M307,712 C305.17,711.67 299.83,711 296,710 C292.17,709 286,706.67 284,706" fill="none" stroke="#111" stroke-width="0.55"/>
<path d="M282.04,705.35 L284.44,704.69 L283.56,707.31Z" fill="#111"/>
<path d="M300,720 C298.33,719.33 293.5,717 290,716 C286.5,715 280.83,714.33 279,714" fill="none" stroke="#111" stroke-width="0.55"/>
<path d="M276.96,713.63 L279.25,712.64 L278.75,715.36Z" fill="#111"/>
<path d="M308,728 C306.67,727.33 302.67,725 300,724 C297.33,723 293.33,722.33 292,722" fill="none" stroke="#111" stroke-width="0.55"/>
<path d="M289.99,721.5 L292.33,720.66 L291.67,723.34Z" fill="#111"/>
<path d="M318,702 C316.67,701.83 312.67,700.83 310,701 C307.33,701.17 303.33,702.67 302,703" fill="none" stroke="#111" stroke-width="0.55"/>
<path d="M299.99,703.5 L301.67,701.66 L302.33,704.34Z" fill="#111"/>
<path d="M322,707 C321,706.83 317.83,705.83 316,706 C314.17,706.17 311.83,707.67 311,708" fill="none" stroke="#111" stroke-width="0.55"/>
<path d="M309.08,708.77 L310.49,706.72 L311.51,709.28Z" fill="#111"/>
<path d="M296,735 C294.33,734.67 289.33,733.33 286,733 C282.67,732.67 277.67,733 276,733" fill="none" stroke="#111" stroke-width="0.55"/>
<path d="M273.93,733 L276,731.62 L276,734.38Z" fill="#111"/>
<path d="M312,742 C310,741.67 303.83,740.67 300,740 C296.17,739.33 290.83,738.33 289,738" fill="none" stroke="#111" stroke-width="0.55"/>
<path d="M286.96,737.63 L289.25,736.64 L288.75,739.36Z" fill="#111"/>
<path d="M318,749 C316,748.83 309.83,748.5 306,748 C302.17,747.5 296.83,746.33 295,746" fill="none" stroke="#111" stroke-width="0.55"/>
<path d="M292.96,745.63 L295.25,744.64 L294.75,747.36Z" fill="#111"/>
<path d="M275,731 C273.33,731.33 267.83,731.83 265,733 C262.17,734.17 259.17,737.17 258,738" fill="none" stroke="#111" stroke-width="0.55"/>
<path d="M256.32,739.2 L257.2,736.88 L258.8,739.12Z" fill="#111"/>
<path d="M272,740 C270.5,740.5 265.5,741.67 263,743 C260.5,744.33 258,747.17 257,748" fill="none" stroke="#111" stroke-width="0.55"/>
<path d="M255.41,749.33 L256.12,746.94 L257.88,749.06Z" fill="#111"/>
<path d="M258,733 C257.33,734.17 254.83,737.5 254,740 C253.17,742.5 253.17,746.67 253,748" fill="none" stroke="#111" stroke-width="0.55"/>
<path d="M252.74,750.05 L251.63,747.83 L254.37,748.17Z" fill="#111"/>
<path d="M252,745 C251.83,746.17 251,749.5 251,752 C251,754.5 251.83,758.67 252,760" fill="none" stroke="#111" stroke-width="0.55"/>
<path d="M252.26,762.05 L250.63,760.17 L253.37,759.83Z" fill="#111"/>
<path d="M256,760 C256.33,761.67 257,767 258,770 C259,773 261.33,776.67 262,778" fill="none" stroke="#111" stroke-width="0.55"/>
<path d="M262.93,779.85 L260.77,778.62 L263.23,777.38Z" fill="#111"/>
<path d="M265,752 C266.17,753.33 269.5,757.67 272,760 C274.5,762.33 278.67,765 280,766" fill="none" stroke="#111" stroke-width="0.55"/>
<path d="M281.66,767.24 L279.17,767.1 L280.83,764.9Z" fill="#111"/>
<path d="M270,790 C271.67,788.33 276.67,783 280,780 C283.33,777 288.33,773.33 290,772" fill="none" stroke="#111" stroke-width="0.55"/>
<path d="M291.62,770.71 L290.86,773.08 L289.14,770.92Z" fill="#111"/>
<path d="M290,790 C291.67,788 297,781 300,778 C303,775 306.67,773 308,772" fill="none" stroke="#111" stroke-width="0.55"/>
<path d="M309.66,770.76 L308.83,773.1 L307.17,770.9Z" fill="#111"/>
<path d="M300,800 C300.67,799.17 303,797 304,795 C305,793 305.67,789.17 306,788" fill="none" stroke="#111" stroke-width="0.55"/>
<path d="M306.57,786.01 L307.33,788.38 L304.67,787.62Z" fill="#111"/>
<path d="M294,802 C293.67,800.83 292.17,797.67 292,795 C291.83,792.33 292.83,787.5 293,786" fill="none" stroke="#111" stroke-width="0.55"/>
<path d="M293.23,783.94 L294.37,786.15 L291.63,785.85Z" fill="#111"/>
<path d="M310,788 C310.33,786.67 310.67,782.33 312,780 C313.33,777.67 317,775 318,774" fill="none" stroke="#111" stroke-width="0.55"/>
<path d="M319.46,772.54 L318.98,774.98 L317.02,773.02Z" fill="#111"/>
<path d="M320,760 C321.67,760 327,760 330,760 C333,760 336.67,760 338,760" fill="none" stroke="#111" stroke-width="0.55"/>
<path d="M340.07,760 L338,761.38 L338,758.62Z" fill="#111"/>
<path d="M325,770 C326.67,770.33 331.67,771.17 335,772 C338.33,772.83 343.33,774.5 345,775" fill="none" stroke="#111" stroke-width="0.55"/>
<path d="M346.98,775.59 L344.6,776.32 L345.4,773.68Z" fill="#111"/>
<path d="M330,780 C331.67,779.83 336.67,779.33 340,779 C343.33,778.67 348.33,778.17 350,778" fill="none" stroke="#111" stroke-width="0.55"/>
<path d="M352.06,777.79 L350.14,779.37 L349.86,776.63Z" fill="#111"/>
<path d="M325,790 C326.33,789.33 330.17,787.17 333,786 C335.83,784.83 340.5,783.5 342,783" fill="none" stroke="#111" stroke-width="0.55"/>
<path d="M343.96,782.35 L342.44,784.31 L341.56,781.69Z" fill="#111"/>
<path d="M332,800 C332.83,798.83 334.83,794.67 337,793 C339.17,791.33 343.67,790.5 345,790" fill="none" stroke="#111" stroke-width="0.55"/>
<path d="M346.94,789.27 L345.48,791.29 L344.52,788.71Z" fill="#111"/>
<path d="M345,795 C345.83,793.83 347.83,789.67 350,788 C352.17,786.33 356.67,785.5 358,785" fill="none" stroke="#111" stroke-width="0.55"/>
<path d="M359.94,784.27 L358.48,786.29 L357.52,783.71Z" fill="#111"/>
<path d="M340,745 C338.67,744.17 334.33,741.67 332,740 C329.67,738.33 327,735.83 326,735" fill="none" stroke="#111" stroke-width="0.55"/>
<path d="M324.41,733.67 L326.88,733.94 L325.12,736.06Z" fill="#111"/>
<path d="M345,734 C343.83,733.83 340.33,733 338,733 C335.67,733 332.17,733.83 331,734" fill="none" stroke="#111" stroke-width="0.55"/>
<path d="M328.95,734.29 L330.8,732.63 L331.2,735.37Z" fill="#111"/>
<path d="M355,722 C353.67,721.67 349.67,720.33 347,720 C344.33,719.67 340.33,720 339,720" fill="none" stroke="#111" stroke-width="0.55"/>
<path d="M336.93,720 L339,718.62 L339,721.38Z" fill="#111"/>
<path d="M361,730 C359.67,729.83 355.67,729.33 353,729 C350.33,728.67 346.33,728.17 345,728" fill="none" stroke="#111" stroke-width="0.55"/>
<path d="M342.95,727.74 L345.17,726.63 L344.83,729.37Z" fill="#111"/>
<path d="M339,716 C340.33,715.83 344.33,715 347,715 C349.67,715 353.67,715.83 355,716" fill="none" stroke="#111" stroke-width="0.55"/>
<path d="M357.05,716.26 L354.83,717.37 L355.17,714.63Z" fill="#111"/>
<path d="M325,725 C326,724.17 329,721.17 331,720 C333,718.83 336,718.33 337,718" fill="none" stroke="#111" stroke-width="0.55"/>
<path d="M338.96,717.35 L337.44,719.31 L336.56,716.69Z" fill="#111"/>
<path d="M350,738 C349.17,737.5 346.5,736.17 345,735 C343.5,733.83 341.67,731.67 341,731" fill="none" stroke="#111" stroke-width="0.55"/>
<path d="M339.54,729.54 L341.98,730.02 L340.02,731.98Z" fill="#111"/>
<path d="M404,731 C402.5,730.33 397.83,728.17 395,727 C392.17,725.83 388.33,724.5 387,724" fill="none" stroke="#111" stroke-width="0.55"/>
<path d="M385.06,723.27 L387.48,722.71 L386.52,725.29Z" fill="#111"/>
<path d="M398,722 C396.67,721.67 392.83,720.33 390,720 C387.17,719.67 382.5,720 381,720" fill="none" stroke="#111" stroke-width="0.55"/>
<path d="M378.93,720 L381,718.62 L381,721.38Z" fill="#111"/>
<path d="M392,738 C391,737.17 388.17,734.67 386,733 C383.83,731.33 380.17,728.83 379,728" fill="none" stroke="#111" stroke-width="0.55"/>
<path d="M377.32,726.8 L379.8,726.88 L378.2,729.12Z" fill="#111"/>
<path d="M410,740 C409,739.33 406,736.5 404,736 C402,735.5 399,736.83 398,737" fill="none" stroke="#111" stroke-width="0.55"/>
<path d="M395.96,737.34 L397.77,735.64 L398.23,738.36Z" fill="#111"/>
<path d="M385,770 C386.33,769.17 390.33,766.67 393,765 C395.67,763.33 399.67,760.83 401,760" fill="none" stroke="#111" stroke-width="0.55"/>
<path d="M402.76,758.9 L401.73,761.17 L400.27,758.83Z" fill="#111"/>
<path d="M378,770 C379.67,769.5 384.67,768 388,767 C391.33,766 396.33,764.5 398,764" fill="none" stroke="#111" stroke-width="0.55"/>
<path d="M399.98,763.41 L398.4,765.32 L397.6,762.68Z" fill="#111"/>
<path d="M390,758 C391.67,757.33 396.67,755 400,754 C403.33,753 408.33,752.33 410,752" fill="none" stroke="#111" stroke-width="0.55"/>
<path d="M412.03,751.59 L410.27,753.35 L409.73,750.65Z" fill="#111"/>
<path d="M405,762 C407.5,761.33 415.5,759.5 420,758 C424.5,756.5 430,753.83 432,753" fill="none" stroke="#111" stroke-width="0.55"/>
<path d="M433.91,752.2 L432.53,754.27 L431.47,751.73Z" fill="#111"/>
<path d="M412,756 C414.17,755.17 420.67,753 425,751 C429.33,749 435.83,745.17 438,744" fill="none" stroke="#111" stroke-width="0.55"/>
<path d="M439.82,743.02 L438.65,745.22 L437.35,742.78Z" fill="#111"/>
<path d="M420,745 C422,743.83 428,740 432,738 C436,736 442,733.83 444,733" fill="none" stroke="#111" stroke-width="0.55"/>
<path d="M445.91,732.2 L444.53,734.27 L443.47,731.73Z" fill="#111"/>
<path d="M430,760 C432,759 438.67,756.5 442,754 C445.33,751.5 448.67,746.5 450,745" fill="none" stroke="#111" stroke-width="0.55"/>
<path d="M451.38,743.45 L451.03,745.92 L448.97,744.08Z" fill="#111"/>
<path d="M448,735 C448.67,735.83 451.33,738.17 452,740 C452.67,741.83 452,745 452,746" fill="none" stroke="#111" stroke-width="0.55"/>
<path d="M452,748.07 L450.62,746 L453.38,746Z" fill="#111"/>
<path d="M360,768 C361.67,767.83 366.67,767.5 370,767 C373.33,766.5 378.33,765.33 380,765" fill="none" stroke="#111" stroke-width="0.55"/>
<path d="M382.03,764.59 L380.27,766.35 L379.73,763.65Z" fill="#111"/>
<path d="M368,775 C369.33,774.5 373.33,773.17 376,772 C378.67,770.83 382.67,768.67 384,768" fill="none" stroke="#111" stroke-width="0.55"/>
<path d="M385.85,767.07 L384.62,769.23 L383.38,766.77Z" fill="#111"/>
<path d="M355,760 C356.67,759.5 362.17,757.67 365,757 C367.83,756.33 370.83,756.17 372,756" fill="none" stroke="#111" stroke-width="0.55"/>
<path d="M374.05,755.71 L372.2,757.37 L371.8,754.63Z" fill="#111"/>
<path d="M303,815 C302.17,816.33 299.17,820.67 298,823 C296.83,825.33 296.33,828 296,829" fill="none" stroke="#111" stroke-width="0.55"/>
<path d="M295.35,830.96 L294.69,828.56 L297.31,829.44Z" fill="#111"/>
<path d="M281,820 C281.33,821.17 282,825 283,827 C284,829 286.33,831.17 287,832" fill="none" stroke="#111" stroke-width="0.55"/>
<path d="M288.29,833.62 L285.92,832.86 L288.08,831.14Z" fill="#111"/>
<path d="M258,795 C258.67,795.83 260.67,798.67 262,800 C263.33,801.33 265.33,802.5 266,803" fill="none" stroke="#111" stroke-width="0.55"/>
<path d="M267.66,804.24 L265.17,804.1 L266.83,801.9Z" fill="#111"/>
<path d="M275,700 C276.17,699.5 279.5,698 282,697 C284.5,696 288.67,694.5 290,694" fill="none" stroke="#111" stroke-width="0.55"/>
<path d="M291.94,693.27 L290.48,695.29 L289.52,692.71Z" fill="#111"/>
<path d="M284,712 C285.33,711.33 289.33,709 292,708 C294.67,707 298.67,706.33 300,706" fill="none" stroke="#111" stroke-width="0.55"/>
<path d="M302.01,705.5 L300.33,707.34 L299.67,704.66Z" fill="#111"/>
<path d="M306.13,795.29 C306.1,795.66 305.99,796.75 305.91,797.48 C305.84,798.21 305.77,798.94 305.69,799.67 C305.62,800.4 305.55,801.13 305.48,801.86 C305.4,802.59 305.33,803.32 305.26,804.05 C305.18,804.78 305.11,805.51 305.04,806.24 C304.96,806.97 304.86,808.06 304.82,808.43" fill="none" stroke="#111" stroke-width="0.55"/>
<path d="M304.61,810.49 L303.45,808.29 L306.19,808.56Z" fill="#111"/>
<path d="M291.57,705.58 C291.21,705.49 290.14,705.23 289.43,705.05 C288.72,704.87 288.01,704.69 287.3,704.51 C286.59,704.34 285.88,704.16 285.16,703.98 C284.45,703.8 283.74,703.63 283.03,703.45 C282.32,703.27 281.61,703.09 280.9,702.91 C280.18,702.74 279.12,702.47 278.76,702.38" fill="none" stroke="#111" stroke-width="0.55"/>
<path d="M276.75,701.88 L279.1,701.04 L278.43,703.72Z" fill="#111"/>
<path d="M308.18,801.07 C308.14,801.43 308.03,802.53 307.96,803.26 C307.88,803.99 307.81,804.72 307.74,805.45 C307.66,806.18 307.59,806.91 307.52,807.64 C307.45,808.37 307.37,809.1 307.3,809.83 C307.23,810.56 307.15,811.28 307.08,812.01 C307.01,812.74 306.9,813.84 306.86,814.2" fill="none" stroke="#111" stroke-width="0.55"/>
<path d="M306.66,816.26 L305.49,814.07 L308.24,814.34Z" fill="#111"/>
<path d="M290.59,798.44 C290.56,798.81 290.45,799.9 290.38,800.63 C290.3,801.36 290.23,802.09 290.16,802.82 C290.08,803.55 290.01,804.28 289.94,805.01 C289.86,805.74 289.79,806.47 289.72,807.2 C289.65,807.93 289.57,808.66 289.5,809.39 C289.43,810.12 289.32,811.21 289.28,811.58" fill="none" stroke="#111" stroke-width="0.55"/>
<path d="M289.07,813.64 L287.91,811.44 L290.65,811.72Z" fill="#111"/>
<path d="M313.68,739.6 C313.34,739.72 312.3,740.08 311.61,740.32 C310.92,740.56 310.18,740.72 309.53,741.05 C308.88,741.37 308.31,741.86 307.7,742.27 C307.09,742.68 306.48,743.08 305.87,743.49 C305.26,743.9 304.65,744.3 304.04,744.71 C303.43,745.12 302.52,745.73 302.21,745.93" fill="none" stroke="#111" stroke-width="0.55"/>
<path d="M300.49,747.08 L301.44,744.78 L302.98,747.08Z" fill="#111"/>
<path d="M285.63,800.26 C285.59,800.63 285.49,801.72 285.41,802.45 C285.34,803.18 285.27,803.91 285.19,804.64 C285.12,805.37 285.05,806.1 284.97,806.83 C284.9,807.56 284.83,808.29 284.76,809.02 C284.68,809.75 284.61,810.48 284.54,811.21 C284.46,811.94 284.35,813.03 284.32,813.4" fill="none" stroke="#111" stroke-width="0.55"/>
<path d="M284.11,815.46 L282.94,813.26 L285.69,813.53Z" fill="#111"/>
<path d="M288.88,774.73 C288.57,774.94 287.66,775.55 287.05,775.95 C286.44,776.36 285.83,776.77 285.22,777.17 C284.61,777.58 284,777.99 283.38,778.4 C282.77,778.8 282.16,779.21 281.55,779.62 C280.94,780.02 280.33,780.43 279.72,780.84 C279.11,781.24 278.2,781.85 277.89,782.06" fill="none" stroke="#111" stroke-width="0.55"/>
<path d="M276.17,783.2 L277.13,780.91 L278.66,783.2Z" fill="#111"/>
<path d="M357.14,777.28 C356.79,777.4 355.75,777.76 355.06,778 C354.37,778.25 353.68,778.49 352.99,778.73 C352.29,778.97 351.6,779.22 350.91,779.46 C350.22,779.7 349.52,779.94 348.83,780.18 C348.14,780.43 347.45,780.67 346.76,780.91 C346.06,781.15 345.03,781.52 344.68,781.64" fill="none" stroke="#111" stroke-width="0.55"/>
<path d="M342.73,782.32 L344.22,780.34 L345.13,782.94Z" fill="#111"/>
<path d="M270.47,773.79 C270.53,774.16 270.69,775.25 270.8,775.97 C270.91,776.7 271.02,777.42 271.13,778.15 C271.24,778.87 271.35,779.6 271.45,780.32 C271.56,781.05 271.67,781.77 271.78,782.5 C271.89,783.22 272.09,783.95 272.11,784.67 C272.12,785.4 271.92,786.5 271.89,786.86" fill="none" stroke="#111" stroke-width="0.55"/>
<path d="M271.68,788.92 L270.51,786.73 L273.26,787Z" fill="#111"/>
<path d="M313.89,700.72 C313.54,700.63 312.47,700.36 311.76,700.18 C311.05,700.01 310.34,699.83 309.63,699.65 C308.91,699.47 308.2,699.29 307.49,699.12 C306.78,698.94 306.07,698.76 305.36,698.58 C304.65,698.4 303.93,698.23 303.22,698.05 C302.51,697.87 301.44,697.6 301.09,697.52" fill="none" stroke="#111" stroke-width="0.55"/>
<path d="M299.08,697.01 L301.42,696.18 L300.75,698.85Z" fill="#111"/>
<path d="M254.81,741.18 C254.68,741.52 254.32,742.56 254.08,743.25 C253.84,743.94 253.59,744.64 253.35,745.33 C253.11,746.02 252.87,746.71 252.63,747.41 C252.38,748.1 252.14,748.79 251.9,749.48 C251.66,750.17 251.41,750.87 251.17,751.56 C250.93,752.25 250.57,753.29 250.45,753.64" fill="none" stroke="#111" stroke-width="0.55"/>
<path d="M249.76,755.59 L249.14,753.18 L251.75,754.09Z" fill="#111"/>
<path d="M270.18,733.62 C270.06,733.97 269.69,735.01 269.45,735.7 C269.21,736.39 268.97,737.08 268.73,737.78 C268.48,738.47 268.24,739.16 268,739.85 C267.76,740.54 267.51,741.24 267.27,741.93 C267.03,742.62 266.79,743.31 266.55,744.01 C266.3,744.7 265.94,745.74 265.82,746.08" fill="none" stroke="#111" stroke-width="0.55"/>
<path d="M265.13,748.04 L264.52,745.63 L267.12,746.54Z" fill="#111"/>
<path d="M279.04,786.13 C279.01,786.49 278.9,787.59 278.82,788.32 C278.75,789.04 278.68,789.77 278.61,790.5 C278.53,791.23 278.46,791.96 278.39,792.69 C278.31,793.42 278.24,794.15 278.17,794.88 C278.09,795.61 278.02,796.34 277.95,797.07 C277.88,797.8 277.77,798.9 277.73,799.26" fill="none" stroke="#111" stroke-width="0.55"/>
<path d="M277.52,801.32 L276.36,799.12 L279.1,799.4Z" fill="#111"/>
<path d="M451.01,736.05 C450.65,735.96 449.59,735.7 448.88,735.52 C448.16,735.34 447.45,735.16 446.74,734.99 C446.03,734.81 445.32,734.63 444.61,734.45 C443.9,734.27 443.18,734.1 442.47,733.92 C441.76,733.74 441.05,733.56 440.34,733.39 C439.63,733.21 438.56,732.94 438.2,732.85" fill="none" stroke="#111" stroke-width="0.55"/>
<path d="M436.2,732.35 L438.54,731.51 L437.87,734.19Z" fill="#111"/>
<path d="M323.16,778.61 C322.81,778.73 321.77,779.1 321.08,779.34 C320.39,779.58 319.7,779.82 319,780.06 C318.31,780.31 317.62,780.55 316.93,780.79 C316.23,781.03 315.54,781.28 314.85,781.52 C314.16,781.76 313.16,781.76 312.77,782.24 C312.39,782.73 312.59,784.07 312.55,784.43" fill="none" stroke="#111" stroke-width="0.55"/>
<path d="M312.35,786.49 L311.18,784.3 L313.93,784.57Z" fill="#111"/>
<path d="M323.59,768.17 C323.25,768.29 322.21,768.66 321.52,768.9 C320.83,769.14 320.13,769.38 319.44,769.63 C318.75,769.87 318.06,770.11 317.36,770.35 C316.67,770.59 315.98,770.84 315.29,771.08 C314.6,771.32 313.9,771.56 313.21,771.81 C312.52,772.05 311.48,772.41 311.13,772.53" fill="none" stroke="#111" stroke-width="0.55"/>
<path d="M309.18,773.22 L310.68,771.23 L311.59,773.84Z" fill="#111"/>
<path d="M306.42,740.17 C306.11,740.37 305.2,740.98 304.59,741.39 C303.98,741.79 303.37,742.2 302.76,742.61 C302.15,743.02 301.54,743.42 300.93,743.83 C300.32,744.24 299.71,744.64 299.1,745.05 C298.49,745.46 297.87,745.86 297.26,746.27 C296.65,746.68 295.74,747.29 295.43,747.49" fill="none" stroke="#111" stroke-width="0.55"/>
<path d="M293.71,748.64 L294.67,746.34 L296.2,748.64Z" fill="#111"/>
<path d="M309.12,799.03 C309.08,799.39 308.98,800.49 308.9,801.22 C308.83,801.95 308.76,802.68 308.68,803.41 C308.61,804.14 308.54,804.87 308.46,805.6 C308.39,806.33 308.32,807.06 308.25,807.79 C308.17,808.52 308.1,809.25 308.03,809.98 C307.95,810.71 307.84,811.8 307.81,812.16" fill="none" stroke="#111" stroke-width="0.55"/>
<path d="M307.6,814.22 L306.43,812.03 L309.18,812.3Z" fill="#111"/>
<path d="M344.29,782.53 C343.95,782.66 342.91,783.02 342.21,783.26 C341.52,783.5 340.83,783.75 340.14,783.99 C339.45,784.23 338.75,784.47 338.06,784.72 C337.37,784.96 336.68,785.2 335.99,785.44 C335.29,785.68 334.6,785.93 333.91,786.17 C333.22,786.41 332.18,786.77 331.83,786.9" fill="none" stroke="#111" stroke-width="0.55"/>
<path d="M329.88,787.58 L331.38,785.59 L332.29,788.2Z" fill="#111"/>
<path d="M320.36,760.44 C320.01,760.56 318.98,760.92 318.28,761.17 C317.59,761.41 316.9,761.65 316.21,761.89 C315.51,762.14 314.82,762.38 314.13,762.62 C313.44,762.86 312.75,763.1 312.05,763.35 C311.36,763.59 310.63,763.75 309.98,764.07 C309.33,764.4 308.45,765.09 308.15,765.29" fill="none" stroke="#111" stroke-width="0.55"/>
<path d="M306.42,766.44 L307.38,764.15 L308.91,766.44Z" fill="#111"/>
<path d="M320.81,785.89 C320.46,786.01 319.43,786.37 318.73,786.62 C318.04,786.86 317.35,787.1 316.66,787.34 C315.96,787.58 314.96,787.58 314.58,788.07 C314.2,788.55 314.43,789.53 314.36,790.26 C314.29,790.99 314.22,791.72 314.14,792.45 C314.07,793.18 313.96,794.27 313.92,794.64" fill="none" stroke="#111" stroke-width="0.55"/>
<path d="M313.72,796.7 L312.55,794.5 L315.3,794.77Z" fill="#111"/>
<path d="M282.56,785.09 C282.53,785.45 282.42,786.55 282.34,787.28 C282.27,788.01 282.2,788.74 282.13,789.47 C282.05,790.2 281.98,790.92 281.91,791.65 C281.83,792.38 281.76,793.11 281.69,793.84 C281.62,794.57 281.54,795.3 281.47,796.03 C281.4,796.76 281.29,797.86 281.25,798.22" fill="none" stroke="#111" stroke-width="0.55"/>
<path d="M281.04,800.28 L279.88,798.08 L282.62,798.36Z" fill="#111"/>
<path d="M442.98,739.09 C442.62,739 441.55,738.73 440.84,738.55 C440.13,738.38 439.42,738.2 438.71,738.02 C438,737.84 437.28,737.66 436.57,737.49 C435.86,737.31 435.15,737.13 434.44,736.95 C433.73,736.77 433.02,736.6 432.3,736.42 C431.59,736.24 430.53,735.97 430.17,735.89" fill="none" stroke="#111" stroke-width="0.55"/>
<path d="M428.16,735.38 L430.5,734.55 L429.83,737.22Z" fill="#111"/>
<path d="M410.32,752.35 C410.65,752.2 411.65,751.75 412.32,751.45 C412.99,751.14 413.66,750.84 414.33,750.54 C415,750.24 415.67,749.94 416.34,749.64 C417,749.34 417.67,749.04 418.34,748.74 C419.01,748.44 419.68,748.14 420.35,747.83 C421.02,747.53 422.02,747.08 422.35,746.93" fill="none" stroke="#111" stroke-width="0.55"/>
<path d="M424.24,746.08 L422.92,748.19 L421.79,745.67Z" fill="#111"/>
<path d="M293.56,765.8 C293.25,766.01 292.34,766.62 291.73,767.02 C291.12,767.43 290.51,767.84 289.9,768.24 C289.29,768.65 288.68,769.06 288.07,769.46 C287.46,769.87 286.85,770.28 286.24,770.68 C285.63,771.09 285.02,771.5 284.41,771.9 C283.8,772.31 282.88,772.92 282.58,773.12" fill="none" stroke="#111" stroke-width="0.55"/>
<path d="M280.85,774.27 L281.81,771.98 L283.34,774.27Z" fill="#111"/>
<path d="M314.01,701.24 C313.65,701.15 312.59,700.88 311.87,700.7 C311.16,700.53 310.45,700.35 309.74,700.17 C309.03,699.99 308.32,699.82 307.61,699.64 C306.89,699.46 306.18,699.28 305.47,699.1 C304.76,698.93 304.05,698.75 303.34,698.57 C302.63,698.39 301.56,698.13 301.2,698.04" fill="none" stroke="#111" stroke-width="0.55"/>
<path d="M299.19,697.53 L301.54,696.7 L300.87,699.38Z" fill="#111"/>
<path d="M344.79,726.68 C344.42,726.7 343.32,726.75 342.59,726.79 C341.86,726.82 341.13,726.86 340.39,726.9 C339.66,726.93 338.93,726.97 338.2,727.01 C337.46,727.04 336.73,727.08 336,727.12 C335.27,727.15 334.53,727.19 333.8,727.23 C333.07,727.26 331.97,727.32 331.61,727.34" fill="none" stroke="#111" stroke-width="0.55"/>
<path d="M329.54,727.44 L331.54,725.96 L331.67,728.72Z" fill="#111"/>
<path d="M297.47,793.61 C297.44,793.97 297.33,795.07 297.25,795.8 C297.18,796.53 297.11,797.26 297.03,797.99 C296.96,798.72 296.89,799.44 296.82,800.17 C296.74,800.9 296.67,801.63 296.6,802.36 C296.52,803.09 296.45,803.82 296.38,804.55 C296.3,805.28 296.2,806.38 296.16,806.74" fill="none" stroke="#111" stroke-width="0.55"/>
<path d="M295.95,808.8 L294.79,806.6 L297.53,806.88Z" fill="#111"/>
<path d="M305.93,730.49 C305.63,730.69 304.71,731.3 304.1,731.71 C303.49,732.11 302.88,732.52 302.27,732.93 C301.66,733.33 301.05,733.74 300.44,734.15 C299.83,734.55 299.22,734.96 298.61,735.37 C298,735.77 297.39,736.18 296.78,736.59 C296.17,736.99 295.26,737.6 294.95,737.81" fill="none" stroke="#111" stroke-width="0.55"/>
<path d="M293.23,738.96 L294.19,736.66 L295.72,738.96Z" fill="#111"/>
<path d="M271.94,784.42 C271.99,784.78 272.24,785.86 272.26,786.59 C272.28,787.32 272.12,788.05 272.04,788.78 C271.97,789.51 271.81,790.24 271.82,790.97 C271.84,791.7 272.13,792.42 272.15,793.14 C272.17,793.87 271.91,794.61 271.93,795.33 C271.95,796.06 272.2,797.15 272.26,797.51" fill="none" stroke="#111" stroke-width="0.55"/>
<path d="M272.56,799.56 L270.89,797.71 L273.62,797.3Z" fill="#111"/>
<path d="M417.1,760.21 C417.44,760.06 418.44,759.61 419.11,759.31 C419.78,759.01 420.45,758.71 421.11,758.41 C421.78,758.11 422.45,757.81 423.12,757.51 C423.79,757.2 424.46,756.9 425.13,756.6 C425.8,756.3 426.46,756 427.13,755.7 C427.8,755.4 428.8,754.95 429.14,754.8" fill="none" stroke="#111" stroke-width="0.55"/>
<path d="M431.03,753.95 L429.71,756.06 L428.57,753.54Z" fill="#111"/>
<path d="M270.45,750.42 C270.33,750.77 269.79,751.79 269.72,752.5 C269.65,753.21 269.94,753.95 270.05,754.68 C270.16,755.4 270.26,756.13 270.37,756.85 C270.48,757.58 270.59,758.3 270.7,759.03 C270.81,759.75 270.92,760.48 271.03,761.2 C271.13,761.93 271.3,763.02 271.35,763.38" fill="none" stroke="#111" stroke-width="0.55"/>
<path d="M271.66,765.43 L269.99,763.58 L272.72,763.17Z" fill="#111"/>
<path d="M295.08,715.31 C294.77,715.51 293.86,716.12 293.25,716.53 C292.64,716.94 292.03,717.35 291.42,717.75 C290.81,718.16 290.2,718.57 289.59,718.97 C288.98,719.38 288.37,719.79 287.76,720.19 C287.15,720.6 286.54,721.01 285.93,721.41 C285.32,721.82 284.4,722.43 284.09,722.63" fill="none" stroke="#111" stroke-width="0.55"/>
<path d="M282.37,723.78 L283.33,721.49 L284.86,723.78Z" fill="#111"/>
<path d="M452.04,741.53 C451.69,741.44 450.62,741.17 449.91,740.99 C449.2,740.82 448.49,740.64 447.78,740.46 C447.06,740.28 446.35,740.1 445.64,739.93 C444.93,739.75 444.22,739.57 443.51,739.39 C442.8,739.21 442.08,739.04 441.37,738.86 C440.66,738.68 439.59,738.41 439.24,738.33" fill="none" stroke="#111" stroke-width="0.55"/>
<path d="M437.23,737.82 L439.57,736.99 L438.9,739.66Z" fill="#111"/>
<path d="M452.73,740.94 C452.37,740.86 451.31,740.59 450.6,740.41 C449.88,740.23 449.17,740.06 448.46,739.88 C447.75,739.7 447.04,739.52 446.33,739.34 C445.62,739.17 444.9,738.99 444.19,738.81 C443.48,738.63 442.77,738.45 442.06,738.28 C441.35,738.1 440.28,737.83 439.92,737.74" fill="none" stroke="#111" stroke-width="0.55"/>
<path d="M437.92,737.24 L440.26,736.4 L439.59,739.08Z" fill="#111"/>
<path d="M307.57,739.05 C307.27,739.25 306.35,739.86 305.74,740.27 C305.13,740.67 304.52,741.08 303.91,741.49 C303.3,741.9 302.69,742.3 302.08,742.71 C301.47,743.12 300.86,743.52 300.25,743.93 C299.64,744.34 299.03,744.74 298.42,745.15 C297.81,745.56 296.89,746.17 296.59,746.37" fill="none" stroke="#111" stroke-width="0.55"/>
<path d="M294.87,747.52 L295.82,745.22 L297.35,747.52Z" fill="#111"/>
<path d="M273.35,757.58 C273.05,757.78 271.77,758.23 271.52,758.8 C271.27,759.36 271.74,760.25 271.85,760.97 C271.96,761.7 272.43,762.58 272.17,763.15 C271.92,763.71 270.59,763.8 270.34,764.37 C270.09,764.93 270.56,765.82 270.67,766.54 C270.78,767.27 270.94,768.36 271,768.72" fill="none" stroke="#111" stroke-width="0.55"/>
<path d="M271.3,770.77 L269.63,768.92 L272.36,768.51Z" fill="#111"/>
<path d="M304.95,797.71 C304.91,798.08 304.8,799.17 304.73,799.9 C304.66,800.63 304.58,801.36 304.51,802.09 C304.44,802.82 304.36,803.55 304.29,804.28 C304.22,805.01 304.15,805.74 304.07,806.47 C304,807.2 303.93,807.93 303.85,808.66 C303.78,809.39 303.67,810.48 303.63,810.85" fill="none" stroke="#111" stroke-width="0.55"/>
<path d="M303.43,812.91 L302.26,810.71 L305.01,810.98Z" fill="#111"/>
<path d="M303.68,697.81 C303.32,697.72 302.26,697.45 301.54,697.28 C300.83,697.1 300.12,696.92 299.41,696.74 C298.7,696.56 297.99,696.39 297.28,696.21 C296.56,696.03 295.85,695.85 295.14,695.68 C294.43,695.5 293.72,695.32 293.01,695.14 C292.3,694.96 291.23,694.7 290.87,694.61" fill="none" stroke="#111" stroke-width="0.55"/>
<path d="M288.87,694.11 L291.21,693.27 L290.54,695.95Z" fill="#111"/>
<path d="M309.74,745.82 C309.43,746.03 308.52,746.64 307.91,747.04 C307.3,747.45 306.69,747.86 306.08,748.26 C305.47,748.67 304.86,749.08 304.25,749.48 C303.64,749.89 303.03,750.3 302.42,750.7 C301.81,751.11 301.2,751.52 300.59,751.92 C299.98,752.33 299.06,752.94 298.76,753.15" fill="none" stroke="#111" stroke-width="0.55"/>
<path d="M297.03,754.29 L297.99,752 L299.52,754.29Z" fill="#111"/>
<path d="M344.58,724.21 C344.22,724.23 343.12,724.29 342.38,724.32 C341.65,724.36 340.92,724.4 340.19,724.43 C339.46,724.47 338.72,724.51 337.99,724.54 C337.26,724.58 336.53,724.62 335.79,724.65 C335.06,724.69 334.33,724.73 333.6,724.76 C332.86,724.8 331.76,724.85 331.4,724.87" fill="none" stroke="#111" stroke-width="0.55"/>
<path d="M329.33,724.98 L331.33,723.49 L331.47,726.25Z" fill="#111"/>
<path d="M402.96,753.62 C403.3,753.47 404.3,753.02 404.97,752.72 C405.64,752.42 406.31,752.12 406.98,751.82 C407.64,751.52 408.31,751.22 408.98,750.91 C409.65,750.61 410.32,750.31 410.99,750.01 C411.66,749.71 412.33,749.41 412.99,749.11 C413.66,748.81 414.67,748.36 415,748.21" fill="none" stroke="#111" stroke-width="0.55"/>
<path d="M416.89,747.36 L415.57,749.46 L414.43,746.95Z" fill="#111"/>
<path d="M432.69,747.84 C433.03,747.69 434.03,747.23 434.7,746.93 C435.37,746.63 436.04,746.33 436.7,746.03 C437.37,745.73 438.04,745.43 438.71,745.13 C439.38,744.83 440.74,744.46 440.72,744.22 C440.7,743.99 439.29,743.87 438.58,743.69 C437.87,743.51 436.8,743.25 436.45,743.16" fill="none" stroke="#111" stroke-width="0.55"/>
<path d="M434.44,742.66 L436.78,741.82 L436.11,744.5Z" fill="#111"/>
<path d="M395.3,758.93 C395.64,758.78 396.64,758.32 397.31,758.02 C397.98,757.72 398.65,757.42 399.31,757.12 C399.98,756.82 400.65,756.52 401.32,756.22 C401.99,755.92 402.66,755.62 403.33,755.31 C404,755.01 404.66,754.71 405.33,754.41 C406,754.11 407,753.66 407.34,753.51" fill="none" stroke="#111" stroke-width="0.55"/>
<path d="M409.23,752.66 L407.91,754.77 L406.77,752.25Z" fill="#111"/>
<path d="M309.66,784.24 C309.62,784.61 309.52,785.7 309.44,786.43 C309.37,787.16 309.3,787.89 309.22,788.62 C309.15,789.35 309.08,790.08 309,790.81 C308.93,791.54 308.86,792.27 308.79,793 C308.71,793.73 308.64,794.46 308.57,795.19 C308.49,795.92 308.38,797.01 308.35,797.38" fill="none" stroke="#111" stroke-width="0.55"/>
<path d="M308.14,799.44 L306.97,797.24 L309.72,797.51Z" fill="#111"/>
<path d="M261.74,785.04 C261.79,785.41 261.96,786.49 262.07,787.22 C262.17,787.94 262.28,788.67 262.39,789.39 C262.5,790.12 262.61,790.85 262.72,791.57 C262.83,792.3 262.94,793.02 263.04,793.75 C263.15,794.47 263.26,795.2 263.37,795.92 C263.48,796.65 263.64,797.74 263.7,798.1" fill="none" stroke="#111" stroke-width="0.55"/>
<path d="M264,800.14 L262.33,798.3 L265.06,797.89Z" fill="#111"/>
<path d="M392.48,733.4 C392.13,733.31 391.06,733.05 390.35,732.87 C389.64,732.69 388.92,732.51 388.21,732.33 C387.5,732.16 386.79,731.98 386.08,731.8 C385.37,731.62 384.66,731.44 383.94,731.27 C383.23,731.09 382.52,730.91 381.81,730.73 C381.1,730.56 380.03,730.29 379.68,730.2" fill="none" stroke="#111" stroke-width="0.55"/>
<path d="M377.67,729.7 L380.01,728.86 L379.34,731.54Z" fill="#111"/>
<path d="M307.56,777.93 C307.26,778.14 306.34,778.75 305.73,779.15 C305.12,779.56 304.51,779.97 303.9,780.37 C303.29,780.78 302.68,781.19 302.07,781.59 C301.46,782 300.58,782.25 300.24,782.81 C299.9,783.38 300.1,784.27 300.02,785 C299.95,785.73 299.84,786.83 299.8,787.19" fill="none" stroke="#111" stroke-width="0.55"/>
<path d="M299.6,789.25 L298.43,787.06 L301.18,787.33Z" fill="#111"/>
<path d="M279.93,752.99 C279.63,753.19 278.71,753.8 278.1,754.21 C277.49,754.62 276.88,755.02 276.27,755.43 C275.66,755.84 275.05,756.24 274.44,756.65 C273.83,757.06 273.22,757.46 272.61,757.87 C272,758.28 271.03,758.52 270.78,759.09 C270.53,759.66 271.05,760.9 271.11,761.27" fill="none" stroke="#111" stroke-width="0.55"/>
<path d="M271.41,763.31 L269.74,761.47 L272.47,761.06Z" fill="#111"/>
<path d="M295.84,782.91 C295.81,783.27 295.7,784.37 295.63,785.1 C295.55,785.83 295.48,786.56 295.41,787.29 C295.33,788.02 295.26,788.75 295.19,789.48 C295.11,790.2 295.04,790.93 294.97,791.66 C294.9,792.39 294.82,793.12 294.75,793.85 C294.68,794.58 294.57,795.68 294.53,796.04" fill="none" stroke="#111" stroke-width="0.55"/>
<path d="M294.32,798.1 L293.16,795.91 L295.9,796.18Z" fill="#111"/>
<path d="M412.68,762.94 C413.02,762.79 414.02,762.34 414.69,762.04 C415.36,761.74 416.03,761.44 416.7,761.14 C417.37,760.83 418.03,760.53 418.7,760.23 C419.37,759.93 420.04,759.63 420.71,759.33 C421.38,759.03 422.05,758.73 422.72,758.43 C423.38,758.13 424.39,757.67 424.72,757.52" fill="none" stroke="#111" stroke-width="0.55"/>
<path d="M426.61,756.67 L425.29,758.78 L424.16,756.27Z" fill="#111"/>
<path d="M308.84,795.5 C308.8,795.87 308.69,796.96 308.62,797.69 C308.55,798.42 308.47,799.15 308.4,799.88 C308.33,800.61 308.25,801.34 308.18,802.07 C308.11,802.8 308.04,803.53 307.96,804.26 C307.89,804.99 307.82,805.72 307.74,806.45 C307.67,807.18 307.56,808.27 307.53,808.64" fill="none" stroke="#111" stroke-width="0.55"/>
<path d="M307.32,810.7 L306.15,808.5 L308.9,808.78Z" fill="#111"/>
<path d="M279.14,756.16 C278.84,756.36 277.92,756.97 277.31,757.38 C276.7,757.79 276.09,758.19 275.48,758.6 C274.87,759.01 274.26,759.41 273.65,759.82 C273.04,760.23 272.07,760.47 271.82,761.04 C271.57,761.61 272.4,762.65 272.15,763.22 C271.9,763.78 270.62,764.23 270.32,764.44" fill="none" stroke="#111" stroke-width="0.55"/>
<path d="M268.6,765.58 L269.55,763.29 L271.08,765.58Z" fill="#111"/>
<path d="M270.51,726.54 C270.39,726.88 270.02,727.92 269.78,728.61 C269.54,729.31 269.3,730 269.06,730.69 C268.81,731.38 268.57,732.07 268.33,732.77 C268.09,733.46 267.84,734.15 267.6,734.84 C267.36,735.54 267.12,736.23 266.87,736.92 C266.63,737.61 266.27,738.65 266.15,739" fill="none" stroke="#111" stroke-width="0.55"/>
<path d="M265.46,740.95 L264.85,738.54 L267.45,739.45Z" fill="#111"/>
<path d="M259.6,767.25 C259.65,767.62 259.81,768.7 259.92,769.43 C260.03,770.15 260.14,770.88 260.25,771.61 C260.36,772.33 260.47,773.06 260.58,773.78 C260.68,774.51 260.79,775.23 260.9,775.96 C261.01,776.68 261.12,777.41 261.23,778.13 C261.34,778.86 261.5,779.95 261.55,780.31" fill="none" stroke="#111" stroke-width="0.55"/>
<path d="M261.86,782.35 L260.19,780.51 L262.92,780.1Z" fill="#111"/>
<path d="M279.43,758.81 C279.13,759.02 278.21,759.63 277.6,760.03 C276.99,760.44 276.38,760.85 275.77,761.25 C275.16,761.66 274.55,762.07 273.94,762.47 C273.33,762.88 272.72,763.29 272.11,763.69 C271.5,764.1 270.53,764.35 270.28,764.91 C270.03,765.48 270.55,766.73 270.6,767.09" fill="none" stroke="#111" stroke-width="0.55"/>
<path d="M270.91,769.14 L269.24,767.29 L271.97,766.88Z" fill="#111"/>
<path d="M302.76,748.61 C302.45,748.82 301.53,749.43 300.92,749.83 C300.31,750.24 299.7,750.65 299.09,751.06 C298.48,751.46 297.87,751.87 297.26,752.28 C296.65,752.68 296.04,753.09 295.43,753.5 C294.82,753.9 294.21,754.31 293.6,754.72 C292.99,755.12 292.08,755.73 291.77,755.94" fill="none" stroke="#111" stroke-width="0.55"/>
<path d="M290.05,757.08 L291.01,754.79 L292.54,757.08Z" fill="#111"/>
<path d="M300.87,774.07 C300.57,774.28 299.65,774.89 299.04,775.29 C298.43,775.7 297.82,776.11 297.21,776.51 C296.6,776.92 295.99,777.33 295.38,777.74 C294.77,778.14 294.16,778.55 293.55,778.96 C292.94,779.36 292.33,779.77 291.72,780.18 C291.11,780.58 290.19,781.19 289.89,781.4" fill="none" stroke="#111" stroke-width="0.55"/>
<path d="M288.17,782.54 L289.12,780.25 L290.65,782.54Z" fill="#111"/>
<path d="M296.76,725.52 C296.45,725.72 295.54,726.33 294.93,726.74 C294.32,727.14 293.71,727.55 293.1,727.96 C292.49,728.36 291.88,728.77 291.27,729.18 C290.66,729.58 290.05,729.99 289.44,730.4 C288.83,730.8 288.22,731.21 287.61,731.62 C287,732.02 286.08,732.63 285.78,732.84" fill="none" stroke="#111" stroke-width="0.55"/>
<path d="M284.05,733.99 L285.01,731.69 L286.54,733.99Z" fill="#111"/>
<path d="M265.73,763.5 C265.79,763.86 265.95,764.95 266.06,765.67 C266.17,766.4 266.27,767.12 266.38,767.85 C266.49,768.57 266.6,769.3 266.71,770.02 C266.82,770.75 266.93,771.48 267.04,772.2 C267.14,772.93 267.25,773.65 267.36,774.38 C267.47,775.1 267.63,776.19 267.69,776.55" fill="none" stroke="#111" stroke-width="0.55"/>
<path d="M268,778.6 L266.32,776.76 L269.05,776.35Z" fill="#111"/>
<path d="M430.4,739.5 C430.05,739.41 428.98,739.14 428.27,738.97 C427.55,738.79 426.84,738.61 426.13,738.43 C425.42,738.25 424.71,738.08 424,737.9 C423.29,737.72 422.57,737.54 421.86,737.37 C421.15,737.19 420.44,737.01 419.73,736.83 C419.02,736.65 417.95,736.39 417.59,736.3" fill="none" stroke="#111" stroke-width="0.55"/>
<path d="M415.59,735.8 L417.93,734.96 L417.26,737.64Z" fill="#111"/>
<path d="M315.24,779.95 C314.9,780.07 313.86,780.43 313.17,780.67 C312.47,780.92 311.78,781.16 311.09,781.4 C310.4,781.64 309.4,781.64 309.01,782.13 C308.63,782.61 308.87,783.59 308.8,784.32 C308.72,785.05 308.65,785.78 308.58,786.51 C308.5,787.24 308.39,788.33 308.36,788.69" fill="none" stroke="#111" stroke-width="0.55"/>
<path d="M308.15,790.75 L306.98,788.56 L309.73,788.83Z" fill="#111"/>
<path d="M296.88,720.66 C296.58,720.86 295.66,721.47 295.05,721.88 C294.44,722.29 293.83,722.69 293.22,723.1 C292.61,723.51 292,723.91 291.39,724.32 C290.78,724.73 290.17,725.13 289.56,725.54 C288.95,725.95 288.34,726.35 287.73,726.76 C287.12,727.17 286.21,727.78 285.9,727.98" fill="none" stroke="#111" stroke-width="0.55"/>
<path d="M284.18,729.13 L285.14,726.83 L286.67,729.13Z" fill="#111"/>
<path d="M420.87,760.93 C421.2,760.78 422.21,760.33 422.88,760.03 C423.54,759.73 424.21,759.43 424.88,759.12 C425.55,758.82 426.22,758.52 426.89,758.22 C427.56,757.92 428.23,757.62 428.89,757.32 C429.56,757.02 430.23,756.72 430.9,756.42 C431.57,756.11 432.57,755.66 432.91,755.51" fill="none" stroke="#111" stroke-width="0.55"/>
<path d="M434.79,754.66 L433.47,756.77 L432.34,754.25Z" fill="#111"/>
<path d="M425.13,744.24 C424.77,744.15 423.7,743.88 422.99,743.71 C422.28,743.53 421.57,743.35 420.86,743.17 C420.15,742.99 419.44,742.82 418.72,742.64 C418.01,742.46 417.3,742.28 416.59,742.1 C415.88,741.93 415.17,741.75 414.46,741.57 C413.74,741.39 412.68,741.13 412.32,741.04" fill="none" stroke="#111" stroke-width="0.55"/>
<path d="M410.31,740.54 L412.66,739.7 L411.99,742.38Z" fill="#111"/>
<path d="M432.97,739.57 C432.61,739.48 431.54,739.21 430.83,739.03 C430.12,738.86 429.41,738.68 428.7,738.5 C427.99,738.32 427.27,738.14 426.56,737.97 C425.85,737.79 425.14,737.61 424.43,737.43 C423.72,737.25 423.01,737.08 422.29,736.9 C421.58,736.72 420.52,736.45 420.16,736.37" fill="none" stroke="#111" stroke-width="0.55"/>
<path d="M418.15,735.86 L420.49,735.03 L419.82,737.7Z" fill="#111"/>
<path d="M300.85,713.51 C300.54,713.71 299.63,714.32 299.02,714.73 C298.41,715.14 297.8,715.55 297.18,715.95 C296.57,716.36 295.96,716.77 295.35,717.17 C294.74,717.58 294.13,717.99 293.52,718.39 C292.91,718.8 292.3,719.21 291.69,719.61 C291.08,720.02 290.17,720.63 289.86,720.83" fill="none" stroke="#111" stroke-width="0.55"/>
<path d="M288.14,721.98 L289.1,719.69 L290.63,721.98Z" fill="#111"/>
<path d="M281.6,714.74 C281.29,714.95 280.2,715.41 279.77,715.96 C279.34,716.51 279.28,717.35 279.04,718.04 C278.8,718.73 278.56,719.42 278.32,720.12 C278.07,720.81 277.83,721.5 277.59,722.19 C277.35,722.88 277.1,723.58 276.86,724.27 C276.62,724.96 276.26,726 276.14,726.35" fill="none" stroke="#111" stroke-width="0.55"/>
<path d="M275.45,728.3 L274.83,725.89 L277.44,726.8Z" fill="#111"/>
<path d="M296.91,739.7 C296.61,739.9 295.69,740.51 295.08,740.92 C294.47,741.33 293.86,741.73 293.25,742.14 C292.64,742.55 292.03,742.95 291.42,743.36 C290.81,743.77 290.2,744.18 289.59,744.58 C288.98,744.99 288.37,745.4 287.76,745.8 C287.15,746.21 286.24,746.82 285.93,747.02" fill="none" stroke="#111" stroke-width="0.55"/>
<path d="M284.21,748.17 L285.17,745.87 L286.7,748.17Z" fill="#111"/>
<path d="M272.53,763.58 C272.22,763.78 270.95,764.23 270.7,764.8 C270.44,765.36 270.91,766.25 271.02,766.97 C271.13,767.7 271.24,768.42 271.35,769.15 C271.46,769.87 271.57,770.6 271.67,771.32 C271.78,772.05 272.25,772.93 272,773.5 C271.75,774.07 270.48,774.52 270.17,774.72" fill="none" stroke="#111" stroke-width="0.55"/>
<path d="M268.45,775.87 L269.4,773.57 L270.94,775.87Z" fill="#111"/>
<path d="M308.55,764.33 C308.24,764.53 307.33,765.15 306.72,765.55 C306.11,765.96 305.5,766.37 304.89,766.77 C304.28,767.18 303.67,767.59 303.06,767.99 C302.45,768.4 301.84,768.81 301.23,769.21 C300.62,769.62 300.01,770.03 299.4,770.43 C298.79,770.84 297.87,771.45 297.57,771.65" fill="none" stroke="#111" stroke-width="0.55"/>
<path d="M295.84,772.8 L296.8,770.51 L298.33,772.8Z" fill="#111"/>
<path d="M281.98,708.79 C281.62,708.7 280.55,708.43 279.84,708.25 C279.13,708.08 278.42,707.9 277.71,707.72 C277,707.54 276.29,707.37 275.57,707.19 C274.86,707.01 274.15,706.83 273.44,706.65 C272.73,706.48 272.02,706.3 271.31,706.12 C270.59,705.94 269.53,705.68 269.17,705.59" fill="none" stroke="#111" stroke-width="0.55"/>
<path d="M267.16,705.08 L269.51,704.25 L268.84,706.93Z" fill="#111"/>
<path d="M260.66,777.75 C260.71,778.11 260.88,779.2 260.99,779.92 C261.1,780.65 261.2,781.37 261.31,782.1 C261.42,782.82 261.53,783.55 261.64,784.27 C261.75,785 261.86,785.72 261.97,786.45 C262.07,787.17 262.18,787.9 262.29,788.62 C262.4,789.35 262.56,790.44 262.62,790.8" fill="none" stroke="#111" stroke-width="0.55"/>
<path d="M262.93,792.85 L261.25,791 L263.98,790.59Z" fill="#111"/>
<path d="M434.95,740.87 C434.59,740.78 433.53,740.51 432.81,740.33 C432.1,740.16 431.39,739.98 430.68,739.8 C429.97,739.62 429.26,739.45 428.55,739.27 C427.83,739.09 427.12,738.91 426.41,738.73 C425.7,738.56 424.99,738.38 424.28,738.2 C423.57,738.02 422.5,737.76 422.14,737.67" fill="none" stroke="#111" stroke-width="0.55"/>
<path d="M420.13,737.16 L422.48,736.33 L421.81,739.01Z" fill="#111"/>
<path d="M301.13,730.16 C300.82,730.36 299.91,730.97 299.3,731.38 C298.69,731.78 298.08,732.19 297.47,732.6 C296.86,733 296.25,733.41 295.64,733.82 C295.03,734.22 294.42,734.63 293.81,735.04 C293.2,735.44 292.59,735.85 291.98,736.26 C291.37,736.66 290.45,737.28 290.15,737.48" fill="none" stroke="#111" stroke-width="0.55"/>
<path d="M288.42,738.63 L289.38,736.33 L290.91,738.63Z" fill="#111"/>
<path d="M311.64,684.57 C311.28,684.48 310.21,684.22 309.5,684.04 C308.79,683.86 308.08,683.68 307.37,683.5 C306.66,683.33 305.95,683.15 305.23,682.97 C304.52,682.79 303.81,682.62 303.1,682.44 C302.39,682.26 301.68,682.08 300.97,681.9 C300.25,681.73 299.19,681.46 298.83,681.37" fill="none" stroke="#111" stroke-width="0.55"/>
<path d="M296.82,680.87 L299.17,680.03 L298.5,682.71Z" fill="#111"/>
<path d="M285.31,743.1 C285.01,743.31 284.09,743.92 283.48,744.32 C282.87,744.73 282.26,745.14 281.65,745.55 C281.04,745.95 280.25,746.22 279.82,746.77 C279.39,747.32 279.34,748.15 279.09,748.84 C278.85,749.53 278.61,750.23 278.37,750.92 C278.13,751.61 277.76,752.65 277.64,753" fill="none" stroke="#111" stroke-width="0.55"/>
<path d="M276.96,754.95 L276.34,752.54 L278.94,753.45Z" fill="#111"/>
<path d="M270.46,747.37 C270.34,747.71 269.98,748.75 269.73,749.44 C269.49,750.14 269.25,750.83 269.01,751.52 C268.76,752.21 268.35,752.89 268.28,753.6 C268.21,754.31 268.5,755.05 268.61,755.77 C268.71,756.5 268.82,757.22 268.93,757.95 C269.04,758.67 269.2,759.76 269.26,760.12" fill="none" stroke="#111" stroke-width="0.55"/>
<path d="M269.57,762.17 L267.89,760.33 L270.62,759.92Z" fill="#111"/>
<path d="M439.63,754.58 C439.97,754.43 440.97,753.98 441.64,753.68 C442.31,753.38 442.97,753.08 443.64,752.78 C444.31,752.47 444.98,752.17 445.65,751.87 C446.32,751.57 446.99,751.27 447.66,750.97 C448.32,750.67 448.99,750.37 449.66,750.07 C450.33,749.77 451.33,749.31 451.67,749.16" fill="none" stroke="#111" stroke-width="0.55"/>
<path d="M453.56,748.31 L452.23,750.42 L451.1,747.91Z" fill="#111"/>
<path d="M326.34,758.01 C325.99,758.13 324.95,758.5 324.26,758.74 C323.57,758.98 322.88,759.22 322.19,759.47 C321.49,759.71 320.8,759.95 320.11,760.19 C319.42,760.44 318.72,760.68 318.03,760.92 C317.34,761.16 316.65,761.4 315.96,761.65 C315.26,761.89 314.23,762.25 313.88,762.37" fill="none" stroke="#111" stroke-width="0.55"/>
<path d="M311.93,763.06 L313.42,761.07 L314.34,763.68Z" fill="#111"/>
<path d="M266.23,776.87 C266.28,777.23 266.45,778.32 266.55,779.04 C266.66,779.77 266.77,780.49 266.88,781.22 C266.99,781.94 267.1,782.67 267.21,783.39 C267.32,784.12 267.42,784.85 267.53,785.57 C267.64,786.3 267.75,787.02 267.86,787.75 C267.97,788.47 268.13,789.56 268.19,789.92" fill="none" stroke="#111" stroke-width="0.55"/>
<path d="M268.49,791.97 L266.82,790.13 L269.55,789.72Z" fill="#111"/>
<path d="M298.93,688.79 C298.57,688.7 297.51,688.44 296.79,688.26 C296.08,688.08 295.37,687.9 294.66,687.73 C293.95,687.55 293.24,687.37 292.53,687.19 C291.81,687.01 291.1,686.84 290.39,686.66 C289.68,686.48 288.97,686.3 288.26,686.13 C287.55,685.95 286.48,685.68 286.12,685.59" fill="none" stroke="#111" stroke-width="0.55"/>
<path d="M284.11,685.09 L286.46,684.25 L285.79,686.93Z" fill="#111"/>
<path d="M299.04,685.86 C298.68,685.78 297.62,685.51 296.91,685.33 C296.19,685.15 295.48,684.98 294.77,684.8 C294.06,684.62 293.35,684.44 292.64,684.26 C291.93,684.09 291.21,683.91 290.5,683.73 C289.79,683.55 289.08,683.37 288.37,683.2 C287.66,683.02 286.59,682.75 286.23,682.66" fill="none" stroke="#111" stroke-width="0.55"/>
<path d="M284.23,682.16 L286.57,681.32 L285.9,684Z" fill="#111"/>
<path d="M289.57,714.61 C289.26,714.81 288.35,715.42 287.74,715.83 C287.13,716.24 286.52,716.64 285.91,717.05 C285.3,717.46 284.69,717.86 284.08,718.27 C283.47,718.68 282.86,719.08 282.25,719.49 C281.64,719.9 281.03,720.31 280.42,720.71 C279.81,721.12 278.89,721.73 278.59,721.93" fill="none" stroke="#111" stroke-width="0.55"/>
<path d="M276.86,723.08 L277.82,720.78 L279.35,723.08Z" fill="#111"/>
<path d="M406.02,751.57 C406.36,751.41 407.36,750.96 408.03,750.66 C408.7,750.36 409.37,750.06 410.03,749.76 C410.7,749.46 411.37,749.16 412.04,748.86 C412.71,748.56 413.38,748.26 414.05,747.95 C414.72,747.65 415.38,747.35 416.05,747.05 C416.72,746.75 417.72,746.3 418.06,746.15" fill="none" stroke="#111" stroke-width="0.55"/>
<path d="M419.95,745.3 L418.63,747.41 L417.49,744.89Z" fill="#111"/>
<path d="M339.97,782.55 C339.63,782.67 338.59,783.04 337.9,783.28 C337.21,783.52 336.51,783.76 335.82,784 C335.13,784.25 334.44,784.49 333.74,784.73 C333.05,784.97 332.36,785.22 331.67,785.46 C330.98,785.7 330.28,785.94 329.59,786.18 C328.9,786.43 327.86,786.79 327.52,786.91" fill="none" stroke="#111" stroke-width="0.55"/>
<path d="M325.56,787.59 L327.06,785.61 L327.97,788.21Z" fill="#111"/>
<path d="M303.68,781.95 C303.38,782.15 302.19,782.6 301.85,783.17 C301.51,783.73 301.7,784.63 301.63,785.36 C301.56,786.08 301.49,786.81 301.41,787.54 C301.34,788.27 301.27,789 301.19,789.73 C301.12,790.46 301.05,791.19 300.97,791.92 C300.9,792.65 300.79,793.75 300.76,794.11" fill="none" stroke="#111" stroke-width="0.55"/>
<path d="M300.55,796.17 L299.38,793.97 L302.13,794.25Z" fill="#111"/>
<path d="M307.39,686.13 C307.03,686.04 305.97,685.78 305.25,685.6 C304.54,685.42 303.83,685.24 303.12,685.06 C302.41,684.89 301.7,684.71 300.99,684.53 C300.27,684.35 299.56,684.17 298.85,684 C298.14,683.82 297.43,683.64 296.72,683.46 C296.01,683.29 294.94,683.02 294.58,682.93" fill="none" stroke="#111" stroke-width="0.55"/>
<path d="M292.57,682.43 L294.92,681.59 L294.25,684.27Z" fill="#111"/>
<path d="M406.87,749.32 C407.2,749.17 408.21,748.72 408.87,748.42 C409.54,748.12 410.21,747.82 410.88,747.52 C411.55,747.22 412.22,746.92 412.89,746.62 C413.56,746.32 414.22,746.01 414.89,745.71 C415.56,745.41 416.92,745.05 416.9,744.81 C416.88,744.57 415.12,744.37 414.76,744.28" fill="none" stroke="#111" stroke-width="0.55"/>
<path d="M412.76,743.78 L415.1,742.94 L414.43,745.62Z" fill="#111"/>
<path d="M337.21,724.39 C336.85,724.41 335.75,724.46 335.01,724.5 C334.28,724.54 333.55,724.57 332.82,724.61 C332.08,724.64 331.35,724.68 330.62,724.72 C329.89,724.75 329.14,724.69 328.42,724.83 C327.71,724.97 327.04,725.31 326.35,725.55 C325.65,725.8 324.62,726.16 324.27,726.28" fill="none" stroke="#111" stroke-width="0.55"/>
<path d="M322.32,726.97 L323.81,724.98 L324.73,727.58Z" fill="#111"/>
<path d="M395.56,735.12 C395.21,735.03 394.14,734.76 393.43,734.58 C392.72,734.4 392.01,734.23 391.29,734.05 C390.58,733.87 389.87,733.69 389.16,733.51 C388.45,733.34 387.74,733.16 387.03,732.98 C386.31,732.8 385.6,732.63 384.89,732.45 C384.18,732.27 383.11,732 382.76,731.91" fill="none" stroke="#111" stroke-width="0.55"/>
<path d="M380.75,731.41 L383.09,730.58 L382.42,733.25Z" fill="#111"/>
<path d="M438.32,737.01 C437.96,736.92 436.9,736.65 436.18,736.47 C435.47,736.3 434.76,736.12 434.05,735.94 C433.34,735.76 432.63,735.58 431.92,735.41 C431.2,735.23 430.49,735.05 429.78,734.87 C429.07,734.7 428.36,734.52 427.65,734.34 C426.94,734.16 425.87,733.9 425.51,733.81" fill="none" stroke="#111" stroke-width="0.55"/>
<path d="M423.5,733.3 L425.85,732.47 L425.18,735.14Z" fill="#111"/>
<path d="M254.84,751.85 C254.72,752.2 254.18,753.22 254.11,753.93 C254.04,754.64 254.33,755.38 254.44,756.11 C254.55,756.83 254.65,757.56 254.76,758.28 C254.87,759.01 254.98,759.73 255.09,760.46 C255.2,761.18 255.31,761.91 255.42,762.63 C255.52,763.36 255.69,764.45 255.74,764.81" fill="none" stroke="#111" stroke-width="0.55"/>
<path d="M256.05,766.86 L254.38,765.01 L257.11,764.6Z" fill="#111"/>
<path d="M305.63,703.75 C305.27,703.66 304.2,703.39 303.49,703.21 C302.78,703.04 302.07,702.86 301.36,702.68 C300.65,702.5 299.93,702.33 299.22,702.15 C298.51,701.97 297.8,701.79 297.09,701.61 C296.38,701.44 295.67,701.26 294.95,701.08 C294.24,700.9 293.18,700.64 292.82,700.55" fill="none" stroke="#111" stroke-width="0.55"/>
<path d="M290.81,700.04 L293.15,699.21 L292.48,701.89Z" fill="#111"/>
<path d="M424.77,757.12 C425.1,756.97 426.1,756.52 426.77,756.22 C427.44,755.92 428.11,755.62 428.78,755.32 C429.45,755.02 430.12,754.72 430.78,754.42 C431.45,754.11 432.12,753.81 432.79,753.51 C433.46,753.21 434.13,752.91 434.8,752.61 C435.47,752.31 436.47,751.86 436.8,751.71" fill="none" stroke="#111" stroke-width="0.55"/>
<path d="M438.69,750.86 L437.37,752.97 L436.24,750.45Z" fill="#111"/>
<path d="M420.99,740.73 C420.63,740.65 419.57,740.38 418.85,740.2 C418.14,740.02 417.43,739.85 416.72,739.67 C416.01,739.49 415.3,739.31 414.59,739.13 C413.87,738.96 413.16,738.78 412.45,738.6 C411.74,738.42 411.03,738.24 410.32,738.07 C409.61,737.89 408.54,737.62 408.18,737.53" fill="none" stroke="#111" stroke-width="0.55"/>
<path d="M406.18,737.03 L408.52,736.19 L407.85,738.87Z" fill="#111"/>
<path d="M268.53,769.86 C268.59,770.23 268.75,771.31 268.86,772.04 C268.97,772.77 269.08,773.49 269.19,774.22 C269.3,774.94 269.4,775.67 269.51,776.39 C269.62,777.12 269.73,777.84 269.84,778.57 C269.95,779.29 270.06,780.02 270.17,780.74 C270.27,781.47 270.44,782.56 270.49,782.92" fill="none" stroke="#111" stroke-width="0.55"/>
<path d="M270.8,784.97 L269.13,783.12 L271.86,782.71Z" fill="#111"/>
<path d="M286.43,727.8 C286.12,728.01 285.21,728.62 284.6,729.02 C283.99,729.43 283.37,729.84 282.76,730.24 C282.15,730.65 281.54,731.06 280.93,731.47 C280.32,731.87 279.53,732.14 279.1,732.69 C278.68,733.23 278.62,734.07 278.38,734.76 C278.13,735.45 277.77,736.49 277.65,736.84" fill="none" stroke="#111" stroke-width="0.55"/>
<path d="M276.97,738.79 L276.35,736.38 L278.95,737.29Z" fill="#111"/>
<path d="M313.99,681.46 C313.63,681.37 312.56,681.11 311.85,680.93 C311.14,680.75 310.43,680.57 309.72,680.4 C309.01,680.22 308.3,680.04 307.58,679.86 C306.87,679.68 306.16,679.51 305.45,679.33 C304.74,679.15 304.03,678.97 303.32,678.79 C302.6,678.62 301.54,678.35 301.18,678.26" fill="none" stroke="#111" stroke-width="0.55"/>
<path d="M299.17,677.76 L301.52,676.92 L300.85,679.6Z" fill="#111"/>
<path d="M359.64,780.23 C359.29,780.35 358.25,780.72 357.56,780.96 C356.87,781.2 356.18,781.44 355.48,781.68 C354.79,781.93 354.1,782.17 353.41,782.41 C352.72,782.65 352.02,782.9 351.33,783.14 C350.64,783.38 349.95,783.62 349.26,783.87 C348.56,784.11 347.52,784.47 347.18,784.59" fill="none" stroke="#111" stroke-width="0.55"/>
<path d="M345.22,785.28 L346.72,783.29 L347.63,785.89Z" fill="#111"/>
<path d="M307.11,687.95 C306.75,687.86 305.68,687.6 304.97,687.42 C304.26,687.24 303.55,687.06 302.84,686.88 C302.13,686.71 301.42,686.53 300.7,686.35 C299.99,686.17 299.28,686 298.57,685.82 C297.86,685.64 297.15,685.46 296.44,685.28 C295.72,685.11 294.66,684.84 294.3,684.75" fill="none" stroke="#111" stroke-width="0.55"/>
<path d="M292.29,684.25 L294.64,683.41 L293.97,686.09Z" fill="#111"/>
<path d="M401.63,756.21 C401.97,756.06 402.97,755.6 403.64,755.3 C404.31,755 404.98,754.7 405.64,754.4 C406.31,754.1 406.98,753.8 407.65,753.5 C408.32,753.2 408.99,752.9 409.66,752.59 C410.33,752.29 410.99,751.99 411.66,751.69 C412.33,751.39 413.33,750.94 413.67,750.79" fill="none" stroke="#111" stroke-width="0.55"/>
<path d="M415.56,749.94 L414.24,752.05 L413.1,749.53Z" fill="#111"/>
<path d="M291.42,744.14 C291.11,744.34 290.2,744.95 289.59,745.36 C288.98,745.76 288.37,746.17 287.76,746.58 C287.15,746.98 286.54,747.39 285.93,747.8 C285.32,748.2 284.71,748.61 284.1,749.02 C283.49,749.42 282.88,749.83 282.27,750.24 C281.66,750.64 280.74,751.26 280.44,751.46" fill="none" stroke="#111" stroke-width="0.55"/>
<path d="M278.71,752.61 L279.67,750.31 L281.2,752.61Z" fill="#111"/>
<path d="M437.32,756.53 C437.65,756.38 438.65,755.93 439.32,755.63 C439.99,755.33 440.66,755.03 441.33,754.73 C442,754.43 442.67,754.12 443.34,753.82 C444,753.52 444.67,753.22 445.34,752.92 C446.01,752.62 446.68,752.32 447.35,752.02 C448.02,751.72 449.02,751.27 449.35,751.12" fill="none" stroke="#111" stroke-width="0.55"/>
<path d="M451.24,750.27 L449.92,752.37 L448.79,749.86Z" fill="#111"/>
<path d="M282.82,759 C282.52,759.2 281.6,759.81 280.99,760.22 C280.38,760.63 279.77,761.03 279.16,761.44 C278.55,761.85 277.94,762.25 277.33,762.66 C276.72,763.07 276.11,763.47 275.5,763.88 C274.89,764.29 274.28,764.69 273.67,765.1 C273.06,765.51 272.15,766.12 271.84,766.32" fill="none" stroke="#111" stroke-width="0.55"/>
<path d="M270.12,767.47 L271.08,765.17 L272.61,767.47Z" fill="#111"/>
<path d="M261.04,750.43 C260.92,750.78 260.38,751.8 260.31,752.51 C260.25,753.22 260.53,753.96 260.64,754.69 C260.75,755.41 260.86,756.14 260.97,756.86 C261.07,757.59 261.18,758.31 261.29,759.04 C261.4,759.76 261.51,760.49 261.62,761.21 C261.73,761.94 261.89,763.03 261.94,763.39" fill="none" stroke="#111" stroke-width="0.55"/>
<path d="M262.25,765.44 L260.58,763.59 L263.31,763.18Z" fill="#111"/>
<path d="M399.43,731.36 C399.08,731.27 398.01,731 397.3,730.82 C396.59,730.65 395.87,730.47 395.16,730.29 C394.45,730.11 393.74,729.93 393.03,729.76 C392.32,729.58 391.61,729.4 390.89,729.22 C390.18,729.04 389.47,728.87 388.76,728.69 C388.05,728.51 386.98,728.24 386.63,728.16" fill="none" stroke="#111" stroke-width="0.55"/>
<path d="M384.62,727.65 L386.96,726.82 L386.29,729.49Z" fill="#111"/>
<path d="M286.25,702.36 C285.89,702.27 284.82,702 284.11,701.82 C283.4,701.64 282.69,701.47 281.98,701.29 C281.27,701.11 280.56,700.93 279.84,700.76 C279.13,700.58 278.42,700.4 277.71,700.22 C277,700.04 276.29,699.87 275.57,699.69 C274.86,699.51 273.8,699.24 273.44,699.15" fill="none" stroke="#111" stroke-width="0.55"/>
<path d="M271.43,698.65 L273.78,697.82 L273.11,700.49Z" fill="#111"/>
<path d="M260.77,740.04 C260.65,740.39 260.29,741.43 260.04,742.12 C259.8,742.81 259.56,743.5 259.32,744.19 C259.07,744.89 258.83,745.58 258.59,746.27 C258.35,746.96 258.1,747.65 257.86,748.35 C257.62,749.04 257.38,749.73 257.14,750.42 C256.89,751.12 256.53,752.15 256.41,752.5" fill="none" stroke="#111" stroke-width="0.55"/>
<path d="M255.73,754.45 L255.11,752.04 L257.71,752.96Z" fill="#111"/>
<path d="M295.65,767.19 C295.34,767.39 294.43,768 293.82,768.41 C293.21,768.82 292.6,769.22 291.99,769.63 C291.38,770.04 290.77,770.44 290.15,770.85 C289.54,771.26 288.93,771.67 288.32,772.07 C287.71,772.48 287.1,772.89 286.49,773.29 C285.88,773.7 284.97,774.31 284.66,774.51" fill="none" stroke="#111" stroke-width="0.55"/>
<path d="M282.94,775.66 L283.9,773.36 L285.43,775.66Z" fill="#111"/>
<path d="M422.87,739.02 C422.51,738.93 421.45,738.66 420.74,738.49 C420.02,738.31 419.31,738.13 418.6,737.95 C417.89,737.77 417.18,737.6 416.47,737.42 C415.76,737.24 415.04,737.06 414.33,736.88 C413.62,736.71 412.91,736.53 412.2,736.35 C411.49,736.17 410.42,735.91 410.06,735.82" fill="none" stroke="#111" stroke-width="0.55"/>
<path d="M408.06,735.32 L410.4,734.48 L409.73,737.16Z" fill="#111"/>
<path d="M279.61,756.81 C279.3,757.02 278.39,757.63 277.78,758.03 C277.17,758.44 276.56,758.85 275.95,759.25 C275.34,759.66 274.73,760.07 274.12,760.47 C273.51,760.88 272.9,761.29 272.28,761.7 C271.67,762.1 270.71,762.35 270.45,762.92 C270.2,763.48 270.73,764.73 270.78,765.09" fill="none" stroke="#111" stroke-width="0.55"/>
<path d="M271.09,767.14 L269.42,765.3 L272.15,764.89Z" fill="#111"/>
<path d="M269.82,775.03 C269.87,775.4 270.04,776.48 270.15,777.21 C270.25,777.93 270.36,778.66 270.47,779.38 C270.58,780.11 270.69,780.83 270.8,781.56 C270.91,782.28 271.02,783.01 271.12,783.74 C271.23,784.46 271.34,785.19 271.45,785.91 C271.56,786.64 271.72,787.72 271.78,788.09" fill="none" stroke="#111" stroke-width="0.55"/>
<path d="M272.08,790.13 L270.41,788.29 L273.14,787.88Z" fill="#111"/>
<path d="M265.43,729.62 C265.31,729.96 264.94,731 264.7,731.69 C264.46,732.38 264.22,733.08 263.97,733.77 C263.73,734.46 263.49,735.15 263.25,735.85 C263,736.54 262.76,737.23 262.52,737.92 C262.28,738.61 262.03,739.31 261.79,740 C261.55,740.69 261.19,741.73 261.07,742.07" fill="none" stroke="#111" stroke-width="0.55"/>
<path d="M260.38,744.03 L259.76,741.62 L262.37,742.53Z" fill="#111"/>
<path d="M361.04,726.02 C360.67,726.04 359.58,726.1 358.84,726.13 C358.11,726.17 357.38,726.21 356.65,726.24 C355.91,726.28 355.18,726.32 354.45,726.35 C353.72,726.39 352.98,726.43 352.25,726.46 C351.52,726.5 350.79,726.54 350.05,726.57 C349.32,726.61 348.22,726.66 347.86,726.68" fill="none" stroke="#111" stroke-width="0.55"/>
<path d="M345.79,726.79 L347.79,725.3 L347.93,728.06Z" fill="#111"/>
<path d="M272.45,754.43 C272.15,754.63 270.87,755.08 270.62,755.65 C270.37,756.21 270.84,757.1 270.95,757.82 C271.05,758.55 271.16,759.27 271.27,760 C271.38,760.72 271.49,761.45 271.6,762.17 C271.71,762.9 271.82,763.62 271.93,764.35 C272.03,765.08 272.2,766.16 272.25,766.53" fill="none" stroke="#111" stroke-width="0.55"/>
<path d="M272.56,768.57 L270.89,766.73 L273.62,766.32Z" fill="#111"/>
<path d="M309.55,692.96 C309.2,692.87 308.13,692.6 307.42,692.42 C306.71,692.25 306,692.07 305.28,691.89 C304.57,691.71 303.86,691.53 303.15,691.36 C302.44,691.18 301.73,691 301.02,690.82 C300.3,690.64 299.59,690.47 298.88,690.29 C298.17,690.11 297.1,689.84 296.75,689.75" fill="none" stroke="#111" stroke-width="0.55"/>
<path d="M294.74,689.25 L297.08,688.42 L296.41,691.09Z" fill="#111"/>
<path d="M347.63,723.33 C347.27,723.35 346.17,723.4 345.44,723.44 C344.71,723.48 343.97,723.51 343.24,723.55 C342.51,723.59 341.78,723.62 341.04,723.66 C340.31,723.7 339.58,723.73 338.85,723.77 C338.11,723.81 337.38,723.84 336.65,723.88 C335.92,723.92 334.82,723.97 334.45,723.99" fill="none" stroke="#111" stroke-width="0.55"/>
<path d="M332.38,724.09 L334.38,722.61 L334.52,725.37Z" fill="#111"/>
<path d="M412.11,751.69 C412.45,751.54 413.45,751.09 414.12,750.78 C414.79,750.48 415.46,750.18 416.12,749.88 C416.79,749.58 417.46,749.28 418.13,748.98 C418.8,748.68 419.47,748.38 420.14,748.08 C420.81,747.77 421.47,747.47 422.14,747.17 C422.81,746.87 423.82,746.42 424.15,746.27" fill="none" stroke="#111" stroke-width="0.55"/>
<path d="M426.04,745.42 L424.72,747.53 L423.58,745.01Z" fill="#111"/>
<path d="M424.39,744.46 C424.03,744.37 422.96,744.11 422.25,743.93 C421.54,743.75 420.83,743.57 420.12,743.4 C419.41,743.22 418.7,743.04 417.98,742.86 C417.27,742.68 416.56,742.51 415.85,742.33 C415.14,742.15 414.43,741.97 413.72,741.8 C413,741.62 411.94,741.35 411.58,741.26" fill="none" stroke="#111" stroke-width="0.55"/>
<path d="M409.57,740.76 L411.92,739.92 L411.25,742.6Z" fill="#111"/>
<path d="M258.48,731.86 C258.36,732.2 258,733.24 257.76,733.93 C257.51,734.63 257.27,735.32 257.03,736.01 C256.79,736.7 256.54,737.39 256.3,738.09 C256.06,738.78 255.82,739.47 255.58,740.16 C255.33,740.86 255.09,741.55 254.85,742.24 C254.61,742.93 254.24,743.97 254.12,744.32" fill="none" stroke="#111" stroke-width="0.55"/>
<path d="M253.44,746.27 L252.82,743.86 L255.42,744.77Z" fill="#111"/>
<path d="M267.97,739.13 C267.85,739.47 267.49,740.51 267.25,741.2 C267,741.9 266.76,742.59 266.52,743.28 C266.28,743.97 266.03,744.66 265.79,745.36 C265.55,746.05 265.31,746.74 265.07,747.43 C264.82,748.13 264.58,748.82 264.34,749.51 C264.1,750.2 263.73,751.24 263.61,751.59" fill="none" stroke="#111" stroke-width="0.55"/>
<path d="M262.93,753.54 L262.31,751.13 L264.91,752.04Z" fill="#111"/>
<path d="M328.35,797.54 C328,797.66 326.96,798.03 326.27,798.27 C325.58,798.51 324.89,798.75 324.19,798.99 C323.5,799.24 322.81,799.48 322.12,799.72 C321.43,799.96 320.73,800.21 320.04,800.45 C319.35,800.69 318.66,800.93 317.97,801.17 C317.27,801.42 316.23,801.78 315.89,801.9" fill="none" stroke="#111" stroke-width="0.55"/>
<path d="M313.93,802.59 L315.43,800.6 L316.34,803.2Z" fill="#111"/>
<path d="M343.31,727 C342.95,727.02 341.85,727.07 341.11,727.11 C340.38,727.15 339.65,727.18 338.92,727.22 C338.19,727.26 337.45,727.29 336.72,727.33 C335.99,727.37 335.26,727.4 334.52,727.44 C333.79,727.48 333.06,727.51 332.33,727.55 C331.59,727.59 330.49,727.64 330.13,727.66" fill="none" stroke="#111" stroke-width="0.55"/>
<path d="M328.06,727.76 L330.06,726.28 L330.2,729.04Z" fill="#111"/>
<path d="M293.47,802.71 C293.43,803.08 293.32,804.17 293.25,804.9 C293.17,805.63 293.1,806.36 293.03,807.09 C292.96,807.82 292.88,808.55 292.81,809.28 C292.74,810.01 292.66,810.74 292.59,811.47 C292.52,812.2 292.44,812.93 292.37,813.66 C292.3,814.39 292.19,815.48 292.15,815.85" fill="none" stroke="#111" stroke-width="0.55"/>
<path d="M291.95,817.9 L290.78,815.71 L293.53,815.98Z" fill="#111"/>
<path d="M329.68,777.64 C329.34,777.76 328.3,778.12 327.61,778.37 C326.92,778.61 326.22,778.85 325.53,779.09 C324.84,779.34 324.15,779.58 323.46,779.82 C322.76,780.06 322.07,780.31 321.38,780.55 C320.69,780.79 319.99,781.03 319.3,781.27 C318.61,781.52 317.57,781.88 317.23,782" fill="none" stroke="#111" stroke-width="0.55"/>
<path d="M315.27,782.68 L316.77,780.7 L317.68,783.3Z" fill="#111"/>
<path d="M333.96,789.9 C333.61,790.02 332.57,790.38 331.88,790.63 C331.19,790.87 330.5,791.11 329.8,791.35 C329.11,791.59 328.42,791.84 327.73,792.08 C327.04,792.32 326.34,792.56 325.65,792.81 C324.96,793.05 324.27,793.29 323.57,793.53 C322.88,793.77 321.84,794.14 321.5,794.26" fill="none" stroke="#111" stroke-width="0.55"/>
<path d="M319.54,794.94 L321.04,792.96 L321.95,795.56Z" fill="#111"/>
<path d="M278.83,777.96 C278.52,778.16 277.61,778.77 277,779.18 C276.39,779.58 275.78,779.99 275.17,780.4 C274.56,780.8 273.95,781.21 273.34,781.62 C272.73,782.03 271.76,782.27 271.51,782.84 C271.26,783.4 271.72,784.29 271.83,785.01 C271.94,785.74 272.11,786.83 272.16,787.19" fill="none" stroke="#111" stroke-width="0.55"/>
<path d="M272.47,789.24 L270.8,787.39 L273.52,786.99Z" fill="#111"/>
<path d="M335.8,802.43 C335.46,802.55 334.42,802.91 333.73,803.15 C333.04,803.4 332.34,803.64 331.65,803.88 C330.96,804.12 330.27,804.37 329.57,804.61 C328.88,804.85 328.19,805.09 327.5,805.33 C326.81,805.58 326.11,805.82 325.42,806.06 C324.73,806.3 323.69,806.67 323.35,806.79" fill="none" stroke="#111" stroke-width="0.55"/>
<path d="M321.39,807.47 L322.89,805.49 L323.8,808.09Z" fill="#111"/>
<path d="M283.2,736.58 C282.89,736.78 281.98,737.39 281.37,737.8 C280.76,738.21 279.96,738.47 279.54,739.02 C279.11,739.57 279.05,740.41 278.81,741.1 C278.57,741.79 278.33,742.48 278.08,743.17 C277.84,743.87 277.6,744.56 277.36,745.25 C277.12,745.94 276.75,746.98 276.63,747.33" fill="none" stroke="#111" stroke-width="0.55"/>
<path d="M275.95,749.28 L275.33,746.87 L277.93,747.78Z" fill="#111"/>
<path d="M263.37,726.79 C263.25,727.14 262.89,728.17 262.65,728.87 C262.4,729.56 262.16,730.25 261.92,730.94 C261.68,731.64 261.43,732.33 261.19,733.02 C260.95,733.71 260.71,734.4 260.47,735.1 C260.22,735.79 259.98,736.48 259.74,737.17 C259.5,737.87 259.13,738.9 259.01,739.25" fill="none" stroke="#111" stroke-width="0.55"/>
<path d="M258.33,741.2 L257.71,738.79 L260.31,739.71Z" fill="#111"/>
<path d="M297.2,795.78 C297.17,796.15 297.06,797.24 296.98,797.97 C296.91,798.7 296.84,799.43 296.77,800.16 C296.69,800.89 296.62,801.62 296.55,802.35 C296.47,803.08 296.4,803.81 296.33,804.54 C296.26,805.27 296.18,806 296.11,806.73 C296.04,807.46 295.93,808.55 295.89,808.92" fill="none" stroke="#111" stroke-width="0.55"/>
<path d="M295.68,810.98 L294.52,808.78 L297.26,809.05Z" fill="#111"/>
<path d="M286.44,732.91 C286.13,733.12 285.22,733.73 284.61,734.13 C284,734.54 283.39,734.95 282.78,735.36 C282.17,735.76 281.56,736.17 280.95,736.58 C280.34,736.98 279.54,737.25 279.12,737.8 C278.69,738.35 278.63,739.18 278.39,739.87 C278.15,740.56 277.78,741.6 277.66,741.95" fill="none" stroke="#111" stroke-width="0.55"/>
<path d="M276.98,743.9 L276.36,741.49 L278.97,742.4Z" fill="#111"/>
<path d="M303.47,774.5 C303.17,774.7 302.25,775.31 301.64,775.72 C301.03,776.12 300.42,776.53 299.81,776.94 C299.2,777.34 298.59,777.75 297.98,778.16 C297.37,778.56 296.76,778.97 296.15,779.38 C295.54,779.78 294.93,780.19 294.32,780.6 C293.71,781 292.8,781.61 292.49,781.82" fill="none" stroke="#111" stroke-width="0.55"/>
<path d="M290.77,782.97 L291.72,780.67 L293.26,782.97Z" fill="#111"/>
<path d="M325.57,777.22 C325.23,777.34 324.19,777.71 323.5,777.95 C322.8,778.19 322.11,778.44 321.42,778.68 C320.73,778.92 320.03,779.16 319.34,779.4 C318.65,779.65 317.96,779.89 317.27,780.13 C316.57,780.37 315.88,780.62 315.19,780.86 C314.5,781.1 313.46,781.46 313.11,781.58" fill="none" stroke="#111" stroke-width="0.55"/>
<path d="M311.16,782.27 L312.66,780.28 L313.57,782.89Z" fill="#111"/>
<path d="M381.85,726 C381.49,725.91 380.43,725.64 379.72,725.46 C379,725.29 378.29,725.11 377.58,724.93 C376.87,724.75 376.16,724.58 375.45,724.4 C374.74,724.22 374.03,723.93 373.31,723.86 C372.59,723.79 371.85,723.94 371.12,723.97 C370.38,724.01 369.28,724.07 368.92,724.08" fill="none" stroke="#111" stroke-width="0.55"/>
<path d="M366.85,724.19 L368.85,722.71 L368.99,725.46Z" fill="#111"/>
<path d="M298.11,750.79 C297.81,750.99 296.89,751.6 296.28,752.01 C295.67,752.42 295.06,752.82 294.45,753.23 C293.84,753.64 293.23,754.04 292.62,754.45 C292.01,754.86 291.4,755.26 290.79,755.67 C290.18,756.08 289.57,756.48 288.96,756.89 C288.35,757.3 287.43,757.91 287.13,758.11" fill="none" stroke="#111" stroke-width="0.55"/>
<path d="M285.41,759.26 L286.36,756.96 L287.89,759.26Z" fill="#111"/>
<path d="M302.72,747.81 C302.41,748.01 301.5,748.62 300.89,749.03 C300.28,749.43 299.67,749.84 299.06,750.25 C298.45,750.65 297.84,751.06 297.23,751.47 C296.62,751.87 296,752.28 295.39,752.69 C294.78,753.09 294.17,753.5 293.56,753.91 C292.95,754.31 292.04,754.92 291.73,755.13" fill="none" stroke="#111" stroke-width="0.55"/>
<path d="M290.01,756.28 L290.97,753.98 L292.5,756.28Z" fill="#111"/>
<path d="M259.66,742.07 C259.54,742.42 259.18,743.45 258.93,744.15 C258.69,744.84 258.45,745.53 258.21,746.22 C257.96,746.92 257.72,747.61 257.48,748.3 C257.24,748.99 257,749.68 256.75,750.38 C256.51,751.07 256.09,751.74 256.03,752.45 C255.96,753.16 256.3,754.27 256.35,754.63" fill="none" stroke="#111" stroke-width="0.55"/>
<path d="M256.66,756.68 L254.99,754.83 L257.72,754.42Z" fill="#111"/>
<path d="M310.77,699.33 C310.41,699.24 309.35,698.97 308.63,698.8 C307.92,698.62 307.21,698.44 306.5,698.26 C305.79,698.09 305.08,697.91 304.37,697.73 C303.65,697.55 302.94,697.37 302.23,697.2 C301.52,697.02 300.81,696.84 300.1,696.66 C299.39,696.48 298.32,696.22 297.96,696.13" fill="none" stroke="#111" stroke-width="0.55"/>
<path d="M295.95,695.63 L298.3,694.79 L297.63,697.47Z" fill="#111"/>
<path d="M341.33,772.23 C340.99,772.36 339.95,772.72 339.26,772.96 C338.57,773.2 337.87,773.45 337.18,773.69 C336.49,773.93 335.8,774.17 335.11,774.42 C334.41,774.66 333.72,774.9 333.03,775.14 C332.34,775.38 331.64,775.63 330.95,775.87 C330.26,776.11 329.22,776.47 328.88,776.6" fill="none" stroke="#111" stroke-width="0.55"/>
<path d="M326.92,777.28 L328.42,775.29 L329.33,777.9Z" fill="#111"/>
<path d="M291.13,736.1 C290.83,736.31 289.91,736.92 289.3,737.32 C288.69,737.73 288.08,738.14 287.47,738.55 C286.86,738.95 286.25,739.36 285.64,739.77 C285.03,740.17 284.42,740.58 283.81,740.99 C283.2,741.39 282.59,741.8 281.98,742.21 C281.37,742.61 280.45,743.22 280.15,743.43" fill="none" stroke="#111" stroke-width="0.55"/>
<path d="M278.43,744.57 L279.38,742.28 L280.91,744.57Z" fill="#111"/>
<path d="M305.35,778.31 C305.05,778.52 304.13,779.13 303.52,779.53 C302.91,779.94 302.3,780.35 301.69,780.75 C301.08,781.16 300.47,781.57 299.86,781.97 C299.25,782.38 298.37,782.63 298.03,783.19 C297.69,783.76 297.89,784.65 297.81,785.38 C297.74,786.11 297.63,787.21 297.59,787.57" fill="none" stroke="#111" stroke-width="0.55"/>
<path d="M297.39,789.63 L296.22,787.43 L298.97,787.71Z" fill="#111"/>
<path d="M420.47,758.09 C420.8,757.94 421.81,757.49 422.47,757.19 C423.14,756.89 423.81,756.59 424.48,756.29 C425.15,755.99 425.82,755.69 426.49,755.38 C427.16,755.08 427.82,754.78 428.49,754.48 C429.16,754.18 429.83,753.88 430.5,753.58 C431.17,753.28 432.17,752.83 432.51,752.68" fill="none" stroke="#111" stroke-width="0.55"/>
<path d="M434.39,751.83 L433.07,753.93 L431.94,751.42Z" fill="#111"/>
<path d="M328.83,758.49 C328.49,758.61 327.45,758.97 326.75,759.21 C326.06,759.46 325.37,759.7 324.68,759.94 C323.99,760.18 323.29,760.43 322.6,760.67 C321.91,760.91 321.22,761.15 320.53,761.39 C319.83,761.64 319.14,761.88 318.45,762.12 C317.76,762.36 316.72,762.73 316.37,762.85" fill="none" stroke="#111" stroke-width="0.55"/>
<path d="M314.42,763.53 L315.92,761.55 L316.83,764.15Z" fill="#111"/>
<path d="M299.11,711.71 C298.75,711.63 297.69,711.36 296.97,711.18 C296.26,711 295.55,710.82 294.84,710.65 C294.13,710.47 293.42,710.29 292.71,710.11 C291.99,709.94 291.28,709.76 290.57,709.58 C289.86,709.4 289.15,709.22 288.44,709.05 C287.73,708.87 286.66,708.6 286.3,708.51" fill="none" stroke="#111" stroke-width="0.55"/>
<path d="M284.29,708.01 L286.64,707.17 L285.97,709.85Z" fill="#111"/>
<path d="M430.32,734.15 C429.96,734.06 428.89,733.79 428.18,733.61 C427.47,733.43 426.76,733.26 426.05,733.08 C425.34,732.9 424.62,732.72 423.91,732.55 C423.2,732.37 422.49,732.19 421.78,732.01 C421.07,731.83 420.36,731.66 419.64,731.48 C418.93,731.3 417.87,731.03 417.51,730.94" fill="none" stroke="#111" stroke-width="0.55"/>
<path d="M415.5,730.44 L417.85,729.61 L417.18,732.28Z" fill="#111"/>
<path d="M419.4,741.28 C419.05,741.19 417.98,740.92 417.27,740.75 C416.56,740.57 415.85,740.39 415.13,740.21 C414.42,740.04 413.71,739.86 413,739.68 C412.29,739.5 411.58,739.32 410.87,739.15 C410.15,738.97 409.44,738.79 408.73,738.61 C408.02,738.43 406.95,738.17 406.6,738.08" fill="none" stroke="#111" stroke-width="0.55"/>
<path d="M404.59,737.58 L406.93,736.74 L406.26,739.42Z" fill="#111"/>
<path d="M397.99,756.25 C398.33,756.1 399.33,755.65 400,755.35 C400.67,755.05 401.34,754.74 402.01,754.44 C402.67,754.14 403.34,753.84 404.01,753.54 C404.68,753.24 405.35,752.94 406.02,752.64 C406.69,752.34 407.36,752.04 408.02,751.74 C408.69,751.43 409.7,750.98 410.03,750.83" fill="none" stroke="#111" stroke-width="0.55"/>
<path d="M411.92,749.98 L410.6,752.09 L409.46,749.57Z" fill="#111"/>
<path d="M261.32,765.56 C261.37,765.92 261.54,767.01 261.65,767.73 C261.76,768.46 261.86,769.18 261.97,769.91 C262.08,770.63 262.19,771.36 262.3,772.09 C262.41,772.81 262.52,773.54 262.63,774.26 C262.73,774.99 262.84,775.71 262.95,776.44 C263.06,777.16 263.22,778.25 263.28,778.61" fill="none" stroke="#111" stroke-width="0.55"/>
<path d="M263.59,780.66 L261.91,778.82 L264.64,778.41Z" fill="#111"/>
<path d="M252.5,820.3 L252.5,802 M252.5,820.3 L271,820.3" stroke="#111" stroke-width="0.8" fill="none"/>
<path d="M250.8,803.8 L252.5,800.6 L254.2,803.8Z M269.2,818.6 L272.4,820.3 L269.2,822Z" fill="#111"/>
<text x="253" y="828.6" font-size="5.4" fill="#111" text-anchor="start" >UMAP1</text>
<text x="0" y="0" font-size="5.4" fill="#111" text-anchor="middle" transform="translate(248.6,811.5) rotate(-90)">UMAP2</text>
<text x="449.8" y="666" font-size="19" fill="#000" text-anchor="start" font-weight="bold" >k</text>
<path d="M492.9,809.82 C495.22,809.82 495.22,795.82 497.55,795.82 L497.55,834.6 C495.22,834.6 495.22,834.6 492.9,834.6Z" fill="#d08830" fill-opacity="0.3"/>
<path d="M492.9,805.36 C495.22,805.36 495.22,789.05 497.55,789.05 L497.55,795.82 C495.22,795.82 495.22,809.82 492.9,809.82Z" fill="#4a4a60" fill-opacity="0.3"/>
<path d="M492.9,798.59 C495.22,798.59 495.22,723.79 497.55,723.79 L497.55,789.05 C495.22,789.05 495.22,805.36 492.9,805.36Z" fill="#e8a0f8" fill-opacity="0.3"/>
<path d="M492.9,795.66 C495.22,795.66 495.22,723.79 497.55,723.79 L497.55,723.79 C495.22,723.79 495.22,798.59 492.9,798.59Z" fill="#e8a0a8" fill-opacity="0.3"/>
<path d="M492.9,788.89 C495.22,788.89 495.22,720.87 497.55,720.87 L497.55,723.79 C495.22,723.79 495.22,795.66 492.9,795.66Z" fill="#906090" fill-opacity="0.3"/>
<path d="M492.9,787.97 C495.22,787.97 495.22,720.87 497.55,720.87 L497.55,720.87 C495.22,720.87 495.22,788.89 492.9,788.89Z" fill="#2a7a5a" fill-opacity="0.3"/>
<path d="M492.9,766.88 C495.22,766.88 495.22,719.33 497.55,719.33 L497.55,720.87 C495.22,720.87 495.22,787.97 492.9,787.97Z" fill="#d03838" fill-opacity="0.3"/>
<path d="M492.9,708.86 C495.22,708.86 495.22,691.63 497.55,691.63 L497.55,719.33 C495.22,719.33 495.22,766.88 492.9,766.88Z" fill="#d8d838" fill-opacity="0.3"/>
<path d="M492.9,707.79 C495.22,707.79 495.22,690.09 497.55,690.09 L497.55,691.63 C495.22,691.63 495.22,708.86 492.9,708.86Z" fill="#2e7a98" fill-opacity="0.3"/>
<path d="M492.9,691.63 C495.22,691.63 495.22,687.78 497.55,687.78 L497.55,690.09 C495.22,690.09 495.22,707.79 492.9,707.79Z" fill="#a8d0a0" fill-opacity="0.3"/>
<path d="M492.9,688.55 C495.22,688.55 495.22,685.93 497.55,685.93 L497.55,687.78 C495.22,687.78 495.22,691.63 492.9,691.63Z" fill="#ff2020" fill-opacity="0.3"/>
<path d="M492.9,686.7 C495.22,686.7 495.22,685.93 497.55,685.93 L497.55,685.93 C495.22,685.93 495.22,688.55 492.9,688.55Z" fill="#7a7a4a" fill-opacity="0.3"/>
<path d="M492.9,684.86 C495.22,684.86 495.22,685.93 497.55,685.93 L497.55,685.93 C495.22,685.93 495.22,686.7 492.9,686.7Z" fill="#6e9e3e" fill-opacity="0.3"/>
<path d="M492.9,680.7 C495.22,680.7 495.22,680.7 497.55,680.7 L497.55,685.93 C495.22,685.93 495.22,684.86 492.9,684.86Z" fill="#c8bc82" fill-opacity="0.3"/>
<path d="M508.55,795.82 C510.87,795.82 510.87,803.82 513.2,803.82 L513.2,834.6 C510.87,834.6 510.87,834.6 508.55,834.6Z" fill="#d08830" fill-opacity="0.3"/>
<path d="M508.55,789.05 C510.87,789.05 510.87,801.2 513.2,801.2 L513.2,803.82 C510.87,803.82 510.87,795.82 508.55,795.82Z" fill="#4a4a60" fill-opacity="0.3"/>
<path d="M508.55,723.79 C510.87,723.79 510.87,760.27 513.2,760.27 L513.2,801.2 C510.87,801.2 510.87,789.05 508.55,789.05Z" fill="#e8a0f8" fill-opacity="0.3"/>
<path d="M508.55,720.87 C510.87,720.87 510.87,755.5 513.2,755.5 L513.2,760.27 C510.87,760.27 510.87,723.79 508.55,723.79Z" fill="#906090" fill-opacity="0.3"/>
<path d="M508.55,720.87 C510.87,720.87 510.87,751.65 513.2,751.65 L513.2,755.5 C510.87,755.5 510.87,720.87 508.55,720.87Z" fill="#2a7a5a" fill-opacity="0.3"/>
<path d="M508.55,720.87 C510.87,720.87 510.87,750.72 513.2,750.72 L513.2,751.65 C510.87,751.65 510.87,720.87 508.55,720.87Z" fill="#e0d840" fill-opacity="0.3"/>
<path d="M508.55,720.87 C510.87,720.87 510.87,749.96 513.2,749.96 L513.2,750.72 C510.87,750.72 510.87,720.87 508.55,720.87Z" fill="#283c90" fill-opacity="0.3"/>
<path d="M508.55,719.33 C510.87,719.33 510.87,746.88 513.2,746.88 L513.2,749.96 C510.87,749.96 510.87,720.87 508.55,720.87Z" fill="#d03838" fill-opacity="0.3"/>
<path d="M508.55,691.63 C510.87,691.63 510.87,725.79 513.2,725.79 L513.2,746.88 C510.87,746.88 510.87,719.33 508.55,719.33Z" fill="#d8d838" fill-opacity="0.3"/>
<path d="M508.55,690.09 C510.87,690.09 510.87,725.79 513.2,725.79 L513.2,725.79 C510.87,725.79 510.87,691.63 508.55,691.63Z" fill="#2e7a98" fill-opacity="0.3"/>
<path d="M508.55,690.09 C510.87,690.09 510.87,721.95 513.2,721.95 L513.2,725.79 C510.87,725.79 510.87,690.09 508.55,690.09Z" fill="#40c030" fill-opacity="0.3"/>
<path d="M508.55,687.78 C510.87,687.78 510.87,700.86 513.2,700.86 L513.2,721.95 C510.87,721.95 510.87,690.09 508.55,690.09Z" fill="#a8d0a0" fill-opacity="0.3"/>
<path d="M508.55,685.93 C510.87,685.93 510.87,696.4 513.2,696.4 L513.2,700.86 C510.87,700.86 510.87,687.78 508.55,687.78Z" fill="#ff2020" fill-opacity="0.3"/>
<path d="M508.55,685.93 C510.87,685.93 510.87,689.93 513.2,689.93 L513.2,696.4 C510.87,696.4 510.87,685.93 508.55,685.93Z" fill="#7a7a4a" fill-opacity="0.3"/>
<path d="M508.55,685.93 C510.87,685.93 510.87,687.47 513.2,687.47 L513.2,689.93 C510.87,689.93 510.87,685.93 508.55,685.93Z" fill="#6e9e3e" fill-opacity="0.3"/>
<path d="M508.55,680.7 C510.87,680.7 510.87,680.7 513.2,680.7 L513.2,687.47 C510.87,687.47 510.87,685.93 508.55,685.93Z" fill="#c8bc82" fill-opacity="0.3"/>
<path d="M524.2,803.82 C526.52,803.82 526.52,805.36 528.85,805.36 L528.85,834.6 C526.52,834.6 526.52,834.6 524.2,834.6Z" fill="#d08830" fill-opacity="0.3"/>
<path d="M524.2,801.2 C526.52,801.2 526.52,805.05 528.85,805.05 L528.85,805.36 C526.52,805.36 526.52,803.82 524.2,803.82Z" fill="#4a4a60" fill-opacity="0.3"/>
<path d="M524.2,760.27 C526.52,760.27 526.52,762.27 528.85,762.27 L528.85,805.05 C526.52,805.05 526.52,801.2 524.2,801.2Z" fill="#e8a0f8" fill-opacity="0.3"/>
<path d="M524.2,755.5 C526.52,755.5 526.52,759.34 528.85,759.34 L528.85,762.27 C526.52,762.27 526.52,760.27 524.2,760.27Z" fill="#906090" fill-opacity="0.3"/>
<path d="M524.2,751.65 C526.52,751.65 526.52,758.42 528.85,758.42 L528.85,759.34 C526.52,759.34 526.52,755.5 524.2,755.5Z" fill="#2a7a5a" fill-opacity="0.3"/>
<path d="M524.2,750.72 C526.52,750.72 526.52,752.73 528.85,752.73 L528.85,758.42 C526.52,758.42 526.52,751.65 524.2,751.65Z" fill="#e0d840" fill-opacity="0.3"/>
<path d="M524.2,749.96 C526.52,749.96 526.52,747.95 528.85,747.95 L528.85,752.73 C526.52,752.73 526.52,750.72 524.2,750.72Z" fill="#283c90" fill-opacity="0.3"/>
<path d="M524.2,749.96 C526.52,749.96 526.52,727.79 528.85,727.79 L528.85,747.95 C526.52,747.95 526.52,749.96 524.2,749.96Z" fill="#dcdcd0" fill-opacity="0.3"/>
<path d="M524.2,746.88 C526.52,746.88 526.52,724.87 528.85,724.87 L528.85,727.79 C526.52,727.79 526.52,749.96 524.2,749.96Z" fill="#d03838" fill-opacity="0.3"/>
<path d="M524.2,725.79 C526.52,725.79 526.52,702.86 528.85,702.86 L528.85,724.87 C526.52,724.87 526.52,746.88 524.2,746.88Z" fill="#d8d838" fill-opacity="0.3"/>
<path d="M524.2,725.79 C526.52,725.79 526.52,699.94 528.85,699.94 L528.85,702.86 C526.52,702.86 526.52,725.79 524.2,725.79Z" fill="#2e7a98" fill-opacity="0.3"/>
<path d="M524.2,721.95 C526.52,721.95 526.52,699.94 528.85,699.94 L528.85,699.94 C526.52,699.94 526.52,725.79 524.2,725.79Z" fill="#40c030" fill-opacity="0.3"/>
<path d="M524.2,700.86 C526.52,700.86 526.52,692.24 528.85,692.24 L528.85,699.94 C526.52,699.94 526.52,721.95 524.2,721.95Z" fill="#a8d0a0" fill-opacity="0.3"/>
<path d="M524.2,696.4 C526.52,696.4 526.52,689.93 528.85,689.93 L528.85,692.24 C526.52,692.24 526.52,700.86 524.2,700.86Z" fill="#ff2020" fill-opacity="0.3"/>
<path d="M524.2,689.93 C526.52,689.93 526.52,687.47 528.85,687.47 L528.85,689.93 C526.52,689.93 526.52,696.4 524.2,696.4Z" fill="#7a7a4a" fill-opacity="0.3"/>
<path d="M524.2,687.47 C526.52,687.47 526.52,685.47 528.85,685.47 L528.85,687.47 C526.52,687.47 526.52,689.93 524.2,689.93Z" fill="#6e9e3e" fill-opacity="0.3"/>
<path d="M524.2,680.7 C526.52,680.7 526.52,680.7 528.85,680.7 L528.85,685.47 C526.52,685.47 526.52,687.47 524.2,687.47Z" fill="#c8bc82" fill-opacity="0.3"/>
<path d="M539.85,805.36 C542.17,805.36 542.17,820.75 544.5,820.75 L544.5,834.6 C542.17,834.6 542.17,834.6 539.85,834.6Z" fill="#d08830" fill-opacity="0.3"/>
<path d="M539.85,805.05 C542.17,805.05 542.17,820.75 544.5,820.75 L544.5,820.75 C542.17,820.75 542.17,805.36 539.85,805.36Z" fill="#4a4a60" fill-opacity="0.3"/>
<path d="M539.85,762.27 C542.17,762.27 542.17,818.44 544.5,818.44 L544.5,820.75 C542.17,820.75 542.17,805.05 539.85,805.05Z" fill="#e8a0f8" fill-opacity="0.3"/>
<path d="M539.85,759.34 C542.17,759.34 542.17,815.05 544.5,815.05 L544.5,818.44 C542.17,818.44 542.17,762.27 539.85,762.27Z" fill="#906090" fill-opacity="0.3"/>
<path d="M539.85,758.42 C542.17,758.42 542.17,815.05 544.5,815.05 L544.5,815.05 C542.17,815.05 542.17,759.34 539.85,759.34Z" fill="#2a7a5a" fill-opacity="0.3"/>
<path d="M539.85,752.73 C542.17,752.73 542.17,815.05 544.5,815.05 L544.5,815.05 C542.17,815.05 542.17,758.42 539.85,758.42Z" fill="#e0d840" fill-opacity="0.3"/>
<path d="M539.85,747.95 C542.17,747.95 542.17,812.13 544.5,812.13 L544.5,815.05 C542.17,815.05 542.17,752.73 539.85,752.73Z" fill="#283c90" fill-opacity="0.3"/>
<path d="M539.85,727.79 C542.17,727.79 542.17,812.13 544.5,812.13 L544.5,812.13 C542.17,812.13 542.17,747.95 539.85,747.95Z" fill="#dcdcd0" fill-opacity="0.3"/>
<path d="M539.85,724.87 C542.17,724.87 542.17,799.97 544.5,799.97 L544.5,812.13 C542.17,812.13 542.17,727.79 539.85,727.79Z" fill="#d03838" fill-opacity="0.3"/>
<path d="M539.85,702.86 C542.17,702.86 542.17,785.2 544.5,785.2 L544.5,799.97 C542.17,799.97 542.17,724.87 539.85,724.87Z" fill="#d8d838" fill-opacity="0.3"/>
<path d="M539.85,699.94 C542.17,699.94 542.17,774.27 544.5,774.27 L544.5,785.2 C542.17,785.2 542.17,702.86 539.85,702.86Z" fill="#2e7a98" fill-opacity="0.3"/>
<path d="M539.85,699.94 C542.17,699.94 542.17,757.34 544.5,757.34 L544.5,774.27 C542.17,774.27 542.17,699.94 539.85,699.94Z" fill="#40c030" fill-opacity="0.3"/>
<path d="M539.85,692.24 C542.17,692.24 542.17,746.72 544.5,746.72 L544.5,757.34 C542.17,757.34 542.17,699.94 539.85,699.94Z" fill="#a8d0a0" fill-opacity="0.3"/>
<path d="M539.85,689.93 C542.17,689.93 542.17,741.03 544.5,741.03 L544.5,746.72 C542.17,746.72 542.17,692.24 539.85,692.24Z" fill="#ff2020" fill-opacity="0.3"/>
<path d="M539.85,687.47 C542.17,687.47 542.17,701.32 544.5,701.32 L544.5,741.03 C542.17,741.03 542.17,689.93 539.85,689.93Z" fill="#7a7a4a" fill-opacity="0.3"/>
<path d="M539.85,685.47 C542.17,685.47 542.17,686.09 544.5,686.09 L544.5,701.32 C542.17,701.32 542.17,687.47 539.85,687.47Z" fill="#6e9e3e" fill-opacity="0.3"/>
<path d="M539.85,680.7 C542.17,680.7 542.17,680.7 544.5,680.7 L544.5,686.09 C542.17,686.09 542.17,685.47 539.85,685.47Z" fill="#c8bc82" fill-opacity="0.3"/>
<path d="M555.5,820.75 C557.83,820.75 557.83,815.98 560.15,815.98 L560.15,834.6 C557.83,834.6 557.83,834.6 555.5,834.6Z" fill="#d08830" fill-opacity="0.3"/>
<path d="M555.5,820.75 C557.83,820.75 557.83,811.51 560.15,811.51 L560.15,815.98 C557.83,815.98 557.83,820.75 555.5,820.75Z" fill="#4a4a60" fill-opacity="0.3"/>
<path d="M555.5,818.44 C557.83,818.44 557.83,809.21 560.15,809.21 L560.15,811.51 C557.83,811.51 557.83,820.75 555.5,820.75Z" fill="#e8a0f8" fill-opacity="0.3"/>
<path d="M555.5,818.44 C557.83,818.44 557.83,796.12 560.15,796.12 L560.15,809.21 C557.83,809.21 557.83,818.44 555.5,818.44Z" fill="#e8a0a8" fill-opacity="0.3"/>
<path d="M555.5,815.05 C557.83,815.05 557.83,793.51 560.15,793.51 L560.15,796.12 C557.83,796.12 557.83,818.44 555.5,818.44Z" fill="#906090" fill-opacity="0.3"/>
<path d="M555.5,815.05 C557.83,815.05 557.83,791.05 560.15,791.05 L560.15,793.51 C557.83,793.51 557.83,815.05 555.5,815.05Z" fill="#e0d840" fill-opacity="0.3"/>
<path d="M555.5,812.13 C557.83,812.13 557.83,791.05 560.15,791.05 L560.15,791.05 C557.83,791.05 557.83,815.05 555.5,815.05Z" fill="#283c90" fill-opacity="0.3"/>
<path d="M555.5,799.97 C557.83,799.97 557.83,764.11 560.15,764.11 L560.15,791.05 C557.83,791.05 557.83,812.13 555.5,812.13Z" fill="#d03838" fill-opacity="0.3"/>
<path d="M555.5,785.2 C557.83,785.2 557.83,749.65 560.15,749.65 L560.15,764.11 C557.83,764.11 557.83,799.97 555.5,799.97Z" fill="#d8d838" fill-opacity="0.3"/>
<path d="M555.5,774.27 C557.83,774.27 557.83,737.8 560.15,737.8 L560.15,749.65 C557.83,749.65 557.83,785.2 555.5,785.2Z" fill="#2e7a98" fill-opacity="0.3"/>
<path d="M555.5,757.34 C557.83,757.34 557.83,724.72 560.15,724.72 L560.15,737.8 C557.83,737.8 557.83,774.27 555.5,774.27Z" fill="#40c030" fill-opacity="0.3"/>
<path d="M555.5,746.72 C557.83,746.72 557.83,716.1 560.15,716.1 L560.15,724.72 C557.83,724.72 557.83,757.34 555.5,757.34Z" fill="#a8d0a0" fill-opacity="0.3"/>
<path d="M555.5,741.03 C557.83,741.03 557.83,714.25 560.15,714.25 L560.15,716.1 C557.83,716.1 557.83,746.72 555.5,746.72Z" fill="#ff2020" fill-opacity="0.3"/>
<path d="M555.5,701.32 C557.83,701.32 557.83,693.17 560.15,693.17 L560.15,714.25 C557.83,714.25 557.83,741.03 555.5,741.03Z" fill="#7a7a4a" fill-opacity="0.3"/>
<path d="M555.5,686.09 C557.83,686.09 557.83,687.93 560.15,687.93 L560.15,693.17 C557.83,693.17 557.83,701.32 555.5,701.32Z" fill="#6e9e3e" fill-opacity="0.3"/>
<path d="M555.5,680.7 C557.83,680.7 557.83,680.7 560.15,680.7 L560.15,687.93 C557.83,687.93 557.83,686.09 555.5,686.09Z" fill="#c8bc82" fill-opacity="0.3"/>
<path d="M571.15,815.98 C573.47,815.98 573.47,818.9 575.8,818.9 L575.8,834.6 C573.47,834.6 573.47,834.6 571.15,834.6Z" fill="#d08830" fill-opacity="0.3"/>
<path d="M571.15,811.51 C573.47,811.51 573.47,818.9 575.8,818.9 L575.8,818.9 C573.47,818.9 573.47,815.98 571.15,815.98Z" fill="#4a4a60" fill-opacity="0.3"/>
<path d="M571.15,809.21 C573.47,809.21 573.47,818.9 575.8,818.9 L575.8,818.9 C573.47,818.9 573.47,811.51 571.15,811.51Z" fill="#e8a0f8" fill-opacity="0.3"/>
<path d="M571.15,796.12 C573.47,796.12 573.47,818.9 575.8,818.9 L575.8,818.9 C573.47,818.9 573.47,809.21 571.15,809.21Z" fill="#e8a0a8" fill-opacity="0.3"/>
<path d="M571.15,793.51 C573.47,793.51 573.47,816.59 575.8,816.59 L575.8,818.9 C573.47,818.9 573.47,796.12 571.15,796.12Z" fill="#906090" fill-opacity="0.3"/>
<path d="M571.15,793.51 C573.47,793.51 573.47,815.52 575.8,815.52 L575.8,816.59 C573.47,816.59 573.47,793.51 571.15,793.51Z" fill="#2a7a5a" fill-opacity="0.3"/>
<path d="M571.15,791.05 C573.47,791.05 573.47,815.52 575.8,815.52 L575.8,815.52 C573.47,815.52 573.47,793.51 571.15,793.51Z" fill="#e0d840" fill-opacity="0.3"/>
<path d="M571.15,764.11 C573.47,764.11 573.47,789.2 575.8,789.2 L575.8,815.52 C573.47,815.52 573.47,791.05 571.15,791.05Z" fill="#d03838" fill-opacity="0.3"/>
<path d="M571.15,749.65 C573.47,749.65 573.47,769.96 575.8,769.96 L575.8,789.2 C573.47,789.2 573.47,764.11 571.15,764.11Z" fill="#d8d838" fill-opacity="0.3"/>
<path d="M571.15,737.8 C573.47,737.8 573.47,731.64 575.8,731.64 L575.8,769.96 C573.47,769.96 573.47,749.65 571.15,749.65Z" fill="#2e7a98" fill-opacity="0.3"/>
<path d="M571.15,724.72 C573.47,724.72 573.47,729.79 575.8,729.79 L575.8,731.64 C573.47,731.64 573.47,737.8 571.15,737.8Z" fill="#40c030" fill-opacity="0.3"/>
<path d="M571.15,716.1 C573.47,716.1 573.47,708.09 575.8,708.09 L575.8,729.79 C573.47,729.79 573.47,724.72 571.15,724.72Z" fill="#a8d0a0" fill-opacity="0.3"/>
<path d="M571.15,714.25 C573.47,714.25 573.47,703.48 575.8,703.48 L575.8,708.09 C573.47,708.09 573.47,716.1 571.15,716.1Z" fill="#ff2020" fill-opacity="0.3"/>
<path d="M571.15,693.17 C573.47,693.17 573.47,690.4 575.8,690.4 L575.8,703.48 C573.47,703.48 573.47,714.25 571.15,714.25Z" fill="#7a7a4a" fill-opacity="0.3"/>
<path d="M571.15,687.93 C573.47,687.93 573.47,684.24 575.8,684.24 L575.8,690.4 C573.47,690.4 573.47,693.17 571.15,693.17Z" fill="#6e9e3e" fill-opacity="0.3"/>
<path d="M571.15,680.7 C573.47,680.7 573.47,680.7 575.8,680.7 L575.8,684.24 C573.47,684.24 573.47,687.93 571.15,687.93Z" fill="#c8bc82" fill-opacity="0.3"/>
<path d="M586.8,818.9 C589.12,818.9 589.12,818.9 591.45,818.9 L591.45,834.6 C589.12,834.6 589.12,834.6 586.8,834.6Z" fill="#d08830" fill-opacity="0.3"/>
<path d="M586.8,816.59 C589.12,816.59 589.12,815.98 591.45,815.98 L591.45,818.9 C589.12,818.9 589.12,818.9 586.8,818.9Z" fill="#906090" fill-opacity="0.3"/>
<path d="M586.8,815.52 C589.12,815.52 589.12,814.59 591.45,814.59 L591.45,815.98 C589.12,815.98 589.12,816.59 586.8,816.59Z" fill="#2a7a5a" fill-opacity="0.3"/>
<path d="M586.8,789.2 C589.12,789.2 589.12,778.12 591.45,778.12 L591.45,814.59 C589.12,814.59 589.12,815.52 586.8,815.52Z" fill="#d03838" fill-opacity="0.3"/>
<path d="M586.8,769.96 C589.12,769.96 589.12,753.49 591.45,753.49 L591.45,778.12 C589.12,778.12 589.12,789.2 586.8,789.2Z" fill="#d8d838" fill-opacity="0.3"/>
<path d="M586.8,731.64 C589.12,731.64 589.12,735.8 591.45,735.8 L591.45,753.49 C589.12,753.49 589.12,769.96 586.8,769.96Z" fill="#2e7a98" fill-opacity="0.3"/>
<path d="M586.8,729.79 C589.12,729.79 589.12,735.8 591.45,735.8 L591.45,735.8 C589.12,735.8 589.12,731.64 586.8,731.64Z" fill="#40c030" fill-opacity="0.3"/>
<path d="M586.8,708.09 C589.12,708.09 589.12,708.86 591.45,708.86 L591.45,735.8 C589.12,735.8 589.12,729.79 586.8,729.79Z" fill="#a8d0a0" fill-opacity="0.3"/>
<path d="M586.8,703.48 C589.12,703.48 589.12,705.02 591.45,705.02 L591.45,708.86 C589.12,708.86 589.12,708.09 586.8,708.09Z" fill="#ff2020" fill-opacity="0.3"/>
<path d="M586.8,690.4 C589.12,690.4 589.12,691.63 591.45,691.63 L591.45,705.02 C589.12,705.02 589.12,703.48 586.8,703.48Z" fill="#7a7a4a" fill-opacity="0.3"/>
<path d="M586.8,684.24 C589.12,684.24 589.12,685.32 591.45,685.32 L591.45,691.63 C589.12,691.63 589.12,690.4 586.8,690.4Z" fill="#6e9e3e" fill-opacity="0.3"/>
<path d="M586.8,680.7 C589.12,680.7 589.12,680.7 591.45,680.7 L591.45,685.32 C589.12,685.32 589.12,684.24 586.8,684.24Z" fill="#c8bc82" fill-opacity="0.3"/>
<rect x="481.9" y="809.82" width="11" height="24.78" fill="#d08830" stroke="#555" stroke-width="0.25"/>
<rect x="481.9" y="805.36" width="11" height="4.46" fill="#4a4a60" stroke="#555" stroke-width="0.25"/>
<rect x="481.9" y="798.59" width="11" height="6.77" fill="#e8a0f8" stroke="#555" stroke-width="0.25"/>
<rect x="481.9" y="795.66" width="11" height="2.92" fill="#e8a0a8" stroke="#555" stroke-width="0.25"/>
<rect x="481.9" y="788.89" width="11" height="6.77" fill="#906090" stroke="#555" stroke-width="0.25"/>
<rect x="481.9" y="787.97" width="11" height="0.92" fill="#2a7a5a" stroke="#555" stroke-width="0.25"/>
<rect x="481.9" y="766.88" width="11" height="21.08" fill="#d03838" stroke="#555" stroke-width="0.25"/>
<rect x="481.9" y="708.86" width="11" height="58.02" fill="#d8d838" stroke="#555" stroke-width="0.25"/>
<rect x="481.9" y="707.79" width="11" height="1.08" fill="#2e7a98" stroke="#555" stroke-width="0.25"/>
<rect x="481.9" y="691.63" width="11" height="16.16" fill="#a8d0a0" stroke="#555" stroke-width="0.25"/>
<rect x="481.9" y="688.55" width="11" height="3.08" fill="#ff2020" stroke="#555" stroke-width="0.25"/>
<rect x="481.9" y="686.7" width="11" height="1.85" fill="#7a7a4a" stroke="#555" stroke-width="0.25"/>
<rect x="481.9" y="684.86" width="11" height="1.85" fill="#6e9e3e" stroke="#555" stroke-width="0.25"/>
<rect x="481.9" y="680.7" width="11" height="4.16" fill="#c8bc82" stroke="#555" stroke-width="0.25"/>
<rect x="497.55" y="795.82" width="11" height="38.78" fill="#d08830" stroke="#555" stroke-width="0.25"/>
<rect x="497.55" y="789.05" width="11" height="6.77" fill="#4a4a60" stroke="#555" stroke-width="0.25"/>
<rect x="497.55" y="723.79" width="11" height="65.25" fill="#e8a0f8" stroke="#555" stroke-width="0.25"/>
<rect x="497.55" y="720.87" width="11" height="2.92" fill="#906090" stroke="#555" stroke-width="0.25"/>
<rect x="497.55" y="719.33" width="11" height="1.54" fill="#d03838" stroke="#555" stroke-width="0.25"/>
<rect x="497.55" y="691.63" width="11" height="27.7" fill="#d8d838" stroke="#555" stroke-width="0.25"/>
<rect x="497.55" y="690.09" width="11" height="1.54" fill="#2e7a98" stroke="#555" stroke-width="0.25"/>
<rect x="497.55" y="687.78" width="11" height="2.31" fill="#a8d0a0" stroke="#555" stroke-width="0.25"/>
<rect x="497.55" y="685.93" width="11" height="1.85" fill="#ff2020" stroke="#555" stroke-width="0.25"/>
<rect x="497.55" y="680.7" width="11" height="5.23" fill="#c8bc82" stroke="#555" stroke-width="0.25"/>
<rect x="513.2" y="803.82" width="11" height="30.78" fill="#d08830" stroke="#555" stroke-width="0.25"/>
<rect x="513.2" y="801.2" width="11" height="2.62" fill="#4a4a60" stroke="#555" stroke-width="0.25"/>
<rect x="513.2" y="760.27" width="11" height="40.94" fill="#e8a0f8" stroke="#555" stroke-width="0.25"/>
<rect x="513.2" y="755.5" width="11" height="4.77" fill="#906090" stroke="#555" stroke-width="0.25"/>
<rect x="513.2" y="751.65" width="11" height="3.85" fill="#2a7a5a" stroke="#555" stroke-width="0.25"/>
<rect x="513.2" y="750.72" width="11" height="0.92" fill="#e0d840" stroke="#555" stroke-width="0.25"/>
<rect x="513.2" y="749.96" width="11" height="0.77" fill="#283c90" stroke="#555" stroke-width="0.25"/>
<rect x="513.2" y="746.88" width="11" height="3.08" fill="#d03838" stroke="#555" stroke-width="0.25"/>
<rect x="513.2" y="725.79" width="11" height="21.08" fill="#d8d838" stroke="#555" stroke-width="0.25"/>
<rect x="513.2" y="721.95" width="11" height="3.85" fill="#40c030" stroke="#555" stroke-width="0.25"/>
<rect x="513.2" y="700.86" width="11" height="21.08" fill="#a8d0a0" stroke="#555" stroke-width="0.25"/>
<rect x="513.2" y="696.4" width="11" height="4.46" fill="#ff2020" stroke="#555" stroke-width="0.25"/>
<rect x="513.2" y="689.93" width="11" height="6.46" fill="#7a7a4a" stroke="#555" stroke-width="0.25"/>
<rect x="513.2" y="687.47" width="11" height="2.46" fill="#6e9e3e" stroke="#555" stroke-width="0.25"/>
<rect x="513.2" y="680.7" width="11" height="6.77" fill="#c8bc82" stroke="#555" stroke-width="0.25"/>
<rect x="528.85" y="805.36" width="11" height="29.24" fill="#d08830" stroke="#555" stroke-width="0.25"/>
<rect x="528.85" y="805.05" width="11" height="0.31" fill="#4a4a60" stroke="#555" stroke-width="0.25"/>
<rect x="528.85" y="762.27" width="11" height="42.78" fill="#e8a0f8" stroke="#555" stroke-width="0.25"/>
<rect x="528.85" y="759.34" width="11" height="2.92" fill="#906090" stroke="#555" stroke-width="0.25"/>
<rect x="528.85" y="758.42" width="11" height="0.92" fill="#2a7a5a" stroke="#555" stroke-width="0.25"/>
<rect x="528.85" y="752.73" width="11" height="5.69" fill="#e0d840" stroke="#555" stroke-width="0.25"/>
<rect x="528.85" y="747.95" width="11" height="4.77" fill="#283c90" stroke="#555" stroke-width="0.25"/>
<rect x="528.85" y="727.79" width="11" height="20.16" fill="#dcdcd0" stroke="#555" stroke-width="0.25"/>
<rect x="528.85" y="724.87" width="11" height="2.92" fill="#d03838" stroke="#555" stroke-width="0.25"/>
<rect x="528.85" y="702.86" width="11" height="22.01" fill="#d8d838" stroke="#555" stroke-width="0.25"/>
<rect x="528.85" y="699.94" width="11" height="2.92" fill="#2e7a98" stroke="#555" stroke-width="0.25"/>
<rect x="528.85" y="692.24" width="11" height="7.69" fill="#a8d0a0" stroke="#555" stroke-width="0.25"/>
<rect x="528.85" y="689.93" width="11" height="2.31" fill="#ff2020" stroke="#555" stroke-width="0.25"/>
<rect x="528.85" y="687.47" width="11" height="2.46" fill="#7a7a4a" stroke="#555" stroke-width="0.25"/>
<rect x="528.85" y="685.47" width="11" height="2" fill="#6e9e3e" stroke="#555" stroke-width="0.25"/>
<rect x="528.85" y="680.7" width="11" height="4.77" fill="#c8bc82" stroke="#555" stroke-width="0.25"/>
<rect x="544.5" y="820.75" width="11" height="13.85" fill="#d08830" stroke="#555" stroke-width="0.25"/>
<rect x="544.5" y="818.44" width="11" height="2.31" fill="#e8a0f8" stroke="#555" stroke-width="0.25"/>
<rect x="544.5" y="815.05" width="11" height="3.39" fill="#906090" stroke="#555" stroke-width="0.25"/>
<rect x="544.5" y="812.13" width="11" height="2.92" fill="#283c90" stroke="#555" stroke-width="0.25"/>
<rect x="544.5" y="799.97" width="11" height="12.16" fill="#d03838" stroke="#555" stroke-width="0.25"/>
<rect x="544.5" y="785.2" width="11" height="14.77" fill="#d8d838" stroke="#555" stroke-width="0.25"/>
<rect x="544.5" y="774.27" width="11" height="10.93" fill="#2e7a98" stroke="#555" stroke-width="0.25"/>
<rect x="544.5" y="757.34" width="11" height="16.93" fill="#40c030" stroke="#555" stroke-width="0.25"/>
<rect x="544.5" y="746.72" width="11" height="10.62" fill="#a8d0a0" stroke="#555" stroke-width="0.25"/>
<rect x="544.5" y="741.03" width="11" height="5.69" fill="#ff2020" stroke="#555" stroke-width="0.25"/>
<rect x="544.5" y="701.32" width="11" height="39.71" fill="#7a7a4a" stroke="#555" stroke-width="0.25"/>
<rect x="544.5" y="686.09" width="11" height="15.24" fill="#6e9e3e" stroke="#555" stroke-width="0.25"/>
<rect x="544.5" y="680.7" width="11" height="5.39" fill="#c8bc82" stroke="#555" stroke-width="0.25"/>
<rect x="560.15" y="815.98" width="11" height="18.62" fill="#d08830" stroke="#555" stroke-width="0.25"/>
<rect x="560.15" y="811.51" width="11" height="4.46" fill="#4a4a60" stroke="#555" stroke-width="0.25"/>
<rect x="560.15" y="809.21" width="11" height="2.31" fill="#e8a0f8" stroke="#555" stroke-width="0.25"/>
<rect x="560.15" y="796.12" width="11" height="13.08" fill="#e8a0a8" stroke="#555" stroke-width="0.25"/>
<rect x="560.15" y="793.51" width="11" height="2.62" fill="#906090" stroke="#555" stroke-width="0.25"/>
<rect x="560.15" y="791.05" width="11" height="2.46" fill="#e0d840" stroke="#555" stroke-width="0.25"/>
<rect x="560.15" y="764.11" width="11" height="26.93" fill="#d03838" stroke="#555" stroke-width="0.25"/>
<rect x="560.15" y="749.65" width="11" height="14.47" fill="#d8d838" stroke="#555" stroke-width="0.25"/>
<rect x="560.15" y="737.8" width="11" height="11.85" fill="#2e7a98" stroke="#555" stroke-width="0.25"/>
<rect x="560.15" y="724.72" width="11" height="13.08" fill="#40c030" stroke="#555" stroke-width="0.25"/>
<rect x="560.15" y="716.1" width="11" height="8.62" fill="#a8d0a0" stroke="#555" stroke-width="0.25"/>
<rect x="560.15" y="714.25" width="11" height="1.85" fill="#ff2020" stroke="#555" stroke-width="0.25"/>
<rect x="560.15" y="693.17" width="11" height="21.08" fill="#7a7a4a" stroke="#555" stroke-width="0.25"/>
<rect x="560.15" y="687.93" width="11" height="5.23" fill="#6e9e3e" stroke="#555" stroke-width="0.25"/>
<rect x="560.15" y="680.7" width="11" height="7.23" fill="#c8bc82" stroke="#555" stroke-width="0.25"/>
<rect x="575.8" y="818.9" width="11" height="15.7" fill="#d08830" stroke="#555" stroke-width="0.25"/>
<rect x="575.8" y="816.59" width="11" height="2.31" fill="#906090" stroke="#555" stroke-width="0.25"/>
<rect x="575.8" y="815.52" width="11" height="1.08" fill="#2a7a5a" stroke="#555" stroke-width="0.25"/>
<rect x="575.8" y="789.2" width="11" height="26.32" fill="#d03838" stroke="#555" stroke-width="0.25"/>
<rect x="575.8" y="769.96" width="11" height="19.24" fill="#d8d838" stroke="#555" stroke-width="0.25"/>
<rect x="575.8" y="731.64" width="11" height="38.32" fill="#2e7a98" stroke="#555" stroke-width="0.25"/>
<rect x="575.8" y="729.79" width="11" height="1.85" fill="#40c030" stroke="#555" stroke-width="0.25"/>
<rect x="575.8" y="708.09" width="11" height="21.7" fill="#a8d0a0" stroke="#555" stroke-width="0.25"/>
<rect x="575.8" y="703.48" width="11" height="4.62" fill="#ff2020" stroke="#555" stroke-width="0.25"/>
<rect x="575.8" y="690.4" width="11" height="13.08" fill="#7a7a4a" stroke="#555" stroke-width="0.25"/>
<rect x="575.8" y="684.24" width="11" height="6.16" fill="#6e9e3e" stroke="#555" stroke-width="0.25"/>
<rect x="575.8" y="680.7" width="11" height="3.54" fill="#c8bc82" stroke="#555" stroke-width="0.25"/>
<rect x="591.45" y="818.9" width="11" height="15.7" fill="#d08830" stroke="#555" stroke-width="0.25"/>
<rect x="591.45" y="815.98" width="11" height="2.92" fill="#906090" stroke="#555" stroke-width="0.25"/>
<rect x="591.45" y="814.59" width="11" height="1.39" fill="#2a7a5a" stroke="#555" stroke-width="0.25"/>
<rect x="591.45" y="778.12" width="11" height="36.47" fill="#d03838" stroke="#555" stroke-width="0.25"/>
<rect x="591.45" y="753.49" width="11" height="24.62" fill="#d8d838" stroke="#555" stroke-width="0.25"/>
<rect x="591.45" y="735.8" width="11" height="17.7" fill="#2e7a98" stroke="#555" stroke-width="0.25"/>
<rect x="591.45" y="708.86" width="11" height="26.93" fill="#a8d0a0" stroke="#555" stroke-width="0.25"/>
<rect x="591.45" y="705.02" width="11" height="3.85" fill="#ff2020" stroke="#555" stroke-width="0.25"/>
<rect x="591.45" y="691.63" width="11" height="13.39" fill="#7a7a4a" stroke="#555" stroke-width="0.25"/>
<rect x="591.45" y="685.32" width="11" height="6.31" fill="#6e9e3e" stroke="#555" stroke-width="0.25"/>
<rect x="591.45" y="680.7" width="11" height="4.62" fill="#c8bc82" stroke="#555" stroke-width="0.25"/>
<rect x="479.9" y="676.8" width="125.8" height="160" fill="none" stroke="#444" stroke-width="0.6"/>
<text x="478" y="835.9" font-size="3.9" fill="#444" text-anchor="end" >0</text>
<path d="M478.5,834.6 L479.9,834.6" stroke="#444" stroke-width="0.4"/>
<text x="478" y="797.42" font-size="3.9" fill="#444" text-anchor="end" >25%</text>
<path d="M478.5,796.12 L479.9,796.12" stroke="#444" stroke-width="0.4"/>
<text x="478" y="758.95" font-size="3.9" fill="#444" text-anchor="end" >50%</text>
<path d="M478.5,757.65 L479.9,757.65" stroke="#444" stroke-width="0.4"/>
<text x="478" y="720.48" font-size="3.9" fill="#444" text-anchor="end" >75%</text>
<path d="M478.5,719.18 L479.9,719.18" stroke="#444" stroke-width="0.4"/>
<text x="478" y="682" font-size="3.9" fill="#444" text-anchor="end" >100%</text>
<path d="M478.5,680.7 L479.9,680.7" stroke="#444" stroke-width="0.4"/>
<text x="487.4" y="842.6" font-size="3.7" fill="#444" text-anchor="middle" >uninjured</text>
<text x="503.05" y="842.6" font-size="3.7" fill="#444" text-anchor="middle" >6 hpa</text>
<text x="518.7" y="842.6" font-size="3.7" fill="#444" text-anchor="middle" >12 hpa</text>
<text x="534.35" y="842.6" font-size="3.7" fill="#444" text-anchor="middle" >1 dpa</text>
<text x="550" y="842.6" font-size="3.7" fill="#444" text-anchor="middle" >3 dpa</text>
<text x="565.65" y="842.6" font-size="3.7" fill="#444" text-anchor="middle" >7 dpa</text>
<text x="581.3" y="842.6" font-size="3.7" fill="#444" text-anchor="middle" >14 dpa</text>
<text x="596.95" y="842.6" font-size="3.7" fill="#444" text-anchor="middle" >28 dpa</text>
<text x="0" y="0" font-size="6.6" fill="#111" text-anchor="middle" transform="translate(464.5,757) rotate(-90)">Cell ratio</text>
<rect x="620" y="693" width="62.5" height="7.3" fill="#e4e4e4" />
<rect x="620" y="707.86" width="62.5" height="7.3" fill="#e4e4e4" />
<rect x="620" y="722.72" width="62.5" height="7.3" fill="#e4e4e4" />
<rect x="620" y="730.15" width="62.5" height="7.3" fill="#e4e4e4" />
<rect x="620" y="745.01" width="62.5" height="7.3" fill="#e4e4e4" />
<rect x="620" y="752.44" width="62.5" height="7.3" fill="#e4e4e4" />
<rect x="620" y="759.87" width="62.5" height="7.3" fill="#e4e4e4" />
<rect x="620" y="767.3" width="62.5" height="7.3" fill="#e4e4e4" />
<rect x="620" y="774.73" width="62.5" height="7.3" fill="#e4e4e4" />
<rect x="620" y="789.59" width="62.5" height="7.3" fill="#e4e4e4" />
<rect x="620" y="811.88" width="62.5" height="7.3" fill="#e4e4e4" />
<rect x="620" y="819.31" width="62.5" height="7.3" fill="#e4e4e4" />
<circle cx="613.8" cy="696.6" r="2.4" fill="#c8bc82"/>
<text x="621" y="698.8" font-size="6.2" fill="#222" text-anchor="start" >Epicardium (A)</text>
<circle cx="613.8" cy="704.03" r="2.4" fill="#6e9e3e"/>
<text x="621" y="706.23" font-size="6.2" fill="#222" text-anchor="start" >Epicardium (<tspan font-style="italic">podxl</tspan>)</text>
<circle cx="613.8" cy="711.46" r="2.4" fill="#7a7a4a"/>
<text x="621" y="713.66" font-size="6.2" fill="#222" text-anchor="start" >Epicardium (V)</text>
<circle cx="613.8" cy="718.89" r="2.4" fill="#ff2020"/>
<text x="621" y="721.09" font-size="6.2" fill="#222" text-anchor="start" >Fibroblasts (<tspan font-style="italic">atas2</tspan>)</text>
<circle cx="613.8" cy="726.32" r="2.4" fill="#a8d0a0"/>
<text x="621" y="728.52" font-size="6.2" fill="#222" text-anchor="start" >Fibroblasts (<tspan font-style="italic">cfd</tspan>)</text>
<circle cx="613.8" cy="733.75" r="2.4" fill="#40c030"/>
<text x="621" y="735.95" font-size="6.2" fill="#222" text-anchor="start" >Fibroblasts (<tspan font-style="italic">col12a1a</tspan>)</text>
<circle cx="613.8" cy="741.18" r="2.4" fill="#2e7a98"/>
<text x="621" y="743.38" font-size="6.2" fill="#222" text-anchor="start" >Fibroblasts (<tspan font-style="italic">col18a1b</tspan>)</text>
<circle cx="613.8" cy="748.61" r="2.4" fill="#d8d838"/>
<text x="621" y="750.81" font-size="6.2" fill="#222" text-anchor="start" >Fibroblasts (const.)</text>
<circle cx="613.8" cy="756.04" r="2.4" fill="#d03838"/>
<text x="621" y="758.24" font-size="6.2" fill="#222" text-anchor="start" >Fibroblasts (<tspan font-style="italic">cxcl12a</tspan>)</text>
<circle cx="613.8" cy="763.47" r="2.4" fill="#dcdcd0"/>
<text x="621" y="765.67" font-size="6.2" fill="#222" text-anchor="start" >Fibroblasts (<tspan font-style="italic">mpeg1.1</tspan>)</text>
<circle cx="613.8" cy="770.9" r="2.4" fill="#283c90"/>
<text x="621" y="773.1" font-size="6.2" fill="#222" text-anchor="start" >Fibroblasts (prolif.)</text>
<circle cx="613.8" cy="778.33" r="2.4" fill="#e0d840"/>
<text x="621" y="780.53" font-size="6.2" fill="#222" text-anchor="start" >Fibroblasts (<tspan font-style="italic">ptprc</tspan>)</text>
<circle cx="613.8" cy="785.76" r="2.4" fill="#2a7a5a"/>
<text x="621" y="787.96" font-size="6.2" fill="#222" text-anchor="start" >Fibroblasts (<tspan font-style="italic">scn4ab</tspan>)</text>
<circle cx="613.8" cy="793.19" r="2.4" fill="#906090"/>
<text x="621" y="795.39" font-size="6.2" fill="#222" text-anchor="start" >Fibroblasts (<tspan font-style="italic">spock3</tspan>)</text>
<circle cx="613.8" cy="800.62" r="2.4" fill="#e8a0a8"/>
<text x="621" y="802.82" font-size="6.2" fill="#222" text-anchor="start" >Fibroblasts (<tspan font-style="italic">steap4</tspan>)</text>
<circle cx="613.8" cy="808.05" r="2.4" fill="#e8a0f8"/>
<text x="621" y="810.25" font-size="6.2" fill="#222" text-anchor="start" >Fibroblasts (<tspan font-style="italic">txn</tspan>)</text>
<circle cx="613.8" cy="815.48" r="2.4" fill="#4a4a60"/>
<text x="621" y="817.68" font-size="6.2" fill="#222" text-anchor="start" >Perivascular cells</text>
<circle cx="613.8" cy="822.91" r="2.4" fill="#d08830"/>
<text x="621" y="825.11" font-size="6.2" fill="#222" text-anchor="start" >Valve fibroblasts</text>
</svg>
</body></html>
